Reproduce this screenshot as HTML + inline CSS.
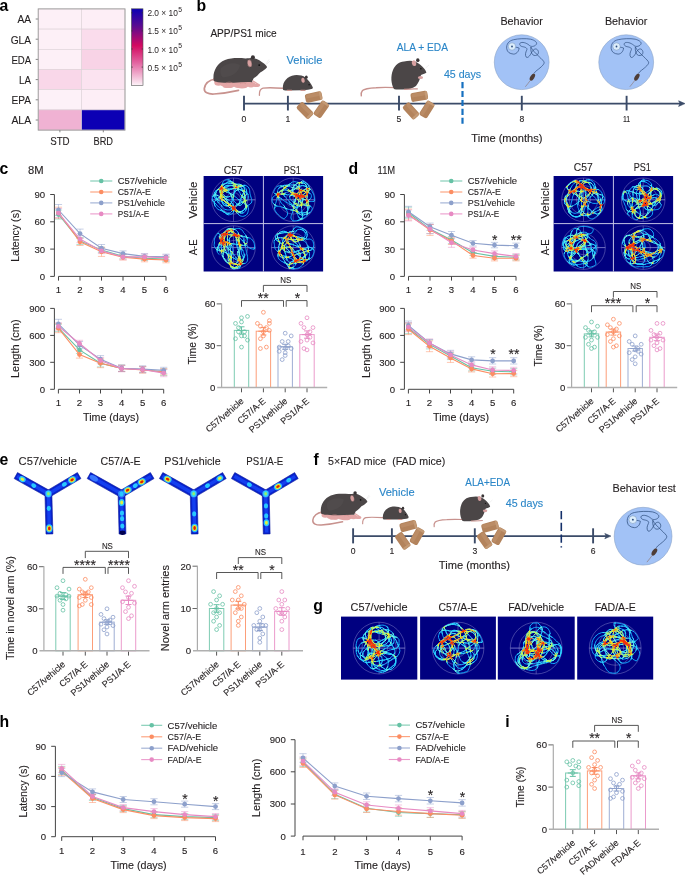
<!DOCTYPE html>
<html><head><meta charset="utf-8"><style>
html,body{margin:0;padding:0;background:#fff;overflow:hidden;}
svg{display:block;will-change:transform;}
text{font-family:"Liberation Sans", sans-serif;}
</style></head><body>
<svg width="685" height="877" viewBox="0 0 685 877">
<rect width="685" height="877" fill="#fff"/>
<text x="-0.4" y="10.8" font-size="15.8" font-weight="bold" fill="#000">a</text>
<rect x="38.2" y="8.9" width="43.4" height="20.2" fill="#fdf0f7" stroke="#ddd2d8" stroke-width="0.6"/>
<rect x="81.6" y="8.9" width="43.4" height="20.2" fill="#fdeef6" stroke="#ddd2d8" stroke-width="0.6"/>
<line x1="35.7" y1="19.0" x2="38.2" y2="19.0" stroke="#777" stroke-width="0.9"/>
<text x="31.1" y="23.3" font-size="11" text-anchor="end" textLength="13.6" lengthAdjust="spacingAndGlyphs" fill="#231f20" stroke="#231f20" stroke-width="0.12">AA</text>
<rect x="38.2" y="29.1" width="43.4" height="20.2" fill="#fdf0f7" stroke="#ddd2d8" stroke-width="0.6"/>
<rect x="81.6" y="29.1" width="43.4" height="20.2" fill="#fadcec" stroke="#ddd2d8" stroke-width="0.6"/>
<line x1="35.7" y1="39.2" x2="38.2" y2="39.2" stroke="#777" stroke-width="0.9"/>
<text x="31.1" y="43.5" font-size="11" text-anchor="end" textLength="20.4" lengthAdjust="spacingAndGlyphs" fill="#231f20" stroke="#231f20" stroke-width="0.12">GLA</text>
<rect x="38.2" y="49.3" width="43.4" height="20.2" fill="#fdf0f7" stroke="#ddd2d8" stroke-width="0.6"/>
<rect x="81.6" y="49.3" width="43.4" height="20.2" fill="#f8d3e6" stroke="#ddd2d8" stroke-width="0.6"/>
<line x1="35.7" y1="59.4" x2="38.2" y2="59.4" stroke="#777" stroke-width="0.9"/>
<text x="31.1" y="63.7" font-size="11" text-anchor="end" textLength="19.7" lengthAdjust="spacingAndGlyphs" fill="#231f20" stroke="#231f20" stroke-width="0.12">EDA</text>
<rect x="38.2" y="69.5" width="43.4" height="20.2" fill="#f9d7e9" stroke="#ddd2d8" stroke-width="0.6"/>
<rect x="81.6" y="69.5" width="43.4" height="20.2" fill="#fbe3f0" stroke="#ddd2d8" stroke-width="0.6"/>
<line x1="35.7" y1="79.6" x2="38.2" y2="79.6" stroke="#777" stroke-width="0.9"/>
<text x="31.1" y="83.9" font-size="11" text-anchor="end" textLength="12.0" lengthAdjust="spacingAndGlyphs" fill="#231f20" stroke="#231f20" stroke-width="0.12">LA</text>
<rect x="38.2" y="89.7" width="43.4" height="20.2" fill="#fdf1f8" stroke="#ddd2d8" stroke-width="0.6"/>
<rect x="81.6" y="89.7" width="43.4" height="20.2" fill="#fdeef6" stroke="#ddd2d8" stroke-width="0.6"/>
<line x1="35.7" y1="99.8" x2="38.2" y2="99.8" stroke="#777" stroke-width="0.9"/>
<text x="31.1" y="104.1" font-size="11" text-anchor="end" textLength="19.5" lengthAdjust="spacingAndGlyphs" fill="#231f20" stroke="#231f20" stroke-width="0.12">EPA</text>
<rect x="38.2" y="109.9" width="43.4" height="20.2" fill="#f0b2d3" stroke="#ddd2d8" stroke-width="0.6"/>
<rect x="81.6" y="109.9" width="43.4" height="20.2" fill="#0c00b4" stroke="#ddd2d8" stroke-width="0.6"/>
<line x1="35.7" y1="120.0" x2="38.2" y2="120.0" stroke="#777" stroke-width="0.9"/>
<text x="31.1" y="124.3" font-size="11" text-anchor="end" textLength="19.7" lengthAdjust="spacingAndGlyphs" fill="#231f20" stroke="#231f20" stroke-width="0.12">ALA</text>
<rect x="38.2" y="8.9" width="86.8" height="121.2" fill="none" stroke="#9a9a9a" stroke-width="0.9"/>
<line x1="59.9" y1="130.1" x2="59.9" y2="132.3" stroke="#777" stroke-width="0.9"/>
<text x="59.9" y="145.2" font-size="11" text-anchor="middle" textLength="19.5" lengthAdjust="spacingAndGlyphs" fill="#231f20" stroke="#231f20" stroke-width="0.12">STD</text>
<line x1="103.3" y1="130.1" x2="103.3" y2="132.3" stroke="#777" stroke-width="0.9"/>
<text x="103.3" y="145.2" font-size="11" text-anchor="middle" textLength="19.5" lengthAdjust="spacingAndGlyphs" fill="#231f20" stroke="#231f20" stroke-width="0.12">BRD</text>
<defs><linearGradient id="cb" x1="0" y1="0" x2="0" y2="1"><stop offset="0" stop-color="#0c00b4"/><stop offset="0.22" stop-color="#580a92"/><stop offset="0.48" stop-color="#d20a60"/><stop offset="0.7" stop-color="#e2629f"/><stop offset="1" stop-color="#fdf2f8"/></linearGradient></defs>
<rect x="131.4" y="8.8" width="11.6" height="76.5" fill="url(#cb)" stroke="#555" stroke-width="0.6"/>
<line x1="131.4" y1="12.8" x2="132.8" y2="12.8" stroke="#333" stroke-width="0.7"/>
<line x1="141.6" y1="12.8" x2="143.0" y2="12.8" stroke="#333" stroke-width="0.7"/>
<text x="147.4" y="16.3" font-size="9.6" fill="#231f20" textLength="30.5" lengthAdjust="spacingAndGlyphs">2.0 × 10</text>
<text x="178.3" y="12.2" font-size="6.8" fill="#231f20">5</text>
<line x1="131.4" y1="30.9" x2="132.8" y2="30.9" stroke="#333" stroke-width="0.7"/>
<line x1="141.6" y1="30.9" x2="143.0" y2="30.9" stroke="#333" stroke-width="0.7"/>
<text x="147.4" y="34.4" font-size="9.6" fill="#231f20" textLength="30.5" lengthAdjust="spacingAndGlyphs">1.5 × 10</text>
<text x="178.3" y="30.3" font-size="6.8" fill="#231f20">5</text>
<line x1="131.4" y1="49.0" x2="132.8" y2="49.0" stroke="#333" stroke-width="0.7"/>
<line x1="141.6" y1="49.0" x2="143.0" y2="49.0" stroke="#333" stroke-width="0.7"/>
<text x="147.4" y="52.5" font-size="9.6" fill="#231f20" textLength="30.5" lengthAdjust="spacingAndGlyphs">1.0 × 10</text>
<text x="178.3" y="48.4" font-size="6.8" fill="#231f20">5</text>
<line x1="131.4" y1="67.1" x2="132.8" y2="67.1" stroke="#333" stroke-width="0.7"/>
<line x1="141.6" y1="67.1" x2="143.0" y2="67.1" stroke="#333" stroke-width="0.7"/>
<text x="147.4" y="70.6" font-size="9.6" fill="#231f20" textLength="30.5" lengthAdjust="spacingAndGlyphs">0.5 × 10</text>
<text x="178.3" y="66.5" font-size="6.8" fill="#231f20">5</text>
<text x="196.5" y="11.1" font-size="15.8" font-weight="bold" fill="#000">b</text>
<text x="210.4" y="37.3" font-size="10.2" textLength="66.2" lengthAdjust="spacingAndGlyphs" fill="#231f20" stroke="#231f20" stroke-width="0.12">APP/PS1 mice</text>
<line x1="244.0" y1="103.6" x2="681.0" y2="103.6" stroke="#3b4b68" stroke-width="1.75"/>
<polygon points="685,103.6 678.6,100.8 680,103.6 678.6,106.39999999999999" fill="#3b4b68" stroke="#3b4b68" stroke-width="0.6" stroke-linejoin="round"/>
<line x1="244.0" y1="95.8" x2="244.0" y2="110.5" stroke="#3b4b68" stroke-width="1.9"/>
<text x="244.0" y="121.6" font-size="8.6" text-anchor="middle" fill="#231f20" stroke="#231f20" stroke-width="0.12">0</text>
<line x1="287.9" y1="95.8" x2="287.9" y2="110.5" stroke="#3b4b68" stroke-width="1.9"/>
<text x="287.9" y="121.6" font-size="8.6" text-anchor="middle" fill="#231f20" stroke="#231f20" stroke-width="0.12">1</text>
<line x1="399.0" y1="95.8" x2="399.0" y2="110.5" stroke="#3b4b68" stroke-width="1.9"/>
<text x="399.0" y="121.6" font-size="8.6" text-anchor="middle" fill="#231f20" stroke="#231f20" stroke-width="0.12">5</text>
<line x1="521.8" y1="95.8" x2="521.8" y2="110.5" stroke="#3b4b68" stroke-width="1.9"/>
<text x="521.8" y="121.6" font-size="8.6" text-anchor="middle" fill="#231f20" stroke="#231f20" stroke-width="0.12">8</text>
<line x1="626.6" y1="95.8" x2="626.6" y2="110.5" stroke="#3b4b68" stroke-width="1.9"/>
<text x="626.6" y="121.6" font-size="8.6" text-anchor="middle" textLength="7.2" lengthAdjust="spacingAndGlyphs" fill="#231f20" stroke="#231f20" stroke-width="0.12">11</text>
<text x="471.3" y="141.5" font-size="10.2" textLength="71.2" lengthAdjust="spacingAndGlyphs" fill="#231f20" stroke="#231f20" stroke-width="0.12">Time (months)</text>
<path d="M215.5,79 C209,80 205,84 204.3,88.5 C204,92.5 208,94.3 214,94 C222,93.5 230,92.2 238.5,90.3" fill="none" stroke="#c8928e" stroke-width="1.7" stroke-linecap="round"/><ellipse cx="218.5" cy="82.5" rx="4.2" ry="3.2" fill="#e3a6a6"/><ellipse cx="224.5" cy="83.3" rx="4.6" ry="3.6" fill="#e3a6a6"/><ellipse cx="231" cy="84" rx="4.8" ry="3.6" fill="#e3a6a6"/><ellipse cx="238" cy="84.6" rx="5" ry="3.4" fill="#e3a6a6"/><ellipse cx="245" cy="84.2" rx="4.8" ry="3.4" fill="#e3a6a6"/><ellipse cx="251" cy="84.6" rx="4.2" ry="2.8" fill="#e3a6a6"/><ellipse cx="256.5" cy="85.3" rx="3.6" ry="1.8" fill="#e3a6a6"/><ellipse cx="216" cy="79.5" rx="3" ry="2" fill="#e3a6a6"/><ellipse cx="228" cy="86.5" rx="5" ry="1.5" fill="#e3a6a6"/><ellipse cx="242" cy="87" rx="5" ry="1.4" fill="#e3a6a6"/><path d="M213.6,80 C212.6,72 216.5,63.5 225,60 C231,57.6 239,57.8 245.5,58.4 C249,58.4 251,57.9 253,58.1 C257,58.6 261,61.1 264,63.6 C265.8,65.1 267.3,66.6 266.9,67.5 C265,69.6 262.6,71.2 260.2,72.4 C258.3,74.8 255.6,77 253.5,78.6 L252,82.2 C246,81.8 240,82.5 234,82.8 C228,83 222,82.5 218,82.2 C215.3,81.8 213.7,81.2 213.6,80 Z" fill="#4b4647"/><path d="M221,68 C226,63 235,62 240,65 C239,72 232,77 223,77.5 C220,75 220,71 221,68 Z" fill="#575152" opacity="0.45"/><ellipse cx="252.9" cy="57.3" rx="2" ry="2" fill="#3a3536"/><ellipse cx="249.6" cy="63.4" rx="2.4" ry="3.8" fill="#d8a0a0" stroke="#3e393a" stroke-width="0.5" transform="rotate(-12 249.6 63.4)"/><circle cx="259.2" cy="65.1" r="0.95" fill="#111"/><path d="M266,64 L269,59.5 M266.5,64.5 L270,61" stroke="#d8d8d8" stroke-width="0.4"/><path d="M226,83 C228,81.8 231,81.8 232.5,83 M240,83.5 C242,82.5 245,82.6 246,84" stroke="#c98686" stroke-width="0.5" fill="none"/><path d="M253,81 L258.5,84.5" stroke="#e3a6a6" stroke-width="1.4" stroke-linecap="round"/>
<path d="M283.5,88.3 C276,87.8 268,87.2 263,88.2 C260,89 259.2,91.5 259.4,95.3" fill="none" stroke="#c8928e" stroke-width="1.3" stroke-linecap="round"/><path d="M283,89.5 C282,84 285,78 292,75.7 C297,74.4 302,75.4 305.5,77.4 C308.2,79.5 311,83.4 312.9,87.4 L312.4,88.8 C310,89.5 306,90 303,90.3 L287,90.5 C284.5,90.5 283,90.2 283,89.5 Z" fill="#4b4647"/><ellipse cx="306.3" cy="77.2" rx="1.4" ry="1.6" fill="#3a3536"/><ellipse cx="303" cy="80.3" rx="1.7" ry="2.5" fill="#d8a0a0" transform="rotate(-12 303 80.3)"/><circle cx="309.1" cy="84.8" r="0.7" fill="#111"/><path d="M287,90.4 h5 M300.5,90.4 h5" stroke="#c8928e" stroke-width="1.1"/>
<path d="M395,87.6 C388,87.3 381,87.3 376,87.7 C370,88 364.5,88.6 362.5,90.5 C361.2,92 361,94 361.3,95.8" fill="none" stroke="#c8928e" stroke-width="1.4" stroke-linecap="round"/><path d="M394,89 C391,84 390.5,76 393,70 C395,65 399,62 404,61.5 C408,60.5 412,60.5 415,61.5 C419,63 422,66 424.5,69 C425.5,70.5 426.5,72 426.3,72.8 C424.5,74 422.5,74.5 421,75 C420,79 418.5,83 416,86 C413,88.5 408,89.5 403,89.5 L396,89.5 C395,89.5 394.3,89.3 394,89 Z" fill="#4b4647"/><ellipse cx="417.8" cy="60.2" rx="1.7" ry="1.9" fill="#3a3536"/><ellipse cx="414" cy="63.2" rx="2.1" ry="2.9" fill="#d8a0a0" transform="rotate(-15 414 63.2)"/><circle cx="420.9" cy="68.8" r="0.75" fill="#111"/><ellipse cx="420.5" cy="77.5" rx="2.6" ry="1.6" fill="#d9a3a3"/><path d="M404,89.3 C408,89.3 413,89 417.8,88.8" stroke="#c8928e" stroke-width="1.2" fill="none"/><path d="M425.5,68 L429,65" stroke="#d8d8d8" stroke-width="0.4"/>
<text x="286.4" y="63.6" font-size="11.2" textLength="36.0" lengthAdjust="spacingAndGlyphs" fill="#2a86c8" stroke="#2a86c8" stroke-width="0.12">Vehicle</text>
<text x="396.8" y="51.2" font-size="11.2" textLength="51.2" lengthAdjust="spacingAndGlyphs" fill="#2a86c8" stroke="#2a86c8" stroke-width="0.12">ALA + EDA</text>
<text x="443.9" y="77.5" font-size="10.8" textLength="37.3" lengthAdjust="spacingAndGlyphs" fill="#2a86c8" stroke="#2a86c8" stroke-width="0.12">45 days</text>
<line x1="462.5" y1="82.1" x2="462.5" y2="123.8" stroke="#1670c0" stroke-width="2.2" stroke-dasharray="6.1,2.8"/>
<circle cx="521.7" cy="62.2" r="27.4" fill="#a2c2f6" stroke="#8aa2c8" stroke-width="0.6"/>
<g transform="translate(521.7,62.2) scale(1.000)">
<path d="M-9.7,-15.7 C-6,-15 -3,-14.5 -2.6,-14.2 C-3,-10 -6,-8 -8.2,-8.1 C-12,-8.5 -14.5,-10 -15,-13.5 C-15.5,-18 -13,-21.5 -8,-22.5 C-4,-23.5 4,-24 9,-23 C13,-22 15.5,-20 14.8,-18.3 C14,-16 10,-15 8,-16.5 C6,-18.5 2,-20.5 -1,-19.5 C-3,-18.5 -2,-16 1,-15.5 C4,-15 6,-14 5,-12 C4,-10 3,-7 4.6,-5 C6,-4 8,-6 9.5,-9 C11,-12 13,-14 15,-13 C17.5,-11.5 17,-8 15.3,-7.2 C13.5,-6.2 11,-6.5 10,-9 C9,-11 9,-14 9.2,-15.2 C10.5,-12 14,-9 17,-6 C20,-3 22.5,-1 22.5,0.6 C22,3 18,6 13.8,9.3 L12.5,11" fill="none" stroke="#2c4c7c" stroke-width="0.7"/>
<circle cx="-9.7" cy="-15.7" r="3.7" fill="#dcedfb" stroke="#7090b8" stroke-width="0.5"/>
<circle cx="-9.7" cy="-15.7" r="0.9" fill="#2c4c7c"/>
<ellipse cx="10.7" cy="14.9" rx="2" ry="3.9" fill="#4e3d37" transform="rotate(32 10.7 14.9)"/>
<path d="M8.6,18.2 C7,20.5 5.2,22.6 3.6,24.6" stroke="#8a6a60" stroke-width="0.55" fill="none"/>
</g>
<text x="521.7" y="25.0" font-size="10.6" text-anchor="middle" textLength="42.5" lengthAdjust="spacingAndGlyphs" fill="#231f20" stroke="#231f20" stroke-width="0.12">Behavior</text>
<circle cx="626.2" cy="62.2" r="27.4" fill="#a2c2f6" stroke="#8aa2c8" stroke-width="0.6"/>
<g transform="translate(626.2,62.2) scale(1.000)">
<path d="M-9.7,-15.7 C-6,-15 -3,-14.5 -2.6,-14.2 C-3,-10 -6,-8 -8.2,-8.1 C-12,-8.5 -14.5,-10 -15,-13.5 C-15.5,-18 -13,-21.5 -8,-22.5 C-4,-23.5 4,-24 9,-23 C13,-22 15.5,-20 14.8,-18.3 C14,-16 10,-15 8,-16.5 C6,-18.5 2,-20.5 -1,-19.5 C-3,-18.5 -2,-16 1,-15.5 C4,-15 6,-14 5,-12 C4,-10 3,-7 4.6,-5 C6,-4 8,-6 9.5,-9 C11,-12 13,-14 15,-13 C17.5,-11.5 17,-8 15.3,-7.2 C13.5,-6.2 11,-6.5 10,-9 C9,-11 9,-14 9.2,-15.2 C10.5,-12 14,-9 17,-6 C20,-3 22.5,-1 22.5,0.6 C22,3 18,6 13.8,9.3 L12.5,11" fill="none" stroke="#2c4c7c" stroke-width="0.7"/>
<circle cx="-9.7" cy="-15.7" r="3.7" fill="#dcedfb" stroke="#7090b8" stroke-width="0.5"/>
<circle cx="-9.7" cy="-15.7" r="0.9" fill="#2c4c7c"/>
<ellipse cx="10.7" cy="14.9" rx="2" ry="3.9" fill="#4e3d37" transform="rotate(32 10.7 14.9)"/>
<path d="M8.6,18.2 C7,20.5 5.2,22.6 3.6,24.6" stroke="#8a6a60" stroke-width="0.55" fill="none"/>
</g>
<text x="626.2" y="25.0" font-size="10.6" text-anchor="middle" textLength="42.5" lengthAdjust="spacingAndGlyphs" fill="#231f20" stroke="#231f20" stroke-width="0.12">Behavior</text>
<g transform="translate(313.7,97.0) rotate(-12)"><rect x="-8.5" y="-4.5" width="17.0" height="9.0" rx="2.2" fill="#b3835c"/><rect x="-7.5" y="-3.7" width="14.0" height="3.7" rx="1.5" fill="#c0926c" opacity="0.6"/><rect x="5.9" y="-4.2" width="2.2" height="8.4" rx="1.1" fill="#c8a07c" opacity="0.8"/></g>
<g transform="translate(305.0,110.5) rotate(45)"><rect x="-8.5" y="-4.5" width="17.0" height="9.0" rx="2.2" fill="#b3835c"/><rect x="-7.5" y="-3.7" width="14.0" height="3.7" rx="1.5" fill="#c0926c" opacity="0.6"/><rect x="5.9" y="-4.2" width="2.2" height="8.4" rx="1.1" fill="#c8a07c" opacity="0.8"/></g>
<g transform="translate(321.4,109.3) rotate(-55)"><rect x="-8.5" y="-4.5" width="17.0" height="9.0" rx="2.2" fill="#b3835c"/><rect x="-7.5" y="-3.7" width="14.0" height="3.7" rx="1.5" fill="#c0926c" opacity="0.6"/><rect x="5.9" y="-4.2" width="2.2" height="8.4" rx="1.1" fill="#c8a07c" opacity="0.8"/></g>
<g transform="translate(419.3,96.3) rotate(-10)"><rect x="-8.5" y="-4.5" width="17.0" height="9.0" rx="2.2" fill="#b3835c"/><rect x="-7.5" y="-3.7" width="14.0" height="3.7" rx="1.5" fill="#c0926c" opacity="0.6"/><rect x="5.9" y="-4.2" width="2.2" height="8.4" rx="1.1" fill="#c8a07c" opacity="0.8"/></g>
<g transform="translate(411.0,110.9) rotate(48)"><rect x="-8.5" y="-4.5" width="17.0" height="9.0" rx="2.2" fill="#b3835c"/><rect x="-7.5" y="-3.7" width="14.0" height="3.7" rx="1.5" fill="#c0926c" opacity="0.6"/><rect x="5.9" y="-4.2" width="2.2" height="8.4" rx="1.1" fill="#c8a07c" opacity="0.8"/></g>
<g transform="translate(427.0,109.4) rotate(-58)"><rect x="-8.5" y="-4.5" width="17.0" height="9.0" rx="2.2" fill="#b3835c"/><rect x="-7.5" y="-3.7" width="14.0" height="3.7" rx="1.5" fill="#c0926c" opacity="0.6"/><rect x="5.9" y="-4.2" width="2.2" height="8.4" rx="1.1" fill="#c8a07c" opacity="0.8"/></g>
<text x="-0.6" y="174.3" font-size="15.8" font-weight="bold" fill="#000">c</text>
<text x="28.0" y="174.1" font-size="11" textLength="15.6" lengthAdjust="spacingAndGlyphs" fill="#231f20" stroke="#231f20" stroke-width="0.12">8M</text>
<line x1="54.4" y1="194.5" x2="54.4" y2="276.4" stroke="#444444" stroke-width="1"/>
<line x1="50.2" y1="276.4" x2="54.4" y2="276.4" stroke="#444444" stroke-width="1"/>
<text x="45.2" y="279.8" font-size="9.6" text-anchor="end" fill="#231f20" stroke="#231f20" stroke-width="0.12">0</text>
<line x1="50.2" y1="249.1" x2="54.4" y2="249.1" stroke="#444444" stroke-width="1"/>
<text x="45.2" y="252.5" font-size="9.6" text-anchor="end" fill="#231f20" stroke="#231f20" stroke-width="0.12">30</text>
<line x1="50.2" y1="221.8" x2="54.4" y2="221.8" stroke="#444444" stroke-width="1"/>
<text x="45.2" y="225.2" font-size="9.6" text-anchor="end" fill="#231f20" stroke="#231f20" stroke-width="0.12">60</text>
<line x1="50.2" y1="194.5" x2="54.4" y2="194.5" stroke="#444444" stroke-width="1"/>
<text x="45.2" y="197.9" font-size="9.6" text-anchor="end" fill="#231f20" stroke="#231f20" stroke-width="0.12">90</text>
<line x1="58.5" y1="276.4" x2="166.0" y2="276.4" stroke="#444444" stroke-width="1"/>
<line x1="58.5" y1="276.4" x2="58.5" y2="280.6" stroke="#444444" stroke-width="1"/>
<text x="58.5" y="293.0" font-size="9.6" text-anchor="middle" fill="#231f20" stroke="#231f20" stroke-width="0.12">1</text>
<line x1="80.0" y1="276.4" x2="80.0" y2="280.6" stroke="#444444" stroke-width="1"/>
<text x="80.0" y="293.0" font-size="9.6" text-anchor="middle" fill="#231f20" stroke="#231f20" stroke-width="0.12">2</text>
<line x1="101.5" y1="276.4" x2="101.5" y2="280.6" stroke="#444444" stroke-width="1"/>
<text x="101.5" y="293.0" font-size="9.6" text-anchor="middle" fill="#231f20" stroke="#231f20" stroke-width="0.12">3</text>
<line x1="123.0" y1="276.4" x2="123.0" y2="280.6" stroke="#444444" stroke-width="1"/>
<text x="123.0" y="293.0" font-size="9.6" text-anchor="middle" fill="#231f20" stroke="#231f20" stroke-width="0.12">4</text>
<line x1="144.5" y1="276.4" x2="144.5" y2="280.6" stroke="#444444" stroke-width="1"/>
<text x="144.5" y="293.0" font-size="9.6" text-anchor="middle" fill="#231f20" stroke="#231f20" stroke-width="0.12">5</text>
<line x1="166.0" y1="276.4" x2="166.0" y2="280.6" stroke="#444444" stroke-width="1"/>
<text x="166.0" y="293.0" font-size="9.6" text-anchor="middle" fill="#231f20" stroke="#231f20" stroke-width="0.12">6</text>
<text x="19.4" y="235.7" font-size="11.2" text-anchor="middle" textLength="52.3" lengthAdjust="spacingAndGlyphs" transform="rotate(-90 19.4 235.7)" fill="#231f20" stroke="#231f20" stroke-width="0.12">Latency (s)</text>
<path d="M58.5,219.1V210.0M54.9,219.1h7.2M54.9,210.0h7.2M80.0,244.5V237.3M76.4,244.5h7.2M76.4,237.3h7.2M101.5,252.7V247.3M97.9,252.7h7.2M97.9,247.3h7.2M123.0,258.7V254.1M119.4,258.7h7.2M119.4,254.1h7.2M144.5,260.5V255.9M140.9,260.5h7.2M140.9,255.9h7.2M166.0,261.4V256.8M162.4,261.4h7.2M162.4,256.8h7.2" fill="none" stroke="#66c2a5" stroke-width="0.9" stroke-opacity="0.55"/>
<path d="M58.5,218.2V207.2M54.9,218.2h7.2M54.9,207.2h7.2M80.0,245.5V238.2M76.4,245.5h7.2M76.4,238.2h7.2M101.5,256.4V247.3M97.9,256.4h7.2M97.9,247.3h7.2M123.0,260.0V254.6M119.4,260.0h7.2M119.4,254.6h7.2M144.5,261.8V256.4M140.9,261.8h7.2M140.9,256.4h7.2M166.0,262.8V257.3M162.4,262.8h7.2M162.4,257.3h7.2" fill="none" stroke="#fc8d62" stroke-width="0.9" stroke-opacity="0.55"/>
<path d="M58.5,215.4V204.5M54.9,215.4h7.2M54.9,204.5h7.2M80.0,238.2V229.1M76.4,238.2h7.2M76.4,229.1h7.2M101.5,251.8V244.5M97.9,251.8h7.2M97.9,244.5h7.2M123.0,256.4V250.9M119.4,256.4h7.2M119.4,250.9h7.2M144.5,259.1V253.6M140.9,259.1h7.2M140.9,253.6h7.2M166.0,259.7V254.2M162.4,259.7h7.2M162.4,254.2h7.2" fill="none" stroke="#8da0cb" stroke-width="0.9" stroke-opacity="0.55"/>
<path d="M58.5,217.6V208.5M54.9,217.6h7.2M54.9,208.5h7.2M80.0,242.7V235.4M76.4,242.7h7.2M76.4,235.4h7.2M101.5,253.6V248.2M97.9,253.6h7.2M97.9,248.2h7.2M123.0,259.7V254.2M119.4,259.7h7.2M119.4,254.2h7.2M144.5,259.7V254.2M140.9,259.7h7.2M140.9,254.2h7.2M166.0,260.6V255.1M162.4,260.6h7.2M162.4,255.1h7.2" fill="none" stroke="#e78ac3" stroke-width="0.9" stroke-opacity="0.55"/>
<polyline points="58.5,214.5 80.0,240.9 101.5,250.0 123.0,256.4 144.5,258.2 166.0,259.1" fill="none" stroke="#66c2a5" stroke-width="1.1"/>
<circle cx="58.5" cy="214.5" r="2.4" fill="#66c2a5"/>
<circle cx="80.0" cy="240.9" r="2.4" fill="#66c2a5"/>
<circle cx="101.5" cy="250.0" r="2.4" fill="#66c2a5"/>
<circle cx="123.0" cy="256.4" r="2.4" fill="#66c2a5"/>
<circle cx="144.5" cy="258.2" r="2.4" fill="#66c2a5"/>
<circle cx="166.0" cy="259.1" r="2.4" fill="#66c2a5"/>
<polyline points="58.5,212.7 80.0,241.8 101.5,251.8 123.0,257.3 144.5,259.1 166.0,260.0" fill="none" stroke="#fc8d62" stroke-width="1.1"/>
<circle cx="58.5" cy="212.7" r="2.4" fill="#fc8d62"/>
<circle cx="80.0" cy="241.8" r="2.4" fill="#fc8d62"/>
<circle cx="101.5" cy="251.8" r="2.4" fill="#fc8d62"/>
<circle cx="123.0" cy="257.3" r="2.4" fill="#fc8d62"/>
<circle cx="144.5" cy="259.1" r="2.4" fill="#fc8d62"/>
<circle cx="166.0" cy="260.0" r="2.4" fill="#fc8d62"/>
<polyline points="58.5,210.0 80.0,233.6 101.5,248.2 123.0,253.6 144.5,256.4 166.0,256.9" fill="none" stroke="#8da0cb" stroke-width="1.1"/>
<circle cx="58.5" cy="210.0" r="2.4" fill="#8da0cb"/>
<circle cx="80.0" cy="233.6" r="2.4" fill="#8da0cb"/>
<circle cx="101.5" cy="248.2" r="2.4" fill="#8da0cb"/>
<circle cx="123.0" cy="253.6" r="2.4" fill="#8da0cb"/>
<circle cx="144.5" cy="256.4" r="2.4" fill="#8da0cb"/>
<circle cx="166.0" cy="256.9" r="2.4" fill="#8da0cb"/>
<polyline points="58.5,213.1 80.0,239.1 101.5,250.9 123.0,256.9 144.5,256.9 166.0,257.8" fill="none" stroke="#e78ac3" stroke-width="1.1"/>
<circle cx="58.5" cy="213.1" r="2.4" fill="#e78ac3"/>
<circle cx="80.0" cy="239.1" r="2.4" fill="#e78ac3"/>
<circle cx="101.5" cy="250.9" r="2.4" fill="#e78ac3"/>
<circle cx="123.0" cy="256.9" r="2.4" fill="#e78ac3"/>
<circle cx="144.5" cy="256.9" r="2.4" fill="#e78ac3"/>
<circle cx="166.0" cy="257.8" r="2.4" fill="#e78ac3"/>
<line x1="90.2" y1="181.0" x2="112.3" y2="181.0" stroke="#66c2a5" stroke-width="1.1" stroke-opacity="0.85"/>
<circle cx="101.2" cy="181.0" r="2.3" fill="#66c2a5"/>
<text x="117.7" y="184.2" font-size="9.3" textLength="49.3" lengthAdjust="spacingAndGlyphs" fill="#231f20" stroke="#231f20" stroke-width="0.12">C57/vehicle</text>
<line x1="90.2" y1="192.0" x2="112.3" y2="192.0" stroke="#fc8d62" stroke-width="1.1" stroke-opacity="0.85"/>
<circle cx="101.2" cy="192.0" r="2.3" fill="#fc8d62"/>
<text x="117.7" y="195.2" font-size="9.3" textLength="33.2" lengthAdjust="spacingAndGlyphs" fill="#231f20" stroke="#231f20" stroke-width="0.12">C57/A-E</text>
<line x1="90.2" y1="202.9" x2="112.3" y2="202.9" stroke="#8da0cb" stroke-width="1.1" stroke-opacity="0.85"/>
<circle cx="101.2" cy="202.9" r="2.3" fill="#8da0cb"/>
<text x="117.7" y="206.1" font-size="9.3" textLength="47.3" lengthAdjust="spacingAndGlyphs" fill="#231f20" stroke="#231f20" stroke-width="0.12">PS1/vehicle</text>
<line x1="90.2" y1="213.9" x2="112.3" y2="213.9" stroke="#e78ac3" stroke-width="1.1" stroke-opacity="0.85"/>
<circle cx="101.2" cy="213.9" r="2.3" fill="#e78ac3"/>
<text x="117.7" y="217.1" font-size="9.3" textLength="31.4" lengthAdjust="spacingAndGlyphs" fill="#231f20" stroke="#231f20" stroke-width="0.12">PS1/A-E</text>
<line x1="54.4" y1="308.4" x2="54.4" y2="389.3" stroke="#444444" stroke-width="1"/>
<line x1="50.2" y1="389.3" x2="54.4" y2="389.3" stroke="#444444" stroke-width="1"/>
<text x="45.2" y="392.7" font-size="9.6" text-anchor="end" fill="#231f20" stroke="#231f20" stroke-width="0.12">0</text>
<line x1="50.2" y1="362.3" x2="54.4" y2="362.3" stroke="#444444" stroke-width="1"/>
<text x="45.2" y="365.7" font-size="9.6" text-anchor="end" fill="#231f20" stroke="#231f20" stroke-width="0.12">300</text>
<line x1="50.2" y1="335.4" x2="54.4" y2="335.4" stroke="#444444" stroke-width="1"/>
<text x="45.2" y="338.8" font-size="9.6" text-anchor="end" fill="#231f20" stroke="#231f20" stroke-width="0.12">600</text>
<line x1="50.2" y1="308.4" x2="54.4" y2="308.4" stroke="#444444" stroke-width="1"/>
<text x="45.2" y="311.8" font-size="9.6" text-anchor="end" fill="#231f20" stroke="#231f20" stroke-width="0.12">900</text>
<line x1="58.4" y1="389.3" x2="163.7" y2="389.3" stroke="#444444" stroke-width="1"/>
<line x1="58.4" y1="389.3" x2="58.4" y2="393.5" stroke="#444444" stroke-width="1"/>
<text x="58.4" y="406.3" font-size="9.6" text-anchor="middle" fill="#231f20" stroke="#231f20" stroke-width="0.12">1</text>
<line x1="79.5" y1="389.3" x2="79.5" y2="393.5" stroke="#444444" stroke-width="1"/>
<text x="79.5" y="406.3" font-size="9.6" text-anchor="middle" fill="#231f20" stroke="#231f20" stroke-width="0.12">2</text>
<line x1="100.5" y1="389.3" x2="100.5" y2="393.5" stroke="#444444" stroke-width="1"/>
<text x="100.5" y="406.3" font-size="9.6" text-anchor="middle" fill="#231f20" stroke="#231f20" stroke-width="0.12">3</text>
<line x1="121.6" y1="389.3" x2="121.6" y2="393.5" stroke="#444444" stroke-width="1"/>
<text x="121.6" y="406.3" font-size="9.6" text-anchor="middle" fill="#231f20" stroke="#231f20" stroke-width="0.12">4</text>
<line x1="142.6" y1="389.3" x2="142.6" y2="393.5" stroke="#444444" stroke-width="1"/>
<text x="142.6" y="406.3" font-size="9.6" text-anchor="middle" fill="#231f20" stroke="#231f20" stroke-width="0.12">5</text>
<line x1="163.7" y1="389.3" x2="163.7" y2="393.5" stroke="#444444" stroke-width="1"/>
<text x="163.7" y="406.3" font-size="9.6" text-anchor="middle" fill="#231f20" stroke="#231f20" stroke-width="0.12">6</text>
<text x="111.0" y="421.2" font-size="10.6" text-anchor="middle" textLength="56.0" lengthAdjust="spacingAndGlyphs" fill="#231f20" stroke="#231f20" stroke-width="0.12">Time (days)</text>
<text x="19.4" y="348.7" font-size="11.2" text-anchor="middle" textLength="58.6" lengthAdjust="spacingAndGlyphs" transform="rotate(-90 19.4 348.7)" fill="#231f20" stroke="#231f20" stroke-width="0.12">Length (cm)</text>
<path d="M58.4,331.4V324.2M54.8,331.4h7.2M54.8,324.2h7.2M79.5,353.5V346.3M75.9,353.5h7.2M75.9,346.3h7.2M100.5,366.9V359.7M96.9,366.9h7.2M96.9,359.7h7.2M121.6,371.5V365.2M118.0,371.5h7.2M118.0,365.2h7.2M142.6,372.7V366.4M139.0,372.7h7.2M139.0,366.4h7.2M163.7,375.4V369.1M160.1,375.4h7.2M160.1,369.1h7.2" fill="none" stroke="#66c2a5" stroke-width="0.9" stroke-opacity="0.55"/>
<path d="M58.4,332.7V323.7M54.8,332.7h7.2M54.8,323.7h7.2M79.5,358.1V350.9M75.9,358.1h7.2M75.9,350.9h7.2M100.5,367.7V358.7M96.9,367.7h7.2M96.9,358.7h7.2M121.6,371.5V365.2M118.0,371.5h7.2M118.0,365.2h7.2M142.6,373.1V366.8M139.0,373.1h7.2M139.0,366.8h7.2M163.7,374.9V368.6M160.1,374.9h7.2M160.1,368.6h7.2" fill="none" stroke="#fc8d62" stroke-width="0.9" stroke-opacity="0.55"/>
<path d="M58.4,328.3V319.3M54.8,328.3h7.2M54.8,319.3h7.2M79.5,348.7V341.5M75.9,348.7h7.2M75.9,341.5h7.2M100.5,362.8V355.6M96.9,362.8h7.2M96.9,355.6h7.2M121.6,371.3V365.0M118.0,371.3h7.2M118.0,365.0h7.2M142.6,372.2V365.9M139.0,372.2h7.2M139.0,365.9h7.2M163.7,373.6V367.3M160.1,373.6h7.2M160.1,367.3h7.2" fill="none" stroke="#8da0cb" stroke-width="0.9" stroke-opacity="0.55"/>
<path d="M58.4,330.0V322.8M54.8,330.0h7.2M54.8,322.8h7.2M79.5,346.6V340.3M75.9,346.6h7.2M75.9,340.3h7.2M100.5,363.7V357.4M96.9,363.7h7.2M96.9,357.4h7.2M121.6,371.8V365.5M118.0,371.8h7.2M118.0,365.5h7.2M142.6,372.7V366.4M139.0,372.7h7.2M139.0,366.4h7.2M163.7,376.7V369.5M160.1,376.7h7.2M160.1,369.5h7.2" fill="none" stroke="#e78ac3" stroke-width="0.9" stroke-opacity="0.55"/>
<polyline points="58.4,327.8 79.5,349.9 100.5,363.3 121.6,368.4 142.6,369.5 163.7,372.2" fill="none" stroke="#66c2a5" stroke-width="1.1"/>
<circle cx="58.4" cy="327.8" r="2.4" fill="#66c2a5"/>
<circle cx="79.5" cy="349.9" r="2.4" fill="#66c2a5"/>
<circle cx="100.5" cy="363.3" r="2.4" fill="#66c2a5"/>
<circle cx="121.6" cy="368.4" r="2.4" fill="#66c2a5"/>
<circle cx="142.6" cy="369.5" r="2.4" fill="#66c2a5"/>
<circle cx="163.7" cy="372.2" r="2.4" fill="#66c2a5"/>
<polyline points="58.4,328.2 79.5,354.5 100.5,363.2 121.6,368.4 142.6,370.0 163.7,371.8" fill="none" stroke="#fc8d62" stroke-width="1.1"/>
<circle cx="58.4" cy="328.2" r="2.4" fill="#fc8d62"/>
<circle cx="79.5" cy="354.5" r="2.4" fill="#fc8d62"/>
<circle cx="100.5" cy="363.2" r="2.4" fill="#fc8d62"/>
<circle cx="121.6" cy="368.4" r="2.4" fill="#fc8d62"/>
<circle cx="142.6" cy="370.0" r="2.4" fill="#fc8d62"/>
<circle cx="163.7" cy="371.8" r="2.4" fill="#fc8d62"/>
<polyline points="58.4,323.8 79.5,345.1 100.5,359.2 121.6,368.2 142.6,369.1 163.7,370.4" fill="none" stroke="#8da0cb" stroke-width="1.1"/>
<circle cx="58.4" cy="323.8" r="2.4" fill="#8da0cb"/>
<circle cx="79.5" cy="345.1" r="2.4" fill="#8da0cb"/>
<circle cx="100.5" cy="359.2" r="2.4" fill="#8da0cb"/>
<circle cx="121.6" cy="368.2" r="2.4" fill="#8da0cb"/>
<circle cx="142.6" cy="369.1" r="2.4" fill="#8da0cb"/>
<circle cx="163.7" cy="370.4" r="2.4" fill="#8da0cb"/>
<polyline points="58.4,326.4 79.5,343.5 100.5,360.5 121.6,368.6 142.6,369.5 163.7,373.1" fill="none" stroke="#e78ac3" stroke-width="1.1"/>
<circle cx="58.4" cy="326.4" r="2.4" fill="#e78ac3"/>
<circle cx="79.5" cy="343.5" r="2.4" fill="#e78ac3"/>
<circle cx="100.5" cy="360.5" r="2.4" fill="#e78ac3"/>
<circle cx="121.6" cy="368.6" r="2.4" fill="#e78ac3"/>
<circle cx="142.6" cy="369.5" r="2.4" fill="#e78ac3"/>
<circle cx="163.7" cy="373.1" r="2.4" fill="#e78ac3"/>
<rect x="203.6" y="176.0" width="59.8" height="47.6" fill="#000080"/>
<circle cx="233.5" cy="199.8" r="21.8" fill="none" stroke="#8080c8" stroke-width="0.5"/>
<circle cx="233.5" cy="199.8" r="14.4" fill="none" stroke="#8080c8" stroke-width="0.5"/>
<circle cx="233.5" cy="199.8" r="7.2" fill="none" stroke="#8080c8" stroke-width="0.5"/>
<line x1="211.7" y1="199.8" x2="255.3" y2="199.8" stroke="#b8b8f0" stroke-width="0.6"/>
<line x1="233.5" y1="178.0" x2="233.5" y2="221.6" stroke="#8888d0" stroke-width="0.5"/>
<path d="M234.8,209l-1.3,.1 -1.2-.5 -1.2-.5 -1.3-.4 -1-.9 -1.1-.7 -.9-.9 -1-.9 -1.2-.6 -1.1-.6 -.9-1 -1-.7 -1.3-.4 -1.2-.4 -1.2-.7 -.9-.9 -.7-1.1 -.4-1.2 -.4-1.3 0-1.3 .4-1.2 .5-1.2 .6-1.2 .8-1.1 .9-.9 .9-.9 1.1-.8 1.3,.1 1.1,.7 1.1,.8 1,.8 1.2,.6 1,.8 .9,.9 .9,1 1,.9 1.2,.5 .9,.9 1.3,.4 .9,1 1,.8 1.1,.7 1,.9 .8,1 1.2,.4 1.1,.7 1.1,.8 1,.8 1.2,.5 1,.9 .4,1.2 .3,1.3 -.1,1.3 -.5,1.2 -.8,1.1 -1,.8 -1.1,.6 -1.3,.4 -1.3,.3 -1.3,0 -1.2-.3 -1.1-.8 -.9-.9 -.9-.9 -1-.9 -1-.9 -1-.8 -1-.8 -.9-1 -1.1-.7 -1.1-.6 -.9-1 -1-.9 -1-.8 -1-.8 -1.3-.4 -.8-1 -.8-1 -1-.9 -1.1-.7 -1.2-.6 -1.3-.3 -1.3,.1 -1.2,.5 -.6,.8 -.1,1.2 -.1,1.3 .1,1.3 .6,1.2 .9,1 .9,.9 1.1,.8 .8,1 .8,1 .9,.9 1.1,.7 1,.9 .8,1 1,.9 1.1,.6 .9,1 1,.8 1.3,.5 1.3,0 1.3-.1 1.1-.6 1-.9 .9-1 .6-1.2 .2-1.2 0-1.4 0-1.3 -.2-1.3 -.6-1.1 -1-.9 -.8-1 -1.1-.8 -1.1-.6 -1.2-.5 -1.1-.8 -1.1-.6 -1.2-.5 -1.3-.4 -1-.8 -.6-1.2 -.3-1.3 -.1-1.3 -.1-1.3 .3-1.3 .5-1.1 1.1-.8 1.2-.5 1.1-.7 .9-.9 1.3-.5 1.3-.1 1.3,.1 1.3,0 1.3,.2 1.2,.3 1.2,.6 1.2,.6 1.1,.6 .8,1.1 .4,1.2 .8,1 .9,1 .6,1.2 .5,1.2 .8,1 .8,1 .8,1.1 .8,1 .7,1.1 .4,1.2 .5,1.2 .3,1.3 .6,1.2 .8,1 .8,1.1 .4,1.2 .2,1.3 -.1,1.3 -.3,1.3 -.4,1.2 -.6,1.2 -.9,1 -1.1,.6 -1.2,.5 -1.3,.2 -1.3-.2 -1.3-.4 -1-.8 -.9-1 -.9-.9 -.9-.9 -.7-1.2 -.5-1.1 -.9-1 -1-.9 -.7-1 -1-1 -.9-.9 -.9-.9 -1-.8 -.8-1.1 -.5-1.2 -1-.9 -1-.9 -.7-1.1 -.8-.9 -.8-1.1 -1.1-.7 -.9-1 -.7-1.1 -.3-1.3 -.2-1.2 .2-1.3 .5-1.3 .9-.9 .8-1 .8-1 .9-1 1.2-.6 1.1-.6 1-.9 1.2-.5 1.3,0 1.3,0 1.3,.3 1.2,.6 1,.8 .8,1.1 .3,1.2 -.3,1.3 -.2,1.3 -.1,1.3 -.3,1.3 -.3,1.3 -.7,1.1 -1,.8 -1,.9 -1,.8 -1.2,.6 -1.2,.4 -1.3,.1 -1.3-.3 -1.1-.6 -1-.9 -.9-1 -.7-1.1 -.2-1.3 -.2-1.3 -.4-1.2 .1-1.3 -.1-1.3 .6-1.2 1-.9 1.1-.6 1.2-.5 1.3-.4 1.3-.1 1.2,.4 1.3,0 1.3-.1 1.4,0 1.2,.2 1.3,.4 1.2,.6 1.2,.5 1.1,.6 1.1,.7 .9,1 .7,1.1 .5,1.2 .8,1 1.2,.6 1.1,.6 1.2,.6 .8,1.1 .7,1.1 .3,1.2 .1,1.3 -.1,1.4 -.6,1.1 -.9,1 -1.2,.4 -1.2,.5 -1.2,.5 -1.3,.4 -1.2,.6 -1.1,.6 -1.2,.5 -1.2,.4 -1.2,.7 -.9,.8 -1.1,.8 -1,.9 -.8,1 -1.1,.8 -1.2,.4 -1.3,0 -1.3,0 -1.3-.3 -1.3-.3 -1-.8 -.8-1.1 -.9-.9 -.5-1.2 -1.1-.8 -1.1-.7 -.9-1 -.6-1.1 -.6-1.2 -1-.8 -.8-1.1 -.8-1 -.6-1.2 0-1.3 .3-1.3 .2-1.3 .7-1.1 1-.8 1.1-.7 1.3-.4 1.2-.4 1.1-.6 1.3-.3 1.3-.2 1.2-.5 1.3-.4 1.3-.2 1.1-.7 1.1-.6 1.3-.2 1.4,0 1.2-.3 1.3-.3 1.3-.4 1.3-.1 1.3-.1 1.3,.2 1.2,.4 1.1,.7 1,.9 .8,1.1 .4,1.2 0,1.3 -.3,1.3 -.3,1.2 -.7,1.1 -.4,1.3 -.6,1.1 -.5,1.3 -.5,1.1 -.3,1.3 -.7,1.1 -.5,1.2 -.4,1.3 -1,.9 -.8,1 -1,.8 -.9,.9 -.7,1.2 -.4,1.2 -.5,1.2 -.3,1.3 -.6,1.1 -1,.9 -1.2,.6 -1.3,.3 -1.3,0 -1.2-.3 -1-.9 -.9-.9 -1.3-.5 -1.1-.7 -1.1-.7 -1.2-.5 -1.3-.3 -1.1-.6 -1-.9 -.9-.9 -.8-1.1 -.6-1.2 -.3-1.2 -.1-1.3 .4-1.3 .9-.9 .7-1.1 1-.9 1.2-.6 1.3,0 1.2,.5 1.2,.5 1,.8 1.1,.7 .9,1 1.2,.6 1,.8 1,.8 1,.8 1.1,.8 1.2,.5 1,.9 .8,1 1,.8 1.1,.7 1,1 1,.7 1.2,.7 1.3,.1 1.3-.1 1.2-.5 .9-.9 1.1-.8 .5-1.1 .8-1.1 1-.8 1-.9 1.2-.5 .9-1 1.1-.7 .6-1.2 .2-1.2 -.3-1.3 -.3-1.3 -.4-1.2 -.3-1.3 -.3-1.2 -.4-1.3 -.1-1.3 -.1-1.3 -.3-1.3 -.5-1.2 -.7-1.1 -1.1-.7 -1.1-.8 -1.2-.2 -1.3,.1 -1.1,.8 -1.3,.1 -1.2,.4 -1.2,.4 -1.3,.2 -1.1,.7 -1.3,.2 -1.3,.1 -1.3,.2 -1.3,.3 -1.3,.2 -1.3,.1 -1.3,.1 -1.3,0 -1.2,.5 -1.1,.8 -1,.8 -.7,1.1 -.8,1.1 -.5,1.2 -.2,1.3 .1,1.3 .7,1.1 .7,1.1 0,1.3 .3,1.3 .4,1.3 .6,1.1 1.1,.8 1.2,.4 1.3,.1 1.3-.1 1.2-.5 1-.9 .7-1.1 .7-1.1 .4-1.2 .1-1.3 -.1-1.3 -.3-1.3 -.5-1.2 -.5-1.2 -1-.9 -1-.8 -1.1-.6 -1.3-.3 -1.1-.7 -1-.9 -1.1-.6 -.9-1 -.7-1.1 -.2-1.3 .4-1.3 .6-1.2 .3-1.2 .7-1.1 1-.9 1.1-.5 1.3-.4 1.3,.1 1.3,.2 1.2,.6 .9,.9 .9,1 .8,1 .8,1 1,.8 1.1,.8 1,.9 .7,1.1 1.1,.6 .9,1 1.2,.4 1.2,.5 .9,1 .8,1.1 .5,1.2 .4,1.2 .3,1.3 -.1,1.3 -.3,1.3 -.4,1.2 -.5,1.2 -.5,1.2 -.9,1 -.9,.9 -1.1,.7 -1.3-.1 -1.2-.7 -1.1-.7 -.9-.9 -.9-.9 -1-.8 -.7-1.2 -.3-1.3 .1-1.3 .2-1.3 .3-1.2 .4-1.3 .6-1.1 .8-1.1 .9-.9 1.1-.8 1.2-.3 1.3,0 1.3,.3 1.1,.7 .7,1.1 .7,1.1 .6,1.2 .3,1.2 0,1.3 .3,1.3 -.1,1.3 .3,1.3 .1,1.3 .1,1.3 .3,1.3 .6,1.1 .4,1.3 0,1.3 -.4,1.2 -.4,1.3 -.7,1.1 -.8,1 -1.2,.5 -1.3,.2 -1.3-.2 -1.2-.5 -1.2-.6 -1.1-.8 -.8-1 -1.1-.7 -1.1-.7 -.9-.9 -1-.9 -1-.8 -1.2-.6 -.8-1 -1-.9 -1.2-.5 -1.2-.5 -.8-1.1 -1-.7 -1.2-.6 -.9-.9 -.4-1.3 -.2-1.3 .1-1.3 .5-1.2 .7-1.1 1-.9 1-.7 1.2-.7 1.2-.2 1.3-.2 1.3-.3 1.2-.6 1.3-.2 1.2-.5 1.1-.7 1.2-.5 1.3-.2 1.2-.5 1.3-.4 1.1-.6 1.3-.1 1.3,.5 1.1,.6 1.1,.7 .8,1.1 .3,1.2 .3,1.3 .1,1.3 -.1,1.3 -.5,1.2 -.9,1 -1.1,.7 -1.1,.7 -1.2,.4" fill="none" stroke="#12a8ff" stroke-width="1.0" stroke-linejoin="round" stroke-linecap="round"/>
<path d="M226.8,205.2l-1-.9 -1.2-.6 -1.1-.6 -.9-1 -1-.7M219.1,200.6l-1.2-.7M217,199l-.7-1.1 -.4-1.2 -.4-1.3 0-1.3M215.9,192.9l.5-1.2 .6-1.2 .8-1.1M227.4,190.6l.9,.9 .9,1 1,.9M231.4,193.9l.9,.9M233.6,195.2l.9,1M238.4,199.6l1.2,.4 1.1,.7 1.1,.8 1,.8M244,202.8l1,.9M245.4,204.9l.3,1.3M245.6,207.5l-.5,1.2 -.8,1.1 -1,.8 -1.1,.6 -1.3,.4M239.6,211.9l-1.3,0M225.2,201.4l-1-.8M217,195.2l-1.3-.3M214.4,195l-1.2,.5 -.6,.8M212.5,200.1l.6,1.2 .9,1 .9,.9M221.4,209.5l1,.9 1.1,.6 .9,1 1,.8 1.3,.5M228,213.3l1.3-.1M231.4,211.7l.9-1M233.1,205.6l-.2-1.3M232.3,203.2l-1-.9M228.3,199.9l-1.2-.5M224.5,186.8l.9-.9 1.3-.5 1.3-.1 1.3,.1 1.3,0 1.3,.2 1.2,.3M236.6,187.7l.8,1.1M237.8,190l.8,1M240.6,194.4l.8,1M242.2,196.4l.8,1.1M244.9,200.8l.5,1.2M247.1,205.5l.8,1.1M238.1,214l-.9-.9 -.9-.9M227.4,201.1l-1-.9M225.4,199.3l-.7-1.1M225.2,183.8l1.1-.6M227.3,182.3l1.2-.5 1.3,0M231.1,181.8l1.3,.3M235.2,188.4l-.1,1.3 -.3,1.3 -.3,1.3 -.7,1.1 -1,.8M229.6,196.5l-1.2,.4 -1.3,.1M225.8,196.7l-1.1-.6M221.9,185.5l1-.9M225.2,183.5l1.3-.4M227.8,183l1.2,.4 1.3,0 1.3-.1M236.7,184.5l1.2,.5M240.1,186.3l.9,1M241.7,188.4l.5,1.2 .8,1M244.2,191.2l1.1,.6 1.2,.6 .8,1.1 .7,1.1M244.4,201.5l-1.2,.5 -1.3,.4 -1.2,.6 -1.1,.6M238.4,204.1l-1.2,.4 -1.2,.7M232.2,208.7l-1.1,.8M222,206.5l-.5-1.2M218.4,202.8l-.6-1.1 -.6-1.2 -1-.8 -.8-1.1 -.8-1 -.6-1.2M214,195.1l.3-1.3 .2-1.3M215.2,191.4l1-.8 1.1-.7M224.7,187.5l1.3-.4 1.3-.2 1.1-.7 1.1-.6 1.3-.2 1.4,0M236,184.4l1.3-.1 1.3-.1 1.3,.2M242.2,185.5l1,.9 .8,1.1 .4,1.2M243.8,192.5l-.7,1.1 -.4,1.3M242.1,196l-.5,1.3 -.5,1.1M240.8,199.7l-.7,1.1 -.5,1.2 -.4,1.3M237.4,205.2l-1,.8 -.9,.9M233.9,210.5l-.3,1.3M228.2,214.7l-1.2-.3M226,213.5l-.9-.9 -1.3-.5 -1.1-.7 -1.1-.7 -1.2-.5M215.3,206.4l-.6-1.2 -.3-1.2 -.1-1.3M214.7,201.4l.9-.9 .7-1.1 1-.9 1.2-.6M223.2,199.7l1.1,.7M237.6,210.8l1.2,.7M240.1,211.6l1.3-.1 1.2-.5 .9-.9 1.1-.8 .5-1.1M246.9,206.3l1-.9M244.8,185.3l-1.3,.1 -1.1,.8M239.9,186.7l-1.2,.4M235,188.2l-1.3,.1 -1.3,.2M231.1,188.8l-1.3,.2 -1.3,.1M221.9,200.8l.3,1.3 .4,1.3M223.2,204.5l1.1,.8M225.5,205.7l1.3,.1M231,203.2l.7-1.1 .4-1.2M232.2,199.6l-.1-1.3 -.3-1.3M230.8,194.6l-1-.9 -1-.8 -1.1-.6 -1.3-.3M221.8,185.1l.6-1.2M228.1,179.9l1.3,.2M230.6,180.7l.9,.9 .9,1M238.9,188.8l.9,1 1.2,.4 1.2,.5M245,197.8l-.3,1.3M243.8,201.5l-.5,1.2 -.9,1M241.5,204.6l-1.1,.7 -1.3-.1M237.9,204.5l-1.1-.7M233.3,200l-.3-1.3 .1-1.3M233.6,194.9l.4-1.3 .6-1.1 .8-1.1M238.6,189.4l1.3,0 1.3,.3 1.1,.7M244.6,195l0,1.3M244.9,197.6l-.1,1.3M245.3,202.8l.3,1.3M246.6,207.8l-.4,1.2 -.4,1.3M243.1,212.9l-1.3,.2 -1.3-.2M224.9,201.4l-1-.7M230.7,189.4l1.3-.2M236.8,187.3l1.2-.5M243,186.2l1.1,.6M246.3,189.8l.3,1.3 .1,1.3 -.1,1.3 -.5,1.2M243,197.3l-1.2,.4" fill="none" stroke="#30d8ff" stroke-width="1.0" stroke-linejoin="round" stroke-linecap="round"/>
<path d="M232.3,208.6l-1.2-.5M229.8,207.7l-1-.9M227.7,206.1l-.9-.9M217.9,199.9l-.9-.9M215.5,194.1l.4-1.2M217.8,189.4l.9-.9 .9-.9 1.1-.8M225.2,189.2l1.2,.6M230.2,193.4l1.2,.5M232.3,194.8l1.3,.4M245,203.7l.4,1.2M245.7,206.2l-.1,1.3M240.9,211.6l-1.3,.3M227.1,203.3l-.9-1M223.2,199.8l-1.3-.4M220.3,197.4l-1-.9M218.2,195.8l-1.2-.6M215.7,194.9l-1.3,.1M233.1,206.9l0-1.3M227.1,199.4l-1.1-.8 -1.1-.6 -1.2-.5M223.4,187.5l1.1-.7M237.4,188.8l.4,1.2M243.8,198.5l.7,1.1M245.4,202l.3,1.3 .6,1.2 .8,1M228.7,203.4l-.8-1.1 -.5-1.2M226.4,200.2l-1-.9M224.7,198.2l-.8-.9M220.1,192.1l-.2-1.2M222.3,186.4l.8-1 .9-1M229.8,181.8l1.3,0M232.4,182.1l1.2,.6 1,.8M235.4,184.6l.3,1.2M235.4,187.1l-.2,1.3M232.8,194.2l-1,.9 -1,.8M227.1,197l-1.3-.3M224.7,196.1l-1-.9 -.9-1M222.9,184.6l1.1-.6M231.6,183.3l1.4,0 1.2,.2 1.3,.4 1.2,.6M239,185.6l1.1,.7M239.6,203.6l-1.2,.5M214,196.4l0-1.3M217.3,189.9l1.3-.4M223.5,188l1.2-.5M232.2,185.4l1.2-.3M239.9,184.4l1.2,.4 1.1,.7M244.1,191.3l-.3,1.2M242.7,194.9l-.6,1.1M239.2,203.3l-1,.9 -.8,1M218.5,197.9l1.3,0M221,198.4l1.2,.5M235.6,209.1l1,1M238.8,211.5l1.3,.1M245.1,208.2l.8-1.1M242.4,186.2l-1.3,.1 -1.2,.4M228.5,189.1l-1.3,.1 -1.3,0M224.7,189.7l-1.1,.8M220.4,196l.1,1.3M226.8,205.8l1.3-.1M229.3,205.2l1-.9 .7-1.1M231.8,197l-.5-1.2 -.5-1.2M225.3,191.3l-1-.9M221.6,187.7l-.2-1.3M235,185.4l1.1,.8M237.8,188.2l1.1,.6M242.2,190.7l.9,1 .8,1.1 .5,1.2 .4,1.2 .3,1.3 -.1,1.3M244.7,199.1l-.4,1.2M239.1,205.2l-1.2-.7M233.3,196.1l.3-1.2M236.3,190.5l1.1-.8 1.2-.3M242.3,190.4l.7,1.1 .7,1.1 .6,1.2M244.6,196.3l.3,1.3M245.1,200.2l.1,1.3M246.2,205.2l.4,1.3M240.5,212.9l-1.2-.5 -1.2-.6M226.9,203l-1.2-.5M222.7,200.1l-.9-.9M223.5,192.1l1-.7M226.9,190.5l1.3-.2 1.3-.3M239.3,186.4l1.1-.6M241.7,185.7l1.3,.5M246.1,194.9l-.9,1 -1.1,.7 -1.1,.7" fill="none" stroke="#70f4e0" stroke-width="1.0" stroke-linejoin="round" stroke-linecap="round"/>
<path d="M223.1,187.6l1.1,.8M226.4,189.8l1,.8M242.8,202.3l1.2,.5M238.3,211.9l-1.2-.3 -1.1-.8M232.2,207.2l-1-.8 -1-.8M229.3,204.6l-1.1-.7 -1.1-.6M226.2,202.3l-1-.9M224.2,200.6l-1-.8M221.1,198.4l-.8-1M223.7,197.5l-1.3-.4M221.4,196.3l-.6-1.2 -.3-1.3 -.1-1.3 -.1-1.3 .3-1.3M233.1,185.9l1.2,.6 1.2,.6M241.4,195.4l.8,1M243,197.5l.8,1M244.5,199.6l.4,1.2M236.3,212.2l-.7-1.2M232.5,207l-1-1 -.9-.9 -.9-.9 -1-.8M223.9,197.3l-.8-1.1M220.4,193.4l-.3-1.3M219.9,190.9l.2-1.3M234.6,183.5l.8,1.1M235.7,185.8l-.3,1.3M222.1,193.1l-.2-1.3M221.4,188l-.1-1.3M237.9,185l1.1,.6M243,190.6l1.2,.6M246.8,200.6l-1.2,.4 -1.2,.5M218.6,189.5l1.2-.4M222.2,188.2l1.3-.2M233.4,185.1l1.3-.3 1.3-.4M244.4,190l-.3,1.3M234.4,209.3l-.5,1.2M222.2,198.9l1,.8M224.3,200.4l.9,1 1.2,.6 1,.8 1,.8M229.4,204.4l1.1,.8 1.2,.5M236.6,210.1l1,.7M245.9,207.1l1-.8M237.4,187.3l-1.1,.7 -1.3,.2M223.6,190.5l-1,.8M221.1,193.5l-.5,1.2 -.2,1.3M221.2,198.4l.7,1.1M226.4,192l-1.1-.7M221.4,186.4l.4-1.3M232.4,182.6l.8,1 .8,1 1,.8M237.1,187.1l.7,1.1M244.3,200.3l-.5,1.2M233.1,197.4l.2-1.3M244.3,193.8l.3,1.2M244.8,198.9l.3,1.3M245.2,201.5l.1,1.3M245.6,204.1l.6,1.1M246.6,206.5l0,1.3M238.1,211.8l-1.1-.8 -.8-1M232.1,206.8l-1-.8M229.1,204.4l-1-.9 -1.2-.5M225.7,202.5l-.8-1.1M221.4,197.9l-.2-1.3M221.8,194.1l.7-1.1 1-.9M224.5,191.4l1.2-.7M233.2,188.7l1.1-.7 1.2-.5M238,186.8l1.3-.4M240.4,185.8l1.3-.1" fill="none" stroke="#c8f850" stroke-width="1.0" stroke-linejoin="round" stroke-linecap="round"/>
<path d="M222,186.9l1.1,.7M224.2,188.4l1,.8M230.2,205.6l-.9-1M221.9,199.4l-.8-1M222.4,197.1l-1-.8M222.2,188l1.2-.5M235.5,187.1l1.1,.6M223.1,196.2l-1.1-.7 -.9-1 -.7-1.1M221.7,190.5l-.4-1.2M221.3,186.7l.6-1.2M219.8,197.9l1.2,.5M228.4,203.6l1,.8M234.5,208.4l1.1,.7M238.7,187.1l-1.3,.2M225.9,189.2l-1.2,.5M222.6,191.3l-.7,1.1M220.5,197.3l.7,1.1M221.9,199.5l0,1.3M228.1,205.7l1.2-.5M224.3,190.4l-1.1-.6M231.1,206l-1.2-.6 -.8-1M223.9,200.7l-1.2-.6M221.2,196.6l.1-1.3 .5-1.2M225.7,190.7l1.2-.2" fill="none" stroke="#f8e820" stroke-width="1.0" stroke-linejoin="round" stroke-linecap="round"/>
<path d="M220.7,186.8l1.3,.1M236,210.8l-.9-.9M232.3,210.7l.6-1.2M220.6,189.9l.5-1.1M235.6,211l-.5-1.1M221.5,187.4l.8-1M222.8,194.2l-.7-1.1M221.9,191.8l-.2-1.3M233,207.7l-.8,1M231.7,205.7l1,.9M221.9,192.4l-.8,1.1M223.2,189.8l-.9-1M236.1,186.2l1,.9M236.2,210l-1.1-.7M221.8,199.2l-.4-1.3" fill="none" stroke="#ff8c10" stroke-width="1.0" stroke-linejoin="round" stroke-linecap="round"/>
<path d="M234.8,209l-1.3,.1 -1.2-.5M235.1,209.9l-.9-.9 -1-.9 -1-.9M232.9,209.5l.2-1.2 0-1.4M221.1,188.8l1.1-.8M235.1,209.9l-.9-1 -1-.9 -.7-1M220.1,189.6l.5-1.3 .9-.9M221.3,189.3l.1-1.3M235.1,206l-1.1,.8 -1,.9M219.8,189.1l1.1-.6 1.3-.3M235.5,206.9l-.7,1.2 -.4,1.2M232.7,206.6l.8,1 1,.8M222.3,188.8l-.7-1.1M235.1,209.3l-1.1-.7 -.9-.9 -1-.9M235.5,187.5l1.3-.2" fill="none" stroke="#ff2a00" stroke-width="1.0" stroke-linejoin="round" stroke-linecap="round"/>
<rect x="263.4" y="176.0" width="59.7" height="47.6" fill="#000080"/>
<circle cx="293.2" cy="199.8" r="21.8" fill="none" stroke="#8080c8" stroke-width="0.5"/>
<circle cx="293.2" cy="199.8" r="14.4" fill="none" stroke="#8080c8" stroke-width="0.5"/>
<circle cx="293.2" cy="199.8" r="7.2" fill="none" stroke="#8080c8" stroke-width="0.5"/>
<line x1="271.4" y1="199.8" x2="315.1" y2="199.8" stroke="#b8b8f0" stroke-width="0.6"/>
<line x1="293.2" y1="178.0" x2="293.2" y2="221.6" stroke="#8888d0" stroke-width="0.5"/>
<path d="M296.7,203.4l-1.3,0 -1.2-.6 -1-.8 -1-.8 -1-.9 -.9-1 -.5-1.2 -.1-1.3 .5-1.2 .9-1 1.2-.3 1.4,0 1.2,.5 1.1,.6 1.2,.4 1.2,.7 1.2,.5 1.2,.5 1,.8 1.1,.7 1.2,.4 1.3,.4 1,.8 1.2,.6 1.3,.2 1.3,.1 1.3,0 1.3,0 1.3-.2 .3-.5 0-.7 0-1 -.1-1.2 -.1-1.2 -.3-1.3 -.4-1.2 -.5-1.2 -.7-1.1 -.5-1.3 -.8-1 -1.1-.7 -1.3-.3 -1.3,.1 -1.2,.2 -1.3,.5 -1,.7 -1.2,.7 -.8,1 -.4,1.2 -.5,1.2 -.5,1.2 -.4,1.3 -.4,1.2 -.5,1.2 -.4,1.3 -.2,1.3 -.1,1.3 -.5,1.2 -.4,1.2 -.2,1.3 -.2,1.3 -.4,1.3 .4,1.3 -.1,1.3 .1,1.3 .4,1.2 .5,1.2 .5,1.2 .8,1.1 1,.9 1.1,.5 .7-.3 .9-.4 .9-.6 1-.6 1-.7 .9-.9 .4-1.3 .2-1.3 0-1.3 .1-1.3 0-1.3 .1-1.3 -.4-1.3 -.2-1.3 -.1-1.3 -.2-1.3 0-1.3 0-1.3 -.1-1.3 .5-1.2 0-1.3 .1-1.3 -.1-1.3 -.7-1.2 -.9-.9 -1.1-.7 -1.2-.4 -1.3,0 -1.3,.2 -1.2,.5 -.9,.9 -.9,1 -.8,1 -.6,1.2 -.4,1.3 .2,1.3 -.4,1.2 -.1,1.3 -.3,1.3 -.8,1.1 -.3,1.2 -.3,1.3 -.2,1.3 -.1,1.3 -.1,1.3 -.5,1.2 -.2,1.3 -.4,1.3 -.6,1.1 -.4,1.2 -.3,1.3 -.1,1.3 .6,1.2 .7,1.1 .9,.6 1.1,0 1.3-.1 1.2-.1 1.3-.3 1.2-.5 1.2-.4 1.1-.8 .7-1.1 .4-1.2 .1-1.3 -.5-1.2 -.2-1.3 -.2-1.3 0-1.3 -.3-1.3 0-1.3 -.2-1.3 -.2-1.3 0-1.3 -.1-1.3 -.2-1.3 -.4-1.3 -.4-1.2 -.4-1.2 -.2-1.3 0-1.3 -.2-1.3 0-1.3 .1-1.3 .2-1.3 -.2-1.3 .1-1.3 -.3-1.3 .1-1.3 .5-1.2 1.1-.8 1-.8 1.1-.4 1,.5 1,.7 1,.7 .9,.7 1,.8 .8,1.1 .4,1.2 .4,1.3 0,1.3 -.4,1.2 -.7,1.1 -.6,1.2 -.6,1.1 -.7,1.1 -.8,1.1 -1.1,.6 -1.3,.5 -1.3,0 -1.3-.1 -1.3-.2 -1.2-.3 -1.3-.3 -1.3,0 -1.3-.1 -1.2-.5 -1.3-.3 -1.3,0 -1.2-.6 -1.3-.1 -1.3,0 -1.3-.4 -1.3,.2 -1.3-.1 -1.3-.2 -1.3,.1 -1.3,.1 -1.3,0 -1.3-.3 -1.2-.4 -1.1-.8 -.4-.6 .3-.7 .4-.9 .4-1 .6-1 .7-1.1 1-.9 1.1-.7 1.3-.1 1.3,0 1.3,.1 1.3-.4 1.2-.3 1.3,.1 1.3-.2 1.3,0 1.3,.1 1.3-.5 1.3,0 1.3,.2 1.3,0 1.2,.5 1.1,.7 1.1,.8 .8,1 .4,1.2 .7,1.1 .2,1.3 .6,1.2 .7,1.1 .7,1.1 .4,1.3 .2,1.3 0,1.3 -.1,1.3 -.3,1.3 -.4,1.2 -.6,1.2 -.6,1.1 -.9,.9 -1.2,.7 -1.1,.6 -1.3,.1 -1.3-.1 -1.2-.5 -1.2-.5 -1-1 -1.1-.6 -1.2-.6 -1-.8 -1.2-.5 -1.2-.5 -1.1-.8 -1.1-.7 -1-.8 -1-.8 -1.1-.8 -1.1-.7 -.9-.9 -.9-1 -.3-1.3 -.1-1.3 .2-1.2 .1-1.4 .4-1.2 .7-1.1 1.1-.7 1.1-.6 1.3-.3 1.3,.3 1.2,.5 1.1,.7 1.2,.6 1.1,.7 1,.8 1.1,.8 .8,1 1.2,.6 1.1,.6 1.3,.1 1.3,.3 1.1,.7 1,.8 1.3,.5 1.2,.2 1.3-.2 1.1-.8 1-.8 1-.8 .8-1.1 .6-1.2 .6-1.1 .1-1.3 -.2-1.3 -.5-1.3 -.5-1.1 -.9-1 -1.1-.8 -1.3,0 -1.3-.1 -1.3-.3 -1.3-.1 -1.3-.2 -1.2-.3 -1.3-.3 -1.3,0 -1.3,.4 -1,.7 -1,.9 -1.1,.7 -1.1,.7 -1.1,.8 -.8,1 -1,.8 -1.1,.8 -1.1,.7 -1,.8 -1.1,.7 -.9,1 -1.1,.8 -.8,1 -.4,1.2 .2,1.3 .4,1.3 .5,1.2 .6,1.2 .6,1.1 .6,1.2 .6,1.1 1.1,.8 .9,.9 .8,1 .8,1.1 .5,1.1 .6,1.2 .7,1.1 .6,1.2 .4,1.2 -.1,1.3 -.3,1.3 -.7,1.1 -.8,1 -1,.9 -1,.3 -.8-.4 -.7-.4 -.9-.5 -1-.8 -.9-.8 -1-.8 -.9-1 -.8-.9 -.8-1.1 -.7-1.1 -.5-1.2 -.1-1.3 .4-1.3 .1-1.3 0-1.3 .6-1.1 .4-1.3 .3-1.2 .5-1.3 .2-1.3 .3-1.2 .5-1.2 .4-1.3 .4-1.2 .7-1.1 1-.9 1.2-.5 1.2-.5 1.2-.3 1.3-.1 1.3,.3 1.3,.4 1.2,.5 1,.8 1,.9 1.3,.3 1.2,.3 1.3,.4 1.2,.6 1,.7 1.2,.5 1.3,.1 1.3,.4 1.3,.3 1.3,0 1.2-.3 1.2-.6 1-.9 .6-1.1 .4-1.3 0-1.3 -.2-1.3 -.3-1.3 -.6-1.1 -1.1-.7 -1.2-.5 -1.3-.4 -1.3,0 -1.2,.4 -1.3,.4 -1.2,.4 -1.1,.7 -1.1,.7 -1,.9 -1.1,.6 -1.3,.2 -1.3,.3 -1.1,.6 -1.1,.7 -1.3,.5 -1.2,.4 -1.2,.6 -1.2,.5 -1.3,.3 -1.3,.2 -1.3,.1 -1.3,.1 -1.2,.4 -1.3,.4 -1.2,.3 -1.1,.7 -1,.9 -.8,1 -.3,1.3 0,1.3 .2,1.3 .6,1.1 .8,1.1 1,.8 1,.8 1.2,.5 1.3,.1 1.3,.4 1.3,.1 1.2,.3 1.2,.6 1.3,.3 1.2,.4 1.2,.5 1.2,.4 1.3,.3 1.3,.4 1.3,.1 1.2,.3 1.3,.3 1.2,.5 1.3,.1 1.3,.3 1.1,.8 1.2,.4 1.3,.1 1.3,.2 1.3-.3 1.3-.2 1.1-.6 .8-1.1 .6-1.1 .5-1.3 .2-1.3 -.1-1.3 -.3-1.2 -.3-1.3 -.4-1.3 -.7-1.1 -.2-1.2 -.5-1.3 -.8-1 -1-.8 -1-.9 -1.3-.4 -1.3,0 -1.2,.3 -1.2,.5 -1.1,.8 -1.1,.8 -.9,.9 -.9,.9 -.5,1.2 .1,1.3 .3,1.3 .9,1 1,.8 1.3,.4 1.2-.4 1.3,.1 1.3-.1 1.3,0 1.3,.1 1.4,0 1.2,.2 1.3,.3 1.3,.2 1.3,.3 .9,1 .7,1 0,.8 -.4,.7 -.4,.9 -.7,1 -.8,1 -1.2,.5 -1.2,.6 -1.3,.4 -1.2,.4 -1.2,.4 -1.3,.2 -1.3-.1 -1.1-.7 -1.2-.6 -1-.9 -.8-1 -.7-1.1 -.7-1.1 -.9-.9 -.9-1 -1-.8 -.6-1.2 -.4-1.2 -1-.9 -.9-1 -.8-1 -.7-1.1 -1-.8 -.9-1 -.8-1.1 -.9-.9 -.8-1 -.8-1 -.7-1.1 -.6-1.2 .1-1.3 .4-1.3 .7-1.1 1-.8 1-.8 1.2-.5 1.3-.2 1.3,.1 1.3,.4 1.2,.4 1.3,.4 1.2,.3 1.3,.3 1.2,.5 1.3,.1 1.2,.4 1.2,.5 1.3,.3 1.2,.5 1.3,.4 1.2,.4 1.1,.7 1.2,.4 1.3,.3 1.2,.6 .9,1 .4,1.2 -.1,1.3 -.4,1.3 -.9,.9 -1,.8 -.8,1 -.7,1.2 -1,.8 -.9,.9 -1.3,.4 -1.3,0 -1.1-.6 -1-.9 -1-.9 -.8-1 -1.1-.8 -.8-1 -.9-.9 -.7-1.1 -1-.9 -.7-1.1 -.5-1.2 -.4-1.3 -.3-1.2 -.1-1.3 .1-1.3 .5-1.3 .7-1.1 .7-1.1 1-.8 1.1-.7 1.1-.6 1.3-.5 1.3-.1 1.2,.3 1.3,.4" fill="none" stroke="#12a8ff" stroke-width="1.0" stroke-linejoin="round" stroke-linecap="round"/>
<path d="M301.8,198.3l1.1,.7M314.1,201.3l.3-.5M309.9,188.9l-1.3-.3M298.7,200.4l-.2,1.3M297.5,205.4l-.2,1.3 -.2,1.3 -.4,1.3M297,211.9l.1,1.3M298.5,216.8l.8,1.1 1,.9M302.1,219l.9-.4M307.4,211.9l.1-1.3 0-1.3 .1-1.3 -.4-1.3M299.4,191.3l-.9,.9M296,198l-.4,1.2M294.4,202.9l-.3,1.2M293.5,208l-.1,1.3 -.5,1.2M298,220.4l1.2-.5 1.2-.4M301.5,218.7l.7-1.1 .4-1.2M302.2,213.9l-.2-1.3 -.2-1.3M300.8,200.9l-.4-1.3M299.3,188.1l.1-1.3M299.1,185.5l.1-1.3M299.7,183l1.1-.8M302.9,181l1,.5M304.9,182.2l1,.7M306.8,183.6l1,.8M308.6,185.5l.4,1.2M309.4,189.3l-.4,1.2M295.5,196.3l-1.3-.1M286.6,194.7l-1.3-.4 -1.3,.2M282.7,194.4l-1.3-.2M276.2,194.1l-1.2-.4M283.2,185.6l1.2-.3 1.3,.1M296,185.5l1.1,.7M302.8,200.2l-.3,1.3M297.7,207.2l-1.3,.1 -1.3-.1M292.7,206.2l-1-1M290.6,204.6l-1.2-.6M281.8,199.1l-1.1-.8M278.8,188.2l1.1-.7M289.2,190.2l1.1,.8M303,194.8l1-.8M306.4,190.9l.6-1.1M307.1,188.5l-.2-1.3M306.4,185.9l-.5-1.1M305,183.8l-1.1-.8 -1.3,0M298.7,182.5l-1.3-.2M291.3,182.8l-1,.9 -1.1,.7M280.9,190.7l-.9,1M285.3,208l.6,1.2M274.6,208.3l.4-1.3M278.7,193.3l.7-1.1 1-.9M285.3,189.9l1.3,.3 1.3,.4M289.1,191.1l1,.8M307.4,188.3l-.6-1.1M305.7,186.5l-1.2-.5 -1.3-.4M301.9,185.6l-1.2,.4 -1.3,.4M298.2,186.8l-1.1,.7M296,188.2l-1,.9M293.9,189.7l-1.3,.2M291.3,190.2l-1.1,.6M275.7,205.6l1.2,.5M283.2,207.6l1.3,.3M292,210l1.2,.3M294.5,210.6l1.2,.5M297,211.2l1.3,.3 1.1,.8 1.2,.4 1.3,.1M303.2,213l1.3-.3M306.9,211.9l.8-1.1 .6-1.1M309,207.1l-.1-1.3M308.6,204.6l-.3-1.3M296.5,197.7l-.9,.9 -.9,.9M297.8,205.5l1.2-.4M305.6,205.2l1.2,.2M309.4,205.9l1.3,.3M310,212.6l-1.2,.5 -1.2,.6M305.1,214.5l-1.2,.4M302.6,215.1l-1.3-.1M294,207.7l-1-.8M292.4,205.7l-.4-1.2 -1-.9M290.1,202.6l-.8-1M285,196.7l-.8-1 -.8-1M295.4,188.3l1.2,.5M307.6,192.5l1.3,.3 1.2,.6M310,199.1l-1,.8M300.9,202.7l-1-.9M299.1,200.8l-1.1-.8M292.7,191.3l-.1-1.3M293.2,187.4l.7-1.1M296.7,183.7l1.1-.6M301.6,182.8l1.3,.4" fill="none" stroke="#30d8ff" stroke-width="1.0" stroke-linejoin="round" stroke-linecap="round"/>
<path d="M295.4,203.4l-1.2-.6 -1-.8M289.7,196.8l.5-1.2 .9-1M302.9,199l1.2,.4 1.3,.4M306.4,200.6l1.2,.6 1.3,.2M311,189.6l-1.1-.7M306.1,188.9l-1.3,.5 -1,.7M299.6,197.9l-.5,1.2M298.5,201.7l-.1,1.3 -.5,1.2M300.3,218.8l1.1,.5 .7-.3M307.2,214.5l.2-1.3 0-1.3M307.2,206.7l-.2-1.3 -.1-1.3M306.7,200.2l-.1-1.3 .5-1.2 0-1.3M295.6,199.2l-.1,1.3 -.3,1.3 -.8,1.1M294.1,204.1l-.3,1.3 -.2,1.3M300.4,219.5l1.1-.8M302.7,215.1l-.5-1.2M301.5,207.4l-.2-1.3M301,202.2l-.2-1.3M299.3,190.7l.2-1.3M299.4,186.8l-.3-1.3M300.8,182.2l1-.8M294.2,196.2l-1.2-.5M291.7,195.4l-1.3,0M284,194.5l-1.3-.1M281.4,194.2l-1.3,.1M280.6,185.9l1.3,.1M285.7,185.4l1.3-.2 1.3,0 1.3,.1M293.5,185l1.3,0M297.1,186.2l1.1,.8M299,188l.4,1.2M302.9,197.6l0,1.3 -.1,1.3M302.5,201.5l-.4,1.2M300.9,205l-.9,.9 -1.2,.7M295.1,207.2l-1.2-.5 -1.2-.5M279.6,197.6l-.9-.9M277.4,193.1l.2-1.2M281,186.9l1.3-.3 1.3,.3M291.1,192l1.2,.6M293.4,193.2l1.3,.1M305,193.2l.8-1.1M306.9,187.2l-.5-1.3M305.9,184.8l-.9-1M302.6,183l-1.3-.1M300,182.6l-1.3-.1M289.2,184.4l-1.1,.7 -1.1,.8M284.1,188.5l-1.1,.7 -1,.8 -1.1,.7M280,191.7l-1.1,.8M278.3,197.3l.5,1.2M284,205.8l.8,1.1M275.1,205.7l0-1.3M277.1,198.2l.3-1.2M281.6,190.8l1.2-.5 1.2-.3M290.1,191.9l1,.9M306.8,187.2l-1.1-.7M299.4,186.4l-1.2,.4M297.1,187.5l-1.1,.7M295,189.1l-1.1,.6M292.6,189.9l-1.3,.3M285.4,193l-1.2,.5M281.6,194l-1.3,.1M273.7,204l1,.8M285.7,208.3l1.2,.5M290.7,209.9l1.3,.1M305.8,212.5l1.1-.6M308.8,208.4l.2-1.3M307.9,202l-.7-1.1M307,199.7l-.5-1.3M305.7,197.4l-1-.8M294.2,200.7l.1,1.3 .3,1.3M295.5,204.3l1,.8M304.2,205.2l1.4,0M307.6,213.7l-1.3,.4M300.2,214.3l-1.2-.6 -1-.9M297.2,211.8l-.7-1.1 -.7-1.1 -.9-.9M293,206.9l-.6-1.2M282.2,191.1l.4-1.3M286.5,186.6l1.3-.2M291.6,187.3l1.3,.4 1.2,.3 1.3,.3M297.9,188.9l1.2,.4M309,199.9l-.8,1M307.5,202.1l-1,.8 -.9,.9M301.9,203.6l-1-.9M295.6,197l-1-.9M293,192.5l-.3-1.2M292.6,190l.1-1.3 .5-1.3M293.9,186.3l.7-1.1M295.6,184.4l1.1-.7M299.1,182.6l1.3-.1 1.2,.3" fill="none" stroke="#70f4e0" stroke-width="1.0" stroke-linejoin="round" stroke-linecap="round"/>
<path d="M296.7,203.4l-1.3,0M292.3,194.3l1.4,0M307.3,188.7l-1.2,.2M301.8,191.8l-.4,1.2M299.1,199.1l-.4,1.3M297.9,204.2l-.4,1.2M296.7,209.3l.4,1.3 -.1,1.3M306.7,202.8l0-1.3M307.1,196.4l.1-1.3M306.4,192.6l-.9-.9M298.5,192.2l-.9,1M293.6,206.7l-.1,1.3M301.3,206.1l-.2-1.3 0-1.3 -.1-1.3M299.4,194.6l-.2-1.3 0-1.3M309.4,188l0,1.3M309,190.5l-.7,1.1 -.6,1.2M305.6,196.1l-1.1,.6M277.5,194.4l-1.3-.3M300.1,190.3l.2,1.3M300.9,192.8l.7,1.1M302.1,202.7l-.6,1.2M283.6,186.9l1.2,.5 1.1,.7M288.2,189.4l1,.8M296,193.6l1.1,.7M304,194l1-.8M305.8,192.1l.6-1.2M301.3,182.9l-1.3-.3M287,185.9l-.8,1 -1,.8M277.9,196l.4,1.3M280.4,191.3l1.2-.5M293.6,193.4l1.3,.4M303.5,196.4l1.2-.3M305.9,195.5l1-.9M307.5,193.5l.4-1.3M307.9,190.9l-.2-1.3M290.2,190.8l-1.1,.7M284.2,193.5l-1.3,.3 -1.3,.2M293.2,210.3l1.3,.3M308.9,205.8l-.3-1.2M294.6,203.3l.9,1M296.5,205.1l1.3,.4M299,205.1l1.3,.1 1.3-.1M306.8,205.4l1.3,.3M298,212.8l-.8-1M294.9,208.7l-.9-1M283.4,194.7l-.7-1.1M282.1,192.4l.1-1.3M282.6,189.8l.7-1.1 1-.8M285.3,187.1l1.2-.5M300.3,189.8l1.3,.3M302.8,190.6l1.3,.4 1.2,.4M304.3,204.2l-1.3,0 -1.1-.6M299.9,201.8l-.8-1M298,200l-.8-1M297.8,183.1l1.3-.5" fill="none" stroke="#c8f850" stroke-width="1.0" stroke-linejoin="round" stroke-linecap="round"/>
<path d="M291.1,194.6l1.2-.3M300.8,197.5l1,.8M305.4,199.8l1,.8M308.6,188.6l-1.3,.1M303.8,190.1l-1.2,.7 -.8,1M306.9,204.1l-.2-1.3M305.5,191.7l-1.1-.7 -1.2-.4 -1.3,0M300.6,190.8l-1.2,.5M297.6,193.2l-.8,1M295.8,196.7l.2,1.3M299.4,195.9l0-1.3M299.5,189.4l-.2-1.3M299.2,184.2l.5-1.2M307.1,193.9l-.7,1.1M296.8,196.3l-1.3,0M298.2,187l.8,1M300.3,191.6l.6,1.2M301.5,203.9l-.6,1.1M278.7,196.7l-.9-1M290.3,191l.8,1M292.3,192.6l1.1,.6M307,189.8l.1-1.3M285.2,187.7l-1.1,.8M278.9,192.5l-.8,1M277.7,194.7l.2,1.3M277.4,197l.5-1.2M287.9,190.6l1.2,.5M291.1,192.8l1.3,.3 1.2,.3M307.9,192.2l0-1.3M277.8,194.6l-1.3,.4M295.7,211.1l1.3,.1M308.3,203.3l-.4-1.3M297.6,196.9l-1.1,.8M301.6,205.1l1.3,0M284.3,187.9l1-.8M296.6,188.8l1.3,.1M301.6,190.1l1.2,.5M308.2,200.9l-.7,1.2M297.2,199l-.9-.9M294.6,196.1l-.7-1.1 -.5-1.2 -.4-1.3" fill="none" stroke="#f8e820" stroke-width="1.0" stroke-linejoin="round" stroke-linecap="round"/>
<path d="M299.6,197l1.2,.5M307.2,195.1l-.1-1.3 -.7-1.2M300.4,199.6l-.4-1.2M307.7,192.8l-.6,1.1M306.4,195l-.8,1.1M301.6,193.9l.7,1.1 .4,1.3 .2,1.3M277.5,194.4l-.1-1.3M294.7,193.3l1.3,.3M301.9,195.6l1.1-.8M277.9,195.8l.4-1.3 .4-1.2M294.9,193.8l1.2,.6M300.9,196.1l1.3,.3M304.7,196.1l1.2-.6M306.5,198.4l-.8-1M299.1,189.3l1.2,.5M305.3,191.4l1.1,.7 1.2,.4" fill="none" stroke="#ff8c10" stroke-width="1.0" stroke-linejoin="round" stroke-linecap="round"/>
<path d="M293.7,194.3l1.2,.5 1.1,.6 1.2,.4 1.2,.7 1.2,.5M301.4,193l-.5,1.2 -.5,1.2 -.4,1.3 -.4,1.2M306.7,201.5l0-1.3M301.9,190.6l-1.3,.2M296.8,194.2l-.6,1.2 -.4,1.3M300,198.4l-.4-1.2 -.2-1.3M299.2,192l.1-1.3M304.5,196.7l-1.3,.5 -1.3,0 -1.3-.1 -1.3-.2 -1.2-.3 -1.3-.3M280.1,194.3l-1.3,.1 -1.3,0M299.4,189.2l.7,1.1M277.8,195.7l-.3-1.3M297.1,194.3l1,.8 1.3,.5 1.2,.2 1.3-.2M278.1,193.5l-.4,1.2M296.1,194.4l1,.7 1.2,.5 1.3,.1 1.3,.4M302.2,196.4l1.3,0M306.9,194.6l.6-1.1M307.7,189.6l-.3-1.3M280.3,194.1l-1.3,.1 -1.2,.4M307.2,200.9l-.2-1.2M304.7,196.6l-1-.9 -1.3-.4 -1.3,0 -1.2,.3 -1.2,.5 -1.1,.8M296.3,198.1l-.7-1.1" fill="none" stroke="#ff2a00" stroke-width="1.0" stroke-linejoin="round" stroke-linecap="round"/>
<rect x="203.6" y="223.6" width="59.8" height="47.9" fill="#000080"/>
<circle cx="233.5" cy="247.6" r="21.8" fill="none" stroke="#8080c8" stroke-width="0.5"/>
<circle cx="233.5" cy="247.6" r="14.4" fill="none" stroke="#8080c8" stroke-width="0.5"/>
<circle cx="233.5" cy="247.6" r="7.2" fill="none" stroke="#8080c8" stroke-width="0.5"/>
<line x1="211.7" y1="247.6" x2="255.3" y2="247.6" stroke="#b8b8f0" stroke-width="0.6"/>
<line x1="233.5" y1="225.8" x2="233.5" y2="269.4" stroke="#8888d0" stroke-width="0.5"/>
<path d="M237.5,251.6l.2,1.3 .1,1.3 .3,1.2 .3,1.3 .4,1.3 -.1,1.3 -.3,1.2 -.6,1.2 -.9,1 -1,.8 -1.3,.2 -1.3,.2 -1.3-.2 -1.3-.1 -1.2-.4 -1.3-.3 -1.2-.6 -1.1-.7 -.8-1 -.8-1.1 -.4-1.2 -.5-1.2 -.3-1.3 .1-1.3 0-1.3 .3-1.3 .4-1.3 .3-1.2 .3-1.3 -.4-1.2 -.2-1.3 -.1-1.3 .2-1.3 .1-1.3 .1-1.3 .1-1.3 .3-1.3 .4-1.3 .1-1.3 .2-1.3 0-1.3 .4-1.2 .6-1.2 1-.8 1.2-.6 1.3-.2 1.2,.4 1.1,.7 .8,1.1 .5,1.1 .6,1.2 .9,1 .5,1.2 .4,1.2 .4,1.3 .7,1.1 .6,1.1 .6,1.2 .7,1.1 .3,1.3 .2,1.3 .6,1.1 .4,1.3 .1,1.3 .6,1.1 .2,1.3 .2,1.3 .1,1.3 .6,1.2 .8,1 .5,1.2 0,1.4 -.2,1.2 -.4,1.3 -.6,1.1 -1,1 -1.1,.7 -1.1,.5 -1.3,.3 -1.3-.1 -1.3-.3 -1.3-.3 -1.2-.6 -1-.8 -1-.8 -.6-1.2 -.6-1.2 -.5-1.2 -.4-1.2 -.6-1.2 -.6-1.2 -.4-1.2 -.6-1.2 -.5-1.1 -.7-1.1 -.5-1.3 -.5-1.2 -.6-1.2 -.6-1.1 -.3-1.3 -.4-1.2 -.6-1.2 -.5-1.2 -.4-1.2 0-1.3 .4-1.3 .7-1.1 1-.8 1.3-.4 1.3-.1 1.2,.4 1.3,.3 1.3,.1 1.3,.1 1.3,.1 1.3,0 1.3-.1 1.3,.2 1.3,0 1.3,.3 1.3,.1 1.3,.3 1.1,.7 .8,1 .7,1.1 .4,1.3 .1,1.3 .2,1.3 .6,1.1 .2,1.3 .2,1.3 .3,1.3 .3,1.2 .3,1.3 .2,1.3 .4,1.3 .1,1.3 .4,1.2 .2,1.3 .2,1.3 .1,1.3 -.2,1.3 -.3,1.2 -.8,1.1 -1,.8 -1.3,.2 -1.3,.2 -1.3,.3 -1.2,.4 -1.3,.2 -1.3,.1 -1.3-.3 -1.3-.3 -1.2-.4 -1.1-.7 -1-.8 -.7-1.2 -.2-1.3 0-1.3 -.3-1.2 -.2-1.3 .3-1.3 .1-1.3 -.1-1.3 -.1-1.3 -.1-1.3 -.2-1.3 -.2-1.3 -.2-1.3 -.5-1.2 .2-1.3 -.1-1.3 -.4-1.3 .1-1.3 .6-1.2 .8-1 .9-.9 1.3-.3 1.3-.1 1.3,.3 1.1,.6 1,.9 .9,.9 .4,1.3 .4,1.2 .1,1.3 .3,1.3 .6,1.1 .2,1.3 .5,1.2 .6,1.2 .5,1.2 .8,1 .5,1.2 .5,1.2 .4,1.3 .2,1.3 -.1,1.3 -.4,1.2 -.6,1.2 -1,.8 -1.2,.5 -1.3,.4 -1.2-.3 -1.3-.3 -1.2-.6 -1-.7 -1.2-.6 -1.1-.7 -1.3-.4 -1.2-.4 -1.1-.7 -.8-1 -1-.9 -1-.8 -1-.9 -1.1-.6 -1.2-.7 -1.3-.1 -1.2-.5 -1.1-.7 -.7-1.1 -.3-1.3 0-1.3 .3-1.2 .4-1.3 .7-1.1 .7-1.1 .7-1.1 .5-1.2 .9-.9 .6-1.2 .9-.9 1-.9 .9-1 1-.8 1-.8 1.3-.4 1-.8 1.1-.6 1-.9 1.2-.5 1.3-.3 1.2-.5 1.3-.2 1.3-.1 1.3,.4 1.1,.7 1,.7 .8,1.1 .5,1.2 .9,.9 .9,1 .6,1.1 .6,1.2 .5,1.2 .2,1.3 .2,1.3 -.1,1.3 -.4,1.2 -.8,1.1 -1,.9 -1.2,.5 -1.3-.2 -1.2-.2 -1.3-.3 -1.3-.2 -1.3-.2 -1.3,0 -1.3-.3 -1.3-.2 -1.3-.1 -1.3-.2 -1.3-.1 -1.3-.1 -1.2-.4 -1.2-.6 -1.2-.5 -1-.9 -.9-.9 -.4-1.3 -.1-1.3 .1-1.3 .3-1.3 .3-1.2 .8-1.1 .9-.9 1.2-.5 1.2-.5 1.3-.3 1.3,.1 1.3,.4 1.2,.5 1,.8 1,.9 .7,1.1 .3,1.2 .6,1.2 .4,1.2 -.1,1.3 .2,1.3 .2,1.3 .1,1.3 .2,1.3 .1,1.3 .2,1.3 .5,1.2 .4,1.3 .4,1.2 .4,1.3 .4,1.2 .2,1.3 -.1,1.3 .3,1.3 .3,1.3 .4,1.2 .3,1.3 .4,1.2 -.2,1.3 -.4,1.3 -.7,1.1 -.9,.9 -1.2,.6 -1.2,.3 -1.3,.3 -1.3-.3 -1.2-.5 -1.1-.7 -1-.9 -.9-.8 -1-.9 -1.1-.8 -.7-1.1 -.9-.9 -.7-1.1 -.9-1 -.9-1 -.7-1 -.4-1.3 -.4-1.2 -.3-1.3 -.2-1.3 -.2-1.3 .2-1.3 0-1.3 -.3-1.3 0-1.3 -.3-1.3 -.2-1.2 0-1.3 .3-1.3 .1-1.3 .1-1.3 -.2-1.3 -.5-1.2 -1-1 -1-.7 -.7,.1 -.4,.5 -.7,.8 -.6,.9 -.7,1.1 -.5,1.2 -.5,1.2 -.1,1.3 .1,1.3 0,1.3 -.2,1.3 0,1.3 .4,1.2 .6,1.2 .9,.9 1,.8 1.2,.6 1.2,.4 1.3,.2 1.2-.5 1.2-.7 .8-1 .5-1.2 .6-1.2 .4-1.2 0-1.3 -.3-1.3 -.5-1.2 -.7-1.2 -.6-1.1 -.4-1.2 -.1-1.3 .5-1.3 .2-1.2 .6-1.2 1-.9 1.2-.5 1.3-.1 1.3,.1 1.3,.2 1.2,.5 1.2,.6 1.2,.4 1.2,.6 1.1,.7 1,.8 .9,.9 1,1 .8,.9 .9,1 .9,.9 1,1 .8,.9 .9,1 .9,1 .6,1.1 .9,1 .9,.9 1.1,.7 1.1,.7 1.2,.5 1.3,.3 1.3,0 .9-.2 0-.4 0-.5 0-.9 0-1.1 -.2-1.2 -.2-1.3 -.5-1.2 -.6-1.1 -.7-1.1 -1-1 -1-.8 -1.3-.3 -1.2-.3 -1.3-.4 -1.3-.3 -1.2-.2 -1.3-.5 -1.3-.2 -1.3-.1 -1.3-.1 -1.3,0 -1.3-.2 -1.2-.4 -1.3,.1 -1.3,0 -1.3-.3 -1.3-.2 -1.3-.3 -1.3,0 -1.3-.2 -1.2-.4 -1.3-.2 -1.3,.2 -1.2,.5 -1,.9 -.6,1.1 .1,1.3 .5,1.2 .5,1.2 1,.9 .6,1.2 .8,1 1.1,.7 .8,1 1,.8 .8,1.1 .9,.9 1,1 .8,.9 1.1,.8 .9,.9 .9,1 .6,1.1 .9,1 .8,1 .8,1 .7,1.1 1,1 .8,.9 1.1,.8 .4,1.3 0,1.3 -.4,1.2 -.7,1.1 -1,.9 -1.1,.8 -1.1,.7 -1.3,0 -1.3-.3 -1.1-.7 -.9-.9 -.9-1 -.3-1.3 -.1-1.3 -.4-1.2 -.5-1.2 0-1.4 .3-1.2 .3-1.3 .1-1.3 -.1-1.3 -.1-1.3 -.4-1.3 -.3-1.2 -.2-1.3 .1-1.3 -.2-1.3 -.1-1.3 0-1.3 0-1.4 -.1-1.3 -.1-1.3 .1-1.3 .1-1.3 -.4-1.2 0-1.3 .3-1.3 .5-1.2 .6-1.2 1.1-.7 1.2-.3 1.4-.1 1.2,.2 1.3,.4 1.1,.7 1.1,.7 .8,1 .6,1.2 .3,1.2 0,1.3 .2,1.3 0,1.3 -.1,1.4 .1,1.3 0,1.3 .2,1.3 .3,1.2 0,1.4 -.1,1.3 -.1,1.3 -.1,1.3 -.1,1.3 .2,1.3 .3,1.2 .1,1.3 .3,1.3 -.1,1.3 .1,1.3 0,1.3 .3,1.3 .4,1.3 .2,1.3 -.2,1.2 -.4,1.3 -.5,1.1 -.9,.2 -1.1,.3 -1.1,.2 -1.3,.1 -1.3,.1 -1.3-.2 -1.2-.5 -.7-1.1 -.3-1.3 -.1-1.3 .3-1.3 .1-1.3 .2-1.3 .2-1.3 .3-1.2 .1-1.3 0-1.3 .3-1.3 .3-1.3 .5-1.2 .3-1.3 -.1-1.3 -.5-1.2 -.4-1.2 -.5-1.2 -.8-1.1 -1-.8 -1.1-.7 -1.2-.5 -1.3-.1 -1.3,0 -1.3,.2 -1.3,.4 -1.1,.7 -1,.8 -1,.9 -.9,.9 -.6,1.2 -.2,1.3 -.2,1.3 0,1.3 .2,1.3 .7,1.1 1,.8" fill="none" stroke="#12a8ff" stroke-width="1.0" stroke-linejoin="round" stroke-linecap="round"/>
<path d="M238.4,260.5l-.6,1.2M236.9,262.7l-1,.8M234.6,263.7l-1.3,.2M229.5,263.2l-1.3-.3M223.2,253.2l.3-1.3M225.3,232.6l.4-1.2M226.3,230.2l1-.8M228.5,228.8l1.3-.2M242.9,255.8l.5,1.2 0,1.4 -.2,1.2 -.4,1.3M235.1,264.1l-1.3-.3M229.4,259.2l-.5-1.2M226.9,253.2l-.6-1.2M229.2,234.7l1.3,.1M243.9,239.8l.1,1.3 .2,1.3M244.8,243.5l.2,1.3M244.1,263.5l-1.3,.2M235.1,264.1l-1.2-.4M231.1,261l-.2-1.3M230.7,254.6l.1-1.3M230.5,249.4l-.2-1.3M230.1,246.8l-.2-1.3M229.1,240.4l.1-1.3 .6-1.2 .8-1M240.9,247l.6,1.2 .5,1.2 .8,1M244.2,254.1l.2,1.3 -.1,1.3 -.4,1.2 -.6,1.2M236.1,259.6l-1-.7M233.9,258.3l-1.1-.7 -1.3-.4M227.4,254.2l-1-.8 -1-.9M219.5,249.9l-.7-1.1 -.3-1.3 0-1.3 .3-1.2M228.1,232.7l1.3-.4M232.5,230l1.2-.5M246.5,236.7l.5,1.2 .2,1.3M245.1,245l-1.2,.5M237.5,244.4l-1.3,0M234.9,244.1l-1.3-.2 -1.3-.1M236.6,241.7l.1,1.3M236.9,244.3l.1,1.3M237.2,246.9l.5,1.2M239.8,265.7l-.9,.9M228.7,263.7l-1.1-.8M221.2,246.5l0-1.3M220.5,235l-1-1M218.5,233.3l-.7,.1M217.1,249.7l1.2,.6 1.2,.4M241.7,239.9l1,1M243.5,241.8l.9,1M253.7,249l.9-.2 0-.4 0-.5M246.6,237.2l-1.3-.3 -1.2-.2M241.5,236l-1.3-.1M231.2,235l-1.3-.2M219.4,236.4l.1,1.3M224.8,244.9l1,.8M226.6,246.8l.9,.9M228.5,248.7l.8,.9M230.4,250.4l.9,.9M232.2,252.3l.6,1.1 .9,1M237.2,266l-1.1,.8M228.5,257l.3-1.3M228.9,254.4l-.1-1.3M227.8,248l.1-1.3 -.2-1.3M227.6,241.4l-.1-1.3M227.4,238.8l.1-1.3M232.3,228.9l1.2,.2M239,251.3l.2,1.3M240.6,265.4l-.4,1.3M239.7,267.8l-.9,.2M234,268.7l-1.3-.2M231,260.4l.2-1.3M231.5,257.9l.1-1.3M231.6,255.3l.3-1.3M232.2,252.7l.5-1.2M232,246.5l-.5-1.2M220.1,244.2l-1,.9 -.9,.9M217.2,249.8l0,1.3" fill="none" stroke="#30d8ff" stroke-width="1.0" stroke-linejoin="round" stroke-linecap="round"/>
<path d="M237.5,251.6l.2,1.3M237.8,254.2l.3,1.2 .3,1.3M237.8,261.7l-.9,1M228.2,262.9l-1.2-.6M225.9,261.6l-.8-1M224.3,259.5l-.4-1.2M223.4,257.1l-.3-1.3M223.2,254.5l0-1.3M223.9,250.6l.3-1.2 .3-1.3 -.4-1.2M224.6,237.8l.4-1.3M225.7,231.4l.6-1.2M227.3,229.4l1.2-.6M229.8,228.6l1.2,.4M232.9,230.8l.5,1.1M236.2,237.8l.7,1.1M238.1,241.2l.7,1.1M239.9,246l.4,1.3M240.4,248.6l.6,1.1M240.1,263.7l-1.1,.5M237.7,264.5l-1.3-.1M232.6,263.2l-1-.8M228.5,256.8l-.6-1.2 -.6-1.2 -.4-1.2M225.8,250.9l-.7-1.1M224.6,248.5l-.5-1.2 -.6-1.2 -.6-1.1M220.7,237.6l.4-1.3M221.8,235.2l1-.8M240.9,235.7l1.1,.7M244.2,242.4l.6,1.1M245,244.8l.2,1.3M237.7,264.7l-1.3-.3M232.8,263l-1-.8M230.9,259.7l0-1.3M230.7,252l-.1-1.3M229.9,245.5l-.5-1.2M229.6,243l-.1-1.3 -.4-1.3M231.5,236l1.3-.3M239.2,240.8l.1,1.3M240.4,245.8l.5,1.2M243.3,259.1l-1,.8M230.3,256.8l-1.1-.7 -.8-1 -1-.9M225.4,252.5l-1.1-.6 -1.2-.7M221.8,251.1l-1.2-.5 -1.1-.7M218.8,245l.4-1.3M233.7,229.5l1.3-.3M245.9,235.5l.6,1.2M246.1,244.1l-1,.9M242.6,245.3l-1.2-.2M238.8,244.6l-1.3-.2M232.3,243.8l-1.3-.2M222.5,236.2l.3-1.3M223.1,233.7l.8-1.1M224.8,231.7l1.2-.5M227.2,230.7l1.3-.3M232.3,231.4l1,.8M236.2,239.1l.2,1.3M238.1,249.4l.4,1.2 .4,1.3 .4,1.2 .2,1.3 -.1,1.3 .3,1.3 .3,1.3M238.9,266.6l-1.2,.6M236.5,267.5l-1.3,.3M232.7,267l-1.1-.7M227.6,262.9l-.7-1.1M226,260.9l-.7-1.1M224.4,258.8l-.9-1M222.8,256.8l-.4-1.3M221.3,250.4l.2-1.3M221.2,245.2l-.3-1.3M221.2,237.5l-.2-1.3 -.5-1.2M216.1,248.9l1,.8M219.5,250.7l1.3,.2M225.1,246.3l.4-1.2M225.2,231.9l1.2-.5M231.5,232.1l1.2,.6M239.1,237.1l.8,.9M245.3,243.8l.6,1.1M247.9,237.6l-1.3-.4M242.8,236.2l-1.3-.2M233.8,235.3l-1.3,0M223.5,233.7l-1.3,.2M221,234.4l-1,.9 -.6,1.1M225.8,245.7l.8,1.1M227.5,247.7l1,1M229.3,249.6l1.1,.8M236,257.5l1,1 .8,.9M239.3,262.8l-.4,1.2M236.1,266.8l-1.1,.7 -1.3,0M232.4,267.2l-1.1-.7M228.7,260.8l-.5-1.2M228.3,250.5l-.3-1.2M227.5,240.1l-.1-1.3M228.6,230l1.1-.7M230.9,229l1.4-.1M233.5,229.1l1.3,.4M238.4,233.1l.3,1.2M238.9,238.2l-.1,1.4M238.9,240.9l0,1.3M239.4,246.1l-.1,1.3 -.1,1.3 -.1,1.3 -.1,1.3M239.2,252.6l.3,1.2 .1,1.3 .3,1.3M240.8,264.2l-.2,1.2M237.7,268.3l-1.1,.2 -1.3,.1 -1.3,.1M232.7,268.5l-1.2-.5 -.7-1.1M231.6,256.6l0-1.3M231.5,245.3l-.8-1.1M221.1,243.4l-1,.8M217.6,247.2l-.2,1.3 -.2,1.3" fill="none" stroke="#70f4e0" stroke-width="1.0" stroke-linejoin="round" stroke-linecap="round"/>
<path d="M238.4,256.7l.4,1.3M223.5,251.9l.4-1.3M224.2,240.4l.1-1.3 .3-1.3M233.4,231.9l.6,1.2M235.8,236.5l.4,1.3M240.3,247.3l.1,1.3M242.8,260.9l-.6,1.1 -1,1M233.8,263.8l-1.2-.6M231.6,262.4l-1-.8 -.6-1.2M228.9,258l-.4-1.2M225.1,249.8l-.5-1.3M221.1,240.1l-.4-1.2M226.6,234.3l1.3,.3 1.3,.1M230.5,234.8l1.3,.1 1.3,0M237,235l1.3,.3M242.8,263.7l-1.3,.3M240.3,264.4l-1.3,.2M233.9,263.7l-1.1-.7M230.9,258.4l-.3-1.2M238.4,238.3l.4,1.3 .4,1.2M239.6,243.4l.6,1.1M242.3,259.9l-1.2,.5M238.6,260.5l-1.3-.3M219.2,243.7l.7-1.1M227.1,233.5l1-.8M229.4,232.3l1-.8 1.1-.6M246.9,243l-.8,1.1M241.4,245.1l-1.3-.3M231,243.6l-1.3-.1M228.4,243.4l-1.2-.4M223.9,232.6l.9-.9M229.8,230.5l1.3,.4M233.3,232.2l1,.9M235.9,236.6l.4,1.2M240,258.3l.4,1.2 .3,1.3 .4,1.2 -.2,1.3M237.7,267.2l-1.2,.3M235.2,267.8l-1.3-.3 -1.2-.5M230.6,265.4l-.9-.8 -1-.9M221.7,253l-.2-1.3 -.2-1.3M220.7,242.7l0-1.3M221,240.1l.1-1.3M222,250.4l1.2-.7 .8-1 .5-1.2 .6-1.2M223.6,234l.6-1.2 1-.9M227.7,231.3l1.3,.1 1.3,.2 1.2,.5M244.4,242.8l.9,1M232.5,235.3l-1.3-.3M228.6,234.5l-1.3,0M219.5,237.7l.5,1.2M224,243.9l.8,1M231.3,251.3l.9,1M238.2,265.1l-1,.9M233.7,267.5l-1.3-.3M231.3,266.5l-.9-.9 -.9-1M228.2,258.2l.3-1.2M227.6,244.1l0-1.3M227.5,237.5l.1-1.3 -.4-1.2M228,231.2l.6-1.2M229.7,229.3l1.2-.3M238.9,236.9l0,1.3M238.8,239.6l.1,1.3M239.9,256.4l-.1,1.3 .1,1.3M230.8,266.9l-.3-1.3 -.1-1.3M230.7,263l.1-1.3 .2-1.3M231.2,259.1l.3-1.2M231.9,254l.3-1.3M228.6,242.7l-1.2-.5" fill="none" stroke="#c8f850" stroke-width="1.0" stroke-linejoin="round" stroke-linecap="round"/>
<path d="M238.8,258l-.1,1.3 -.3,1.2M235.9,263.5l-1.3,.2M230.7,263.6l-1.2-.4M224.1,246.9l-.2-1.3M224,243l.1-1.3 .1-1.3M231,229l1.1,.7M236.9,238.9l.6,1.1 .6,1.2M239.1,243.6l.2,1.3 .6,1.1M239,264.2l-1.3,.3M236.4,264.4l-1.3-.3M230,260.4l-.6-1.2M220.7,238.9l0-1.3M238.3,235.3l1.3,.1M239,264.6l-1.3,.1M236.4,264.4l-1.3-.3M231.8,262.2l-.7-1.2M230.6,257.2l-.2-1.3M229.4,244.3l.2-1.3M230.6,236.9l.9-.9M237.5,237.4l.9,.9M239.3,242.1l.3,1.3M240.2,244.5l.2,1.3M239.8,260.8l-1.2-.3M231.5,257.2l-1.2-.4M223.1,251.2l-1.3-.1M219.9,242.6l.7-1.1M222.7,238.3l.6-1.2 .9-.9M231.5,230.9l1-.9M227.2,243l-1.2-.6M224.8,241.9l-1-.9 -.9-.9M231.1,230.9l1.2,.5M240.5,264.6l-.7,1.1M231.6,266.3l-1-.9M220.8,250.9l1.2-.5M224.7,241.3l-.7-1.2M223.4,239l-.4-1.2M232.7,232.7l1.2,.4 1.2,.6 1.1,.7M237.2,235.2l.9,.9M238.9,260.2l.4,1.3M229.5,264.6l-.3-1.3 -.1-1.3M228.8,255.7l.1-1.3M227.7,245.4l-.1-1.3M227.2,233.7l.3-1.3M238.7,234.3l0,1.3M239.1,243.5l.3,1.2 0,1.4M239.9,259l0,1.3 .3,1.3 .4,1.3M230.7,244.2l-1-.8M227.4,242.2l-1.3-.1M222.2,242.7l-1.1,.7" fill="none" stroke="#f8e820" stroke-width="1.0" stroke-linejoin="round" stroke-linecap="round"/>
<path d="M233.3,263.9l-1.3-.2 -1.3-.1M223.9,245.6l-.1-1.3M225,236.5l.1-1.3M235.4,235.3l.4,1.2M238.8,242.3l.3,1.3M222.2,242.5l-.6-1.2M224.1,234l1.3-.1M236.5,236.5l1,.9M241.1,260.4l-1.3,.4M224.2,236.2l1-.9M240.1,244.8l-1.3-.2M229.7,243.5l-1.3-.1M226,242.4l-1.2-.5M222.5,238.8l-.1-1.3M234.3,233.1l.7,1.1M235.3,235.4l.6,1.2M225.5,245.1l0-1.3 -.3-1.3 -.5-1.2M238.1,236.1l1,1M240.2,235.9l-1.3-.1M229.9,234.8l-1.3-.3M222.9,243.2l1.1,.7M237.8,259.4l1.1,.8M238.9,264l-.7,1.1M227.6,242.8l0-1.4M238.7,235.6l.2,1.3M238.9,242.2l.2,1.3M240.6,262.9l.2,1.3M230.4,264.3l.3-1.3M229.7,243.4l-1.1-.7M226.1,242.1l-1.3,0M223.5,242.3l-1.3,.4" fill="none" stroke="#ff8c10" stroke-width="1.0" stroke-linejoin="round" stroke-linecap="round"/>
<path d="M223.8,244.3l.2-1.3M225.1,235.2l.2-1.3 0-1.3M232.1,229.7l.8,1.1M234,233.1l.9,1 .5,1.2M241.2,263l-1.1,.7M222.9,245l-.3-1.3 -.4-1.2M221.6,241.3l-.5-1.2M221.1,236.3l.7-1.1M222.8,234.4l1.3-.4M225.4,233.9l1.2,.4M233.1,234.9l1.3-.1 1.3,.2 1.3,0M241.5,264l-1.2,.4M232.8,235.7l1.3-.1 1.3,.3 1.1,.6M220.6,241.5l.7-1.1 .5-1.2 .9-.9M225.2,235.3l.9-1 1-.8M222.9,240.1l-.4-1.3M222.4,237.5l.1-1.3M222.8,234.9l.3-1.2M226,231.2l1.2-.5M228.5,230.4l1.3,.1M235,234.2l.3,1.2M240.9,263.3l-.4,1.3M220.9,243.9l-.2-1.2M220.7,241.4l.3-1.3M221.1,238.8l.1-1.3M224,240.1l-.6-1.1M223,237.8l-.1-1.3 .5-1.3 .2-1.2M226.4,231.4l1.3-.1M236.2,234.4l1,.8M238.9,235.8l-1.3,0 -1.3-.2 -1.2-.4 -1.3,.1M227.3,234.5l-1.3-.2 -1.2-.4 -1.3-.2M222.2,233.9l-1.2,.5M220,238.9l.5,1.2 1,.9 .6,1.2 .8,1M239.3,261.5l0,1.3M227.2,235l0-1.3M227.5,232.4l.5-1.2M224.8,242.1l-1.3,.2" fill="none" stroke="#ff2a00" stroke-width="1.0" stroke-linejoin="round" stroke-linecap="round"/>
<rect x="263.4" y="223.6" width="59.7" height="47.9" fill="#000080"/>
<circle cx="293.2" cy="247.6" r="21.8" fill="none" stroke="#8080c8" stroke-width="0.5"/>
<circle cx="293.2" cy="247.6" r="14.4" fill="none" stroke="#8080c8" stroke-width="0.5"/>
<circle cx="293.2" cy="247.6" r="7.2" fill="none" stroke="#8080c8" stroke-width="0.5"/>
<line x1="271.4" y1="247.6" x2="315.1" y2="247.6" stroke="#b8b8f0" stroke-width="0.6"/>
<line x1="293.2" y1="225.8" x2="293.2" y2="269.4" stroke="#8888d0" stroke-width="0.5"/>
<path d="M297.7,250.9l.8,1 .8,1 .7,1.1 .1,1.3 .2,1.3 -.4,1.3 -.7,1.1 -1,.8 -1.2,.5 -1.2,.5 -1.3,.3 -1.3,0 -1.3,.4 -1.1,.7 -.9,1 -.5,1.1 -.3,1.3 -.1,1.3 .1,1.3 .1,.1 .8,.1 .7,.1 1.1,.1 1.1,.1 1.1,0 1.3-.1 1.2-.2 1.3-.2 1.3-.4 1-.8 1.1-.7 1-.9 .7-1 .6-1.2 .2-1.3 -.1-1.3 -.5-1.2 -.8-1.1 -1.1-.7 -.9-1 -1-.8 -.9-.9 -1-.9 -.9-.9 -.9-1 -.9-.9 -1-.9 -.8-1 -.6-1.1 -1.1-.8 -.8-1 -.9-1 -.9-1 -1-.8 -.8-1 -.5-1.2 -.4-1.3 -.2-1.3 .1-1.3 .5-1.2 .9-.9 1.1-.7 1.2-.3 1.4,.1 1.2,.2 1,.8 1.2,.6 1.1,.7 1.2,.6 1.2,.6 1.1,.5 1.2,.7 1.1,.6 1.3,.4 1.2,.5 1.1,.8 1,.8 .6,1.1 .7,1.1 .7,1.1 .4,1.3 .3,1.3 0,1.3 -.2,1.3 -.1,1.3 -.7,1.1 -.6,1.1 -.9,1 -.9,.9 -1.2,.4 -1.1,.7 -1.1,.7 -1.2,.5 -1.1,.8 -1.1,.7 -1.2,.5 -1.2,.6 -1.1,.6 -1.1,.7 -1.1,.8 -1.1,.6 -1.3,.5 -1.2,.2 -1.3-.3 -1.3-.4 -1.1-.6 -1.2-.6 -1.1-.7 -1.2-.5 -1.1-.7 -1-.8 -.9-1 -.5-1.2 -.3-1.3 0-1.3 .2-1.3 .4-1.2 .7-1.1 .6-1.2 .9-.9 1.1-.7 1.2-.5 1.3-.4 1.2-.5 1.3-.2 1.3-.1 1.2,.4 1.2,.6 .8,1 .6,1.2 .2,1.3 .7,1.1 .2,1.3 .2,1.3 .4,1.2 .3,1.3 .6,1.2 .2,1.2 .2,1.3 .4,1.3 .4,1.2 -.5,1.3 -.7,1.1 -1,.7 -1.3,.5 -1.3,.2 -1.3-.2 -1.2-.5 -.7-1.1 -.8-1.1 -.4-1.2 -.9-1 -.8-1 -.6-1.2 -.9-.9 -.4-1.3 -.5-1.2 -.7-1.1 -.5-1.2 -.8-1 -.8-1 -1.1-.7 -1.1-.7 -1-.9 -.9-.9 -.6-1.2 -.3-1.3 -.2-1.3 -.1-1.3 -.3-1.3 -.1-1.3 .3-1.2 .8-1 1.1-.8 1.2-.6 1.2-.4 1.3-.1 1.3,.1 1.3,.1 1.3,.3 1.3,.1 1.2,.5 1.3,.2 1.3,.2 1.3,.2 1.3-.1 1.3,.3 1.3,.2 1.3-.1 1.3-.2 1.3,.2 1.3-.1 1.3,.2 1.2,.2 1.3-.3 1.3-.3 1-.8 1-.9 .5-1.2 .3-1.2 -.1-1.3 -.3-1.3 -.4-1.3 -.8-1 -1.1-.7 -1.1-.7 -1.1-.6 -1.2-.5 -1.2-.4 -1.2-.4 -1.3-.2 -1.3,0 -1.2,.7 -.9,.8 -.6,1.2 -.9,1 -.6,1.1 -1.1,.8 -.6,1.1 -.1,1.3 .2,1.3 .3,1.3 .8,1 .9,1 1,.9 .8,1 .8,1 1.1,.8 1,.8 .7,1.1 .8,1.1 .9,.9 .8,1 1,.9 .9,.9 1,.9 .7,1 .6,1.2 .6,1.2 0,1.3 -.4,1.2 -.9,1 -.8,1 -1.2,.7 -1.2,.4 -1.3,.2 -1.3-.3 -1.3-.2 -1.2-.5 -.9-.9 -.6-1.2 -.2-1.3 -.5-1.2 -.7-1.1 -.5-1.2 -.5-1.2 -.2-1.3 -.7-1.2 -.4-1.2 -.5-1.2 -.4-1.2 -.5-1.2 -.6-1.2 -.3-1.3 -.2-1.3 .2-1.3 .6-1.2 1-.9 1.2-.5 1.2-.2 1.3,.1 1.3,.3 1.2,.6 .9,1 .3,1.2 .7,1.2 .6,1.1 .6,1.2 .6,1.1 .5,1.2 .4,1.3 .6,1.2 .5,1.1 .5,1.2 .9,1 .7,1.2 .1,1.3 .7,1.1 .7,1.1 .4,1.3 0,1.3 -.1,1.3 -.6,1.1 -.8,1.1 -1.1,.8 -1.2,.5 -1.3,.1 -1.3-.2 -1.2-.3 -1.3-.4 -1.2-.5 -1.1-.7 -1.1-.6 -1-.9 -1.2-.7 -1.2-.5 -1.2-.3 -1.3-.3 -1.2-.5 -1.2-.5 -1.3-.4 -1.2-.4 -1-.9 -.9-.9 -.6-1.2 .1-1.3 .4-1.2 .7-1.1 .5-1.2 .3-1.3 .5-1.2 .2-1.3 -.1-1.3 .2-1.3 .4-1.3 .5-1.2 .8-1 1.1-.7 1-.9 1.2-.6 1.2-.3 1.3,0 1.3,.2 1.3,.3 1.2,.4 1.3,.2 1.3,.2 1.3,.3 1.3,.2 1.2,.5 1.3,.2 1.3,.2 1.3,.2 1.2,.4 1.3,.5 1.3,.1 1.3-.2 1.2,.3 1.2,.5 .9,1 .6,1.1 .2,1.3 .2,1.3 0,1.3 -.2,1.3 -.4,1.3 -.9,.9 -1,.8 -1.3,.3 -1.2,.5 -1.2,.5 -1.3,.2 -1.3,.2 -1.2,.5 -1.3,.4 -1.2,.5 -1.3,.3 -1.2,.3 -1.3,.3 -1.2,.5 -1.2,.6 -1.3,.3 -1.3,0 -1.1,.7 -1.2,.4 -1.3,.3 -1.3,.2 -1.3,.2 -1.2,.6 -1.3,0 -1.3-.2 -1.2-.6 -1-.7 -.6-1.2 -.2-1.3 -.1-1.3 -.3-1.3 -.2-1.3 0-1.3 -.3-1.3 .4-1.2 .4-1.3 .3-1.2 0-1.3 -.6-1.2 -.3-1.3 -.6-1.1 -.4-1.3 -.1-1.3 .2-1.3 .6-1.1 .9-1 1.1-.7 1.2-.5 1.3-.3 1.3,0 1.3,.2 1.2,.5 1,.7 1.2,.7 .9,1 .8,1 .6,1.1 0,1.4 .1,1.3 .8,1 .9,.9 1.2,.5 1.3,.2 1.3-.2 1.2-.6 1.2-.6 1.2-.5 1.1-.7 .9-.9 1.1-.7 1.1-.8 .7-1.1 0-1.3 .3-1.3 -.7-1.1 -.8-1 -1.1-.8 -1.2-.5 -1.3-.3 -1.3-.1 -1.3,.2 -.9,.9 -1,.9 -.7,1 -.9,1 -1.1,.8 -1.1,.7 -1,.8 -1.1,.7 -1.1,.7 -.8,1 -.9,1 -1.1,.8 -.8,1 -1.1,.7 -.7,1.1 -.6,1.2 -.4,1.2 -.3,1.3 .1,1.3 .4,1.2 .7,1.1 .9,1 1.1,.7 1.3,.2 1.3,.3 1.3,.2 1.3,.1 1.3-.2 1.3,0 1.3-.2 1.2-.3 1.2-.6 1.3-.4 1.2-.3 1.2-.6 1.3-.3 1.3-.3 1.2-.4 1.2-.4 1.2-.7 1.2-.5 1.3,0 1.2,.3 1.2,.7 1,.8 1,.9 .5,.8 -.2,.8 -.2,1.1 -.3,1.1 -.4,1.2 -.5,1.2 -.7,1 -.9,1 -1.1,.7 -1.2,.5 -1.3,.2 -1.3,.3 -1.2,.4 -1.2,.5 -1.2,.6 -1.3,.4 -1.3,.1 -1.2,.4 -1.3,.4 -1.1,.6 -1.3,.3 -1.3,.2 -1.3-.2 -1.3-.2 -1.2-.4 -1-.8 -1-.9 -.8-1 -.3-1.3 -.4-1.2 0-1.3 -.6-1.2 -.2-1.3 -.6-1.2 0-1.3 -.5-1.2 -.2-1.3 0-1.3 .1-1.3 .5-1.2 .7-1.1 1-.8 1.3-.2 1.3,.4 1.2,.6 1.3,.2 1.2,.3 1.2,.6 1.2,.4 1.2,.6 1.2,.5 1.2,.6 1.1,.6 1.3,.5 1.2,.3 1.2,.5 1.3,.4 1.2,.5 1.1,.6 1,.9 .8,1 .4,1.3 .1,1.3 -.2,1.3 -.3,1.2 -.5,1.2 -.8,1.1 -1,.8 -1.2,.4 -1.2,.6 -1.3,.2 -1.3-.1 -1.3-.2 -1.3-.4 -1-.8 -1-.8 -.8-1 -.9-.9 -1-.9 -.9-1 -.8-1 -1-.8 -1-.9 -.8-1 -.9-.9 -.8-1.1 -.9-1 -1-.8 -1.1-.7 -.8-1 -1-.8 -1-1 -1-.8 -.9-.9 -.9-.9 -1.2-.6 -1.1-.6 -.9-1 -.7-1.1 -.2-1.3 .1-1.3 .5-1.2 .8-1.1 1.3-.4 1.3,0 1.2-.4 1.3-.2 1.3-.2 1.3-.2 1.3,0 1.3-.1 1.3,0 1.2-.5 1.3-.1 1.3-.3 1.3-.2 1.2-.6" fill="none" stroke="#12a8ff" stroke-width="1.0" stroke-linejoin="round" stroke-linecap="round"/>
<path d="M298.5,251.9l.8,1M300,254l.1,1.3 .2,1.3M293.2,261.1l-1.3,.4M289.1,265.6l-.1,1.3M290,268.4l.7,.1 1.1,.1M292.9,268.7l1.1,0M301.2,257.6l-.9-1 -1-.8 -.9-.9M297.4,254l-.9-.9 -.9-1 -.9-.9 -1-.9 -.8-1M301.2,239.8l1.3,.4 1.2,.5M307.8,245.6l.4,1.3M306.9,254.3l-.9,1M291.5,263.8l-1.3,.5M289,264.5l-1.3-.3M285.3,263.2l-1.2-.6M278,256.4l0-1.3M279.9,250.3l.9-.9M286.9,247.1l1.3-.1M291.4,249l.6,1.2M292.2,251.5l.7,1.1M293.7,256.4l.3,1.3M295.4,262.7l.4,1.2M292.3,267.5l-1.3,.2M289.7,267.5l-1.2-.5M284.3,260.4l-.9-.9M282.5,257l-.7-1.1M274.3,240.6l.8-1 1.1-.8M277.4,238.2l1.2-.4 1.3-.1M294.1,239.8l1.3-.1M304.4,239.4l1-.8M306.4,237.7l.5-1.2M307.2,235.3l-.1-1.3M306.8,232.7l-.4-1.3M305.6,230.4l-1.1-.7M303.4,229l-1.1-.6M294,228.4l-.6,1.2M292.5,230.6l-.6,1.1 -1.1,.8M294.9,242.4l1.1,.8M297.7,245.1l.8,1.1M304.6,256.7l-.9,1M302.9,258.7l-1.2,.7M292,252.1l-.5-1.2M289.7,257.9l-1.2-.3M286,256.8l-1.2-.5 -1.3-.4M282.4,242.6l.2-1.3 .4-1.3 .5-1.2M296.5,236.6l1.3,.3 1.3,.2 1.2,.5M301.6,237.8l1.3,.2M304.2,238.2l1.2,.4 1.3,.5M313,248.4l-.9,.9M311.1,250.1l-1.3,.3M303.6,252.3l-1.3,.4M299.8,253.5l-1.2,.3M291.2,256.2l-1.2,.4 -1.3,.3M281.1,257.1l-1-.7M278.7,250l0-1.3M278.4,247.4l.4-1.2M279.5,243.7l0-1.3M278.9,241.2l-.3-1.3M278,238.8l-.4-1.3M279.2,232.8l1.1-.7M281.5,231.6l1.3-.3M284.1,231.3l1.3,.2 1.2,.5 1,.7M295.4,241.8l1.3-.2M305.5,233.1l-.7-1.1M304,231l-1.1-.8 -1.2-.5 -1.3-.3M296.9,230.4l-1,.9M294.3,233.3l-1.1,.8M284.3,250.9l1.1,.7 1.3,.2 1.3,.3M294.5,252l1.2-.3 1.2-.6M298.2,250.7l1.2-.3 1.2-.6M305.6,248.4l1.2-.7 1.2-.5 1.3,0M310.5,247.5l1.2,.7M312.7,249l1,.9M298.7,262.2l-1.3,.4M295,263.5l-1.3,.2M287.1,260.2l-.3-1.3M286.4,256.4l-.6-1.2M285.6,253.9l-.6-1.2 0-1.3M284.9,245.1l.7-1.1M290.4,244l1.3,.2M292.9,244.5l1.2,.6M295.3,245.5l1.2,.6 1.2,.5 1.2,.6M303.7,249.1l1.3,.4M307.8,259.9l-1,.8 -1.2,.4M297.2,259.6l-.8-1M291.8,254l-1-.9M289.1,251.2l-.8-1.1M280.6,243.1l-.9-.9M278.5,241.6l-1.1-.6 -.9-1M275.8,238.9l-.2-1.3M275.7,236.3l.5-1.2M280.8,233.2l1.3-.2 1.3-.2 1.3-.2 1.3,0 1.3-.1 1.3,0 1.2-.5M291.1,231.9l1.3-.3" fill="none" stroke="#30d8ff" stroke-width="1.0" stroke-linejoin="round" stroke-linecap="round"/>
<path d="M297.7,250.9l.8,1M300.3,256.6l-.4,1.3M294.5,261.1l-1.3,0M290.8,262.2l-.9,1 -.5,1.1M289,266.9l.1,1.3M289.2,268.3l.8,.1M302.9,264.4l.6-1.2M303.1,259.4l-.8-1.1M298.4,254.9l-1-.9M292.3,248.2l-1.1-.8M290.4,246.4l-.9-1M288.6,244.4l-1-.8M285.8,237.5l.5-1.2 .9-.9M294.3,236.1l1.1,.7M296.6,237.4l1.2,.6M300.1,239.2l1.1,.6M308.5,248.2l0,1.3 -.2,1.3M306,255.3l-.9,.9 -1.2,.4 -1.1,.7 -1.1,.7M287.7,264.2l-1.3-.4M278,255.1l.2-1.3M284.4,247.8l1.2-.5 1.3-.2M289.4,247.4l1.2,.6M293.1,253.9l.2,1.3M293.6,267l-1.3,.5M288.5,267l-.7-1.1M287,264.8l-.4-1.2M285.7,262.6l-.8-1M281.3,254.7l-.8-1M278.6,252l-1.1-.7M276.2,238.8l1.2-.6M281.2,237.8l1.3,.1 1.3,.3M287.6,239l1.3,.2M295.4,239.7l1.3-.2M298,239.7l1.3-.1M300.6,239.8l1.2,.2M293.3,240.4l.8,1 .8,1M298.5,246.2l.9,.9M303.1,250.8l.7,1 .6,1.2 .6,1.2M305,255.5l-.4,1.2M303.7,257.7l-.8,1M301.7,259.4l-1.2,.4 -1.3,.2M295.4,259l-.9-.9M291.3,249.6l-.7-1.2M290.2,247.2l-.5-1.2M288.2,242.4l-.3-1.3M294.5,236.1l1.2,.6M296.6,237.7l.3,1.2M297.6,240.1l.6,1.1M299.9,244.7l.4,1.3 .6,1.2M302.8,250.5l.7,1.2 .1,1.3 .7,1.1M305,255.2l.4,1.3 0,1.3M301.6,262.6l-1.3,.1 -1.3-.2M294.2,260.6l-1.1-.6M287.2,257.3l-1.2-.5M281.3,254.6l-.9-.9M280.3,250l.7-1.1M285.4,237.1l1-.9M293.9,236.2l1.3,.2M300.3,237.6l1.3,.2M302.9,238l1.3,.2M309.8,250.4l-1.2,.5M306.1,251.6l-1.3,.2M301.1,253.2l-1.3,.3M298.6,253.8l-1.3,.3M286.1,257.3l-1.2,.6M283.6,257.9l-1.3-.2M278.9,251.3l-.2-1.3M279.2,244.9l.3-1.2M277.6,237.5l-.1-1.3M277.7,234.9l.6-1.1M291.1,236.5l0,1.4M291.2,239.2l.8,1M292.9,241.1l1.2,.5M297.9,241l1.2-.6M286.1,239.8l-.8,1 -1.1,.7 -.7,1.1M282.7,248.8l.7,1.1 .9,1M288,252.1l1.3,.2 1.3,.1M291.9,252.2l1.3,0 1.3-.2M303.2,249.2l1.2-.4M309.9,258.8l-1.2,.5M301.2,261.7l-1.3,.1M297.4,262.6l-1.1,.6 -1.3,.3M291.1,263.3l-1.2-.4M286.8,258.9l-.4-1.2 0-1.3M284.4,246.3l.5-1.2M289.2,243.4l1.2,.6M298.9,247.2l1.1,.6M301.3,248.3l1.2,.3M305,249.5l1.2,.5 1.1,.6M308.3,251.5l.8,1M309.1,257.6l-.5,1.2M301.8,261.8l-1.3-.2M296.4,258.6l-.9-.9M290.8,253.1l-.8-1 -.9-.9M287.4,249.1l-1-.8M282.5,244.8l-1-.8 -.9-.9M277,234l1.3-.4M279.6,233.6l1.2-.4M289.8,232l1.3-.1M292.4,231.6l1.3-.2" fill="none" stroke="#70f4e0" stroke-width="1.0" stroke-linejoin="round" stroke-linecap="round"/>
<path d="M292.9,249.3l-.6-1.1M291.2,247.4l-.8-1M286.8,242.6l-.5-1.2M285.9,240.1l-.2-1.3 .1-1.3M287.2,235.4l1.1-.7M280.8,249.4l1.1-.7 1.2-.5M290.2,239.4l1.3-.1 1.3,.3 1.3,.2M291.4,238.5l.9,1M289.7,246l-.4-1.2 -.5-1.2M281.5,247.7l.3-1.3M282.3,245.2l.2-1.3 -.1-1.3M283.5,238.8l.8-1M286.4,236.2l1.2-.6M279.5,242.4l-.6-1.2M278.6,239.9l-.6-1.1M287.6,232.7l1.2,.7M294.1,241.6l1.3,.2M283.5,242.6l-.6,1.2M282.5,245l-.3,1.3 .1,1.3M285,251.4l-.5-1.2 -.2-1.3M284.3,247.6l.1-1.3M287.9,243l1.3,.4M286.4,248.3l-1.1-.7 -.8-1 -1-.8M279.7,242.2l-1.2-.6" fill="none" stroke="#c8f850" stroke-width="1.0" stroke-linejoin="round" stroke-linecap="round"/>
<path d="M299.3,252.9l.7,1.1M299.9,257.9l-.7,1.1M289.4,264.3l-.3,1.3M289.1,268.2l.1,.1M303.5,263.2l.2-1.3 -.1-1.3 -.5-1.2M302.3,258.3l-1.1-.7M292.1,234.7l1,.8 1.2,.6M295.4,236.8l1.2,.6M297.8,238l1.1,.5M308.3,250.8l-.1,1.3M300.5,258.5l-1.1,.8M292.6,263.2l-1.1,.6M290.2,264.3l-1.2,.2M278.2,253.8l.4-1.2 .7-1.1 .6-1.2M283.1,248.2l1.3-.4M288.2,247l1.2,.4M294,257.7l.6,1.2 .2,1.2M295,261.4l.4,1.3M291,267.7l-1.3-.2M283,258.2l-.5-1.2M281.8,255.9l-.5-1.2M283.8,238.2l1.3,.1M288.9,239.2l1.3,.2M296.7,239.5l1.3,.2M299.3,239.6l1.3,.2M301.8,240l1.3-.3M290.3,236.2l.3,1.3 .8,1M292.3,239.5l1,.9M299.4,247.1l.8,1M302.1,249.9l1,.9M305,254.2l0,1.3M293.9,256.9l-.2-1.3M293.2,254.4l-.7-1.1M291.5,250.9l-.2-1.3M290.6,248.4l-.4-1.2M288.8,243.6l-.6-1.2M287.7,239.8l.2-1.3 .6-1.2M291.9,235.7l1.3,.1 1.3,.3M296.9,238.9l.7,1.2M301.9,249.5l.9,1M304.3,254.1l.7,1.1M305.3,259.1l-.6,1.1M299,262.5l-1.2-.3M295.3,261.3l-1.1-.7M288.5,257.6l-1.3-.3M282.3,255.5l-1-.9M279.8,252.5l.1-1.3 .4-1.2M281,248.9l.5-1.2M281.8,246.4l.5-1.2M284.3,237.8l1.1-.7M292.7,235.8l1.2,.4M295.2,236.4l1.3,.2M308.6,250.9l-1.2,.5M304.8,251.8l-1.2,.5M296.1,254.6l-1.2,.6 -1.3,.3 -1.3,0M288.7,256.9l-1.3,.2 -1.3,.2M280.1,256.4l-.6-1.2 -.2-1.3M279.2,252.6l-.3-1.3M291.1,237.9l.1,1.3M292,240.2l.9,.9M296.7,241.6l1.2-.6M299.1,240.4l1.2-.5M301.4,239.2l.9-.9M290,236.3l-1.1,.7 -.8,1M282.9,243.8l-.4,1.2M282.3,247.6l.4,1.2M301.9,249.5l1.3-.3M307.4,259.5l-1.3,.3 -1.2,.4M303.7,260.7l-1.2,.6 -1.3,.4M299.9,261.8l-1.2,.4M292.4,263.5l-1.3-.2M284.3,248.9l0-1.3M285.6,244l1-.8 1.3-.2M302.5,248.6l1.2,.5M307.3,250.6l1,.9M303.1,261.9l-1.3-.1M295.5,257.7l-1-.9M293.6,255.8l-.8-1 -1-.8M283.5,245.8l-1-1" fill="none" stroke="#f8e820" stroke-width="1.0" stroke-linejoin="round" stroke-linecap="round"/>
<path d="M299.2,259l-1,.8M295.8,260.8l-1.3,.3M287.6,243.6l-.8-1M286.3,241.4l-.4-1.3M289.5,234.4l1.4,.1M298.9,238.5l1.2,.7M299.4,259.3l-1.1,.7 -1.2,.5M290.6,248l.8,1M292,250.2l.2,1.3M279.7,252.7l-1.1-.7M285.1,238.3l1.2,.5 1.3,.2M300.2,248.1l1,.9 .9,.9M297.9,259.7l-1.3-.2 -1.2-.5M294.5,258.1l-.6-1.2M293.7,255.6l-.5-1.2M287.9,241.1l-.2-1.3M295.7,236.7l.9,1M301.4,248.3l.5,1.2M303.9,261.3l-1.1,.8 -1.2,.5M297.8,262.2l-1.3-.4M280.4,253.7l-.6-1.2M291.4,235.5l1.3,.3M300.3,239.9l1.1-.7M288.1,238l-.9,1 -1.1,.8M290.6,252.4l1.3-.2M300.6,249.8l1.3-.3M304.9,260.2l-1.2,.5M300,247.8l1.3,.5M304.4,261.7l-1.3,.2M300.5,261.6l-1.3-.4 -1-.8 -1-.8M294.5,256.8l-.9-1" fill="none" stroke="#ff8c10" stroke-width="1.0" stroke-linejoin="round" stroke-linecap="round"/>
<path d="M298.2,259.8l-1.2,.5 -1.2,.5M289.5,245.4l-.9-1M288.3,234.7l1.2-.3M290.9,234.5l1.2,.2M301.7,258l-1.2,.5M297.1,260.5l-1.2,.6 -1.1,.6 -1.1,.7M292.9,252.6l.2,1.3M293.3,255.2l.4,1.2M294.8,260.1l.2,1.3M280.5,253.7l-.8-1M290.8,232.5l-.6,1.1 -.1,1.3 .2,1.3M299.2,260l-1.3-.3M292.5,253.3l-.5-1.2M288.5,237.3l1-.9 1.2-.5 1.2-.2M300.9,247.2l.5,1.1M304.7,260.2l-.8,1.1M296.5,261.8l-1.2-.5M287.6,235.6l1.2-.3 1.3,0 1.3,.2M279.3,253.9l-.1-1.3M288.8,233.4l.9,1 .8,1 .6,1.1M293.2,234.1l-1.1,.7 -1,.8 -1.1,.7M305.6,261.1l-1.2,.6" fill="none" stroke="#ff2a00" stroke-width="1.0" stroke-linejoin="round" stroke-linecap="round"/>
<line x1="263.4" y1="176.0" x2="263.4" y2="271.5" stroke="#c8c8e8" stroke-width="0.9"/>
<line x1="203.6" y1="223.6" x2="323.1" y2="223.6" stroke="#c8c8e8" stroke-width="0.9"/>
<text x="233.2" y="174.0" font-size="11.5" text-anchor="middle" textLength="18.9" lengthAdjust="spacingAndGlyphs" fill="#231f20" stroke="#231f20" stroke-width="0.12">C57</text>
<text x="292.3" y="174.0" font-size="11.5" text-anchor="middle" textLength="17.2" lengthAdjust="spacingAndGlyphs" fill="#231f20" stroke="#231f20" stroke-width="0.12">PS1</text>
<text x="197.0" y="200.2" font-size="11.5" text-anchor="middle" textLength="37.2" lengthAdjust="spacingAndGlyphs" transform="rotate(-90 197.0 200.2)" fill="#231f20" stroke="#231f20" stroke-width="0.12">Vehicle</text>
<text x="197.0" y="247.3" font-size="11.5" text-anchor="middle" textLength="16.0" lengthAdjust="spacingAndGlyphs" transform="rotate(-90 197.0 247.3)" fill="#231f20" stroke="#231f20" stroke-width="0.12">A-E</text>
<text x="215.3" y="390.9" font-size="9.6" text-anchor="end" fill="#231f20" stroke="#231f20" stroke-width="0.12">0</text>
<line x1="216.7" y1="345.7" x2="221.6" y2="345.7" stroke="#666" stroke-width="1"/>
<text x="215.3" y="349.1" font-size="9.6" text-anchor="end" fill="#231f20" stroke="#231f20" stroke-width="0.12">30</text>
<line x1="216.7" y1="303.9" x2="221.6" y2="303.9" stroke="#666" stroke-width="1"/>
<text x="215.3" y="307.3" font-size="9.6" text-anchor="end" fill="#231f20" stroke="#231f20" stroke-width="0.12">60</text>
<text x="195.9" y="343.9" font-size="10.6" text-anchor="middle" textLength="41.4" lengthAdjust="spacingAndGlyphs" transform="rotate(-90 195.9 343.9)" fill="#231f20" stroke="#231f20" stroke-width="0.12">Time (%)</text>
<rect x="234.3" y="330.4" width="14.4" height="57.1" fill="none" stroke="#66c2a5" stroke-width="1" stroke-opacity="0.85"/>
<line x1="241.5" y1="388.2" x2="241.5" y2="392.3" stroke="#555" stroke-width="1"/>
<path d="M233.6,323.4a1.9,1.9 0 1,0 3.8,0a1.9,1.9 0 1,0 -3.8,0M239.6,317.8a1.9,1.9 0 1,0 3.8,0a1.9,1.9 0 1,0 -3.8,0M245.6,316.4a1.9,1.9 0 1,0 3.8,0a1.9,1.9 0 1,0 -3.8,0M236.6,327.6a1.9,1.9 0 1,0 3.8,0a1.9,1.9 0 1,0 -3.8,0M239.6,322.0a1.9,1.9 0 1,0 3.8,0a1.9,1.9 0 1,0 -3.8,0M242.6,331.8a1.9,1.9 0 1,0 3.8,0a1.9,1.9 0 1,0 -3.8,0M233.6,338.7a1.9,1.9 0 1,0 3.8,0a1.9,1.9 0 1,0 -3.8,0M245.6,340.1a1.9,1.9 0 1,0 3.8,0a1.9,1.9 0 1,0 -3.8,0M239.6,335.9a1.9,1.9 0 1,0 3.8,0a1.9,1.9 0 1,0 -3.8,0M236.6,331.8a1.9,1.9 0 1,0 3.8,0a1.9,1.9 0 1,0 -3.8,0M239.6,347.1a1.9,1.9 0 1,0 3.8,0a1.9,1.9 0 1,0 -3.8,0M242.6,335.9a1.9,1.9 0 1,0 3.8,0a1.9,1.9 0 1,0 -3.8,0" fill="none" stroke="#66c2a5" stroke-width="0.8"/>
<path d="M241.5,334.0V326.8M238.5,326.8h6M238.5,334.0h6M236.5,330.4h10" stroke="#66c2a5" stroke-width="1" fill="none"/>
<text x="244.4" y="402.0" font-size="9.0" text-anchor="end" transform="rotate(-41 244.4 402.0)" fill="#231f20" stroke="#231f20" stroke-width="0.12">C57/vehicle</text>
<rect x="256.2" y="331.2" width="14.4" height="56.3" fill="none" stroke="#fc8d62" stroke-width="1" stroke-opacity="0.85"/>
<line x1="263.4" y1="388.2" x2="263.4" y2="392.3" stroke="#555" stroke-width="1"/>
<path d="M255.5,323.4a1.9,1.9 0 1,0 3.8,0a1.9,1.9 0 1,0 -3.8,0M261.5,312.3a1.9,1.9 0 1,0 3.8,0a1.9,1.9 0 1,0 -3.8,0M267.5,320.6a1.9,1.9 0 1,0 3.8,0a1.9,1.9 0 1,0 -3.8,0M258.5,326.2a1.9,1.9 0 1,0 3.8,0a1.9,1.9 0 1,0 -3.8,0M264.5,327.6a1.9,1.9 0 1,0 3.8,0a1.9,1.9 0 1,0 -3.8,0M267.5,323.4a1.9,1.9 0 1,0 3.8,0a1.9,1.9 0 1,0 -3.8,0M261.5,335.9a1.9,1.9 0 1,0 3.8,0a1.9,1.9 0 1,0 -3.8,0M258.5,338.7a1.9,1.9 0 1,0 3.8,0a1.9,1.9 0 1,0 -3.8,0M258.5,348.5a1.9,1.9 0 1,0 3.8,0a1.9,1.9 0 1,0 -3.8,0M264.5,347.1a1.9,1.9 0 1,0 3.8,0a1.9,1.9 0 1,0 -3.8,0M261.5,331.8a1.9,1.9 0 1,0 3.8,0a1.9,1.9 0 1,0 -3.8,0M267.5,330.4a1.9,1.9 0 1,0 3.8,0a1.9,1.9 0 1,0 -3.8,0" fill="none" stroke="#fc8d62" stroke-width="0.8"/>
<path d="M263.4,335.0V327.4M260.4,327.4h6M260.4,335.0h6M258.4,331.2h10" stroke="#fc8d62" stroke-width="1" fill="none"/>
<text x="266.3" y="402.0" font-size="9.0" text-anchor="end" transform="rotate(-41 266.3 402.0)" fill="#231f20" stroke="#231f20" stroke-width="0.12">C57/A-E</text>
<rect x="278.0" y="346.8" width="14.4" height="40.7" fill="none" stroke="#8da0cb" stroke-width="1" stroke-opacity="0.85"/>
<line x1="285.2" y1="388.2" x2="285.2" y2="392.3" stroke="#555" stroke-width="1"/>
<path d="M277.3,347.1a1.9,1.9 0 1,0 3.8,0a1.9,1.9 0 1,0 -3.8,0M283.3,333.2a1.9,1.9 0 1,0 3.8,0a1.9,1.9 0 1,0 -3.8,0M289.3,335.9a1.9,1.9 0 1,0 3.8,0a1.9,1.9 0 1,0 -3.8,0M280.3,341.5a1.9,1.9 0 1,0 3.8,0a1.9,1.9 0 1,0 -3.8,0M286.3,341.5a1.9,1.9 0 1,0 3.8,0a1.9,1.9 0 1,0 -3.8,0M283.3,348.5a1.9,1.9 0 1,0 3.8,0a1.9,1.9 0 1,0 -3.8,0M277.3,351.3a1.9,1.9 0 1,0 3.8,0a1.9,1.9 0 1,0 -3.8,0M289.3,348.5a1.9,1.9 0 1,0 3.8,0a1.9,1.9 0 1,0 -3.8,0M283.3,355.5a1.9,1.9 0 1,0 3.8,0a1.9,1.9 0 1,0 -3.8,0M280.3,359.6a1.9,1.9 0 1,0 3.8,0a1.9,1.9 0 1,0 -3.8,0M283.3,352.7a1.9,1.9 0 1,0 3.8,0a1.9,1.9 0 1,0 -3.8,0M286.3,345.7a1.9,1.9 0 1,0 3.8,0a1.9,1.9 0 1,0 -3.8,0" fill="none" stroke="#8da0cb" stroke-width="0.8"/>
<path d="M285.2,349.3V344.3M282.2,344.3h6M282.2,349.3h6M280.2,346.8h10" stroke="#8da0cb" stroke-width="1" fill="none"/>
<text x="288.1" y="402.0" font-size="9.0" text-anchor="end" transform="rotate(-41 288.1 402.0)" fill="#231f20" stroke="#231f20" stroke-width="0.12">PS1/vehicle</text>
<rect x="299.8" y="334.6" width="14.4" height="52.9" fill="none" stroke="#e78ac3" stroke-width="1" stroke-opacity="0.85"/>
<line x1="307.0" y1="388.2" x2="307.0" y2="392.3" stroke="#555" stroke-width="1"/>
<path d="M299.1,323.4a1.9,1.9 0 1,0 3.8,0a1.9,1.9 0 1,0 -3.8,0M305.1,317.8a1.9,1.9 0 1,0 3.8,0a1.9,1.9 0 1,0 -3.8,0M311.1,327.6a1.9,1.9 0 1,0 3.8,0a1.9,1.9 0 1,0 -3.8,0M302.1,327.6a1.9,1.9 0 1,0 3.8,0a1.9,1.9 0 1,0 -3.8,0M308.1,331.8a1.9,1.9 0 1,0 3.8,0a1.9,1.9 0 1,0 -3.8,0M305.1,334.6a1.9,1.9 0 1,0 3.8,0a1.9,1.9 0 1,0 -3.8,0M299.1,341.5a1.9,1.9 0 1,0 3.8,0a1.9,1.9 0 1,0 -3.8,0M311.1,342.9a1.9,1.9 0 1,0 3.8,0a1.9,1.9 0 1,0 -3.8,0M305.1,340.1a1.9,1.9 0 1,0 3.8,0a1.9,1.9 0 1,0 -3.8,0M302.1,348.5a1.9,1.9 0 1,0 3.8,0a1.9,1.9 0 1,0 -3.8,0M308.1,337.3a1.9,1.9 0 1,0 3.8,0a1.9,1.9 0 1,0 -3.8,0M305.1,349.9a1.9,1.9 0 1,0 3.8,0a1.9,1.9 0 1,0 -3.8,0" fill="none" stroke="#e78ac3" stroke-width="0.8"/>
<path d="M307.0,338.2V330.9M304.0,330.9h6M304.0,338.2h6M302.0,334.6h10" stroke="#e78ac3" stroke-width="1" fill="none"/>
<text x="309.9" y="402.0" font-size="9.0" text-anchor="end" transform="rotate(-41 309.9 402.0)" fill="#231f20" stroke="#231f20" stroke-width="0.12">PS1/A-E</text>
<line x1="221.6" y1="303.4" x2="221.6" y2="387.5" stroke="#ababab" stroke-width="1.2"/>
<line x1="217.2" y1="387.5" x2="327.2" y2="387.5" stroke="#b0b0b0" stroke-width="1.4"/>
<polyline points="241.5,306.8 241.5,300.6 283.5,300.6 283.5,306.8" fill="none" stroke="#444444" stroke-width="0.9"/>
<text x="263.3" y="302.8" font-size="14" text-anchor="middle" fill="#231f20" stroke="#231f20" stroke-width="0.12">**</text>
<polyline points="286.2,306.8 286.2,300.6 307.0,300.6 307.0,306.8" fill="none" stroke="#444444" stroke-width="0.9"/>
<text x="297.4" y="302.8" font-size="14" text-anchor="middle" fill="#231f20" stroke="#231f20" stroke-width="0.12">*</text>
<polyline points="263.4,292.0 263.4,285.4 307.0,285.4 307.0,292.0" fill="none" stroke="#444444" stroke-width="0.9"/>
<text x="285.7" y="282.7" font-size="9.2" text-anchor="middle" textLength="11.0" lengthAdjust="spacingAndGlyphs" fill="#231f20" stroke="#231f20" stroke-width="0.12">NS</text>
<text x="348.4" y="174.3" font-size="15.8" font-weight="bold" fill="#000">d</text>
<text x="377.6" y="174.1" font-size="11" textLength="17.6" lengthAdjust="spacingAndGlyphs" fill="#231f20" stroke="#231f20" stroke-width="0.12">11M</text>
<line x1="404.4" y1="194.5" x2="404.4" y2="276.4" stroke="#444444" stroke-width="1"/>
<line x1="400.2" y1="276.4" x2="404.4" y2="276.4" stroke="#444444" stroke-width="1"/>
<text x="395.2" y="279.8" font-size="9.6" text-anchor="end" fill="#231f20" stroke="#231f20" stroke-width="0.12">0</text>
<line x1="400.2" y1="249.1" x2="404.4" y2="249.1" stroke="#444444" stroke-width="1"/>
<text x="395.2" y="252.5" font-size="9.6" text-anchor="end" fill="#231f20" stroke="#231f20" stroke-width="0.12">30</text>
<line x1="400.2" y1="221.8" x2="404.4" y2="221.8" stroke="#444444" stroke-width="1"/>
<text x="395.2" y="225.2" font-size="9.6" text-anchor="end" fill="#231f20" stroke="#231f20" stroke-width="0.12">60</text>
<line x1="400.2" y1="194.5" x2="404.4" y2="194.5" stroke="#444444" stroke-width="1"/>
<text x="395.2" y="197.9" font-size="9.6" text-anchor="end" fill="#231f20" stroke="#231f20" stroke-width="0.12">90</text>
<line x1="408.5" y1="276.4" x2="516.0" y2="276.4" stroke="#444444" stroke-width="1"/>
<line x1="408.5" y1="276.4" x2="408.5" y2="280.6" stroke="#444444" stroke-width="1"/>
<text x="408.5" y="293.0" font-size="9.6" text-anchor="middle" fill="#231f20" stroke="#231f20" stroke-width="0.12">1</text>
<line x1="430.0" y1="276.4" x2="430.0" y2="280.6" stroke="#444444" stroke-width="1"/>
<text x="430.0" y="293.0" font-size="9.6" text-anchor="middle" fill="#231f20" stroke="#231f20" stroke-width="0.12">2</text>
<line x1="451.5" y1="276.4" x2="451.5" y2="280.6" stroke="#444444" stroke-width="1"/>
<text x="451.5" y="293.0" font-size="9.6" text-anchor="middle" fill="#231f20" stroke="#231f20" stroke-width="0.12">3</text>
<line x1="473.0" y1="276.4" x2="473.0" y2="280.6" stroke="#444444" stroke-width="1"/>
<text x="473.0" y="293.0" font-size="9.6" text-anchor="middle" fill="#231f20" stroke="#231f20" stroke-width="0.12">4</text>
<line x1="494.5" y1="276.4" x2="494.5" y2="280.6" stroke="#444444" stroke-width="1"/>
<text x="494.5" y="293.0" font-size="9.6" text-anchor="middle" fill="#231f20" stroke="#231f20" stroke-width="0.12">5</text>
<line x1="516.0" y1="276.4" x2="516.0" y2="280.6" stroke="#444444" stroke-width="1"/>
<text x="516.0" y="293.0" font-size="9.6" text-anchor="middle" fill="#231f20" stroke="#231f20" stroke-width="0.12">6</text>
<text x="369.8" y="235.7" font-size="11.2" text-anchor="middle" textLength="52.3" lengthAdjust="spacingAndGlyphs" transform="rotate(-90 369.8 235.7)" fill="#231f20" stroke="#231f20" stroke-width="0.12">Latency (s)</text>
<path d="M408.5,218.2V207.2M404.9,218.2h7.2M404.9,207.2h7.2M430.0,233.6V224.5M426.4,233.6h7.2M426.4,224.5h7.2M451.5,243.6V236.4M447.9,243.6h7.2M447.9,236.4h7.2M473.0,255.5V250.0M469.4,255.5h7.2M469.4,250.0h7.2M494.5,259.1V253.6M490.9,259.1h7.2M490.9,253.6h7.2M516.0,260.0V254.6M512.4,260.0h7.2M512.4,254.6h7.2" fill="none" stroke="#66c2a5" stroke-width="0.9" stroke-opacity="0.55"/>
<path d="M408.5,220.0V209.1M404.9,220.0h7.2M404.9,209.1h7.2M430.0,235.4V224.5M426.4,235.4h7.2M426.4,224.5h7.2M451.5,244.5V237.3M447.9,244.5h7.2M447.9,237.3h7.2M473.0,258.2V252.7M469.4,258.2h7.2M469.4,252.7h7.2M494.5,260.9V255.5M490.9,260.9h7.2M490.9,255.5h7.2M516.0,260.9V255.5M512.4,260.9h7.2M512.4,255.5h7.2" fill="none" stroke="#fc8d62" stroke-width="0.9" stroke-opacity="0.55"/>
<path d="M408.5,217.2V206.3M404.9,217.2h7.2M404.9,206.3h7.2M430.0,230.4V223.1M426.4,230.4h7.2M426.4,223.1h7.2M451.5,238.8V231.5M447.9,238.8h7.2M447.9,231.5h7.2M473.0,246.0V240.5M469.4,246.0h7.2M469.4,240.5h7.2M494.5,247.8V242.4M490.9,247.8h7.2M490.9,242.4h7.2M516.0,248.6V243.1M512.4,248.6h7.2M512.4,243.1h7.2" fill="none" stroke="#8da0cb" stroke-width="0.9" stroke-opacity="0.55"/>
<path d="M408.5,220.9V210.0M404.9,220.9h7.2M404.9,210.0h7.2M430.0,233.6V224.5M426.4,233.6h7.2M426.4,224.5h7.2M451.5,247.3V238.2M447.9,247.3h7.2M447.9,238.2h7.2M473.0,252.7V247.3M469.4,252.7h7.2M469.4,247.3h7.2M494.5,256.4V250.9M490.9,256.4h7.2M490.9,250.9h7.2M516.0,259.1V253.6M512.4,259.1h7.2M512.4,253.6h7.2" fill="none" stroke="#e78ac3" stroke-width="0.9" stroke-opacity="0.55"/>
<polyline points="408.5,212.7 430.0,229.1 451.5,240.0 473.0,252.7 494.5,256.4 516.0,257.3" fill="none" stroke="#66c2a5" stroke-width="1.1"/>
<circle cx="408.5" cy="212.7" r="2.4" fill="#66c2a5"/>
<circle cx="430.0" cy="229.1" r="2.4" fill="#66c2a5"/>
<circle cx="451.5" cy="240.0" r="2.4" fill="#66c2a5"/>
<circle cx="473.0" cy="252.7" r="2.4" fill="#66c2a5"/>
<circle cx="494.5" cy="256.4" r="2.4" fill="#66c2a5"/>
<circle cx="516.0" cy="257.3" r="2.4" fill="#66c2a5"/>
<polyline points="408.5,214.5 430.0,230.0 451.5,240.9 473.0,255.5 494.5,258.2 516.0,258.2" fill="none" stroke="#fc8d62" stroke-width="1.1"/>
<circle cx="408.5" cy="214.5" r="2.4" fill="#fc8d62"/>
<circle cx="430.0" cy="230.0" r="2.4" fill="#fc8d62"/>
<circle cx="451.5" cy="240.9" r="2.4" fill="#fc8d62"/>
<circle cx="473.0" cy="255.5" r="2.4" fill="#fc8d62"/>
<circle cx="494.5" cy="258.2" r="2.4" fill="#fc8d62"/>
<circle cx="516.0" cy="258.2" r="2.4" fill="#fc8d62"/>
<polyline points="408.5,211.8 430.0,226.7 451.5,235.2 473.0,243.3 494.5,245.1 516.0,245.8" fill="none" stroke="#8da0cb" stroke-width="1.1"/>
<circle cx="408.5" cy="211.8" r="2.4" fill="#8da0cb"/>
<circle cx="430.0" cy="226.7" r="2.4" fill="#8da0cb"/>
<circle cx="451.5" cy="235.2" r="2.4" fill="#8da0cb"/>
<circle cx="473.0" cy="243.3" r="2.4" fill="#8da0cb"/>
<circle cx="494.5" cy="245.1" r="2.4" fill="#8da0cb"/>
<circle cx="516.0" cy="245.8" r="2.4" fill="#8da0cb"/>
<polyline points="408.5,215.4 430.0,229.1 451.5,242.7 473.0,250.0 494.5,253.6 516.0,256.4" fill="none" stroke="#e78ac3" stroke-width="1.1"/>
<circle cx="408.5" cy="215.4" r="2.4" fill="#e78ac3"/>
<circle cx="430.0" cy="229.1" r="2.4" fill="#e78ac3"/>
<circle cx="451.5" cy="242.7" r="2.4" fill="#e78ac3"/>
<circle cx="473.0" cy="250.0" r="2.4" fill="#e78ac3"/>
<circle cx="494.5" cy="253.6" r="2.4" fill="#e78ac3"/>
<circle cx="516.0" cy="256.4" r="2.4" fill="#e78ac3"/>
<text x="494.8" y="245.0" font-size="14" text-anchor="middle" fill="#231f20" stroke="#231f20" stroke-width="0.12">*</text>
<text x="516.3" y="245.0" font-size="14" text-anchor="middle" fill="#231f20" stroke="#231f20" stroke-width="0.12">**</text>
<line x1="440.2" y1="181.0" x2="462.3" y2="181.0" stroke="#66c2a5" stroke-width="1.1" stroke-opacity="0.85"/>
<circle cx="451.2" cy="181.0" r="2.3" fill="#66c2a5"/>
<text x="467.7" y="184.2" font-size="9.3" textLength="49.3" lengthAdjust="spacingAndGlyphs" fill="#231f20" stroke="#231f20" stroke-width="0.12">C57/vehicle</text>
<line x1="440.2" y1="192.0" x2="462.3" y2="192.0" stroke="#fc8d62" stroke-width="1.1" stroke-opacity="0.85"/>
<circle cx="451.2" cy="192.0" r="2.3" fill="#fc8d62"/>
<text x="467.7" y="195.2" font-size="9.3" textLength="33.2" lengthAdjust="spacingAndGlyphs" fill="#231f20" stroke="#231f20" stroke-width="0.12">C57/A-E</text>
<line x1="440.2" y1="202.9" x2="462.3" y2="202.9" stroke="#8da0cb" stroke-width="1.1" stroke-opacity="0.85"/>
<circle cx="451.2" cy="202.9" r="2.3" fill="#8da0cb"/>
<text x="467.7" y="206.1" font-size="9.3" textLength="47.3" lengthAdjust="spacingAndGlyphs" fill="#231f20" stroke="#231f20" stroke-width="0.12">PS1/vehicle</text>
<line x1="440.2" y1="213.9" x2="462.3" y2="213.9" stroke="#e78ac3" stroke-width="1.1" stroke-opacity="0.85"/>
<circle cx="451.2" cy="213.9" r="2.3" fill="#e78ac3"/>
<text x="467.7" y="217.1" font-size="9.3" textLength="31.4" lengthAdjust="spacingAndGlyphs" fill="#231f20" stroke="#231f20" stroke-width="0.12">PS1/A-E</text>
<line x1="404.4" y1="308.4" x2="404.4" y2="389.3" stroke="#444444" stroke-width="1"/>
<line x1="400.2" y1="389.3" x2="404.4" y2="389.3" stroke="#444444" stroke-width="1"/>
<text x="395.2" y="392.7" font-size="9.6" text-anchor="end" fill="#231f20" stroke="#231f20" stroke-width="0.12">0</text>
<line x1="400.2" y1="362.3" x2="404.4" y2="362.3" stroke="#444444" stroke-width="1"/>
<text x="395.2" y="365.7" font-size="9.6" text-anchor="end" fill="#231f20" stroke="#231f20" stroke-width="0.12">300</text>
<line x1="400.2" y1="335.4" x2="404.4" y2="335.4" stroke="#444444" stroke-width="1"/>
<text x="395.2" y="338.8" font-size="9.6" text-anchor="end" fill="#231f20" stroke="#231f20" stroke-width="0.12">600</text>
<line x1="400.2" y1="308.4" x2="404.4" y2="308.4" stroke="#444444" stroke-width="1"/>
<text x="395.2" y="311.8" font-size="9.6" text-anchor="end" fill="#231f20" stroke="#231f20" stroke-width="0.12">900</text>
<line x1="408.4" y1="389.3" x2="513.7" y2="389.3" stroke="#444444" stroke-width="1"/>
<line x1="408.4" y1="389.3" x2="408.4" y2="393.5" stroke="#444444" stroke-width="1"/>
<text x="408.4" y="406.3" font-size="9.6" text-anchor="middle" fill="#231f20" stroke="#231f20" stroke-width="0.12">1</text>
<line x1="429.5" y1="389.3" x2="429.5" y2="393.5" stroke="#444444" stroke-width="1"/>
<text x="429.5" y="406.3" font-size="9.6" text-anchor="middle" fill="#231f20" stroke="#231f20" stroke-width="0.12">2</text>
<line x1="450.5" y1="389.3" x2="450.5" y2="393.5" stroke="#444444" stroke-width="1"/>
<text x="450.5" y="406.3" font-size="9.6" text-anchor="middle" fill="#231f20" stroke="#231f20" stroke-width="0.12">3</text>
<line x1="471.6" y1="389.3" x2="471.6" y2="393.5" stroke="#444444" stroke-width="1"/>
<text x="471.6" y="406.3" font-size="9.6" text-anchor="middle" fill="#231f20" stroke="#231f20" stroke-width="0.12">4</text>
<line x1="492.6" y1="389.3" x2="492.6" y2="393.5" stroke="#444444" stroke-width="1"/>
<text x="492.6" y="406.3" font-size="9.6" text-anchor="middle" fill="#231f20" stroke="#231f20" stroke-width="0.12">5</text>
<line x1="513.7" y1="389.3" x2="513.7" y2="393.5" stroke="#444444" stroke-width="1"/>
<text x="513.7" y="406.3" font-size="9.6" text-anchor="middle" fill="#231f20" stroke="#231f20" stroke-width="0.12">6</text>
<text x="461.0" y="421.2" font-size="10.6" text-anchor="middle" textLength="56.0" lengthAdjust="spacingAndGlyphs" fill="#231f20" stroke="#231f20" stroke-width="0.12">Time (days)</text>
<text x="369.8" y="348.7" font-size="11.2" text-anchor="middle" textLength="58.6" lengthAdjust="spacingAndGlyphs" transform="rotate(-90 369.8 348.7)" fill="#231f20" stroke="#231f20" stroke-width="0.12">Length (cm)</text>
<path d="M408.4,333.6V322.8M404.8,333.6h7.2M404.8,322.8h7.2M429.5,348.9V339.9M425.9,348.9h7.2M425.9,339.9h7.2M450.5,359.6V352.4M446.9,359.6h7.2M446.9,352.4h7.2M471.6,370.9V364.6M468.0,370.9h7.2M468.0,364.6h7.2M492.6,374.5V368.2M489.0,374.5h7.2M489.0,368.2h7.2M513.7,374.9V368.6M510.1,374.9h7.2M510.1,368.6h7.2" fill="none" stroke="#66c2a5" stroke-width="0.9" stroke-opacity="0.55"/>
<path d="M408.4,334.6V323.9M404.8,334.6h7.2M404.8,323.9h7.2M429.5,351.7V340.9M425.9,351.7h7.2M425.9,340.9h7.2M450.5,362.4V353.4M446.9,362.4h7.2M446.9,353.4h7.2M471.6,372.0V365.7M468.0,372.0h7.2M468.0,365.7h7.2M492.6,377.0V370.7M489.0,377.0h7.2M489.0,370.7h7.2M513.7,376.7V370.4M510.1,376.7h7.2M510.1,370.4h7.2" fill="none" stroke="#fc8d62" stroke-width="0.9" stroke-opacity="0.55"/>
<path d="M408.4,330.0V321.0M404.8,330.0h7.2M404.8,321.0h7.2M429.5,346.6V339.4M425.9,346.6h7.2M425.9,339.4h7.2M450.5,357.5V350.3M446.9,357.5h7.2M446.9,350.3h7.2M471.6,363.1V356.8M468.0,363.1h7.2M468.0,356.8h7.2M492.6,364.0V357.7M489.0,364.0h7.2M489.0,357.7h7.2M513.7,364.0V357.7M510.1,364.0h7.2M510.1,357.7h7.2" fill="none" stroke="#8da0cb" stroke-width="0.9" stroke-opacity="0.55"/>
<path d="M408.4,331.6V322.6M404.8,331.6h7.2M404.8,322.6h7.2M429.5,347.1V339.0M425.9,347.1h7.2M425.9,339.0h7.2M450.5,358.5V351.3M446.9,358.5h7.2M446.9,351.3h7.2M471.6,368.1V361.8M468.0,368.1h7.2M468.0,361.8h7.2M492.6,373.1V366.8M489.0,373.1h7.2M489.0,366.8h7.2M513.7,373.6V367.3M510.1,373.6h7.2M510.1,367.3h7.2" fill="none" stroke="#e78ac3" stroke-width="0.9" stroke-opacity="0.55"/>
<polyline points="408.4,328.2 429.5,344.4 450.5,356.0 471.6,367.7 492.6,371.3 513.7,371.8" fill="none" stroke="#66c2a5" stroke-width="1.1"/>
<circle cx="408.4" cy="328.2" r="2.4" fill="#66c2a5"/>
<circle cx="429.5" cy="344.4" r="2.4" fill="#66c2a5"/>
<circle cx="450.5" cy="356.0" r="2.4" fill="#66c2a5"/>
<circle cx="471.6" cy="367.7" r="2.4" fill="#66c2a5"/>
<circle cx="492.6" cy="371.3" r="2.4" fill="#66c2a5"/>
<circle cx="513.7" cy="371.8" r="2.4" fill="#66c2a5"/>
<polyline points="408.4,329.3 429.5,346.3 450.5,357.9 471.6,368.9 492.6,373.8 513.7,373.6" fill="none" stroke="#fc8d62" stroke-width="1.1"/>
<circle cx="408.4" cy="329.3" r="2.4" fill="#fc8d62"/>
<circle cx="429.5" cy="346.3" r="2.4" fill="#fc8d62"/>
<circle cx="450.5" cy="357.9" r="2.4" fill="#fc8d62"/>
<circle cx="471.6" cy="368.9" r="2.4" fill="#fc8d62"/>
<circle cx="492.6" cy="373.8" r="2.4" fill="#fc8d62"/>
<circle cx="513.7" cy="373.6" r="2.4" fill="#fc8d62"/>
<polyline points="408.4,325.5 429.5,343.0 450.5,353.9 471.6,359.9 492.6,360.9 513.7,360.9" fill="none" stroke="#8da0cb" stroke-width="1.1"/>
<circle cx="408.4" cy="325.5" r="2.4" fill="#8da0cb"/>
<circle cx="429.5" cy="343.0" r="2.4" fill="#8da0cb"/>
<circle cx="450.5" cy="353.9" r="2.4" fill="#8da0cb"/>
<circle cx="471.6" cy="359.9" r="2.4" fill="#8da0cb"/>
<circle cx="492.6" cy="360.9" r="2.4" fill="#8da0cb"/>
<circle cx="513.7" cy="360.9" r="2.4" fill="#8da0cb"/>
<polyline points="408.4,327.1 429.5,343.0 450.5,354.9 471.6,364.9 492.6,370.0 513.7,370.4" fill="none" stroke="#e78ac3" stroke-width="1.1"/>
<circle cx="408.4" cy="327.1" r="2.4" fill="#e78ac3"/>
<circle cx="429.5" cy="343.0" r="2.4" fill="#e78ac3"/>
<circle cx="450.5" cy="354.9" r="2.4" fill="#e78ac3"/>
<circle cx="471.6" cy="364.9" r="2.4" fill="#e78ac3"/>
<circle cx="492.6" cy="370.0" r="2.4" fill="#e78ac3"/>
<circle cx="513.7" cy="370.4" r="2.4" fill="#e78ac3"/>
<text x="492.9" y="358.8" font-size="14" text-anchor="middle" fill="#231f20" stroke="#231f20" stroke-width="0.12">*</text>
<text x="514.0" y="358.8" font-size="14" text-anchor="middle" fill="#231f20" stroke="#231f20" stroke-width="0.12">**</text>
<rect x="553.6" y="176.0" width="59.8" height="47.6" fill="#000080"/>
<circle cx="583.5" cy="199.8" r="21.8" fill="none" stroke="#8080c8" stroke-width="0.5"/>
<circle cx="583.5" cy="199.8" r="14.4" fill="none" stroke="#8080c8" stroke-width="0.5"/>
<circle cx="583.5" cy="199.8" r="7.2" fill="none" stroke="#8080c8" stroke-width="0.5"/>
<line x1="561.7" y1="199.8" x2="605.3" y2="199.8" stroke="#b8b8f0" stroke-width="0.6"/>
<line x1="583.5" y1="178.0" x2="583.5" y2="221.6" stroke="#8888d0" stroke-width="0.5"/>
<path d="M587.6,202.7l.4,1.3 .2,1.3 .1,1.3 -.1,1.3 -.2,1.3 -.1,1.3 0,1.3 -.1,1.3 -.1,1.3 .1,1.3 .3,1.3 1,.9 1.1,.7 1.2,.3 1.3-.1 1.1-.5 .9-.6 .9-.6 1-.7 1-.8 .9-.9 .8-1.1 .7-1.1 .3-1.3 0-1.3 0-1.3 0-1.3 .2-1.3 .4-1.2 .3-1.3 .1-1.3 .4-1.3 .2-1.2 .4-1.3 .4-1.2 -.1-1.3 -.2-1.3 -.4-1.3 -.5-1.2 -.9-.9 -.9-1 -1.2-.6 -1.3-.2 -1.3,0 -1.2,.2 -1.4,0 -1.3-.1 -1.3,.1 -1.3,0 -1.3,0 -1.3,.2 -1.1,.6 -1.2,.6 -1.3,.2 -1.3,.3 -1.3,.1 -1.3-.1 -1.3-.4 -1.3,.2 -1.3,.1 -1.3-.2 -1.3-.1 -1.3,.2 -1.2-.5 -1.1-.7 -1-.8 -.9-.9 -.9-1 .5-.6 .5-.7 .3-.4 .7-.7 .9-.9 1-.8 1.1-.7 1.2-.6 1.2-.4 1.3,0 1.3,.3 1.2,.6 .9,.9 1,.8 1.2,.7 1.2,.5 1.1,.7 1.1,.6 1.2,.7 1,.8 1.2,.5 1.1,.7 1,.8 1.1,.7 1.2,.6 1.1,.7 1,.9 1.1,.6 1.1,.7 1.2,.6 1,.8 .9,.9 .8,1.1 .3,1.3 .1,1.3 -.6,1.2 -.9,.8 -1.2,.7 -1.2,.3 -1.4,0 -1.3,0 -1.3-.1 -1.1-.6 -1.3-.4 -1.2-.6 -1-.7 -1-.9 -1.1-.6 -1.2-.6 -1.2-.6 -1.1-.6 -1.2-.6 -1.2-.5 -1.2-.5 -1.1-.8 -1.3-.3 -1.1-.7 -1.1-.7 -1.2-.4 -1.1-.7 -1.2-.5 -1.2-.6 -.9-1 -.8-1 -.5-1.2 -.4-1.3 .5-.8 .7-.8 .9-.8 .9-.9 1-.8 1-.7 1.1-.7 1.2-.6 1.3-.1 1.3,.2 1.3,.4 .9,.9 1,.9 .7,1 1.2,.6 1.1,.8 .7,1 .8,1.1 1.1,.7 .9,.9 .8,1.1 .9,.9 .9,.9 1,.9 1,.9 .9,.9 .7,1.1 1.1,.6 1.1,.8 .8,1.1 .7,1 .8,1 .8,1.1 .8,1 .8,1.1 .8,1 .6,1.2 .5,1.2 .3,1.3 .2,1.3 -.4,1.1 -.7,1 -.8,1.1 -1,.7 -1.2,.5 -1.3,0 -1.3-.5 -1.2-.4 -1.2-.6 -.9-.9 -1-.9 -.7-1.1 -1.1-.7 -1.1-.7 -.8-1.1 -.7-1.1 -1-.8 -.8-1 -.6-1.2 -1-.8 -1-.9 -.9-.9 -.9-1 -1-.8 -.9-1 -.9-1 -.6-1.1 -.3-1.3 -.7-1.1 -.3-1.3 .2-1.3 .5-1.2 .6-1.1 1-.9 1.2-.4 1.3-.1 1.3,.4 1.2,.6 1.1,.7 1.2,.3 1.3,.4 1.2,.4 1.1,.7 1.3,.4 1.2,.5 1.2,.5 1.3,.3 1.3,.2 1.2,.4 1,.9 1.2,.5 1.2,.5 1.3,.3 1.2,.6 1,.7 .8,1.1 .3,1.3 .1,1.3 0,1.3 -.3,1.2 -.6,1.2 -.9,.9 -.9,1 -1.1,.7 -1.1,.8 -1.2,.5 -1.2,.4 -1.1,.7 -1.1,.7 -.9,1 -1,.8 -.8,1 -1,.9 -.8,1 -1.2,.7 -1.3,.1 -1.2-.3 -1.3-.3 -1.1-.7 -.9-.9 -.8-1 -.5-1.3 -.1-1.3 .4-1.2 .9-.9 .5-1.3 .8-1 .7-1.1 .8-1 .8-1.1 1-.8 .6-1.2 .8-1 .7-1.1 1.1-.8 .9-.9 .6-1.2 .6-1.1 .6-1.2 .3-1.3 0-1.3 0-1.3 -.3-1.3 -.6-1.1 -.7-1.1 -.8-1 -1.1-.8 -1.3-.4 -1.3-.1 -1.3,.1 -1.3,.2 -1.2,.4 -1.1,.8 -.6,1.1 -.5,1.2 -.2,1.3 -.2,1.3 .1,1.3 .2,1.3 -.2,1.3 0,1.3 .2,1.3 -.3,1.3 -.2,1.3 0,1.3 0,1.3 .1,1.3 -.2,1.3 .1,1.3 .1,1.3 .1,1.3 .2,1.3 -.3,1.3 -.3,1.2 -.1,1.3 -.1,1.3 -.6,1.2 -.7,1.1 -1.2,.6 -1.2,.4 -1.3,.1 -1.3-.1 -1.3-.3 -1.1-.7 -1.1-.7 -1-.8 -.9-1 -.7-1.1 -.2-1.3 -.4-1.2 -.3-1.3 -.4-1.3 -.2-1.3 -.3-1.2 -.4-1.3 -.6-1.1 -.3-1.3 -.4-1.2 -.2-1.3 .2-1.3 .7-1.1 .9-1 1.1-.7 1.1-.7 1.1-.8 1-.7 1.3-.4 1.2-.4 .9-1 1.1-.7 1-.8 1.1-.7 1.2-.7 1.3-.2 1.3,0 1.2,.3 1.2,.6 .8,1 .7,1.1 .3,1.3 0,1.3 .1,1.3 -.2,1.3 .1,1.3 -.1,1.3 .4,1.2 .2,1.3 -.1,1.3 -.5,1.2 -.3,1.3 0,1.3 -.1,1.3 -.4,1.3 -.3,1.3 -.3,1.2 -.5,1.2 -.3,1.3 -.8,1 -.9,1 -1.1,.8 -1.1,.6 -1.3,.3 -1.3,.2 -1.3,.1 -1.2-.4 -1.2-.4 -1.2-.7 -.9-.9 -.6-1.1 -.7-1.2 -.3-1.2 -.1-1.3 .5-1.3 0-1.3 .5-1.2 .4-1.2 .3-1.3 .3-1.3 .4-1.2 .3-1.3 .3-1.3 .2-1.3 .4-1.2 .5-1.2 .1-1.3 .4-1.3 .5-1.2 .6-1.1 .3-1.3 .6-1.2 .2-1.3 .5-1.2 .3-1.2 .7-1.2 1.1-.8 1-.7 1.3-.2 1.3,.2 1.3,.3 1.3,.4 1.2,.3 1.2,.5 1.2,.6 .8,1 .7,1.1 .6,1.2 .5,1.2 -.1,1.3 -.2,1.3 -.4,1.3 -.5,1.2 -.7,1.1 -1,.9 -1,.8 -1,.9 -.9,.9 -1.1,.7 -1.2,.5 -1,.9 -1,.8 -1,.8 -1.1,.8 -1.1,.7 -.9,.9 -1.1,.8 -1.1,.6 -1.1,.7 -1.2,.6 -1.2,.4 -1.3,0 -1.3-.2 -1.2-.5 -1.3-.5 -.9-.9 -.7-1.1 -.1-1.3 0-1.3 .3-1.3 .7-1.1 1-.9 1-.8 1-.8 .7-1.1 .8-1 .8-1.1 .9-.9 1.1-.7 1-.9 .8-1 1.2-.6 .9-.9 1.1-.7 1.1-.7 1-.9 1-.8 .7-1.1 .9-1 1-.9 1.2-.5 1.1-.6 1.3-.4 1.3-.1 1.3,0 1.2,.5 1.1,.7 1.1,.7 .8,1 .6,1.2 .4,1.2 .3,1.3 .5,1.2 0,1.3 .3,1.3 .4,1.2 .4,1.3 .2,1.3 .5,1.2 .4,1.2 .3,1.3 .2,1.3 .2,1.3 .5,1.2 .4,1.3 .5,1.2 .5,1.2 .1,1.3 0,1.3 -.5,1.2 -.9,1 -1.2,.4 -1.1,.7 -1.2,.6 -1.2,.5 -1.1,.7 -1.2,.5 -1,.8 -1.2,.7 -1.3,.2 -1.2,.3 -1.3,.2 -1.3,0 -1.4-.2 -1.2-.2 -1.1-.8 -.8-1 -.6-1.2 -.5-1.2 -.5-1.2 -.4-1.3 -.5-1.1 -.2-1.3 .1-1.4 .4-1.2 .2-1.3 -.1-1.3 .5-1.2 .3-1.3 .4-1.2 .2-1.3 .1-1.3 .2-1.3 .6-1.2 0-1.3 .1-1.3 .3-1.2 -.1-1.4 .5-1.2 -.1-1.3 -.8-1 -1-.9 -1.2-.5 -1.3,0 -1.3,.3 -1.1,.7 -1,.8 -.9,.9 -.7,1.1 -.6,1.2 -.7,1.1 -.6,1.1 -.6,1.2 -.4,1.3 -.5,1.2 -.5,1.2 -.4,1.2 -.6,1.2 -.4,1.2 -.1,1.3 -.1,1.3 .2,1.3 .4,1.3 .7,1.1 .2,1.3 .3,1.3 .3,1.3 .3,1.2 .8,1.1 .8,1 1,.8 1.1,.7 1.2,.5 1.3,.1 1.3-.2 1.3-.5 1-.7 .9-1 .7-1.1 .6-1.1 .9-1 .7-1.1 .7-1.2 .7-1 .2-1.3 .4-1.3 .7-1.1 .4-1.2 .7-1.1 .9-1 .8-1 .8-1 .6-1.2 .5-1.2 .4-1.3 .8-1 1-.9 1.2-.4" fill="none" stroke="#12a8ff" stroke-width="1.0" stroke-linejoin="round" stroke-linecap="round"/>
<path d="M588.2,207.9l-.2,1.3M587.8,215.7l.3,1.3M597.6,215.6l.9-.9M600.3,209.9l0-1.3M601.2,203.5l.1-1.3M601.7,200.9l.2-1.2M602.6,195.9l-.2-1.3M598.5,189.6l-1.3-.2M569.2,190.1l-1-.8M567.3,188.4l-.9-1M590.2,202.3l-1.2-.6M587,200.1l-1.1-.6M582.4,197.7l-1.2-.6M577.7,195.3l-1.3-.3M575.3,194.3l-1.1-.7M567.3,188.2l-.4-1.3M567.4,186.1l.7-.8M569,184.5l.9-.9M571.9,182.1l1.1-.7M592,194.8l.7,1.1M602,209.6l-.4,1.1M596.6,214l-1.3-.5M592.9,212.5l-.9-.9 -1-.9M590.3,209.6l-1.1-.7M588.1,208.2l-.8-1.1 -.7-1.1M584.2,203l-1-.8M582.2,201.3l-.9-.9M580.4,199.4l-1-.8M577,195.5l-.3-1.3M596.4,192.6l1,.9M602.3,195.4l1,.7M593.1,211l-.8,1M584.4,213.4l-.9-.9M587,201.3l1-.8M590.1,197.2l1.1-.8M592.1,195.5l.6-1.2M594.2,188.1l-.3-1.3M593.3,185.7l-.7-1.1M590.7,182.8l-1.3-.4M588.1,182.3l-1.3,.1M581.8,192.6l0,1.3M581.7,196.5l-.2,1.3M581.5,199.1l0,1.3M581.6,209.5l-.3,1.2M579.8,215.6l-1.2,.6 -1.2,.4 -1.3,.1 -1.3-.1 -1.3-.3 -1.1-.7 -1.1-.7 -1-.8 -.9-1 -.7-1.1M568.5,210.7l-.4-1.2M567.8,208.2l-.4-1.3M566.5,203.1l-.6-1.1M565.6,200.7l-.4-1.2M565,198.2l.2-1.3M585.4,190l.3,1.3 0,1.3M585.6,197.8l.4,1.2M585.3,205.4l-.1,1.3M583.7,211.7l-.3,1.3M581.7,215l-1.1,.8 -1.1,.6 -1.3,.3 -1.3,.2 -1.3,.1 -1.2-.4 -1.2-.4 -1.2-.7 -.9-.9 -.6-1.1M569.4,209.8l.5-1.3 0-1.3 .5-1.2M573.5,194.7l.1-1.3M579.8,180.9l1.3-.2 1.3,.2M586.2,181.9l1.2,.5M588.6,183l.8,1 .7,1.1M590.7,186.3l.5,1.2M588.3,194.6l-1,.8M586.3,196.3l-.9,.9M584.3,197.9l-1.2,.5M582.1,199.3l-1,.8M579,201.7l-1.1,.7 -.9,.9 -1.1,.8M565.3,204.3l-.7-1.1M564.5,200.6l.3-1.3M584.7,180.9l1.1-.6 1.3-.4M588.4,179.8l1.3,0M594.5,183.9l.4,1.2M595.7,187.6l0,1.3M597.5,195.2l.4,1.2 .3,1.3M598.6,200.3l.5,1.2M595.7,211.7l-1.2,.5M591.2,214.2l-1.2,.7 -1.3,.2M587.5,215.4l-1.3,.2 -1.3,0M581.2,214.4l-.8-1 -.6-1.2 -.5-1.2M577.8,204.7l.4-1.2 .2-1.3 -.1-1.3M578.8,199.7l.3-1.3M579.7,195.9l.1-1.3M580.6,190.8l.1-1.3M575.7,182.3l-1.1,.7M570.7,188.1l-.6,1.1M567.1,202.9l.7,1.1M568.6,207.9l.3,1.2M570.5,211.2l1,.8M577.7,212.6l1-.7M580.3,209.8l.6-1.1M585.2,200.7l.4-1.2M586.3,198.4l.9-1 .8-1" fill="none" stroke="#30d8ff" stroke-width="1.0" stroke-linejoin="round" stroke-linecap="round"/>
<path d="M588.2,205.3l.1,1.3M587.7,214.4l.1,1.3M599.3,213.6l.7-1.1M600.9,204.8l.3-1.3M602.3,198.4l.4-1.2M594.7,189.6l-1.4,0M585.7,190.4l-1.2,.6 -1.3,.2M580.6,191.6l-1.3-.1M578,191.1l-1.3,.2M568.2,189.3l-.9-.9M566.4,187.4l.5-.6M567.4,186.1l.3-.4 .7-.7 .9-.9M570.3,183.3l1.1-.7M591.9,191.5l1.1,.7M594,193.1l1.1,.6 1.1,.7 1.2,.6 1,.8M600.4,199.1l.1,1.3 -.6,1.2M589,201.7l-1-.7M583.5,198.3l-1.1-.6M576.4,195l-1.1-.7M574.2,193.6l-1.2-.4 -1.1-.7M570.7,192l-1.2-.6M567.8,189.4l-.5-1.2M568.1,185.3l.9-.8M569.9,183.6l1-.8M574.2,180.8l1.3-.1M601,205.8l.5,1.2 .3,1.3M600.9,211.7l-.8,1.1M599.1,213.5l-1.2,.5M594.1,213.1l-1.2-.6M579.4,198.6l-.9-1M577.6,196.6l-.6-1.1M576,193.1l-.3-1.3M577,188.2l1-.9M593.9,192l1.3,.2M597.4,193.5l1.2,.5M599.8,194.5l1.3,.3M594.1,210.2l-1,.8M592.3,212l-1,.9M589.3,214.6l-1.3,.1M585.5,214.1l-1.1-.7M583.5,212.5l-.8-1M582.1,208.9l.4-1.2 .9-.9M586.2,202.4l.8-1.1M592.7,194.3l.6-1.1M594.2,189.4l0-1.3M591.8,183.6l-1.1-.8M589.4,182.4l-1.3-.1M585.5,182.6l-1.2,.4M582,195.2l-.3,1.3M581.7,206.9l.2,1.3 -.3,1.3M581.3,210.7l-.1,1.3 -.1,1.3 -.6,1.2 -.7,1.1M568.7,212l-.2-1.3M568.1,209.5l-.3-1.3M567.2,205.6l-.3-1.2M565.2,196.9l.7-1.1 .9-1 1.1-.7 1.1-.7M585.8,193.9l-.2,1.3 .1,1.3M585.6,202.8l-.3,1.3M570.5,213.5l-.7-1.2 -.3-1.2 -.1-1.3M576,187.3l.2-1.3M578.8,181.6l1-.7M591.2,187.5l-.1,1.3M589.3,193.7l-1,.9M585.4,197.2l-1.1,.7M572.5,206l-1.2,.4 -1.3,0M567.5,205.7l-1.3-.5M564.5,201.9l0-1.3M565.5,198.2l1-.9 1-.8 1-.8 .7-1.1M583.5,181.4l1.2-.5M595.2,186.4l.5,1.2M595.7,188.9l.3,1.3M596.8,192.7l.2,1.3 .5,1.2M598.4,199l.2,1.3M599.5,202.8l.5,1.2M600.1,209l-.9,1M594.5,212.2l-1.1,.7M588.7,215.1l-1.2,.3M583.5,215.4l-1.2-.2M579.1,198.4l.4-1.2M580,193.3l.6-1.2M569.5,190.4l-.4,1.3M568.6,192.9l-.5,1.2 -.4,1.2M567.1,196.5l-.4,1.2 -.1,1.3 -.1,1.3M566.7,201.6l.4,1.3M568.9,209.1l.8,1.1 .8,1M578.7,211.9l.9-1 .7-1.1M580.9,208.7l.9-1M582.5,206.6l.7-1.2M584.1,203.1l.4-1.3M588,196.4l.8-1M592.1,189.8l1.2-.4" fill="none" stroke="#70f4e0" stroke-width="1.0" stroke-linejoin="round" stroke-linecap="round"/>
<path d="M581.9,191.5l-1.3,.1M587.5,188.7l1.1,.7M581.2,197.1l-1.2-.5 -1.2-.5 -1.1-.8M587.3,190.3l.9,.9M589.1,192.1l1,.9M575.9,190.5l.5-1.2M586.8,182.4l-1.3,.2M584.3,183l-1.1,.8M581.7,188.7l.1,1.3M582,191.3l-.2,1.3M576.6,188.6l1.1-.7M575.4,188.5l.6-1.2M576.7,184.8l.3-1.2M582.4,180.9l1.3,.3 1.3,.4 1.2,.3M587.4,182.4l1.2,.6M590,192.6l-.7,1.1M587.3,195.4l-1,.9M576.7,187.5l1.1-.7M580.9,184.4l.7-1.1 .9-1 1-.9M579.5,197.2l.2-1.3M579.8,194.6l.2-1.3M580.6,192.1l0-1.3M588.8,195.4l.6-1.2 .5-1.2" fill="none" stroke="#c8f850" stroke-width="1.0" stroke-linejoin="round" stroke-linecap="round"/>
<path d="M587.8,213.1l-.1,1.3M600.3,211.2l0-1.3M600.3,207.3l.2-1.3M589.4,189.6l-1.3,0M583.2,191.2l-1.3,.3M576.7,191.3l-1.3,.1M572.8,191.1l-1.3,.2M566.9,186.8l.5-.7M572.6,182l1.2-.4 1.3,0 1.3,.3M577.6,182.5l.9,.9 1,.8M586.3,188.2l1.2,.5M589.6,190.2l1.1,.7M593,192.2l1,.9M599.9,201.6l-.9,.8M566.9,186.9l.5-.8M575.5,180.7l1.3,.2M578.1,181.3l.9,.9M590.1,193l1,.9M597.2,200.4l.8,1.1 .8,1 .8,1.1M600.4,204.6l.6,1.2M585.6,205.2l-.8-1M583.2,202.2l-1-.9M581.3,200.4l-.9-1M576.7,194.2l-.7-1.1M575.7,191.8l.2-1.3M586.6,189.2l1.2,.4M588.9,190.3l1.3,.4M591.4,191.2l1.2,.5 1.3,.3M595.2,192.2l1.2,.4M601.8,205.4l-1.1,.7M590.5,213.9l-1.2,.7M588,214.7l-1.2-.3M582.2,210.2l-.1-1.3M583.4,206.8l.5-1.3 .8-1M593.3,193.2l.6-1.2M581.8,190l.2,1.3M581.5,197.8l0,1.3M581.5,200.4l.1,1.3M581.6,205.6l.1,1.3M567.4,206.9l-.2-1.3M566.9,204.4l-.4-1.3M565.2,199.5l-.2-1.3M574.5,190.1l1.1-.7M577.7,187.9l1.2-.7M586.2,200.3l-.1,1.3 -.5,1.2M583.4,213l-.8,1 -.9,1M575.1,189.8l.3-1.3M581.1,200.1l-1,.8M570,206.4l-1.3-.2 -1.2-.5M564.8,199.3l.7-1.1M572.8,190.9l1-.9 .8-1 1.2-.6M596.4,191.4l.4,1.3M600.5,205.2l.1,1.3M582.3,215.2l-1.1-.8M578.3,182l-1.3,0 -1.3,.3M570.1,189.2l-.6,1.2M569.1,191.7l-.5,1.2M567.7,195.3l-.6,1.2M567.8,204l.2,1.3 .3,1.3 .3,1.3M581.8,207.7l.7-1.1M583.2,205.4l.7-1M585.6,199.5l.7-1.1" fill="none" stroke="#f8e820" stroke-width="1.0" stroke-linejoin="round" stroke-linecap="round"/>
<path d="M595.9,189.4l-1.2,.2M593.3,189.6l-1.3-.1 -1.3,.1M586.8,189.8l-1.1,.6M571.5,191.3l-1.2-.5 -1.1-.7M576.4,181.9l1.2,.6M583,186.1l1.1,.6 1.2,.7 1,.8M590.7,190.9l1.2,.6M585.9,199.5l-1.2-.6M569.5,191.4l-.9-1M583,185.5l.7,1M584.5,187.6l1.1,.7M588.2,191.2l.9,.9M599.6,203.6l.8,1M584.8,204.2l-.6-1.2M579.2,186.9l1.3-.1M581.8,187.2l1.2,.6M600.7,206.1l-1.1,.8M584.7,204.5l.7-1.1 .8-1M593.9,192l.3-1.3 0-1.3M583.2,183.8l-.6,1.1M565.9,202l-.3-1.3M570.1,192.6l1-.7 1.3-.4 1.2-.4 .9-1M578.9,187.2l1.3-.2M584.7,188.9l.7,1.1M585.7,196.5l-.1,1.3M586,199l.2,1.3M585.3,204.1l0,1.3M573.6,193.4l.4-1.3M574.5,190.9l.6-1.1M577,183.6l.7-1.2 1.1-.8M591.1,188.8l-.2,1.3M590.5,191.4l-.5,1.2M583.1,198.4l-1,.9M570.8,192.5l.9-.9 1.1-.7M575.8,188.4l.9-.9M599.1,201.5l.4,1.3M600,204l.5,1.2M600.6,206.5l0,1.3M593.4,212.9l-1.2,.5M583.9,204.4l.2-1.3M584.5,201.8l.7-1.1M589.9,193l.4-1.3M591.1,190.7l1-.9" fill="none" stroke="#ff8c10" stroke-width="1.0" stroke-linejoin="round" stroke-linecap="round"/>
<path d="M600.3,208.6l0-1.3M600.5,206l.4-1.2M590.7,189.6l-1.3,0M588.1,189.6l-1.3,.2M575.4,191.4l-1.3-.2 -1.3-.1M579.5,184.2l1.2,.7 1.2,.5 1.1,.7M588.6,189.4l1,.8M588,201l-1-.9M571.9,192.5l-1.2-.5M576.8,180.9l1.3,.4M579,182.2l1,.9 .7,1 1.2,.6 1.1,.8M583.7,186.5l.8,1.1M585.6,188.3l.9,.9 .8,1.1M586.6,206l-1-.8M576.4,189.3l.6-1.1M578,187.3l1.2-.4M580.5,186.8l1.3,.4M583,187.8l1.1,.7 1.2,.3 1.3,.4M587.8,189.6l1.1,.7M590.2,190.7l1.2,.5M602.7,204.4l-.9,1M582.6,184.9l-.5,1.2 -.2,1.3 -.2,1.3M569,193.4l1.1-.8M575.6,189.4l1-.8M580.2,187l1.3,0 1.2,.3 1.2,.6 .8,1M574,192.1l.5-1.2M590.9,190.1l-.4,1.3M570,193.6l.8-1.1M577.8,186.8l1.1-.7 1-.9 1-.8M580.7,189.5l.3-1.2 -.1-1.4 .5-1.2 -.1-1.3 -.8-1 -1-.9 -1.2-.5M590.3,191.7l.8-1" fill="none" stroke="#ff2a00" stroke-width="1.0" stroke-linejoin="round" stroke-linecap="round"/>
<rect x="613.4" y="176.0" width="59.7" height="47.6" fill="#000080"/>
<circle cx="643.2" cy="199.8" r="21.8" fill="none" stroke="#8080c8" stroke-width="0.5"/>
<circle cx="643.2" cy="199.8" r="14.4" fill="none" stroke="#8080c8" stroke-width="0.5"/>
<circle cx="643.2" cy="199.8" r="7.2" fill="none" stroke="#8080c8" stroke-width="0.5"/>
<line x1="621.5" y1="199.8" x2="665.0" y2="199.8" stroke="#b8b8f0" stroke-width="0.6"/>
<line x1="643.2" y1="178.0" x2="643.2" y2="221.6" stroke="#8888d0" stroke-width="0.5"/>
<path d="M635.4,189.4l1.3-.1 1.3,0 1.3,.3 1.1,.6 1,.9 .7,1.1 .8,1.1 .7,1.1 .7,1.1 .7,1.1 .5,1.2 .3,1.3 .1,1.3 .4,1.2 .4,1.3 .1,1.3 .2,1.3 .5,1.2 -.1,1.3 .4,1.2 .2,1.3 0,1.3 -.4,1.3 -.6,1.1 -1,.9 -.8,1 -1,.9 -1.1,.7 -1.3,.3 -1.2,.3 -1.4-.1 -1.2-.4 -1.2-.6 -1-.8 -.6-1.1 -.6-1.2 -.6-1.2 -.5-1.2 -.6-1.1 -.7-1.1 -.6-1.2 -.2-1.3 -.5-1.2 -.5-1.2 -.6-1.2 -.5-1.2 -.5-1.2 -.2-1.3 -.5-1.2 -.3-1.3 -.1-1.3 -.4-1.2 -.5-1.3 -.7-1 -1-.8 -1.1-.6 0,.1 -.2,.4 -.3,.7 -.3,.9 -.4,1.1 -.2,1.2 -.3,1.2 -.1,1.3 .3,1.3 .5,1.2 .5,1.2 .6,1.2 .4,1.2 .5,1.2 .7,1.1 .2,1.3 .2,1.3 .6,1.2 1,.8 1.2,.6 1.3,.2 1.3-.1 1.2-.4 1.1-.8 1-.9 1-.8 1.2-.4 1.3-.4 1.1-.6 1.2-.6 1.3-.3 1.3-.2 1.1-.6 1.3-.5 1.3,0 1.3-.2 1.2-.5 1.2-.5 1.2-.5 1.2-.4 1.2-.5 1.2-.7 1.1-.5 1.2-.5 1.2-.7 .9-.9 .8-1.1 .4-1.2 -.1-1.3 -.1-1.3 -.3-1.3 -.5-1.2 -.9-.9 -1.1-.8 -1.1-.6 -1.2-.4 -1.2-.6 -1.1-.7 -1.1-.7 -1-.9 -1-.8 -1.1-.8 -1-.8 -.9-.9 -1.2-.6 -1.2-.5 -1.3-.3 -1.3-.1 -1.3,.2 -1.2,.6 -.8,1 -.2,1.3 .1,1.3 .4,1.2 .8,1.1 .7,1.1 .8,1 .4,1.3 .6,1.1 .7,1.1 .9,1 .5,1.2 .5,1.2 .5,1.2 .1,1.3 0,1.3 -.4,1.3 -.8,1 -1.1,.8 -1.2,.2 -1.3,.2 -1.3-.1 -1.2-.6 -1.3-.4 -1.1-.7 -.7-1.1 -.8-1 -1.1-.7 -1.1-.8 -.7-1.1 -.9-.9 -.6-1.2 -.8-1 -.6-1.2 -.1-1.3 .3-1.3 .7-1.1 .8-1 .8-1 1-.9 1.3-.3 1.3,.2 1.2,.2 1.3,.3 1.2,.5 1.1,.8 .9,.9 .9,1 1.2,.5 1,.8 .8,1 1,.9 1.1,.7 1,.9 1,.8 .4,1.2 .1,1.3 0,1.4 -.2,1.2 -.6,1.2 -.8,1 -1.1,.8 -1.2,.3 -1.3,.2 -1.3-.3 -1.2-.6 -.9-.9 -.6-1.2 -.3-1.3 0-1.3 -.1-1.3 .1-1.3 -.2-1.3 .4-1.3 0-1.3 .2-1.2 .4-1.3 -.2-1.3 0-1.3 .1-1.3 .2-1.3 -.1-1.3 0-1.3 .4-1.2 1.1-.8 1.3-.3 1.3,0 1.3,.2 1.3,.1 1.2,.5 1.1,.7 1,.9 .8,1 .4,1.2 -.1,1.3 .1,1.3 .1,1.3 -.2,1.3 -.4,1.3 -.2,1.3 -.2,1.3 .2,1.3 0,1.3 -.2,1.2 -.3,1.3 -.6,1.2 -.9,1 -1,.8 -1.2,.4 -1.3,.2 -1.3,0 -1.3-.4 -1.1-.5 -1.3-.5 -1.1-.6 -.9-1 -.7-1.1 -.6-1.2 -.5-1.1 -.1-1.3 -.1-1.3 .1-1.3 .3-1.3 .9-1 1.1-.7 1.1-.7 1-.8 1.2-.5 1.1-.7 1.3-.4 1.3-.2 1.3,.1 1.2,.5 1.1,.7 .8,1 .5,1.2 0,1.3 -.5,1.2 -1,.9 -1,.8 -.9,1 -1.1,.6 -1,.9 -.6,1.2 -.5,1.2 -.3,1.2 0,1.4 .3,1.2 .4,1.2 .8,1.1 .9,.9 1.1,.8 1.3,.3 1.1,.7 .9,.9 1,.9 .7,1.1 .3,1.3 0,1.3 -.2,1.3 -.6,1.2 -.9,1 -1.1,.7 -1.1,.6 -1.3,.2 -1.3-.1 -1.3-.2 -1.1-.6 -1.1-.8 -1.1-.6 -1-.9 -1.2-.6 -.9-.9 -1-.8 -1.1-.7 -1.1-.8 -.8-1 -1.2-.7 -1.2-.4 -1.1-.6 -1.1-.8 -.9-1 -.8-1 -.5-1.2 -.1-1.3 .4-1.2 .7-1.1 .9-1 1-.9 1.2-.4 1.3,0 1.3,.1 1.3,.3 1,.9 .5,1.2 .4,1.2 .5,1.2 .1,1.3 .4,1.2 .4,1.3 .4,1.3 .4,1.2 .5,1.2 .1,1.3 .1,1.3 -.1,1.3 -.2,1.3 -.6,1.2 -.7,1.1 -1,.9 -1.1,.6 -1.2-.1 -1.2-.6 -1-.8 -.9-1 -.2-1.3 .1-1.3 0-1.3 .3-1.3 -.2-1.3 -.3-1.2 -.1-1.4 0-1.3 .1-1.3 .1-1.3 .2-1.3 .3-1.2 -.2-1.3 .2-1.3 .1-1.3 .2-1.3 .1-1.3 -.2-1.3 .2-1.3 .1-1.3 .3-1.3 .3-1.3 .7-1.1 .8-1 1.2-.7 1.2-.3 1.3,.1 1.3,.3 1,.9 .8,1 .5,1.2 .8,1.1 .6,1.1 .8,1.1 .5,1.2 .6,1.1 .8,1.1 .7,1.1 .7,1.1 .7,1.1 .3,1.3 .5,1.2 .7,1 .7,1.1 .9,1 1.1,.7 1.3,.1 1.3-.3 1.1-.7 1-.9 .9-.9 .9-.9 .6-1.2 .1-1.3 -.2-1.3 -.5-1.2 -.6-1.1 -1-.8 -1.3-.4 -1.3-.1 -1.2,.5 -1.2,.6 -1.2,.6 -1.1,.6 -1.3,.3 -1.2,.4 -1,.8 -1,.9 -.9,1 -.7,1.1 -.4,1.2 0,1.3 -.1,1.3 0,1.3 .3,1.3 .8,1.1 1.1,.7 1.2,.5 1.3,.1 1.3-.1 1.3,.1 1.3,0 1.3,0 1.3-.1 1.3-.2 1.3-.2 1.2-.5 .9-1 .7-1.1 .6-1.2 -.1-1.3 -.9-.9 -.6-1.1 -.5-1.3 -.6-1.1 -.8-1 -1.1-.7 -1.3-.4 -1.3-.2 -1.2,.3 -1.3,.1 -1.3-.1 -1.3,.3 -1.2,.4 -1.3,.3 -1.2,.6 -1.2,.5 -1.2,.4 -1.3,.3 -1.3,.2 -1.3-.1 -1.3,.1 -1.3,.2 -1.3-.2 -1.3,.2 -1.2-.3 -1.3,.2 -1.3,.2 -1.3,.1 -1.3-.1 -1.3-.2 -1.2-.6 -.9-1 -.7-1 -.3-1.3 .1-1.3 .3-1.3 .4-1.2 .8-1.1 1-.8 1.2-.5 1.3-.2 1.3,.3 1.2,.4 1.3,.3 1.2,.5 1.2,.4 1.2,.6 1.3,.2 1.3,.1 1.3,.2 1.3,.2 1.3-.1 1.3,0 1.2-.5 1.3-.3 .9-.9 1.2-.7 1-.7 1-.8 1.2-.6 1.3-.4 1.3,0 1.3,.1 1.2,.4 1.2,.5 1.1,.7 .9,.9 .5,1.3 .4,1.2 -.1,1.3 -.2,1.3 -.7,1.1 -.7,1.1 -.9,.9 -.6,1.2 -.6,1.1 -1,.9 -.6,1.2 -.9,1 -.9,.9 -.5,1.3 -.7,1.1 -.7,1.1 -.8,1 -.5,1.2 -.9,1 -.8,1 -.7,1.1 -.9,.9 -1,.9 -1.1,.7 -1.1,.6 -1.3,.4 -1.3,.2 -1.3-.2 -1.2-.4 -1.2-.6 -.7-1.1 -.9-.9 -.4-1.3 -.1-1.3 .1-1.3 .1-1.3 .5-1.2 .8-1 .9-1 1.2-.5 1.3,.1 1.2-.4 1.3-.4 1.3-.3 1.2-.2 1.2-.5 1.3-.4 1.2-.5 1.3-.2 1.3-.1 1.2-.5 1.1-.7 1.2-.5 .9-1 .9-.9 1-.9 .9-1 1.1-.6 1-.8 .8-1.1 .5-1.2 .1-1.3 -.1-1.3 -.7-1.1 -.9-1 -1.2-.6 -1.1-.6 -1.3-.2 -1.3,.3 -1.2,.5 -.9,1 -1.1,.7 -.9,.9 -.9,1 -1,.8 -.8,1.1 -1,.8 -1.1,.7 -1.1,.8 -.7,1 -1.1,.7 -1.1,.8 -1,.8 -1,.9 -.8,1 -.9,.9 -1.1,.8 -1.2,.6 -.9,.9 -1.1,.7 -.8,1.1 -1,.7 -.9,1 -1,.8 -1,.9 -.9,1 -.6,1.1 -.5,1.2 .3,.7 .7,.6 .7,.7" fill="none" stroke="#12a8ff" stroke-width="1.0" stroke-linejoin="round" stroke-linecap="round"/>
<path d="M635.4,189.4l1.3-.1 1.3,0M647.4,208l.4,1.2 .2,1.3M644.2,217l-1.1,.7M641.8,218l-1.2,.3M631.4,207l-.5-1.2M629.8,203.4l-.5-1.2M628.6,199.7l-.5-1.2M626.8,193.4l-.7-1M625.1,191.6l-1.1-.6 0,.1M623.2,193.1l-.4,1.1 -.2,1.2 -.3,1.2M622.2,197.9l.3,1.3M627.7,210.9l1.2,.6 1.3,.2 1.3-.1M637,208.3l1.3-.4M640.6,206.7l1.3-.3M651.8,203.4l1.2-.4M654.2,202.5l1.2-.7M660.5,193l-.5-1.2M659.1,190.9l-1.1-.8M656.9,189.5l-1.2-.4M653.4,187.8l-1.1-.7 -1-.9 -1-.8M644.9,181.8l-1.3-.3 -1.3-.1 -1.3,.2 -1.2,.6 -.8,1 -.2,1.3M641,204.4l-1.3-.1M636.1,202.6l-.7-1.1M632.4,199l-.7-1.1 -.9-.9M628.8,193.6l-.1-1.3M629,191l.7-1.1M632.3,187l1.3-.3 1.3,.2M636.1,187.1l1.3,.3M639.6,199.2l-.1-1.3M639.6,196.6l-.2-1.3M639.8,194l0-1.3M640.5,185l-.1-1.3 0-1.3 .4-1.2 1.1-.8M643.2,180.1l1.3,0M651.6,184.7l-.1,1.3 .1,1.3M651.1,191.2l-.2,1.3M650.7,193.8l.2,1.3M638.4,199.5l-.7-1.1M636.5,194.8l-.1-1.3M640.9,187.7l1.2-.5M650.2,188.2l.5,1.2M647.4,217.8l-1.3-.1M641.5,215.5l-1-.9M637.4,212.3l-1.1-.7M630.9,208.1l-1.1-.8M629.5,199.5l1-.9 1.2-.4M633,198.2l1.3,.1M635.6,198.6l1,.9M640.3,211.9l.1,1.3 -.1,1.3M638.8,218.1l-1,.9M632.3,214.5l0-1.3M632,206.7l.1-1.3 .1-1.3M633.1,195.1l-.2-1.3 .2-1.3M633.5,189.9l.3-1.3M634.5,187.5l.8-1 1.2-.7M640.3,185.9l1,.9 .8,1M653,205.3l1.3,.1 1.3-.3M656.7,204.4l1-.9M659.5,196.7l-.6-1.1M654.1,194.8l-1.2,.6 -1.2,.6M644,206.2l.3,1.3 .8,1.1 1.1,.7 1.2,.5 1.3,.1M661.1,204.3l-.9-.9 -.6-1.1M656.6,198.2l-1.3-.4M654,197.6l-1.2,.3 -1.3,.1M626,201l-1.2-.6M623.9,199.4l-.7-1 -.3-1.3 .1-1.3 .3-1.3M626.7,190.9l1.3-.2M629.3,191l1.2,.4M631.8,191.7l1.2,.5M635.4,193.2l1.3,.2 1.3,.1M639.3,193.7l1.3,.2M649.8,189.9l1.2-.6M657.3,189.9l1.1,.7M659.3,191.5l.5,1.3M655.4,202.9l-.6,1.2 -.9,1 -.9,.9 -.5,1.3 -.7,1.1M650.3,210.5l-.5,1.2M644.4,217.3l-1.1,.6M642,218.3l-1.3,.2M635.1,210.1l.5-1.2M636.4,207.9l.9-1M638.5,206.4l1.3,.1 1.2-.4M653.4,202.3l1.2-.5M661.2,195.5l.5-1.2 .1-1.3M661.7,191.7l-.7-1.1M658.9,189l-1.1-.6M654,189l-.9,1M650.2,192.6l-1,.8M629.6,210.4l-.9,1 -.6,1.1M627.6,213.7l.3,.7" fill="none" stroke="#30d8ff" stroke-width="1.0" stroke-linejoin="round" stroke-linecap="round"/>
<path d="M647,205.5l.5,1.2 -.1,1.3M648,211.8l-.4,1.3M647,214.2l-1,.9 -.8,1M643.1,217.7l-1.3,.3M639.2,218.2l-1.2-.4 -1.2-.6M635.8,216.4l-.6-1.1M628.8,201l-.2-1.3M624,191.1l-.2,.4 -.3,.7 -.3,.9M626.7,210.1l1,.8M635.8,208.7l1.2-.4M638.3,207.9l1.1-.6 1.2-.6M648.2,204.9l1.2-.5M653,203l1.2-.5M660.6,198.1l.4-1.2M660.9,195.6l-.1-1.3M660,191.8l-.9-.9M654.5,188.5l-1.1-.7M638.8,184.5l.1,1.3M642.3,204.2l-1.3,.2M639.7,204.3l-1.2-.6 -1.3-.4M635.4,201.5l-.8-1 -1.1-.7M634.9,186.9l1.2,.2M644.5,192.9l1,.9M648.9,201.3l-.6,1.2M642.6,204.5l-1.2-.6M639.6,200.5l0-1.3M639.8,192.7l.2-1.2M640.2,187.6l.1-1.3M650.9,192.5l-.2,1.3M650.4,198.9l-.6,1.2M648.9,201.1l-1,.8M639.3,200.5l-.9-1M649.4,187.2l.8,1M650.2,191.9l-1,.9 -1,.8M646.2,205.5l1.1,.8M649.7,207.3l.9,.9 1,.9M643.7,216.9l-1.1-.8M627.6,204.1l-.1-1.3 .4-1.2M638,203.1l.1,1.3M640.3,214.5l-.2,1.3M632.7,201.6l-.2-1.3M632.7,199l.1-1.3M633.1,192.5l.1-1.3M636.5,185.8l1.2-.3 1.3,.1 1.3,.3M642.1,187.8l.5,1.2 .8,1.1M648.8,199l.3,1.3M649.6,201.5l.7,1M651.9,204.6l1.1,.7M658.6,202.6l.9-.9 .6-1.2M648.7,209.9l1.3-.1 1.3,.1M657.7,198.9l-1.1-.7M637.6,200.9l-1.3,.2 -1.3-.2 -1.3,.2 -1.2-.3M631.2,201l-1.3,.2 -1.3,.1 -1.3-.1M623.3,194.5l.4-1.2M634.2,192.6l1.2,.6M640.6,193.9l1.3-.1M644.4,193.3l1.3-.3M648.8,190.7l1-.8M652.3,188.9l1.3,0M654.9,189l1.2,.4M658.4,190.6l.9,.9M659.8,192.8l.4,1.2M657,200.9l-.6,1.1 -1,.9M651.8,208.4l-.7,1.1 -.8,1M648.9,212.7l-.8,1M647.4,214.8l-.9,.9 -1,.9M643.3,217.9l-1.3,.4M639.4,218.3l-1.2-.4M636.3,216.2l-.9-.9M634.9,212.7l.1-1.3M635.6,208.9l.8-1M637.3,206.9l1.2-.5M651.1,203.5l1.2-.5 1.1-.7M654.6,201.8l.9-1 .9-.9M660.1,189.6l-1.2-.6M657.8,188.4l-1.3-.2M652,190.7l-.9,.9 -.9,1M649.2,193.4l-.8,1.1M642.3,199.3l-1,.8M640.3,201l-.8,1M638.6,202.9l-1.1,.8 -1.2,.6M631.6,208.7l-1,.8" fill="none" stroke="#70f4e0" stroke-width="1.0" stroke-linejoin="round" stroke-linecap="round"/>
<path d="M640.4,190.2l1,.9M645.9,200.4l.4,1.2M645.2,216.1l-1,.9M634.6,214.1l-.6-1.2M631.6,208.3l-.2-1.3M629.3,202.2l-.5-1.2M626.1,192.4l-1-.8M631.5,211.6l1.2-.4M649.4,204.4l1.2-.5M655.4,201.8l1.1-.5 1.2-.5 1.2-.7M659.8,199.2l.8-1.1M661,196.9l-.1-1.3M660.8,194.3l-.3-1.3M655.7,189.1l-1.2-.6M641.6,190.2l.4,1.3 .6,1.1M644.7,195.9l.5,1.2M643.5,204l-1.2,.2M637.2,203.3l-1.1-.7M633.5,199.8l-1.1-.8M641.5,190.6l1.2,.5M646.6,194.5l1,.9M649.1,198.7l0,1.4M641.4,203.9l-.9-.9 -.6-1.2M640.4,190.2l-.2-1.3M640.3,186.3l.2-1.3M651.7,188.6l-.2,1.3M650.9,195.1l0,1.3M644.1,202.5l-1.3-.4 -1.1-.5M650.7,190.7l-.5,1.2M648.2,193.6l-.9,1M644.1,198.5l-.3,1.2M647.3,206.3l1.3,.3M644.8,217.5l-1.1-.6M636.3,211.6l-1.1-.8M632,208.7l-1.1-.6M627.9,201.6l.7-1.1M631.7,198.2l1.3,0M636.6,199.5l.5,1.2 .4,1.2 .5,1.2M638.1,204.4l.4,1.2 .4,1.3 .4,1.3M640.1,215.8l-.6,1.2 -.7,1.1M632.3,213.2l.3-1.3M632,208l0-1.3M632.4,202.8l.3-1.2M645.9,194.6l.8,1.1M651,203.6l.9,1M660.1,200.5l.1-1.3M651.3,209.9l1.3,0M659.6,202.3l-.5-1.3M642.8,200.4l-1.3,.3M638.9,200.8l-1.3,.1M623.7,193.3l.8-1.1 1-.8M641.9,193.8l1.3,0M653.6,188.9l1.3,.1M656.1,189.4l1.2,.5M659.9,196.6l-.7,1.1M638.2,217.9l-1.2-.6M635,214l-.1-1.3M635,211.4l.1-1.3M648.5,203.8l1.3-.2M660.4,196.6l.8-1.1M656.5,188.2l-1.3,.3 -1.2,.5M653.1,190l-1.1,.7M648.4,194.5l-1,.8M644.5,197.8l-1.1,.7 -1.1,.8" fill="none" stroke="#c8f850" stroke-width="1.0" stroke-linejoin="round" stroke-linecap="round"/>
<path d="M641.4,191.1l.7,1.1 .8,1.1 .7,1.1 .7,1.1M640.6,218.3l-1.4-.1M634,212.9l-.5-1.2 -.6-1.1M632.2,209.5l-.6-1.2M633.8,210.4l1-.9M650.6,203.9l1.2-.5M658.9,200.1l.9-.9M658,190.1l-1.1-.6M638.9,185.8l.4,1.2M640.8,189.2l.8,1M642.6,192.6l.7,1.1 .9,1 .5,1.2M637.4,187.4l1.2,.5M642.7,191.1l1,.8M648.6,196.2l.4,1.2M651.5,189.9l-.4,1.3M650.9,196.4l-.2,1.2M649.8,200.1l-.9,1M645.4,202.5l-1.3,0M641.7,201.6l-1.3-.5 -1.1-.6M637.7,189.9l1.1-.7 1.1-.7M646.2,195.2l-1,.9M643.8,201.1l.3,1.2M651.6,209.1l.7,1.1M646.1,217.7l-1.3-.2M635.2,210.8l-.8-1 -1.2-.7M632.6,211.9l-.2-1.3 -.3-1.2M632.5,200.3l.2-1.3M644,191.2l.8,1.1 .5,1.2M650.3,202.5l.7,1.1M660.2,199.2l-.2-1.3M650.6,196.6l-1.3,.3 -1.2,.4M644.5,201.1l-.4,1.2M659.1,201l-.6-1.1M651.5,198l-1.3-.1M645.2,199.5l-1.2,.5 -1.2,.4M643.2,193.8l1.2-.5M660.2,194l-.1,1.3 -.2,1.3M659.2,197.7l-.7,1.1 -.9,.9 -.6,1.2M645.5,216.6l-1.1,.7M640.7,218.5l-1.3-.2M641,206.1l1.3-.4M646,204.7l1.3-.4 1.2-.5M649.8,203.6l1.3-.1M656.4,199.9l1-.9M659.4,197.4l1-.8M632.5,207.7l-.9,1" fill="none" stroke="#f8e820" stroke-width="1.0" stroke-linejoin="round" stroke-linecap="round"/>
<path d="M638,189.3l1.3,.3 1.1,.6M644.3,195.5l.7,1.1M645.5,197.8l.3,1.3 .1,1.3M646.7,202.9l.1,1.3M632.9,210.6l-.7-1.1M632.7,211.2l1.1-.8M641.9,206.4l1.3-.2M646.9,205.1l1.3-.2M639.3,187l.8,1.1 .7,1.1M645.7,198.3l.1,1.3 0,1.3 -.4,1.3M638.6,187.9l1.1,.8 .9,.9 .9,1M643.7,191.9l.8,1M647.6,195.4l1,.8M649.1,200.1l-.2,1.2M648.3,202.5l-.8,1M643.9,204.8l-1.3-.3M640,191.5l.4-1.3M640.2,188.9l0-1.3M651.6,187.3l.1,1.3M650.7,197.6l-.3,1.3M647.9,201.9l-1.2,.4 -1.3,.2M650.7,189.4l0,1.3M645.2,196.1l-.6,1.2M643.8,199.7l0,1.4M633.2,209.1l-1.2-.4M632.1,209.4l-.1-1.4M647.4,196.8l.7,1.1M649.1,200.3l.5,1.2M660,197.9l-.5-1.2M651.7,196l-1.1,.6M648.1,197.3l-1,.8 -1,.9M658.5,199.9l-.8-1M647.7,198.6l-1.3,.3M640.2,200.9l-1.3-.1M651,189.3l1.3-.4M644.8,205.2l1.2-.5M657.4,199l.9-1 1.1-.6M639.5,202l-.9,.9M633.5,207l-1,.7" fill="none" stroke="#ff8c10" stroke-width="1.0" stroke-linejoin="round" stroke-linecap="round"/>
<path d="M645,196.6l.5,1.2M646.3,201.6l.4,1.3M646.8,204.2l.2,1.3M643.2,206.2l1.1-.6 1.3-.5 1.3,0M645.2,197.1l.5,1.2M645.4,202.2l-.8,1 -1.1,.8M645.5,193.8l1.1,.7M649,197.4l.1,1.3M647.5,203.5l-1.1,.8 -1.2,.3 -1.3,.2M639.9,201.8l-.3-1.3M639.9,188.5l1-.8M647.3,194.6l-1.1,.6M644.6,197.3l-.5,1.2M644.1,202.3l.4,1.2 .8,1.1 .9,.9M645.3,193.5l.6,1.1M646.7,195.7l.7,1.1M648.1,197.9l.7,1.1M646.1,199l-.9,1 -.7,1.1M644.1,202.3l0,1.3 -.1,1.3 0,1.3M650.2,197.9l-1.3,.3 -1.2,.4M646.4,198.9l-1.2,.6M641.5,200.7l-1.3,.2M642.3,205.7l1.3-.3 1.2-.2M647.4,195.3l-1.1,.7 -1.1,.8 -.7,1M641.3,200.1l-1,.9" fill="none" stroke="#ff2a00" stroke-width="1.0" stroke-linejoin="round" stroke-linecap="round"/>
<rect x="553.6" y="223.6" width="59.8" height="47.9" fill="#000080"/>
<circle cx="583.5" cy="247.6" r="21.8" fill="none" stroke="#8080c8" stroke-width="0.5"/>
<circle cx="583.5" cy="247.6" r="14.4" fill="none" stroke="#8080c8" stroke-width="0.5"/>
<circle cx="583.5" cy="247.6" r="7.2" fill="none" stroke="#8080c8" stroke-width="0.5"/>
<line x1="561.7" y1="247.6" x2="605.3" y2="247.6" stroke="#b8b8f0" stroke-width="0.6"/>
<line x1="583.5" y1="225.8" x2="583.5" y2="269.4" stroke="#8888d0" stroke-width="0.5"/>
<path d="M593.3,256.1l.9-.9 .7-1.1 .5-1.2 .5-1.2 .1-1.3 .1-1.3 -.1-1.3 -.4-1.3 -.7-1.1 -1-.8 -1.3-.3 -1.2-.5 -1.2-.5 -1.2-.6 -1.1-.6 -1.3-.4 -1.2-.4 -1.2-.4 -1.1-.8 -1.2-.5 -1.2-.6 -1.2-.5 -1.2-.3 -1.2-.6 -1.2-.7 -1-.7 -1.2-.5 -1.3-.4 -1.3,0 -1.3,.1 -1.2,.5 -1.2,.5 -1.1,.8 -.8,1 -.5,1.2 -.2,1.3 .1,1.3 .1,1.3 .5,1.2 .8,1.1 .8,1 .9,.9 1.1,.7 1.3,.1 1.3,.4 1.2,.2 1.2,.5 1.3,.3 1.3,0 1.3-.3 1.3,.1 1.3-.1 1.3-.4 1.2-.2 1.4-.1 1.2,.4 1.1,.7 .8,1.1 .4,1.2 -.3,1.3 -.6,1.1 -.9,1 -1.1,.7 -1.2,.5 -1.1,.6 -1.2,.6 -1.2,.6 -1,.9 -.9,.9 -1.1,.6 -1.1,.8 -1.1,.6 -1.3,.4 -1.2,.4 -1.3,.1 -1.3,.3 -1-.4 -.7-.7 -.8-.9 -.8-.9 -.7-1.1 -.8-1.1 -.6-1.1 -.5-1.2 -.2-1.3 .3-1.3 .4-1.2 .9-1 .7-1.1 .6-1.1 .8-1.1 .7-1.1 .5-1.2 .7-1.1 .7-1.1 .9-.9 .5-1.2 .8-1.1 .7-1.1 .7-1.1 .5-1.2 1-.9 .9-1 1-.8 1.1-.6 1.2-.6 1.3-.3 1.3-.3 1.3-.2 1.3,0 1.3,.2 1,.7 .6,1.2 .1,1.3 -.3,1.3 -.4,1.2 -.7,1.1 -.7,1.1 -.9,1 -.8,1 -.9,.9 -1.1,.8 -.8,1 -1.2,.6 -1,.8 -1,.8 -.7,1.2 -1,.8 -.7,1.1 -1,.9 -.9,.9 -1.2,.5 -1.3,.2 -1.3,0 -1.2-.4 -1.1-.7 -.7-1.1 -.3-1.3 -.4-1.3 0-1.3 .4-1.2 .8-1 1.1-.8 1.3,0 1.3-.3 1.1-.6 1.2-.5 1.2-.6 1.1-.6 1.3-.5 1.2-.5 1.1-.6 1.3-.4 1.3,0 1.2,.5 1.1,.6 .8,1.1 .2,1.3 -.2,1.2 -.5,1.3 -.9,.9 -1,.8 -1.1,.8 -1.1,.6 -.8,1.1 -1,.9 -.8,1 -.8,1 -1.1,.7 -.9,1 -.9,.9 -1,.9 -1.1,.7 -1.1,.8 -.8,1 -.7,1 -.2,1.3 .2,1.3 .6,1.2 .7,1 1.1,.7 1.3,.2 1.3,.1 1.3-.3 1.3,.2 1.3-.4 1.3-.1 1.3-.2 1.2-.5 1.3,.1 1.3-.2 1.2-.5 1-.9 .7-1.1 .4-1.2 .2-1.3 -.1-1.3 -.2-1.3 -.2-1.3 -.6-1.2 -.4-1.2 -.3-1.3 -.5-1.2 0-1.3 -.5-1.2 -.3-1.3 -.2-1.3 -.6-1.2 -.1-1.3 -.4-1.2 -.5-1.2 -.5-1.3 -.6-1.1 -.6-1.2 0-1.3 -.3-1.3 -.3-1.2 -.5-1.2 -.8-1.1 -.9-.9 -1.3-.3 -1.3-.4 -1.3,0 -1.2,.5 -1,.9 -.7,1.1 -.5,1.1 -.5,1.3 -.5,1.2 -.2,1.3 .2,1.3 .1,1.3 0,1.3 0,1.3 .2,1.3 0,1.3 .2,1.3 .1,1.3 .3,1.3 .2,1.3 .1,1.3 .1,1.3 -.2,1.3 -.2,1.3 -.2,1.3 .2,1.3 .1,1.3 .3,1.2 .9,1 .9,.9 .7,1.1 .6,1.2 .7,1.1 1,.8 1,.8 1.1,.7 1.2,.6 1.3,.2 1.3,.1 1.2-.4 1.2-.5 1.1-.8 .7-1.1 .4-1.3 -.3-1.2 -.9-1 -1-.8 -1.2-.6 -.8-1 -.7-1.1 -1-.9 -1-.9 -.9-.9 -1-.9 -.9-.9 -.9-.9 -.3-1.3 -.1-1.3 .2-1.3 .3-1.3 .3-1.3 .4-1.2 .6-1.1 .8-1.1 1.1-.8 1.1-.7 1.1-.6 1.2-.4 1.4-.1 1.3,.2 1.2,.5 1.1,.7 1,.8 .6,1.2 .6,1.1 .6,1.2 .3,1.3 .1,1.3 .3,1.2 .5,1.2 .2,1.3 .2,1.3 .2,1.3 .5,1.2 .7,1.2 .3,1.2 .4,1.3 .6,1.1 .3,1.3 .3,1.3 .1,1.3 -.8,.7 -1,.6 -1.1,.6 -1.2,.4 -1.3,.4 -1.3-.2 -1.2-.5 -1-.8 -.9-1 -1.1-.7 -.9-.9 -.7-1.1 -.8-1.1 -.7-1.1 -.5-1.2 -.6-1.1 -.9-1 -.6-1.2 -.5-1.2 -.8-1.1 -.6-1.1 -1.1-.7 -1.1-.8 -.9-1 -.9-.9 -.5-1.2 -.5-1.2 -.8-1 -.8-1.1 -.7-1.1 -.6-1.2 -.4-1.2 -.7-1.1 -1-.9 -1-.7 -1.3-.3 -.5,.3 -.3,.6 -.4,.9 -.4,1.1 -.4,1.2 -.3,1.3 0,1.3 .1,1.3 .6,1.2 0,1.3 .3,1.2 .6,1.2 1,.8 1.3,.2 1.3-.4 1.2-.4 1.1-.8 .9-.9 .7-1.1 .6-1.2 .8-1 .2-1.3 .4-1.2 .5-1.2 .6-1.2 .4-1.2 .5-1.2 .5-1.3 .9-.9 1.1-.7 1.2-.5 1.3-.3 1.3,.2 1.1,.6 1,.9 .8,1 .4,1.3 0,1.3 0,1.3 -.3,1.2 -.6,1.2 -.9,1 -1,.7 -1,.9 -1.3,.4 -.9,1 -1,.8 -.9,.9 -1,.9 -.7,1.1 -.8,1 -.9,1 -1.2,.5 -1.2,.6 -1,.8 -.7,1.1 -.3,1.3 .1,1.3 .5,1.2 1,.9 1.1,.6 1.3,.4 1.3,0 1.2-.3 1.2-.5 1.1-.7 1-.9 1.1-.8 1-.7 1.1-.7 1.1-.7 1.1-.8 .9-.9 1.2-.6 1.1-.8 .9-.9 1.1-.7 1-.8 .8-1.1 1-.8 .8-1 1.2-.7 .8-1 .2-1.3 -.1-1.3 -.3-1.3 -.8-1 -.8-1 -1.2-.5 -1.2-.6 -1.1-.7 -.9-1 -1-.8 -1-.8 -1.2-.5 -1.1-.8 -1.2-.4 -1.3-.1 -1.3,.1 -1.3,.2 -1.2,.7 -1.2,.5 -1.2,.4 -.9,.9 -.6,1.2 -.7,1.1 -.5,1.2 -.6,1.2 -.6,1.1 -.7,1.1 -.7,1.1 -.6,1.2 -.6,1.2 -.3,1.2 -.7,1.1 -.8,1.1 -.5,1.2 -.2,1.3 .2,1.3 .5,1.2 .6,1.1 .9,1 1,.9 1.1,.7 1.2,.4 1.3,0 1.3,.2 1.3,.1 1.3,.2 1.3,0 1.3,.4 1.2,.4 1.3,.1 1.3,.2 1.3,.1 1.3-.3 1.3-.2 1.2-.5 1.1-.7 1-.8 .8-1.1 .6-1.1 .4-1.3 .4-1.2 .3-1.3 -.2-1.3 -.5-1.2 -1-.9 -1.1-.6 -1.3-.3 -1.3-.2 -1.3,.1 -1.3,0 -1.3,.3 -1.3,0 -1.3,0 -1.3,0 -1.3,.1 -1.3-.1 -1.3,.1 -1.3,0 -1.3,0 -1.2,.4 -1.3,.4 -1.3,.2 -1.3-.2 -1.3,0 -1.3-.1 -1-.8 -1-.9 -.8-1 -.5-1.2 -.4-1.2 -.1-1.3 .6-1.2 1-.8 1.3-.4 1.2-.6 1.2-.2 1.2-.6 1.1-.7 1.2-.4 1.3-.3 1.2-.5 1.3-.4 1.2-.5 1.3-.3 1.3-.1 1.3-.3 1.2-.3 1.3-.3 1.2-.5 1.3-.3 1.3-.3 1-.8 1.3-.2 1.3-.3 1.1-.6 .7-1.2 .4-1.2 .2-1.3 -.6-.6 -.6-.3 -.9-.3 -1-.4 -1.1-.3 -1.2-.3 -1.1-.2 -1.3-.2 -1.3-.1 -1.2,0 -1.3,.1 -1.3,.2 -1.2,.5 -1,.9 -.8,1 -.7,1.1 -.1,1.3 -.1,1.3 -.4,1.2 -1,.9 -1.1,.8 -.8,1 -.9,.9 -1.1,.7 -1.2,.5 -1.2,.7 -.8,.9 -.9,1 -.8,1 -.3,1.3 .1,1.3 .5,1.2 .8,1.1 1,.9 1.2,.4 1.3,.1 1.3,0 1.2-.4 1.3-.3 1.3-.2 1.3,0 1.3-.2 1.3-.3 1.2-.5 1.3-.3 1.3-.1 1.3-.2 1.3-.2 1.2-.4 1.3-.2 1.2-.5 1.2-.4" fill="none" stroke="#12a8ff" stroke-width="1.0" stroke-linejoin="round" stroke-linecap="round"/>
<path d="M594.9,254.1l.5-1.2M596.1,249.1l-.1-1.3M595.6,246.5l-.7-1.1M593.9,244.6l-1.3-.3 -1.2-.5 -1.2-.5 -1.2-.6 -1.1-.6M580.7,239l-1.2-.5M573.7,235.7l-1.3-.4M571.1,235.3l-1.3,.1 -1.2,.5M567.4,236.4l-1.1,.8 -.8,1 -.5,1.2 -.2,1.3M564.9,242l.1,1.3 .5,1.2M579.3,249.5l1.3-.1 1.3-.4 1.2-.2 1.4-.1 1.2,.4M588,252.1l-.3,1.3M587.1,254.5l-.9,1 -1.1,.7M582.8,257.3l-1.2,.6M580.4,258.5l-1,.9M578.5,260.3l-1.1,.6M576.3,261.7l-1.1,.6M573.9,262.7l-1.2,.4 -1.3,.1 -1.3,.3 -1-.4M568.4,262.4l-.8-.9M564.3,253.5l.4-1.2M568.4,246.9l.5-1.2M571.7,241.4l.8-1.1M578.4,233.6l1.2-.6M580.9,232.7l1.3-.3M587.1,233.1l.6,1.2 .1,1.3 -.3,1.3 -.4,1.2M581.2,245l-1.2,.6M574.6,251.2l-.9,.9 -1.2,.5 -1.3,.2M569.9,252.8l-1.2-.4 -1.1-.7M566.9,250.6l-.3-1.3M566.2,248l0-1.3M566.6,245.5l.8-1 1.1-.8M575.7,241.1l1.3-.5 1.2-.5 1.1-.6M583.6,246l-1,.8M577.8,251.2l-.8,1M575.9,252.9l-.9,1 -.9,.9M573.1,255.7l-1.1,.7M570.1,258.2l-.7,1 -.2,1.3 .2,1.3 .6,1.2M570.7,264l1.1,.7M573.1,264.9l1.3,.1 1.3-.3 1.3,.2M583.4,263.8l1.3-.2M586.9,262.2l.7-1.1 .4-1.2M587.7,254.7l-.6-1.2 -.4-1.2M585.9,249.8l0-1.3M585.4,247.3l-.3-1.3M572,231l-.5,1.1M571,233.4l-.5,1.2 -.2,1.3M570.5,237.2l.1,1.3M571.7,250.2l.1,1.3M571.2,255.4l.2,1.3M571.5,258l.3,1.2 .9,1 .9,.9M574.3,262.2l.6,1.2 .7,1.1 1,.8 1,.8M586,266l.7-1.1 .4-1.3M586.8,262.4l-.9-1 -1-.8 -1.2-.6M582.9,259l-.7-1.1M580.2,256.1l-.9-.9M577.4,253.4l-.9-.9M576.6,247.3l.3-1.3M577.3,244.8l.6-1.1M578.7,242.6l1.1-.8 1.1-.7M587.1,240.7l1.1,.7 1,.8 .6,1.2M590.4,244.5l.6,1.2M591.4,248.3l.3,1.2 .5,1.2 .2,1.3M592.6,253.3l.2,1.3 .5,1.2M588.1,266.5l-1-.8 -.9-1 -1.1-.7 -.9-.9 -.7-1.1 -.8-1.1M582,259.8l-.5-1.2M580,256.5l-.6-1.2M578.1,253l-.6-1.1M569.2,240.5l-.7-1.1 -1-.9 -1-.7 -1.3-.3 -.5,.3 -.3,.6 -.4,.9 -.4,1.1 -.4,1.2 -.3,1.3 0,1.3 .1,1.3 .6,1.2 0,1.3M563.9,249.2l.6,1.2 1,.8M573.4,245.6l.2-1.3M583.4,235.4l1,.9 .8,1M575.2,252.3l-.9,1M571.9,254.4l-1,.8M570,258.9l.5,1.2 1,.9 1.1,.6M576.4,261.7l1.2-.5M578.7,260.5l1-.9M580.8,258.8l1-.7M584,256.7l1.1-.8 .9-.9M587.2,254.4l1.1-.8 .9-.9M590.3,252l1-.8 .8-1.1M593.9,248.3l1.2-.7M595.9,246.6l.2-1.3M589.7,237.9l-1-.8 -1-.8 -1.2-.5M568.4,251.1l-.5,1.2 -.2,1.3M568.4,256.1l.6,1.1M572,259.8l1.2,.4 1.3,0 1.3,.2 1.3,.1M578.4,260.7l1.3,0M581,261.1l1.2,.4 1.3,.1M584.8,261.8l1.3,.1 1.3-.3M593.4,257.2l.4-1.3M594.2,254.7l.3-1.3 -.2-1.3 -.5-1.2 -1-.9 -1.1-.6 -1.3-.3M589.1,248.9l-1.3,.1 -1.3,0 -1.3,.3 -1.3,0 -1.3,0 -1.3,0M567.1,250.1l-1-.8M565.1,248.4l-.8-1 -.5-1.2 -.4-1.2 -.1-1.3 .6-1.2M564.9,241.7l1.3-.4M584.7,235.3l1.3-.3M587.3,234.7l1-.8M577.4,229.1l-.7,1.1 -.1,1.3 -.1,1.3M572.3,237.6l-1.1,.7M570,238.8l-1.2,.7M568,240.4l-.9,1 -.8,1 -.3,1.3M583.7,246.4l1.3-.2M590,244.9l1.2-.4" fill="none" stroke="#30d8ff" stroke-width="1.0" stroke-linejoin="round" stroke-linecap="round"/>
<path d="M593.3,256.1l.9-.9M581.9,239.6l-1.2-.6M572.4,235.3l-1.3,0M564.8,240.7l.1,1.3M565.5,244.5l.8,1.1 .8,1M585.7,249.1l1.1,.7M587.6,250.9l.4,1.2M579.4,259.4l-.9,.9M577.4,260.9l-1.1,.8M567.7,248l.7-1.1M568.9,245.7l.7-1.1M571.2,242.6l.5-1.2M572.5,240.3l.7-1.1 .7-1.1M576.3,235l1-.8 1.1-.6M579.6,233l1.3-.3M587.1,238.1l-.7,1.1M584,242.3l-.9,.9M580,245.6l-1,.8 -1,.8M566.2,246.7l.4-1.2M568.5,243.7l1.3,0M573.4,242.3l1.2-.6 1.1-.6M579.3,239.5l1.3-.4 1.3,0M585.2,242.6l-.2,1.2M584.5,245.1l-.9,.9M582.6,246.8l-1.1,.8M579.6,249.3l-1,.9M577,252.2l-1.1,.7M585.9,263.1l1-.9M586.4,251l-.5-1.2M585.9,248.5l-.5-1.2M585.1,246l-.2-1.3 -.6-1.2M583.3,239.8l-.5-1.3 -.6-1.1M581.3,233.6l-.3-1.2M578.8,229.2l-1.3-.3M570.3,235.9l.2,1.3M570.6,239.8l0,1.3M571,245l.1,1.3M571.8,251.5l-.2,1.3 -.2,1.3 -.2,1.3M571.4,256.7l.1,1.3M587.1,263.6l-.3-1.2M578.3,254.3l-.9-.9M576.3,248.6l.3-1.3M585.9,240.2l1.2,.5M589.8,243.4l.6,1.1M593.3,255.8l.7,1.2M578.9,254.1l-.8-1.1M574.4,249.4l-.9-.9M573,247.3l-.5-1.2M570.2,242.9l-.6-1.2M565.5,251.2l1.3,.2 1.3-.4 1.2-.4M573.6,244.3l.4-1.2 .5-1.2 .6-1.2M578.5,235.4l1.2-.5M582.3,234.8l1.1,.6M585.2,237.3l.4,1.3M585.3,242.4l-.6,1.2M583.8,244.6l-1,.7M581.8,246.2l-1.3,.4M574.3,253.3l-1.2,.5 -1.2,.6M570.9,255.2l-.7,1.1M573.9,262l1.3,0 1.2-.3M577.6,261.2l1.1-.7M592.1,250.1l1-.8M586.5,235.8l-1.1-.8M580.3,234.8l-1.2,.7M574.5,239.6l-.5,1.2M573.4,242l-.6,1.1M572.1,244.2l-.7,1.1M569.9,248.9l-.7,1.1 -.8,1.1M570.9,259.1l1.1,.7M577.1,260.5l1.3,.2M583.5,261.6l1.3,.2M592.8,258.3l.6-1.1M593.8,255.9l.4-1.2M573.6,249.8l-1.3,.4M569.7,250.2l-1.3,0M566.1,249.3l-1-.9M563.9,242.5l1-.8M566.2,241.3l1.2-.6M572.1,238.8l1.3-.3M579.7,236.7l1.3-.3M586,235l1.3-.3M578.2,228.1l-.8,1M576.5,232.8l-.4,1.2 -1,.9M568.8,239.5l-.8,.9M566,243.7l.1,1.3M567.4,247.3l1,.9M573.4,248.3l1.3-.3 1.3-.2M579.9,247.3l1.2-.5 1.3-.3 1.3-.1M588.8,245.4l1.2-.5" fill="none" stroke="#70f4e0" stroke-width="1.0" stroke-linejoin="round" stroke-linecap="round"/>
<path d="M587.9,242.1l-1.3-.4M583.1,240.1l-1.2-.5M579.5,238.5l-1.2-.3M574.9,236.2l-1.2-.5M567.1,246.6l.9,.9M569.1,248.2l1.3,.1M571.7,248.7l1.2,.2M578,249.4l1.3,.1M587.7,253.4l-.6,1.1M583.9,256.7l-1.1,.6M581.6,257.9l-1.2,.6M575.2,262.3l-1.3,.4M566.3,250.2l.6-1.1 .8-1.1M569.6,244.6l.7-1.1M574.4,236.9l1-.9M584.8,241.3l-.8,1M582,244l-.8,1M575.6,250.3l-1,.9M566.6,249.3l-.4-1.3M572.2,242.8l1.2-.5M585,243.8l-.5,1.3M578.6,250.2l-.8,1M572,256.4l-1.1,.8M584.7,263.6l1.2-.5M587.9,256l-.2-1.3M582.2,237.4l-.6-1.2M581.6,234.9l-.3-1.3M573.6,261.1l.7,1.1M583.7,260l-.8-1M582.2,257.9l-1-.9M580.9,241.1l1.1-.6M582.7,260.9l-.7-1.1M581.5,258.6l-.6-1.1M573.5,248.5l-.5-1.2M572.5,246.1l-.8-1M569.6,241.7l-.4-1.2M569.3,250.6l1.1-.8M572,247.8l.6-1.2M575.1,240.7l.4-1.2 .5-1.2M577.4,236.1l1.1-.7M585.6,238.6l0,1.3M582.8,245.3l-1,.9M580.5,246.6l-.9,1M576,251.3l-.8,1M570.2,256.3l-.3,1.3M579.7,259.6l1.1-.8M581.8,258.1l1.1-.7M586,255l1.2-.6M585.4,235l-1.2-.4 -1.3-.1M575.8,237.3l-.6,1.2 -.7,1.1M571.4,245.3l-.6,1.2M569,257.2l.9,1 1,.9M581.3,249.3l-1.3,.1 -1.3-.1M572.3,250.2l-1.3,.2 -1.3-.2M567.4,240.7l1.2-.2M569.8,239.9l1.1-.7M577.1,237.1l1.3-.3 1.3-.1M581,236.4l1.2-.3 1.3-.3 1.2-.5M575.1,234.9l-1.1,.8 -.8,1 -.9,.9M571.2,238.3l-1.2,.5M566.1,245l.5,1.2 .8,1.1M572.2,248.7l1.2-.4M577.3,247.8l1.3-.2" fill="none" stroke="#c8f850" stroke-width="1.0" stroke-linejoin="round" stroke-linecap="round"/>
<path d="M575.9,236.9l-1-.7M568,247.5l1.1,.7M565.6,251.3l.7-1.1M575.4,236l.9-1M586.4,239.2l-.7,1.1M576.3,249.2l-.7,1.1M571.1,243.4l1.1-.6M585,241.3l.2,1.3M581.5,247.6l-1.1,.6 -.8,1.1M570.9,257.2l-.8,1M584.3,243.5l-.1-1.3 -.4-1.2M581.6,236.2l0-1.3M570.6,238.5l0,1.3M570.8,242.4l0,1.3 .2,1.3M571.1,246.3l.3,1.3M571.6,248.9l.1,1.3M576.2,251.2l-.1-1.3M584.6,240l1.3,.2M571.7,245.1l-.8-1.1 -.7-1.1M576.5,237l.9-.9M579.7,234.9l1.3-.3 1.3,.2M585.6,241.2l-.3,1.2M584.7,243.6l-.9,1M579.6,247.6l-1,.8M569.9,257.6l.1,1.3M572.6,261.6l1.3,.4M582.9,234.5l-1.3,.1M579.1,235.5l-1.2,.5M574,240.8l-.6,1.2M574.8,249.4l-1.2,.4M570.9,239.2l1.2-.4M575.9,237.6l1.2-.5M569.6,248.6l1.3,.1M576,247.8l1.3,0M578.6,247.6l1.3-.3" fill="none" stroke="#f8e820" stroke-width="1.0" stroke-linejoin="round" stroke-linecap="round"/>
<path d="M584.2,240.9l-1.1-.8M578.3,238.2l-1.2-.6M572.9,248.9l1.2,.5 1.3,.3M576.7,249.7l1.3-.3M573.9,238.1l.5-1.2M567.6,251.7l-.7-1.1M581.9,239.1l1.2,.5 1.1,.6M583.8,241l-.5-1.2M570.6,241.1l.2,1.3M576.1,249.9l.2-1.3M582,240.5l1.2-.4M570.4,249.8l.9-.9M585.6,239.9l0,1.3M581.6,234.6l-1.3,.2M577.9,236l-1.2,.4 -.9,.9M570.8,246.5l-.6,1.2M578.7,249.3l-1.3,.1 -1.3,0M568.4,250.2l-1.3-.1M568.6,240.5l1.2-.6M573.4,238.5l1.2-.5 1.3-.4M568.4,248.2l1.2,.4M570.9,248.7l1.3,0" fill="none" stroke="#ff8c10" stroke-width="1.0" stroke-linejoin="round" stroke-linecap="round"/>
<path d="M586.6,241.7l-1.2-.4 -1.2-.4M577.1,237.6l-1.2-.7M570.4,248.3l1.3,.4M575.4,249.7l1.3,0M570.3,243.5l.9-.9M585.7,240.3l-.9,1M578,247.2l-.7,1.2 -1,.8M569.8,243.7l1.3-.3M584.2,240.2l.8,1.1M571.4,247.6l.2,1.3M576.5,252.5l-.3-1.3M583.2,240.1l1.4-.1M577.5,251.9l-1.1-.7 -1.1-.8 -.9-1M571.3,248.9l.7-1.1M576,238.3l.5-1.3M578.6,248.4l-.9,.9 -1,.9 -.7,1.1M572.8,243.1l-.7,1.1M570.2,247.7l-.3,1.2M576.1,249.4l-1.3,0" fill="none" stroke="#ff2a00" stroke-width="1.0" stroke-linejoin="round" stroke-linecap="round"/>
<rect x="613.4" y="223.6" width="59.7" height="47.9" fill="#000080"/>
<circle cx="643.2" cy="247.6" r="21.8" fill="none" stroke="#8080c8" stroke-width="0.5"/>
<circle cx="643.2" cy="247.6" r="14.4" fill="none" stroke="#8080c8" stroke-width="0.5"/>
<circle cx="643.2" cy="247.6" r="7.2" fill="none" stroke="#8080c8" stroke-width="0.5"/>
<line x1="621.5" y1="247.6" x2="665.0" y2="247.6" stroke="#b8b8f0" stroke-width="0.6"/>
<line x1="643.2" y1="225.8" x2="643.2" y2="269.4" stroke="#8888d0" stroke-width="0.5"/>
<path d="M650.7,240.6l-.4-1.2 -.4-1.3 -.6-1.1 -.6-1.2 -.9-1 -1.2-.4 -1.3,.1 -1.3,.3 -1.2,.5 -1.1,.7 -.5,1.2 -.1,1.3 .1,1.3 .6,1.2 .5,1.2 0,1.3 0,1.3 .1,1.3 .4,1.3 .5,1.1 .6,1.2 .3,1.3 .6,1.2 .5,1.2 .2,1.3 .6,1.1 .6,1.1 .1,1.4 .3,1.2 .6,1.2 .7,1.1 1.1,.7 1.2,.4 1.3,.4 1.3,.3 1.3-.2 1.2-.5 1-.7 1-.9 .9-.9 .5-1.3 -.1-1.3 .3-1.2 .6-1.2 .6-1.1 .4-1.3 .2-1.3 .3-1.3 .2-1.2 -.1-1.3 -.4-1.3 -.7-1 -1.2-.6 -1.2-.6 -1.2-.4 -1.2-.6 -1.3-.3 -1.2-.4 -1.2-.6 -1.2-.4 -1.3-.5 -1.2-.5 -1.2-.3 -1.2-.6 -1.3-.2 -1.2-.6 -.9-.9 -1-.9 -1.2-.5 -1.3,0 -1.3-.1 -1.2-.3 -1.4,0 -1.2,.1 -1.2,.7 -1.2,.5 -1,.8 -.7,1.1 -.6,1.2 -.2,1.3 .2,1.3 .4,1.2 .4,1.3 .2,1.3 .1,1.3 .3,1.2 .5,1.2 0,1.3 .4,1.3 .4,1.2 .4,1.3 .5,1.2 .7,1.1 1,.8 1.2,.6 1.3,.3 1.3,0 1.2-.4 1.3-.3 1.2-.4 1.3-.2 1.3-.4 1-.9 1-.7 1.3-.3 1.3-.4 1.1-.7 1.1-.7 1.1-.7 1.2-.6 1-.7 1.1-.7 1.2-.7 1.2-.5 1.2-.5 1.3-.2 1.2-.4 1.3,.3 1,.6 -.1,.5 -.1,.7 -.2,.9 -.3,1 -.3,1.2 -.5,1.2 -.7,1.1 -.9,.9 -1.1,.8 -1.1,.6 -1.2,.6 -1.2,.5 -1.3,.2 -1.1,.7 -1.1,.8 -1.2,.5 -1.3,.2 -1.2,.3 -1.3,.4 -1.3,.2 -1.2,.5 -1.2,.3 -1.3,.1 -1.3-.3 -1.3-.2 -1.3-.3 -1.3,.2 -1.3-.2 -1.3-.4 -1.1-.6 -.9-1 -.6-1.1 .1-1.3 -.2-1.3 -.2-1.3 .2-1.3 .4-1.2 -.3-1.3 -.1-1.3 0-1.3 .3-1.3 .4-1.3 -.3-1.3 -.1-1.3 .1-1.3 .4-1.2 .3-1.3 .4-1.2 .1-1.3 0-1.4 .3-1.2 .2-1.3 .3-1.3 .5-1.2 .9-.9 1.2-.5 1.2-.5 1.3-.3 1.3,.1 1.3,.3 1.2,.3 1.2,.6 1,.9 .9,.9 1,.9 1,.8 1.2,.6 1.2,.5 1.1,.6 1,.8 1,.9 1.3,.4 1,.8 1,.9 .9,.9 1,.9 .6,1.1 .1,1.3 -.2,1.3 .2,1.3 -.2,1.3 0,1.3 -.4,1.3 -.5,1.2 -.7,1.1 -.7,1.1 -.8,1 -1.1,.8 -1.2,.5 -1.3,.1 -1.3-.3 -1.1-.6 -1.2-.5 -1.3-.3 -1.2-.6 -1.1-.7 -1.2-.5 -1.2-.5 -1.1-.6 -1.3-.5 -1.3-.2 -1.2-.5 -1-.7 -1.3-.2 -1.3-.4 -1.1-.7 -1.2-.5 -1.3-.4 -1.2-.3 -1.3-.4 -1.2-.5 -1.2-.4 -1.2-.5 -1.2-.7 -1-.8 -.9-.9 .1-1 .3-1.2 .4-1.1 .4-1.2 .6-1.1 .6-1.2 .8-1 1.1-.7 1.3,0 1.3-.2 1.3-.1 1.2-.7 1-.8 1.2-.5 1.2-.6 1.2-.4 1.3-.1 1.2-.6 1.2-.4 1.2-.5 1.1-.8 1.2-.5 1.3-.3 1.3-.1 1.3-.2 1.3,.2 1.2,.5 1.1,.7 .9,1 .8,1 .5,1.2 .2,1.3 -.2,1.3 -.7,1.1 -1.1,.7 -1.2,.5 -1,.8 -1.3,.4 -1.2,.4 -1.3,.1 -1.3,.3 -1.3,.1 -1.3,.4 -1.2,.5 -1.1,.7 -1.1,.6 -1.2,.6 -1.3,.3 -1.2,.5 -1.3,.1 -1.2,.5 -1,.9 -1.2,.5 -.9,.9 -.6,1.2 -.3,1.3 0,1.3 .2,1.3 .3,1.3 .2,1.2 .6,1.2 .5,1.2 .8,1.1 .9,.9 .8,1 .8,1.1 1.1,.7 .7,1.1 1.1,.6 1.1,.8 1.3,.2 1.3,.1 1.3-.3 1.2-.3 1.1-.8 .8-1 .5-1.2 .1-1.3 0-1.3 -.3-1.3 -.8-1.1 -1-.8 -1-.9 -.9-.9 -.7-1.1 -.6-1.2 -.9-.9 -1.1-.7 -1.1-.7 -.7-1.1 -.9-1 -1.1-.6 -1.3-.2 -1.3,0 -1.3,.4 -1.3,.2 -1,.8 -.6,1.2 -.6,1.1 -.4,1.3 -.4,1.2 -.3,1.3 0,1.3 .2,1.3 .2,1.3 .2,1.3 .5,1.2 .4,1.2 .8,1 .9,.9 1.2,.6 1.2,.4 1.3,.1 1.3-.1 1.1-.8 .7-1.1 .4-1.2 0-1.3 -.1-1.3 -.6-1.2 -.3-1.3 -.2-1.3 -.2-1.2 .1-1.3 -.2-1.3 -.2-1.3 -.1-1.3 -.3-1.3 -.2-1.3 .1-1.3 .2-1.3 -.2-1.3 -.2-1.3 -.3-1.2 .4-1.3 0-1.3 .3-1.3 .8-1 1-.8 1-.8 1.3-.5 1.3,0 1.3,0 1.2,.5 1,.8 .8,1.1 .3,1.2 .2,1.3 -.1,1.3 -.6,1.2 -.2,1.3 -.6,1.2 -.6,1.1 -.3,1.3 -.8,1.1 -.5,1.1 -.4,1.3 -.8,1 -1,.9 -.9,1 -.8,1 -.8,1 -.6,1.2 -1.1,.7 -1,.8 -1.2,.6 -1.3,.2 -1.3-.1 -1.2-.5 -.8-1 -.9-1 -.7-1.1 -.5-1.2 0-1.3 .4-1.2 .9-1 1-.8 1.1-.7 .9-1 1.2-.5 1.3-.2 1.2-.6 .9-1 1.1-.7 1.2-.4 1.2-.5 1.1-.7 1.3-.3 1.3-.1 1.2,.5 1.1,.8 .9,.9 .6,1.2 .2,1.3 .1,1.3 .1,1.3 -.5,1.2 -.6,1.2 -.9,.9 -1.1,.7 -1,.9 -1,.8 -1,.8 -1,.9 -1.2,.6 -1.1,.6 -1,.9 -.9,.9 -.9,1 -1.1,.7 -.8,1.1 -.5,1.2 -.2,1.3 -.2,1.1 .8,.6 1,.7 1.1,.6 1.1,.6 1.3,.4 1.3-.2 1.3,0 1.3-.2 1.3,.1 1.3-.1 1.3,.3 1.3,0 1.3-.2 1.3,0 1.3-.1 1.2-.4 1.1-.8 1-.9 .8-1 .5-1.2 .2-1.3 0-1.3 -.4-1.2 -.5-1.2 -.5-1.2 -1-.9 -1-.8 -1.1-.7 -1.2-.6 -1.3-.2 -1.3-.2 -1.2-.4 -1.3-.5 -1.2-.3 -1.2-.5 -1.3-.4 -1.3-.3 -1.2-.3 -1.3,.1 -1.3-.1 -1.3-.3 -1.3-.2 -1.3-.2 -1.3-.2 -1.1-.7 -.9-.9 -.6-1.2 -.5-1.2 -.5-1.2 -.4-1.2 -.2-1.3 -.1-1.3 .3-1.3 .6-1.1 .9-1 1.1-.7 1.3-.4 1.3-.2 1.2,.5 1.3,.3 1.2,.4 1.3,.2 1.3,.1 1.3,.3 1.3,.2 1.1,.6 1.3,.2 1.3,0 1.3,.3 1.2,.4 1.2,.5 1.3,.2 1.3,.3 1.3,.4 1.2,.4 1.2,.4 1.3,0 1.3,.5 .8,.9 .8,1.1 1,.9 .7,1 .3,1.3 -.1,1.3 -.5,1.2 -.6,1.2 -.9,.9 -1.1,.7 -1.2,.6 -1.2,.5 -1.3-.1 -1.2-.5 -1.3-.3 -1.2-.4 -1.3-.4 -1.3-.3 -1-.8 -1.3-.4 -1.2-.4 -1.2-.5 -1.1-.7 -1.3-.1 -1.1-.7 -1.1-.6 -1.3-.4 -1.3-.3 -1.3,.1 -1.3,.2 -1.2,.5 -1.2,.5 -.9,.9 -1,.9 -.9,.9 -.9,1 -.4,1.2 0,1.3 .2,1.3 .5,1.2 1,.9 .9,.9 1.2,.7 1.3,.2 1.2-.3 1.3-.4 1.2-.3 1.3-.2 1.3-.2 1.3-.1 1.3-.1 1.2-.6 1.3,0 1.2-.6 1.3-.3 1.3-.3 1.2-.4 1.3,0 1.2-.5 1.3-.3 1.2-.3 1.4-.1 1.2-.2 1.3-.1 1.3,0 1.3-.4 1.2-.4 1.3-.5 1-.7 .9-1 .4-1.2 .3-1.3 .3-1.3" fill="none" stroke="#12a8ff" stroke-width="1.0" stroke-linejoin="round" stroke-linecap="round"/>
<path d="M650.3,239.4l-.4-1.3M649.3,237l-.6-1.2 -.9-1M646.6,234.4l-1.3,.1M644,234.8l-1.2,.5M642.3,242.2l0,1.3M642.4,246.1l.4,1.3M646.1,255.8l.6,1.1M647.7,260.7l.7,1.1 1.1,.7M656.8,262.2l1-.9M655.7,243.4l-1.3-.3M652,242.1l-1.2-.4M649.5,241.2l-1.2-.5M632.7,237.1l-1.2,.5 -1,.8M629.8,239.5l-.6,1.2M631.1,250.8l0,1.3M642,258.8l1.3-.2M652.5,253.8l1.2-.6M654.7,252.5l1.1-.7 1.2-.7 1.2-.5M664.2,250.4l-.1,.5M657.7,259.9l-1.2,.5M655.2,260.6l-1.1,.7M651.8,262.6l-1.3,.2 -1.2,.3M645.5,264.2l-1.2,.3 -1.3,.1 -1.3-.3 -1.3-.2 -1.3-.3 -1.3,.2 -1.3-.2 -1.3-.4M634.1,262.8l-.9-1M632.6,253l-.1-1.3M641.3,230.4l1.3,.3M646,232.5l.9,.9 1,.9 1,.8M650.1,235.7l1.2,.5 1.1,.6M660.2,243.5l.1,1.3 -.2,1.3M660.3,247.4l-.2,1.3M658.5,253.6l-.7,1.1M653.4,257.1l-1.3-.3M622.6,242.9l.3-1.2M623.3,240.6l.4-1.2M641.4,230.5l1.1-.8 1.2-.5M653.4,235.8l-.7,1.1 -1.1,.7 -1.2,.5 -1,.8M640.5,241.1l-1.1,.7 -1.1,.6 -1.2,.6M628.1,250.5l.2,1.3M628.8,254.3l.6,1.2 .5,1.2M636.1,263.2l1.1,.8 1.3,.2 1.3,.1 1.3-.3 1.2-.3M644.7,260.7l.1-1.3M643.7,255.7l-1-.8 -1-.9M625.2,253.1l0,1.3M625.6,257l.2,1.3M627.5,261.7l.9,.9M642.5,233l.8,1.1M643.8,236.6l-.1,1.3M640.6,245.1l-.5,1.1 -.4,1.3M631.5,255.7l-1.3,.2 -1.3-.1 -1.2-.5 -.8-1 -.9-1M634.8,242l1.2-.4M637.2,241.1l1.1-.7M645.1,247.3l-.5,1.2M639,253.8l-1,.9M631.8,259.4l-.8,1.1 -.5,1.2 -.2,1.3 -.2,1.1 .8,.6 1,.7M650.7,265.4l1-.9 .8-1M652.8,258.5l-.5-1.2 -.5-1.2M625.3,245.1l-.5-1.2 -.4-1.2M629.6,235.4l1.2,.5M634.6,236.8l1.3,.1M649.8,240.3l1.2,.4M653.5,241.1l1.3,.5M657.4,244.5l.7,1M658.4,246.8l-.1,1.3M655.2,252.1l-1.2,.6M652.8,253.2l-1.3-.1M649,252.3l-1.2-.4M645.2,251.2l-1-.8M624.6,251.3l-.4,1.2M628,258.8l1.3,.2 1.2-.3M635.6,257.6l1.3-.1M640.7,256.8l1.2-.6M652.1,254l1.2-.2M655.9,253.7l1.3-.4" fill="none" stroke="#30d8ff" stroke-width="1.0" stroke-linejoin="round" stroke-linecap="round"/>
<path d="M649.9,238.1l-.6-1.1M641.7,236l-.5,1.2 -.1,1.3M642.3,243.5l0,1.3M642.8,247.4l.5,1.1M644.8,252.2l.5,1.2M645.5,254.7l.6,1.1M649.5,262.5l1.2,.4 1.3,.4 1.3,.3M658.7,260.4l.5-1.3M661.7,249.2l-.1-1.3 -.4-1.3M660.5,245.6l-1.2-.6M658.1,244.4l-1.2-.4M653.2,242.7l-1.2-.6M647.1,240.4l-1.2-.6M642.5,238.1l-1-.9 -1.2-.5M639,236.7l-1.3-.1M629,242l.2,1.3M631.1,252.1l.4,1.3 .4,1.2M634.5,259l1.2,.6M647.9,256.3l1.3-.4M661.9,249.5l1.3,.3M660,258.7l-1.1,.6M654.1,261.3l-1.1,.8 -1.2,.5M635.2,263.4l-1.1-.6M633.6,241.4l.4-1.2 .1-1.3M634.4,236.3l.2-1.3 .3-1.3 .5-1.2M636.3,231.6l1.2-.5M638.7,230.6l1.3-.3 1.3,.1M652.4,236.8l1,.8M660.1,246.1l.2,1.3M654.7,257l-1.3,.1M646.2,254.1l-1.2-.5M626.8,246.8l-1.2-.5 -1.2-.7M624.3,238.3l.6-1.2M625.7,236.1l1.1-.7M628.1,235.4l1.3-.2M630.7,235.1l1.2-.7M634.1,233.1l1.2-.6M636.5,232.1l1.3-.1M639,231.4l1.2-.4 1.2-.5M649.4,238.9l-1.3,.4M646.9,239.7l-1.3,.1M637.1,243l-1.3,.3M628.6,253.1l.2,1.2M629.9,256.7l.8,1.1M632.4,259.7l.8,1.1 1.1,.7M635,262.6l1.1,.6M625.5,251.8l-.3,1.3M625.2,254.4l.2,1.3M629.6,263.2l1.2,.4M632.1,263.7l1.3-.1M635.2,261.7l.4-1.2M635.6,259.2l-.1-1.3M634.9,256.7l-.3-1.3M634.4,254.1l-.2-1.2M633.4,241.2l-.2-1.3M634.4,233.8l1-.8M636.4,232.2l1.3-.5M639,231.7l1.3,0 1.2,.5M643.6,235.3l.2,1.3M642.3,241.6l-.6,1.1 -.3,1.3M636.2,251.4l-.8,1 -.6,1.2M625.3,252.2l-.5-1.2 0-1.3 .4-1.2M636,241.6l1.2-.5M638.3,240.4l1.3-.3M646.2,252.9l-1.3-.2M624.2,241.4l-.1-1.3M624.4,238.8l.6-1.1M625.9,236.7l1.1-.7M628.3,235.6l1.3-.2M635.9,236.9l1.3,.3M638.5,237.4l1.1,.6 1.3,.2M642.2,238.2l1.3,.3M644.7,238.9l1.2,.5M647.2,239.6l1.3,.3M655.6,242.5l.8,1.1M657.8,249.3l-.6,1.2M651.5,253.1l-1.2-.5M646.5,251.5l-1.3-.3M642.9,250l-1.2-.4 -1.2-.5M638.1,248.3l-1.1-.7M625.5,250.3l-.9,1M624.2,252.5l0,1.3M624.4,255.1l.5,1.2M625.9,257.2l.9,.9M634.3,257.8l1.3-.2M643.2,255.9l1.3-.3M653.3,253.8l1.3-.1M662,249.5l.3-1.3" fill="none" stroke="#70f4e0" stroke-width="1.0" stroke-linejoin="round" stroke-linecap="round"/>
<path d="M629.2,243.3l.4,1.2M630.3,248.4l.3,1.2 .5,1.2M632.5,255.5l.4-1.2M633.3,242.7l.3-1.3M643.8,253.1l-1.1-.6M641.4,252l-1.3-.2M641.7,240.6l-1.2,.5M640.8,253.1l-.7-1.1M637.5,249.2l-1.1-.7M626.3,249.3l-.4,1.3M635.5,257.9l-.6-1.2M634.6,255.4l-.2-1.3M633.6,242.5l-.2-1.3M633.2,239.9l-.3-1.2M639.7,247.5l-.8,1M633.7,254.3l-1,.8M628.2,246l.9-1M636.2,250l-1.3,.1M631,249.5l-1.3-.2M626.4,247.5l-.6-1.2 -.5-1.2M640.5,249.1l-1.1-.7M633.3,246.3l-1.3,.1" fill="none" stroke="#c8f850" stroke-width="1.0" stroke-linejoin="round" stroke-linecap="round"/>
<path d="M650.7,240.6l-.4-1.2M643.3,248.5l.6,1.2 .3,1.3M645.3,253.4l.2,1.3M661,253l.2-1.3M650.8,241.7l-1.3-.5M648.3,240.7l-1.2-.3M644.6,239.6l-1.2-.6M636.5,236.3l-1.4,0 -1.2,.1 -1.2,.7M631.9,254.6l.4,1.3 .5,1.2M644.6,258.2l1-.9 1-.7M650.3,255.2l1.1-.7M658.2,250.6l1.2-.5M660.7,249.9l1.2-.4M633.2,261.8l-.6-1.1 .1-1.3M632.5,258.1l-.2-1.3 .2-1.3M632.9,254.3l-.3-1.3M632.9,243.9l.4-1.2M635.4,232.5l.9-.9M637.5,231.1l1.2-.5M660.1,248.7l0,1.3 -.4,1.3 -.5,1.2M652.1,256.8l-1.1-.6 -1.2-.5 -1.3-.3M645,253.6l-1.2-.5M638.9,251.3l-1-.7M631.7,248.4l-1.2-.3M632.9,233.6l1.2-.5M635.3,232.5l1.2-.4M637.8,232l1.2-.6M648.1,239.3l-1.2,.4M643,240.2l-1.3,.4M635.8,243.3l-1.2,.5M633.3,243.9l-1.2,.5M631.6,258.7l.8,1M634.3,261.5l.7,1.1M644.8,258.1l-.3-1.3M641.7,254l-.9-.9M640.1,252l-.6-1.2M635.7,247.4l-.9-1M626.9,248.2l-.6,1.1M625.9,250.6l-.4,1.2M633.4,263.6l1.1-.8M635.6,260.5l0-1.3M633.4,243.8l.2-1.3M633.3,237.4l0-1.3M633.6,234.8l.8-1M635.4,233l1-.8M637.7,231.7l1.3,0M643.7,237.9l-.6,1.2M637,250.4l-.8,1M632.7,255.1l-1.2,.6M626,253.3l-.7-1.1M630.3,244.5l1.3-.2M632.8,243.7l.9-1 1.1-.7M639.6,240.1l1.3-.1 1.2,.5 1.1,.8M644.6,248.5l-.6,1.2 -.9,.9M641,252.2l-1,.8M636.8,255.3l-1.1,.6 -1,.9M652.5,263.5l.5-1.2M649.8,254.4l-1.1-.7 -1.2-.6 -1.3-.2M643.7,252.3l-1.3-.5M641.2,251.5l-1.2-.5M638.7,250.6l-1.3-.3M632.3,249.7l-1.3-.2M629.7,249.3l-1.3-.2M632.1,236.2l1.2,.4M645.9,239.4l1.3,.2M651,240.7l1.2,.4M656.3,251.4l-1.1,.7M654,252.7l-1.2,.5M637,247.6l-1.1-.6 -1.3-.4M627.4,248.5l-1,.9 -.9,.9M645.7,255.2l1.3,0M649.5,254.4l1.2-.3 1.4-.1M658.4,252.9l1.3-.5 1-.7 .9-1 .4-1.2" fill="none" stroke="#f8e820" stroke-width="1.0" stroke-linejoin="round" stroke-linecap="round"/>
<path d="M641.1,238.5l.1,1.3 .6,1.2 .5,1.2M644.2,251l.6,1.2M661.2,251.7l.3-1.3 .2-1.2M643.4,239l-.9-.9M646.6,256.6l1.3-.3M649.2,255.9l1.1-.7M651.4,254.5l1.1-.7M653.7,253.2l1-.7M659.4,250.1l1.3-.2M632.5,251.7l0-1.3 .3-1.3M634.1,238.9l0-1.4 .3-1.2M648.5,255.4l-1.2-.6M642.7,252.5l-1.3-.5M636.6,250.4l-1.3-.4M634.2,249.3l-1.2-.5 -1.3-.4M636.4,248.5l-.7-1.1M634.5,262.8l.7-1.1M632.9,238.7l.4-1.3M633.3,236.1l.3-1.3M643.1,239.1l-.2,1.3 -.6,1.2M634.8,253.6l-1.1,.7M643.1,250.6l-1.1,.7 -1,.9M633.8,257.7l-.9,1 -1.1,.7M651.8,256.1l-1-.9 -1-.8M642.4,251.8l-1.2-.3M633.6,250l-1.3-.3M630.8,235.9l1.3,.3M633.3,236.6l1.3,.2M640.9,238.2l1.3,0M643.5,238.5l1.2,.4M648.5,239.9l1.3,.4M644.2,250.4l-1.3-.4M644.5,255.6l1.2-.4M647,255.2l1.2-.5 1.3-.3" fill="none" stroke="#ff8c10" stroke-width="1.0" stroke-linejoin="round" stroke-linecap="round"/>
<path d="M645.9,239.8l-1.3-.2M629.6,244.5l.4,1.3 .2,1.3 .1,1.3M632.8,257.1l.7,1.1 1,.8M632.7,259.4l-.2-1.3M632.8,249.1l.4-1.3 -.3-1.3 -.1-1.3 .1-1.3M647.3,254.8l-1.1-.7M640.1,251.8l-1.2-.5M637.9,250.6l-1.3-.2M635.3,250l-1.1-.7M630.5,248.1l-1.3-.4 -1.2-.5 -1.2-.4M645.6,239.8l-1.3,.3 -1.3,.1M634.6,243.8l-1.3,.1M632.1,244.4l-1,.9 -1.2,.5 -.9,.9 -.6,1.2 -.3,1.3M630.7,257.8l.9,.9M639.5,250.8l-.9-.9 -1.1-.7M634.8,246.4l-1.1-.6 -1.3-.2 -1.3,0 -1.3,.4 -1.3,.2 -1,.8 -.6,1.2M634.2,252.9l.1-1.3 -.2-1.3 -.2-1.3 -.1-1.3 -.3-1.3 -.2-1.3 .1-1.3M638.9,248.5l-1,.9 -.9,1M625.2,248.5l.9-1 1-.8 1.1-.7M629.1,245l1.2-.5M631.6,244.3l1.2-.6M634.7,256.8l-.9,.9M644.9,252.7l-1.2-.4M640,251l-1.3-.4M637.4,250.3l-1.2-.3M634.9,250.1l-1.3-.1M628.4,249.1l-1.1-.7 -.9-.9M639.4,248.4l-1.3-.1M634.6,246.6l-1.3-.3M632,246.4l-1.3,.2 -1.2,.5 -1.2,.5 -.9,.9M630.5,258.7l1.3-.4 1.2-.3 1.3-.2" fill="none" stroke="#ff2a00" stroke-width="1.0" stroke-linejoin="round" stroke-linecap="round"/>
<line x1="613.4" y1="176.0" x2="613.4" y2="271.5" stroke="#c8c8e8" stroke-width="0.9"/>
<line x1="553.6" y1="223.6" x2="673.1" y2="223.6" stroke="#c8c8e8" stroke-width="0.9"/>
<text x="583.2" y="171.4" font-size="11.5" text-anchor="middle" textLength="18.9" lengthAdjust="spacingAndGlyphs" fill="#231f20" stroke="#231f20" stroke-width="0.12">C57</text>
<text x="642.3" y="171.4" font-size="11.5" text-anchor="middle" textLength="17.2" lengthAdjust="spacingAndGlyphs" fill="#231f20" stroke="#231f20" stroke-width="0.12">PS1</text>
<text x="549.3" y="200.2" font-size="11.5" text-anchor="middle" textLength="37.2" lengthAdjust="spacingAndGlyphs" transform="rotate(-90 549.3 200.2)" fill="#231f20" stroke="#231f20" stroke-width="0.12">Vehicle</text>
<text x="549.3" y="247.3" font-size="11.5" text-anchor="middle" textLength="16.0" lengthAdjust="spacingAndGlyphs" transform="rotate(-90 549.3 247.3)" fill="#231f20" stroke="#231f20" stroke-width="0.12">A-E</text>
<text x="565.3" y="390.9" font-size="9.6" text-anchor="end" fill="#231f20" stroke="#231f20" stroke-width="0.12">0</text>
<line x1="566.7" y1="345.7" x2="571.6" y2="345.7" stroke="#666" stroke-width="1"/>
<text x="565.3" y="349.1" font-size="9.6" text-anchor="end" fill="#231f20" stroke="#231f20" stroke-width="0.12">30</text>
<line x1="566.7" y1="303.9" x2="571.6" y2="303.9" stroke="#666" stroke-width="1"/>
<text x="565.3" y="307.3" font-size="9.6" text-anchor="end" fill="#231f20" stroke="#231f20" stroke-width="0.12">60</text>
<text x="542.0" y="345.8" font-size="10.6" text-anchor="middle" textLength="41.4" lengthAdjust="spacingAndGlyphs" transform="rotate(-90 542.0 345.8)" fill="#231f20" stroke="#231f20" stroke-width="0.12">Time (%)</text>
<rect x="584.3" y="333.9" width="14.4" height="53.6" fill="none" stroke="#66c2a5" stroke-width="1" stroke-opacity="0.85"/>
<line x1="591.5" y1="388.2" x2="591.5" y2="392.3" stroke="#555" stroke-width="1"/>
<path d="M583.6,327.6a1.9,1.9 0 1,0 3.8,0a1.9,1.9 0 1,0 -3.8,0M589.6,322.0a1.9,1.9 0 1,0 3.8,0a1.9,1.9 0 1,0 -3.8,0M595.6,326.2a1.9,1.9 0 1,0 3.8,0a1.9,1.9 0 1,0 -3.8,0M586.6,330.4a1.9,1.9 0 1,0 3.8,0a1.9,1.9 0 1,0 -3.8,0M592.6,331.8a1.9,1.9 0 1,0 3.8,0a1.9,1.9 0 1,0 -3.8,0M589.6,334.6a1.9,1.9 0 1,0 3.8,0a1.9,1.9 0 1,0 -3.8,0M583.6,337.3a1.9,1.9 0 1,0 3.8,0a1.9,1.9 0 1,0 -3.8,0M595.6,337.3a1.9,1.9 0 1,0 3.8,0a1.9,1.9 0 1,0 -3.8,0M589.6,340.1a1.9,1.9 0 1,0 3.8,0a1.9,1.9 0 1,0 -3.8,0M586.6,344.3a1.9,1.9 0 1,0 3.8,0a1.9,1.9 0 1,0 -3.8,0M592.6,347.1a1.9,1.9 0 1,0 3.8,0a1.9,1.9 0 1,0 -3.8,0M589.6,348.5a1.9,1.9 0 1,0 3.8,0a1.9,1.9 0 1,0 -3.8,0" fill="none" stroke="#66c2a5" stroke-width="0.8"/>
<path d="M591.5,336.9V330.8M588.5,330.8h6M588.5,336.9h6M586.5,333.9h10" stroke="#66c2a5" stroke-width="1" fill="none"/>
<text x="594.4" y="402.0" font-size="9.0" text-anchor="end" transform="rotate(-41 594.4 402.0)" fill="#231f20" stroke="#231f20" stroke-width="0.12">C57/vehicle</text>
<rect x="606.2" y="332.0" width="14.4" height="55.5" fill="none" stroke="#fc8d62" stroke-width="1" stroke-opacity="0.85"/>
<line x1="613.4" y1="388.2" x2="613.4" y2="392.3" stroke="#555" stroke-width="1"/>
<path d="M605.5,324.8a1.9,1.9 0 1,0 3.8,0a1.9,1.9 0 1,0 -3.8,0M611.5,319.2a1.9,1.9 0 1,0 3.8,0a1.9,1.9 0 1,0 -3.8,0M617.5,323.4a1.9,1.9 0 1,0 3.8,0a1.9,1.9 0 1,0 -3.8,0M608.5,327.6a1.9,1.9 0 1,0 3.8,0a1.9,1.9 0 1,0 -3.8,0M614.5,329.0a1.9,1.9 0 1,0 3.8,0a1.9,1.9 0 1,0 -3.8,0M611.5,331.8a1.9,1.9 0 1,0 3.8,0a1.9,1.9 0 1,0 -3.8,0M605.5,334.6a1.9,1.9 0 1,0 3.8,0a1.9,1.9 0 1,0 -3.8,0M617.5,335.9a1.9,1.9 0 1,0 3.8,0a1.9,1.9 0 1,0 -3.8,0M611.5,338.7a1.9,1.9 0 1,0 3.8,0a1.9,1.9 0 1,0 -3.8,0M608.5,341.5a1.9,1.9 0 1,0 3.8,0a1.9,1.9 0 1,0 -3.8,0M614.5,345.7a1.9,1.9 0 1,0 3.8,0a1.9,1.9 0 1,0 -3.8,0M611.5,347.1a1.9,1.9 0 1,0 3.8,0a1.9,1.9 0 1,0 -3.8,0" fill="none" stroke="#fc8d62" stroke-width="0.8"/>
<path d="M613.4,335.1V329.0M610.4,329.0h6M610.4,335.1h6M608.4,332.0h10" stroke="#fc8d62" stroke-width="1" fill="none"/>
<text x="616.3" y="402.0" font-size="9.0" text-anchor="end" transform="rotate(-41 616.3 402.0)" fill="#231f20" stroke="#231f20" stroke-width="0.12">C57/A-E</text>
<rect x="628.0" y="348.5" width="14.4" height="39.0" fill="none" stroke="#8da0cb" stroke-width="1" stroke-opacity="0.85"/>
<line x1="635.2" y1="388.2" x2="635.2" y2="392.3" stroke="#555" stroke-width="1"/>
<path d="M627.3,341.5a1.9,1.9 0 1,0 3.8,0a1.9,1.9 0 1,0 -3.8,0M633.3,335.9a1.9,1.9 0 1,0 3.8,0a1.9,1.9 0 1,0 -3.8,0M639.3,344.3a1.9,1.9 0 1,0 3.8,0a1.9,1.9 0 1,0 -3.8,0M630.3,344.3a1.9,1.9 0 1,0 3.8,0a1.9,1.9 0 1,0 -3.8,0M636.3,348.5a1.9,1.9 0 1,0 3.8,0a1.9,1.9 0 1,0 -3.8,0M633.3,349.9a1.9,1.9 0 1,0 3.8,0a1.9,1.9 0 1,0 -3.8,0M627.3,352.7a1.9,1.9 0 1,0 3.8,0a1.9,1.9 0 1,0 -3.8,0M639.3,354.1a1.9,1.9 0 1,0 3.8,0a1.9,1.9 0 1,0 -3.8,0M633.3,356.8a1.9,1.9 0 1,0 3.8,0a1.9,1.9 0 1,0 -3.8,0M630.3,359.6a1.9,1.9 0 1,0 3.8,0a1.9,1.9 0 1,0 -3.8,0M633.3,363.8a1.9,1.9 0 1,0 3.8,0a1.9,1.9 0 1,0 -3.8,0M636.3,351.3a1.9,1.9 0 1,0 3.8,0a1.9,1.9 0 1,0 -3.8,0" fill="none" stroke="#8da0cb" stroke-width="0.8"/>
<path d="M635.2,351.0V346.0M632.2,346.0h6M632.2,351.0h6M630.2,348.5h10" stroke="#8da0cb" stroke-width="1" fill="none"/>
<text x="638.1" y="402.0" font-size="9.0" text-anchor="end" transform="rotate(-41 638.1 402.0)" fill="#231f20" stroke="#231f20" stroke-width="0.12">PS1/vehicle</text>
<rect x="649.8" y="337.3" width="14.4" height="50.2" fill="none" stroke="#e78ac3" stroke-width="1" stroke-opacity="0.85"/>
<line x1="657.0" y1="388.2" x2="657.0" y2="392.3" stroke="#555" stroke-width="1"/>
<path d="M649.1,330.4a1.9,1.9 0 1,0 3.8,0a1.9,1.9 0 1,0 -3.8,0M655.1,323.4a1.9,1.9 0 1,0 3.8,0a1.9,1.9 0 1,0 -3.8,0M661.1,323.4a1.9,1.9 0 1,0 3.8,0a1.9,1.9 0 1,0 -3.8,0M652.1,334.6a1.9,1.9 0 1,0 3.8,0a1.9,1.9 0 1,0 -3.8,0M658.1,333.2a1.9,1.9 0 1,0 3.8,0a1.9,1.9 0 1,0 -3.8,0M655.1,337.3a1.9,1.9 0 1,0 3.8,0a1.9,1.9 0 1,0 -3.8,0M649.1,340.1a1.9,1.9 0 1,0 3.8,0a1.9,1.9 0 1,0 -3.8,0M661.1,340.1a1.9,1.9 0 1,0 3.8,0a1.9,1.9 0 1,0 -3.8,0M655.1,342.9a1.9,1.9 0 1,0 3.8,0a1.9,1.9 0 1,0 -3.8,0M652.1,345.7a1.9,1.9 0 1,0 3.8,0a1.9,1.9 0 1,0 -3.8,0M658.1,348.5a1.9,1.9 0 1,0 3.8,0a1.9,1.9 0 1,0 -3.8,0M655.1,349.9a1.9,1.9 0 1,0 3.8,0a1.9,1.9 0 1,0 -3.8,0" fill="none" stroke="#e78ac3" stroke-width="0.8"/>
<path d="M657.0,340.7V334.0M654.0,334.0h6M654.0,340.7h6M652.0,337.3h10" stroke="#e78ac3" stroke-width="1" fill="none"/>
<text x="659.9" y="402.0" font-size="9.0" text-anchor="end" transform="rotate(-41 659.9 402.0)" fill="#231f20" stroke="#231f20" stroke-width="0.12">PS1/A-E</text>
<line x1="571.6" y1="303.4" x2="571.6" y2="387.5" stroke="#ababab" stroke-width="1.2"/>
<line x1="567.2" y1="387.5" x2="677.2" y2="387.5" stroke="#b0b0b0" stroke-width="1.4"/>
<polyline points="591.5,312.2 591.5,305.7 632.9,305.7 632.9,312.2" fill="none" stroke="#444444" stroke-width="0.9"/>
<text x="613.0" y="307.9" font-size="14" text-anchor="middle" fill="#231f20" stroke="#231f20" stroke-width="0.12">***</text>
<polyline points="636.2,312.2 636.2,305.7 657.0,305.7 657.0,312.2" fill="none" stroke="#444444" stroke-width="0.9"/>
<text x="647.4" y="307.9" font-size="14" text-anchor="middle" fill="#231f20" stroke="#231f20" stroke-width="0.12">*</text>
<polyline points="613.4,297.6 613.4,291.5 657.0,291.5 657.0,297.6" fill="none" stroke="#444444" stroke-width="0.9"/>
<text x="635.7" y="288.8" font-size="9.2" text-anchor="middle" textLength="11.0" lengthAdjust="spacingAndGlyphs" fill="#231f20" stroke="#231f20" stroke-width="0.12">NS</text>
<text x="-0.6" y="464.6" font-size="15.8" font-weight="bold" fill="#000">e</text>
<text x="47.8" y="465.0" font-size="11.4" text-anchor="middle" textLength="58.4" lengthAdjust="spacingAndGlyphs" fill="#231f20" stroke="#231f20" stroke-width="0.12">C57/vehicle</text>
<polygon points="51.9,491.8 17.5,472.6 14.2,478.6 48.6,497.8" fill="#0822cc" stroke="#08189a" stroke-width="0.6" stroke-linejoin="round"/>
<polygon points="48.4,497.8 80.9,478.6 77.4,472.6 44.9,491.9" fill="#0822cc" stroke="#08189a" stroke-width="0.6" stroke-linejoin="round"/>
<polygon points="44.9,491.8 46.0,534.1 52.9,533.9 51.8,491.6" fill="#0822cc" stroke="#08189a" stroke-width="0.6" stroke-linejoin="round"/>
<line x1="46.7" y1="492.8" x2="17.2" y2="476.3" stroke="#1a4cff" stroke-width="3.4" opacity="0.7"/>
<line x1="50.2" y1="492.8" x2="77.9" y2="476.4" stroke="#1a4cff" stroke-width="3.4" opacity="0.7"/>
<line x1="48.5" y1="495.8" x2="49.4" y2="532.5" stroke="#1a4cff" stroke-width="3.4" opacity="0.7"/>
<circle cx="48.4" cy="493.8" r="3.6" fill="#3a90ff" opacity="0.8"/>
<ellipse cx="22.4" cy="479.2" rx="3.5" ry="2.8" fill="#28c8ff" transform="rotate(-151 22.4 479.2)"/>
<ellipse cx="22.4" cy="479.2" rx="2" ry="1.5" fill="#e0f040" transform="rotate(-151 22.4 479.2)"/>
<ellipse cx="64.4" cy="484.3" rx="2.6" ry="2.1" fill="#28c8ff" transform="rotate(-31 64.4 484.3)"/>
<ellipse cx="72.1" cy="479.8" rx="4.2" ry="3.3" fill="#28c0ff" transform="rotate(-31 72.1 479.8)"/>
<ellipse cx="72.1" cy="479.8" rx="3" ry="2.3" fill="#e8f030" transform="rotate(-31 72.1 479.8)"/>
<ellipse cx="72.1" cy="479.8" rx="1.9" ry="1.3" fill="#e02000" transform="rotate(-31 72.1 479.8)"/>
<ellipse cx="48.4" cy="493.8" rx="3.2" ry="2.6" fill="#30d0ff" transform="rotate(90 48.4 493.8)"/>
<ellipse cx="48.4" cy="493.8" rx="1.8" ry="1.4" fill="#90f070" transform="rotate(90 48.4 493.8)"/>
<ellipse cx="48.8" cy="508.3" rx="2.6" ry="2.1" fill="#28c8ff" transform="rotate(89 48.8 508.3)"/>
<ellipse cx="49.3" cy="528.4" rx="4.2" ry="3.3" fill="#28c0ff" transform="rotate(89 49.3 528.4)"/>
<ellipse cx="49.3" cy="528.4" rx="3" ry="2.3" fill="#e8f030" transform="rotate(89 49.3 528.4)"/>
<ellipse cx="49.3" cy="528.4" rx="1.9" ry="1.3" fill="#e02000" transform="rotate(89 49.3 528.4)"/>
<ellipse cx="33.8" cy="485.6" rx="2.6" ry="2.1" fill="#28c8ff" transform="rotate(-151 33.8 485.6)"/>
<text x="120.6" y="465.0" font-size="11.4" text-anchor="middle" textLength="40.2" lengthAdjust="spacingAndGlyphs" fill="#231f20" stroke="#231f20" stroke-width="0.12">C57/A-E</text>
<polygon points="125.0,491.8 90.6,472.6 87.2,478.6 121.6,497.8" fill="#0822cc" stroke="#08189a" stroke-width="0.6" stroke-linejoin="round"/>
<polygon points="121.5,497.8 154.0,478.6 150.4,472.6 118.0,491.9" fill="#0822cc" stroke="#08189a" stroke-width="0.6" stroke-linejoin="round"/>
<polygon points="118.0,491.8 119.1,534.1 125.9,533.9 124.9,491.6" fill="#0822cc" stroke="#08189a" stroke-width="0.6" stroke-linejoin="round"/>
<line x1="119.8" y1="492.8" x2="90.2" y2="476.3" stroke="#1a4cff" stroke-width="3.4" opacity="0.7"/>
<line x1="123.2" y1="492.8" x2="150.9" y2="476.4" stroke="#1a4cff" stroke-width="3.4" opacity="0.7"/>
<line x1="121.5" y1="495.8" x2="122.5" y2="532.5" stroke="#1a4cff" stroke-width="3.4" opacity="0.7"/>
<circle cx="121.5" cy="493.8" r="3.6" fill="#3a90ff" opacity="0.8"/>
<ellipse cx="93.8" cy="478.3" rx="4.5" ry="2.6" fill="#3878ff" transform="rotate(-151 93.8 478.3)"/>
<ellipse cx="127.6" cy="490.2" rx="4.2" ry="3.3" fill="#28c0ff" transform="rotate(-31 127.6 490.2)"/>
<ellipse cx="127.6" cy="490.2" rx="3" ry="2.3" fill="#e8f030" transform="rotate(-31 127.6 490.2)"/>
<ellipse cx="127.6" cy="490.2" rx="1.9" ry="1.3" fill="#e02000" transform="rotate(-31 127.6 490.2)"/>
<ellipse cx="135.3" cy="485.6" rx="2.6" ry="2.1" fill="#28c8ff" transform="rotate(-31 135.3 485.6)"/>
<ellipse cx="141.8" cy="481.8" rx="4.2" ry="3.3" fill="#28c0ff" transform="rotate(-31 141.8 481.8)"/>
<ellipse cx="141.8" cy="481.8" rx="3" ry="2.3" fill="#e8f030" transform="rotate(-31 141.8 481.8)"/>
<ellipse cx="141.8" cy="481.8" rx="1.9" ry="1.3" fill="#e02000" transform="rotate(-31 141.8 481.8)"/>
<ellipse cx="121.5" cy="493.8" rx="2.6" ry="2.1" fill="#28c8ff" transform="rotate(90 121.5 493.8)"/>
<ellipse cx="121.7" cy="502.6" rx="3.5" ry="2.8" fill="#28c8ff" transform="rotate(89 121.7 502.6)"/>
<ellipse cx="121.7" cy="502.6" rx="2" ry="1.5" fill="#e0f040" transform="rotate(89 121.7 502.6)"/>
<ellipse cx="122.0" cy="513.1" rx="2.6" ry="2.1" fill="#28c8ff" transform="rotate(89 122.0 513.1)"/>
<ellipse cx="122.1" cy="518.7" rx="2.6" ry="2.1" fill="#28c8ff" transform="rotate(89 122.1 518.7)"/>
<ellipse cx="122.3" cy="526.0" rx="2.6" ry="2.1" fill="#28c8ff" transform="rotate(89 122.3 526.0)"/>
<ellipse cx="122.5" cy="532.8" rx="2.2" ry="3" fill="#000050" transform="rotate(89 122.5 532.8)"/>
<text x="192.5" y="465.0" font-size="11.4" text-anchor="middle" textLength="56.3" lengthAdjust="spacingAndGlyphs" fill="#231f20" stroke="#231f20" stroke-width="0.12">PS1/vehicle</text>
<polygon points="197.2,491.8 162.8,472.6 159.4,478.6 193.8,497.8" fill="#0822cc" stroke="#08189a" stroke-width="0.6" stroke-linejoin="round"/>
<polygon points="193.7,497.8 226.2,478.6 222.6,472.6 190.2,491.9" fill="#0822cc" stroke="#08189a" stroke-width="0.6" stroke-linejoin="round"/>
<polygon points="190.2,491.8 191.3,534.1 198.1,533.9 197.1,491.6" fill="#0822cc" stroke="#08189a" stroke-width="0.6" stroke-linejoin="round"/>
<line x1="192.0" y1="492.8" x2="162.4" y2="476.3" stroke="#1a4cff" stroke-width="3.4" opacity="0.7"/>
<line x1="195.4" y1="492.8" x2="223.1" y2="476.4" stroke="#1a4cff" stroke-width="3.4" opacity="0.7"/>
<line x1="193.7" y1="495.8" x2="194.7" y2="532.5" stroke="#1a4cff" stroke-width="3.4" opacity="0.7"/>
<circle cx="193.7" cy="493.8" r="3.6" fill="#3a90ff" opacity="0.8"/>
<ellipse cx="167.6" cy="479.2" rx="4.2" ry="3.3" fill="#28c0ff" transform="rotate(-151 167.6 479.2)"/>
<ellipse cx="167.6" cy="479.2" rx="3" ry="2.3" fill="#e8f030" transform="rotate(-151 167.6 479.2)"/>
<ellipse cx="167.6" cy="479.2" rx="1.9" ry="1.3" fill="#e02000" transform="rotate(-151 167.6 479.2)"/>
<ellipse cx="219.8" cy="478.3" rx="3.5" ry="2.8" fill="#28c8ff" transform="rotate(-31 219.8 478.3)"/>
<ellipse cx="219.8" cy="478.3" rx="2" ry="1.5" fill="#e0f040" transform="rotate(-31 219.8 478.3)"/>
<ellipse cx="193.7" cy="493.8" rx="3.2" ry="2.6" fill="#30d0ff" transform="rotate(90 193.7 493.8)"/>
<ellipse cx="193.7" cy="493.8" rx="1.8" ry="1.4" fill="#90f070" transform="rotate(90 193.7 493.8)"/>
<ellipse cx="194.6" cy="528.0" rx="4.2" ry="3.3" fill="#28c0ff" transform="rotate(89 194.6 528.0)"/>
<ellipse cx="194.6" cy="528.0" rx="3" ry="2.3" fill="#e8f030" transform="rotate(89 194.6 528.0)"/>
<ellipse cx="194.6" cy="528.0" rx="1.9" ry="1.3" fill="#e02000" transform="rotate(89 194.6 528.0)"/>
<ellipse cx="194.2" cy="513.9" rx="2.6" ry="2.1" fill="#28c8ff" transform="rotate(89 194.2 513.9)"/>
<ellipse cx="207.5" cy="485.6" rx="2.6" ry="2.1" fill="#28c8ff" transform="rotate(-31 207.5 485.6)"/>
<text x="264.8" y="465.0" font-size="11.4" text-anchor="middle" textLength="37.0" lengthAdjust="spacingAndGlyphs" fill="#231f20" stroke="#231f20" stroke-width="0.12">PS1/A-E</text>
<polygon points="269.2,491.8 234.8,472.6 231.4,478.6 265.8,497.8" fill="#0822cc" stroke="#08189a" stroke-width="0.6" stroke-linejoin="round"/>
<polygon points="265.7,497.8 298.2,478.6 294.6,472.6 262.2,491.9" fill="#0822cc" stroke="#08189a" stroke-width="0.6" stroke-linejoin="round"/>
<polygon points="262.2,491.8 263.3,534.1 270.1,533.9 269.1,491.6" fill="#0822cc" stroke="#08189a" stroke-width="0.6" stroke-linejoin="round"/>
<line x1="264.0" y1="492.8" x2="234.4" y2="476.3" stroke="#1a4cff" stroke-width="3.4" opacity="0.7"/>
<line x1="267.4" y1="492.8" x2="295.1" y2="476.4" stroke="#1a4cff" stroke-width="3.4" opacity="0.7"/>
<line x1="265.7" y1="495.8" x2="266.7" y2="532.5" stroke="#1a4cff" stroke-width="3.4" opacity="0.7"/>
<circle cx="265.7" cy="493.8" r="3.6" fill="#3a90ff" opacity="0.8"/>
<ellipse cx="249.4" cy="484.7" rx="2.6" ry="2.1" fill="#28c8ff" transform="rotate(-151 249.4 484.7)"/>
<ellipse cx="278.0" cy="486.5" rx="4.2" ry="3.3" fill="#28c0ff" transform="rotate(-31 278.0 486.5)"/>
<ellipse cx="278.0" cy="486.5" rx="3" ry="2.3" fill="#e8f030" transform="rotate(-31 278.0 486.5)"/>
<ellipse cx="278.0" cy="486.5" rx="1.9" ry="1.3" fill="#e02000" transform="rotate(-31 278.0 486.5)"/>
<ellipse cx="288.7" cy="480.2" rx="2.6" ry="2.1" fill="#28c8ff" transform="rotate(-31 288.7 480.2)"/>
<ellipse cx="265.7" cy="493.8" rx="3.2" ry="2.6" fill="#30d0ff" transform="rotate(90 265.7 493.8)"/>
<ellipse cx="265.7" cy="493.8" rx="1.8" ry="1.4" fill="#90f070" transform="rotate(90 265.7 493.8)"/>
<ellipse cx="266.0" cy="505.9" rx="2.6" ry="2.1" fill="#28c8ff" transform="rotate(89 266.0 505.9)"/>
<ellipse cx="266.2" cy="515.9" rx="2.6" ry="2.1" fill="#28c8ff" transform="rotate(89 266.2 515.9)"/>
<ellipse cx="266.4" cy="522.7" rx="3.5" ry="2.8" fill="#28c8ff" transform="rotate(89 266.4 522.7)"/>
<ellipse cx="266.4" cy="522.7" rx="2" ry="1.5" fill="#e0f040" transform="rotate(89 266.4 522.7)"/>
<text x="37.6" y="654.2" font-size="9.6" text-anchor="end" fill="#231f20" stroke="#231f20" stroke-width="0.12">0</text>
<line x1="39.0" y1="608.8" x2="43.9" y2="608.8" stroke="#666" stroke-width="1"/>
<text x="37.6" y="612.1" font-size="9.6" text-anchor="end" fill="#231f20" stroke="#231f20" stroke-width="0.12">30</text>
<line x1="39.0" y1="566.7" x2="43.9" y2="566.7" stroke="#666" stroke-width="1"/>
<text x="37.6" y="570.1" font-size="9.6" text-anchor="end" fill="#231f20" stroke="#231f20" stroke-width="0.12">60</text>
<text x="14.4" y="608.1" font-size="10.4" text-anchor="middle" textLength="103.9" lengthAdjust="spacingAndGlyphs" transform="rotate(-90 14.4 608.1)" fill="#231f20" stroke="#231f20" stroke-width="0.12">Time in novel arm (%)</text>
<rect x="55.8" y="596.1" width="14.4" height="54.7" fill="none" stroke="#66c2a5" stroke-width="1" stroke-opacity="0.85"/>
<line x1="63.0" y1="651.5" x2="63.0" y2="655.6" stroke="#555" stroke-width="1"/>
<path d="M55.1,587.7a1.9,1.9 0 1,0 3.8,0a1.9,1.9 0 1,0 -3.8,0M61.1,580.7a1.9,1.9 0 1,0 3.8,0a1.9,1.9 0 1,0 -3.8,0M67.1,589.1a1.9,1.9 0 1,0 3.8,0a1.9,1.9 0 1,0 -3.8,0M58.1,593.3a1.9,1.9 0 1,0 3.8,0a1.9,1.9 0 1,0 -3.8,0M64.1,594.7a1.9,1.9 0 1,0 3.8,0a1.9,1.9 0 1,0 -3.8,0M61.1,597.5a1.9,1.9 0 1,0 3.8,0a1.9,1.9 0 1,0 -3.8,0M55.1,596.1a1.9,1.9 0 1,0 3.8,0a1.9,1.9 0 1,0 -3.8,0M67.1,596.1a1.9,1.9 0 1,0 3.8,0a1.9,1.9 0 1,0 -3.8,0M61.1,604.5a1.9,1.9 0 1,0 3.8,0a1.9,1.9 0 1,0 -3.8,0M58.1,600.3a1.9,1.9 0 1,0 3.8,0a1.9,1.9 0 1,0 -3.8,0M61.1,610.2a1.9,1.9 0 1,0 3.8,0a1.9,1.9 0 1,0 -3.8,0M64.1,598.9a1.9,1.9 0 1,0 3.8,0a1.9,1.9 0 1,0 -3.8,0" fill="none" stroke="#66c2a5" stroke-width="0.8"/>
<path d="M63.0,599.6V592.6M60.0,592.6h6M60.0,599.6h6M58.0,596.1h10" stroke="#66c2a5" stroke-width="1" fill="none"/>
<text x="65.9" y="665.3" font-size="9.0" text-anchor="end" transform="rotate(-41 65.9 665.3)" fill="#231f20" stroke="#231f20" stroke-width="0.12">C57/vehicle</text>
<rect x="78.1" y="594.7" width="14.4" height="56.1" fill="none" stroke="#fc8d62" stroke-width="1" stroke-opacity="0.85"/>
<line x1="85.3" y1="651.5" x2="85.3" y2="655.6" stroke="#555" stroke-width="1"/>
<path d="M77.4,589.1a1.9,1.9 0 1,0 3.8,0a1.9,1.9 0 1,0 -3.8,0M83.4,579.3a1.9,1.9 0 1,0 3.8,0a1.9,1.9 0 1,0 -3.8,0M89.4,587.7a1.9,1.9 0 1,0 3.8,0a1.9,1.9 0 1,0 -3.8,0M80.4,591.9a1.9,1.9 0 1,0 3.8,0a1.9,1.9 0 1,0 -3.8,0M86.4,591.9a1.9,1.9 0 1,0 3.8,0a1.9,1.9 0 1,0 -3.8,0M83.4,594.7a1.9,1.9 0 1,0 3.8,0a1.9,1.9 0 1,0 -3.8,0M77.4,597.5a1.9,1.9 0 1,0 3.8,0a1.9,1.9 0 1,0 -3.8,0M89.4,597.5a1.9,1.9 0 1,0 3.8,0a1.9,1.9 0 1,0 -3.8,0M83.4,600.3a1.9,1.9 0 1,0 3.8,0a1.9,1.9 0 1,0 -3.8,0M80.4,604.5a1.9,1.9 0 1,0 3.8,0a1.9,1.9 0 1,0 -3.8,0M89.4,604.5a1.9,1.9 0 1,0 3.8,0a1.9,1.9 0 1,0 -3.8,0M77.4,605.9a1.9,1.9 0 1,0 3.8,0a1.9,1.9 0 1,0 -3.8,0" fill="none" stroke="#fc8d62" stroke-width="0.8"/>
<path d="M85.3,597.5V591.9M82.3,591.9h6M82.3,597.5h6M80.3,594.7h10" stroke="#fc8d62" stroke-width="1" fill="none"/>
<text x="88.2" y="665.3" font-size="9.0" text-anchor="end" transform="rotate(-41 88.2 665.3)" fill="#231f20" stroke="#231f20" stroke-width="0.12">C57/A-E</text>
<rect x="99.8" y="622.1" width="14.4" height="28.7" fill="none" stroke="#8da0cb" stroke-width="1" stroke-opacity="0.85"/>
<line x1="107.0" y1="651.5" x2="107.0" y2="655.6" stroke="#555" stroke-width="1"/>
<path d="M99.1,614.4a1.9,1.9 0 1,0 3.8,0a1.9,1.9 0 1,0 -3.8,0M105.1,608.8a1.9,1.9 0 1,0 3.8,0a1.9,1.9 0 1,0 -3.8,0M111.1,617.2a1.9,1.9 0 1,0 3.8,0a1.9,1.9 0 1,0 -3.8,0M102.1,618.6a1.9,1.9 0 1,0 3.8,0a1.9,1.9 0 1,0 -3.8,0M108.1,620.0a1.9,1.9 0 1,0 3.8,0a1.9,1.9 0 1,0 -3.8,0M105.1,622.8a1.9,1.9 0 1,0 3.8,0a1.9,1.9 0 1,0 -3.8,0M99.1,624.2a1.9,1.9 0 1,0 3.8,0a1.9,1.9 0 1,0 -3.8,0M111.1,625.6a1.9,1.9 0 1,0 3.8,0a1.9,1.9 0 1,0 -3.8,0M105.1,627.0a1.9,1.9 0 1,0 3.8,0a1.9,1.9 0 1,0 -3.8,0M102.1,629.8a1.9,1.9 0 1,0 3.8,0a1.9,1.9 0 1,0 -3.8,0M105.1,634.0a1.9,1.9 0 1,0 3.8,0a1.9,1.9 0 1,0 -3.8,0M108.1,622.8a1.9,1.9 0 1,0 3.8,0a1.9,1.9 0 1,0 -3.8,0" fill="none" stroke="#8da0cb" stroke-width="0.8"/>
<path d="M107.0,624.3V619.8M104.0,619.8h6M104.0,624.3h6M102.0,622.1h10" stroke="#8da0cb" stroke-width="1" fill="none"/>
<text x="109.9" y="665.3" font-size="9.0" text-anchor="end" transform="rotate(-41 109.9 665.3)" fill="#231f20" stroke="#231f20" stroke-width="0.12">PS1/vehicle</text>
<rect x="121.3" y="600.3" width="14.4" height="50.5" fill="none" stroke="#e78ac3" stroke-width="1" stroke-opacity="0.85"/>
<line x1="128.5" y1="651.5" x2="128.5" y2="655.6" stroke="#555" stroke-width="1"/>
<path d="M120.6,587.7a1.9,1.9 0 1,0 3.8,0a1.9,1.9 0 1,0 -3.8,0M126.6,580.7a1.9,1.9 0 1,0 3.8,0a1.9,1.9 0 1,0 -3.8,0M132.6,586.3a1.9,1.9 0 1,0 3.8,0a1.9,1.9 0 1,0 -3.8,0M123.6,591.9a1.9,1.9 0 1,0 3.8,0a1.9,1.9 0 1,0 -3.8,0M129.6,593.3a1.9,1.9 0 1,0 3.8,0a1.9,1.9 0 1,0 -3.8,0M126.6,597.5a1.9,1.9 0 1,0 3.8,0a1.9,1.9 0 1,0 -3.8,0M120.6,601.7a1.9,1.9 0 1,0 3.8,0a1.9,1.9 0 1,0 -3.8,0M132.6,603.1a1.9,1.9 0 1,0 3.8,0a1.9,1.9 0 1,0 -3.8,0M126.6,607.3a1.9,1.9 0 1,0 3.8,0a1.9,1.9 0 1,0 -3.8,0M123.6,611.6a1.9,1.9 0 1,0 3.8,0a1.9,1.9 0 1,0 -3.8,0M129.6,615.8a1.9,1.9 0 1,0 3.8,0a1.9,1.9 0 1,0 -3.8,0M126.6,618.6a1.9,1.9 0 1,0 3.8,0a1.9,1.9 0 1,0 -3.8,0" fill="none" stroke="#e78ac3" stroke-width="0.8"/>
<path d="M128.5,604.5V596.1M125.5,596.1h6M125.5,604.5h6M123.5,600.3h10" stroke="#e78ac3" stroke-width="1" fill="none"/>
<text x="131.4" y="665.3" font-size="9.0" text-anchor="end" transform="rotate(-41 131.4 665.3)" fill="#231f20" stroke="#231f20" stroke-width="0.12">PS1/A-E</text>
<line x1="43.9" y1="566.2" x2="43.9" y2="650.8" stroke="#ababab" stroke-width="1.2"/>
<line x1="39.5" y1="650.8" x2="149.5" y2="650.8" stroke="#b0b0b0" stroke-width="1.4"/>
<polyline points="63.0,573.9 63.0,567.4 105.3,567.4 105.3,573.9" fill="none" stroke="#444444" stroke-width="0.9"/>
<text x="85.0" y="569.6" font-size="14" text-anchor="middle" fill="#231f20" stroke="#231f20" stroke-width="0.12">****</text>
<polyline points="108.0,573.9 108.0,567.4 128.5,567.4 128.5,573.9" fill="none" stroke="#444444" stroke-width="0.9"/>
<text x="119.0" y="569.6" font-size="14" text-anchor="middle" fill="#231f20" stroke="#231f20" stroke-width="0.12">****</text>
<polyline points="85.3,558.1 85.3,551.3 128.5,551.3 128.5,558.1" fill="none" stroke="#444444" stroke-width="0.9"/>
<text x="107.4" y="548.6" font-size="9.2" text-anchor="middle" textLength="11.0" lengthAdjust="spacingAndGlyphs" fill="#231f20" stroke="#231f20" stroke-width="0.12">NS</text>
<text x="191.1" y="654.2" font-size="9.6" text-anchor="end" fill="#231f20" stroke="#231f20" stroke-width="0.12">0</text>
<line x1="192.5" y1="608.5" x2="197.4" y2="608.5" stroke="#666" stroke-width="1"/>
<text x="191.1" y="611.9" font-size="9.6" text-anchor="end" fill="#231f20" stroke="#231f20" stroke-width="0.12">10</text>
<line x1="192.5" y1="566.2" x2="197.4" y2="566.2" stroke="#666" stroke-width="1"/>
<text x="191.1" y="569.6" font-size="9.6" text-anchor="end" fill="#231f20" stroke="#231f20" stroke-width="0.12">20</text>
<text x="168.7" y="608.1" font-size="10.9" text-anchor="middle" textLength="86.2" lengthAdjust="spacingAndGlyphs" transform="rotate(-90 168.7 608.1)" fill="#231f20" stroke="#231f20" stroke-width="0.12">Novel arm entries</text>
<rect x="209.4" y="608.5" width="14.4" height="42.3" fill="none" stroke="#66c2a5" stroke-width="1" stroke-opacity="0.85"/>
<line x1="216.6" y1="651.5" x2="216.6" y2="655.6" stroke="#555" stroke-width="1"/>
<path d="M211.7,591.6a1.9,1.9 0 1,0 3.8,0a1.9,1.9 0 1,0 -3.8,0M217.7,595.8a1.9,1.9 0 1,0 3.8,0a1.9,1.9 0 1,0 -3.8,0M214.7,600.0a1.9,1.9 0 1,0 3.8,0a1.9,1.9 0 1,0 -3.8,0M208.7,604.3a1.9,1.9 0 1,0 3.8,0a1.9,1.9 0 1,0 -3.8,0M220.7,604.3a1.9,1.9 0 1,0 3.8,0a1.9,1.9 0 1,0 -3.8,0M214.7,608.5a1.9,1.9 0 1,0 3.8,0a1.9,1.9 0 1,0 -3.8,0M211.7,612.7a1.9,1.9 0 1,0 3.8,0a1.9,1.9 0 1,0 -3.8,0M217.7,612.7a1.9,1.9 0 1,0 3.8,0a1.9,1.9 0 1,0 -3.8,0M214.7,617.0a1.9,1.9 0 1,0 3.8,0a1.9,1.9 0 1,0 -3.8,0M211.7,621.2a1.9,1.9 0 1,0 3.8,0a1.9,1.9 0 1,0 -3.8,0M217.7,625.4a1.9,1.9 0 1,0 3.8,0a1.9,1.9 0 1,0 -3.8,0M214.7,629.6a1.9,1.9 0 1,0 3.8,0a1.9,1.9 0 1,0 -3.8,0" fill="none" stroke="#66c2a5" stroke-width="0.8"/>
<path d="M216.6,612.3V604.7M213.6,604.7h6M213.6,612.3h6M211.6,608.5h10" stroke="#66c2a5" stroke-width="1" fill="none"/>
<text x="219.5" y="665.3" font-size="9.0" text-anchor="end" transform="rotate(-41 219.5 665.3)" fill="#231f20" stroke="#231f20" stroke-width="0.12">C57/vehicle</text>
<rect x="231.1" y="605.1" width="14.4" height="45.7" fill="none" stroke="#fc8d62" stroke-width="1" stroke-opacity="0.85"/>
<line x1="238.3" y1="651.5" x2="238.3" y2="655.6" stroke="#555" stroke-width="1"/>
<path d="M236.4,587.4a1.9,1.9 0 1,0 3.8,0a1.9,1.9 0 1,0 -3.8,0M233.4,591.6a1.9,1.9 0 1,0 3.8,0a1.9,1.9 0 1,0 -3.8,0M239.4,595.8a1.9,1.9 0 1,0 3.8,0a1.9,1.9 0 1,0 -3.8,0M236.4,600.0a1.9,1.9 0 1,0 3.8,0a1.9,1.9 0 1,0 -3.8,0M230.4,600.0a1.9,1.9 0 1,0 3.8,0a1.9,1.9 0 1,0 -3.8,0M242.4,604.3a1.9,1.9 0 1,0 3.8,0a1.9,1.9 0 1,0 -3.8,0M236.4,608.5a1.9,1.9 0 1,0 3.8,0a1.9,1.9 0 1,0 -3.8,0M233.4,612.7a1.9,1.9 0 1,0 3.8,0a1.9,1.9 0 1,0 -3.8,0M239.4,617.0a1.9,1.9 0 1,0 3.8,0a1.9,1.9 0 1,0 -3.8,0M236.4,621.2a1.9,1.9 0 1,0 3.8,0a1.9,1.9 0 1,0 -3.8,0M236.4,625.4a1.9,1.9 0 1,0 3.8,0a1.9,1.9 0 1,0 -3.8,0M239.4,608.5a1.9,1.9 0 1,0 3.8,0a1.9,1.9 0 1,0 -3.8,0" fill="none" stroke="#fc8d62" stroke-width="0.8"/>
<path d="M238.3,608.9V601.3M235.3,601.3h6M235.3,608.9h6M233.3,605.1h10" stroke="#fc8d62" stroke-width="1" fill="none"/>
<text x="241.2" y="665.3" font-size="9.0" text-anchor="end" transform="rotate(-41 241.2 665.3)" fill="#231f20" stroke="#231f20" stroke-width="0.12">C57/A-E</text>
<rect x="252.6" y="627.1" width="14.4" height="23.7" fill="none" stroke="#8da0cb" stroke-width="1" stroke-opacity="0.85"/>
<line x1="259.8" y1="651.5" x2="259.8" y2="655.6" stroke="#555" stroke-width="1"/>
<path d="M257.9,608.5a1.9,1.9 0 1,0 3.8,0a1.9,1.9 0 1,0 -3.8,0M254.9,612.7a1.9,1.9 0 1,0 3.8,0a1.9,1.9 0 1,0 -3.8,0M260.9,617.0a1.9,1.9 0 1,0 3.8,0a1.9,1.9 0 1,0 -3.8,0M257.9,621.2a1.9,1.9 0 1,0 3.8,0a1.9,1.9 0 1,0 -3.8,0M251.9,625.4a1.9,1.9 0 1,0 3.8,0a1.9,1.9 0 1,0 -3.8,0M263.9,625.4a1.9,1.9 0 1,0 3.8,0a1.9,1.9 0 1,0 -3.8,0M257.9,629.6a1.9,1.9 0 1,0 3.8,0a1.9,1.9 0 1,0 -3.8,0M254.9,629.6a1.9,1.9 0 1,0 3.8,0a1.9,1.9 0 1,0 -3.8,0M260.9,633.9a1.9,1.9 0 1,0 3.8,0a1.9,1.9 0 1,0 -3.8,0M257.9,638.1a1.9,1.9 0 1,0 3.8,0a1.9,1.9 0 1,0 -3.8,0M257.9,642.3a1.9,1.9 0 1,0 3.8,0a1.9,1.9 0 1,0 -3.8,0M260.9,625.4a1.9,1.9 0 1,0 3.8,0a1.9,1.9 0 1,0 -3.8,0" fill="none" stroke="#8da0cb" stroke-width="0.8"/>
<path d="M259.8,630.5V623.7M256.8,623.7h6M256.8,630.5h6M254.8,627.1h10" stroke="#8da0cb" stroke-width="1" fill="none"/>
<text x="262.7" y="665.3" font-size="9.0" text-anchor="end" transform="rotate(-41 262.7 665.3)" fill="#231f20" stroke="#231f20" stroke-width="0.12">PS1/vehicle</text>
<rect x="274.6" y="611.5" width="14.4" height="39.3" fill="none" stroke="#e78ac3" stroke-width="1" stroke-opacity="0.85"/>
<line x1="281.8" y1="651.5" x2="281.8" y2="655.6" stroke="#555" stroke-width="1"/>
<path d="M279.9,591.6a1.9,1.9 0 1,0 3.8,0a1.9,1.9 0 1,0 -3.8,0M276.9,600.0a1.9,1.9 0 1,0 3.8,0a1.9,1.9 0 1,0 -3.8,0M282.9,600.0a1.9,1.9 0 1,0 3.8,0a1.9,1.9 0 1,0 -3.8,0M279.9,604.3a1.9,1.9 0 1,0 3.8,0a1.9,1.9 0 1,0 -3.8,0M273.9,608.5a1.9,1.9 0 1,0 3.8,0a1.9,1.9 0 1,0 -3.8,0M285.9,608.5a1.9,1.9 0 1,0 3.8,0a1.9,1.9 0 1,0 -3.8,0M279.9,612.7a1.9,1.9 0 1,0 3.8,0a1.9,1.9 0 1,0 -3.8,0M276.9,612.7a1.9,1.9 0 1,0 3.8,0a1.9,1.9 0 1,0 -3.8,0M282.9,617.0a1.9,1.9 0 1,0 3.8,0a1.9,1.9 0 1,0 -3.8,0M279.9,621.2a1.9,1.9 0 1,0 3.8,0a1.9,1.9 0 1,0 -3.8,0M279.9,629.6a1.9,1.9 0 1,0 3.8,0a1.9,1.9 0 1,0 -3.8,0M282.9,612.7a1.9,1.9 0 1,0 3.8,0a1.9,1.9 0 1,0 -3.8,0" fill="none" stroke="#e78ac3" stroke-width="0.8"/>
<path d="M281.8,615.3V607.7M278.8,607.7h6M278.8,615.3h6M276.8,611.5h10" stroke="#e78ac3" stroke-width="1" fill="none"/>
<text x="284.7" y="665.3" font-size="9.0" text-anchor="end" transform="rotate(-41 284.7 665.3)" fill="#231f20" stroke="#231f20" stroke-width="0.12">PS1/A-E</text>
<line x1="197.4" y1="565.7" x2="197.4" y2="650.8" stroke="#ababab" stroke-width="1.2"/>
<line x1="193.0" y1="650.8" x2="303.0" y2="650.8" stroke="#b0b0b0" stroke-width="1.4"/>
<polyline points="216.6,579.0 216.6,572.5 258.1,572.5 258.1,579.0" fill="none" stroke="#444444" stroke-width="0.9"/>
<text x="238.2" y="574.7" font-size="14" text-anchor="middle" fill="#231f20" stroke="#231f20" stroke-width="0.12">**</text>
<polyline points="260.8,579.0 260.8,572.5 281.8,572.5 281.8,579.0" fill="none" stroke="#444444" stroke-width="0.9"/>
<text x="272.1" y="574.7" font-size="14" text-anchor="middle" fill="#231f20" stroke="#231f20" stroke-width="0.12">*</text>
<polyline points="238.3,564.0 238.3,557.6 281.8,557.6 281.8,564.0" fill="none" stroke="#444444" stroke-width="0.9"/>
<text x="260.6" y="554.9" font-size="9.2" text-anchor="middle" textLength="11.0" lengthAdjust="spacingAndGlyphs" fill="#231f20" stroke="#231f20" stroke-width="0.12">NS</text>
<text x="313.5" y="464.6" font-size="15.8" font-weight="bold" fill="#000">f</text>
<text x="328.1" y="464.6" font-size="11" textLength="117.2" lengthAdjust="spacingAndGlyphs" fill="#231f20" stroke="#231f20" stroke-width="0.12">5×FAD mice  (FAD mice)</text>
<line x1="353.1" y1="536.1" x2="607.0" y2="536.1" stroke="#3b4b68" stroke-width="1.75"/>
<polygon points="610.9,536.1 604.8,533.5 606.2,536.1 604.8,538.7" fill="#3b4b68" stroke="#3b4b68" stroke-width="0.6" stroke-linejoin="round"/>
<line x1="353.1" y1="528.3" x2="353.1" y2="543.4" stroke="#3b4b68" stroke-width="1.9"/>
<text x="353.1" y="553.9" font-size="8.6" text-anchor="middle" fill="#231f20" stroke="#231f20" stroke-width="0.12">0</text>
<line x1="391.9" y1="528.3" x2="391.9" y2="543.4" stroke="#3b4b68" stroke-width="1.9"/>
<text x="391.9" y="553.9" font-size="8.6" text-anchor="middle" fill="#231f20" stroke="#231f20" stroke-width="0.12">1</text>
<line x1="474.8" y1="528.3" x2="474.8" y2="543.4" stroke="#3b4b68" stroke-width="1.9"/>
<text x="474.8" y="553.9" font-size="8.6" text-anchor="middle" fill="#231f20" stroke="#231f20" stroke-width="0.12">3</text>
<line x1="593.1" y1="528.3" x2="593.1" y2="543.4" stroke="#3b4b68" stroke-width="1.9"/>
<text x="593.1" y="553.9" font-size="8.6" text-anchor="middle" fill="#231f20" stroke="#231f20" stroke-width="0.12">6</text>
<text x="438.8" y="568.8" font-size="10.2" textLength="71.2" lengthAdjust="spacingAndGlyphs" fill="#231f20" stroke="#231f20" stroke-width="0.12">Time (months)</text>
<g transform="translate(135.08,443.24) scale(0.87)"><path d="M215.5,79 C209,80 205,84 204.3,88.5 C204,92.5 208,94.3 214,94 C222,93.5 230,92.2 238.5,90.3" fill="none" stroke="#c8928e" stroke-width="1.7" stroke-linecap="round"/><ellipse cx="218.5" cy="82.5" rx="4.2" ry="3.2" fill="#e3a6a6"/><ellipse cx="224.5" cy="83.3" rx="4.6" ry="3.6" fill="#e3a6a6"/><ellipse cx="231" cy="84" rx="4.8" ry="3.6" fill="#e3a6a6"/><ellipse cx="238" cy="84.6" rx="5" ry="3.4" fill="#e3a6a6"/><ellipse cx="245" cy="84.2" rx="4.8" ry="3.4" fill="#e3a6a6"/><ellipse cx="251" cy="84.6" rx="4.2" ry="2.8" fill="#e3a6a6"/><ellipse cx="256.5" cy="85.3" rx="3.6" ry="1.8" fill="#e3a6a6"/><ellipse cx="216" cy="79.5" rx="3" ry="2" fill="#e3a6a6"/><ellipse cx="228" cy="86.5" rx="5" ry="1.5" fill="#e3a6a6"/><ellipse cx="242" cy="87" rx="5" ry="1.4" fill="#e3a6a6"/><path d="M213.6,80 C212.6,72 216.5,63.5 225,60 C231,57.6 239,57.8 245.5,58.4 C249,58.4 251,57.9 253,58.1 C257,58.6 261,61.1 264,63.6 C265.8,65.1 267.3,66.6 266.9,67.5 C265,69.6 262.6,71.2 260.2,72.4 C258.3,74.8 255.6,77 253.5,78.6 L252,82.2 C246,81.8 240,82.5 234,82.8 C228,83 222,82.5 218,82.2 C215.3,81.8 213.7,81.2 213.6,80 Z" fill="#4b4647"/><path d="M221,68 C226,63 235,62 240,65 C239,72 232,77 223,77.5 C220,75 220,71 221,68 Z" fill="#575152" opacity="0.45"/><ellipse cx="252.9" cy="57.3" rx="2" ry="2" fill="#3a3536"/><ellipse cx="249.6" cy="63.4" rx="2.4" ry="3.8" fill="#d8a0a0" stroke="#3e393a" stroke-width="0.5" transform="rotate(-12 249.6 63.4)"/><circle cx="259.2" cy="65.1" r="0.95" fill="#111"/><path d="M266,64 L269,59.5 M266.5,64.5 L270,61" stroke="#d8d8d8" stroke-width="0.4"/><path d="M226,83 C228,81.8 231,81.8 232.5,83 M240,83.5 C242,82.5 245,82.6 246,84" stroke="#c98686" stroke-width="0.5" fill="none"/><path d="M253,81 L258.5,84.5" stroke="#e3a6a6" stroke-width="1.4" stroke-linecap="round"/></g>
<g transform="translate(139.58,441.78) scale(0.86)"><path d="M283.5,88.3 C276,87.8 268,87.2 263,88.2 C260,89 259.2,91.5 259.4,95.3" fill="none" stroke="#c8928e" stroke-width="1.3" stroke-linecap="round"/><path d="M283,89.5 C282,84 285,78 292,75.7 C297,74.4 302,75.4 305.5,77.4 C308.2,79.5 311,83.4 312.9,87.4 L312.4,88.8 C310,89.5 306,90 303,90.3 L287,90.5 C284.5,90.5 283,90.2 283,89.5 Z" fill="#4b4647"/><ellipse cx="306.3" cy="77.2" rx="1.4" ry="1.6" fill="#3a3536"/><ellipse cx="303" cy="80.3" rx="1.7" ry="2.5" fill="#d8a0a0" transform="rotate(-12 303 80.3)"/><circle cx="309.1" cy="84.8" r="0.7" fill="#111"/><path d="M287,90.4 h5 M300.5,90.4 h5" stroke="#c8928e" stroke-width="1.1"/></g>
<g transform="translate(123.48,444.16) scale(0.86)"><path d="M395,87.6 C388,87.3 381,87.3 376,87.7 C370,88 364.5,88.6 362.5,90.5 C361.2,92 361,94 361.3,95.8" fill="none" stroke="#c8928e" stroke-width="1.4" stroke-linecap="round"/><path d="M394,89 C391,84 390.5,76 393,70 C395,65 399,62 404,61.5 C408,60.5 412,60.5 415,61.5 C419,63 422,66 424.5,69 C425.5,70.5 426.5,72 426.3,72.8 C424.5,74 422.5,74.5 421,75 C420,79 418.5,83 416,86 C413,88.5 408,89.5 403,89.5 L396,89.5 C395,89.5 394.3,89.3 394,89 Z" fill="#4b4647"/><ellipse cx="417.8" cy="60.2" rx="1.7" ry="1.9" fill="#3a3536"/><ellipse cx="414" cy="63.2" rx="2.1" ry="2.9" fill="#d8a0a0" transform="rotate(-15 414 63.2)"/><circle cx="420.9" cy="68.8" r="0.75" fill="#111"/><ellipse cx="420.5" cy="77.5" rx="2.6" ry="1.6" fill="#d9a3a3"/><path d="M404,89.3 C408,89.3 413,89 417.8,88.8" stroke="#c8928e" stroke-width="1.2" fill="none"/><path d="M425.5,68 L429,65" stroke="#d8d8d8" stroke-width="0.4"/></g>
<text x="378.9" y="496.4" font-size="11.2" textLength="35.8" lengthAdjust="spacingAndGlyphs" fill="#2a86c8" stroke="#2a86c8" stroke-width="0.12">Vehicle</text>
<text x="465.3" y="485.8" font-size="11.2" textLength="44.7" lengthAdjust="spacingAndGlyphs" fill="#2a86c8" stroke="#2a86c8" stroke-width="0.12">ALA+EDA</text>
<text x="505.7" y="507.0" font-size="11.2" textLength="37.5" lengthAdjust="spacingAndGlyphs" fill="#2a86c8" stroke="#2a86c8" stroke-width="0.12">45 days</text>
<line x1="561.3" y1="511.1" x2="561.3" y2="547.5" stroke="#14306a" stroke-width="1.6" stroke-dasharray="8.2,3.5"/>
<text x="612.4" y="491.5" font-size="10.6" textLength="63.5" lengthAdjust="spacingAndGlyphs" fill="#231f20" stroke="#231f20" stroke-width="0.12">Behavior test</text>
<circle cx="643.1" cy="536.2" r="28.9" fill="#a2c2f6" stroke="#8aa2c8" stroke-width="0.6"/>
<g transform="translate(643.1,536.2) scale(1.055)">
<path d="M-9.7,-15.7 C-6,-15 -3,-14.5 -2.6,-14.2 C-3,-10 -6,-8 -8.2,-8.1 C-12,-8.5 -14.5,-10 -15,-13.5 C-15.5,-18 -13,-21.5 -8,-22.5 C-4,-23.5 4,-24 9,-23 C13,-22 15.5,-20 14.8,-18.3 C14,-16 10,-15 8,-16.5 C6,-18.5 2,-20.5 -1,-19.5 C-3,-18.5 -2,-16 1,-15.5 C4,-15 6,-14 5,-12 C4,-10 3,-7 4.6,-5 C6,-4 8,-6 9.5,-9 C11,-12 13,-14 15,-13 C17.5,-11.5 17,-8 15.3,-7.2 C13.5,-6.2 11,-6.5 10,-9 C9,-11 9,-14 9.2,-15.2 C10.5,-12 14,-9 17,-6 C20,-3 22.5,-1 22.5,0.6 C22,3 18,6 13.8,9.3 L12.5,11" fill="none" stroke="#2c4c7c" stroke-width="0.7"/>
<circle cx="-9.7" cy="-15.7" r="3.7" fill="#dcedfb" stroke="#7090b8" stroke-width="0.5"/>
<circle cx="-9.7" cy="-15.7" r="0.9" fill="#2c4c7c"/>
<ellipse cx="10.7" cy="14.9" rx="2" ry="3.9" fill="#4e3d37" transform="rotate(32 10.7 14.9)"/>
<path d="M8.6,18.2 C7,20.5 5.2,22.6 3.6,24.6" stroke="#8a6a60" stroke-width="0.55" fill="none"/>
</g>
<g transform="translate(408.3,526.0) rotate(-15)"><rect x="-8.5" y="-4.5" width="17.0" height="9.0" rx="2.2" fill="#b3835c"/><rect x="-7.5" y="-3.7" width="14.0" height="3.7" rx="1.5" fill="#c0926c" opacity="0.6"/><rect x="5.9" y="-4.2" width="2.2" height="8.4" rx="1.1" fill="#c8a07c" opacity="0.8"/></g>
<g transform="translate(402.8,540.9) rotate(55)"><rect x="-8.5" y="-4.5" width="17.0" height="9.0" rx="2.2" fill="#b3835c"/><rect x="-7.5" y="-3.7" width="14.0" height="3.7" rx="1.5" fill="#c0926c" opacity="0.6"/><rect x="5.9" y="-4.2" width="2.2" height="8.4" rx="1.1" fill="#c8a07c" opacity="0.8"/></g>
<g transform="translate(417.1,536.2) rotate(-60)"><rect x="-8.5" y="-4.5" width="17.0" height="9.0" rx="2.2" fill="#b3835c"/><rect x="-7.5" y="-3.7" width="14.0" height="3.7" rx="1.5" fill="#c0926c" opacity="0.6"/><rect x="5.9" y="-4.2" width="2.2" height="8.4" rx="1.1" fill="#c8a07c" opacity="0.8"/></g>
<g transform="translate(490.1,526.6) rotate(-15)"><rect x="-8.5" y="-4.5" width="17.0" height="9.0" rx="2.2" fill="#b3835c"/><rect x="-7.5" y="-3.7" width="14.0" height="3.7" rx="1.5" fill="#c0926c" opacity="0.6"/><rect x="5.9" y="-4.2" width="2.2" height="8.4" rx="1.1" fill="#c8a07c" opacity="0.8"/></g>
<g transform="translate(484.6,540.3) rotate(55)"><rect x="-8.5" y="-4.5" width="17.0" height="9.0" rx="2.2" fill="#b3835c"/><rect x="-7.5" y="-3.7" width="14.0" height="3.7" rx="1.5" fill="#c0926c" opacity="0.6"/><rect x="5.9" y="-4.2" width="2.2" height="8.4" rx="1.1" fill="#c8a07c" opacity="0.8"/></g>
<g transform="translate(498.9,536.2) rotate(-60)"><rect x="-8.5" y="-4.5" width="17.0" height="9.0" rx="2.2" fill="#b3835c"/><rect x="-7.5" y="-3.7" width="14.0" height="3.7" rx="1.5" fill="#c0926c" opacity="0.6"/><rect x="5.9" y="-4.2" width="2.2" height="8.4" rx="1.1" fill="#c8a07c" opacity="0.8"/></g>
<text x="313.2" y="610.8" font-size="15.8" font-weight="bold" fill="#000">g</text>
<rect x="341.0" y="616.6" width="76.3" height="63.0" fill="#000080"/>
<circle cx="379.1" cy="648.1" r="25.9" fill="none" stroke="#8080c8" stroke-width="0.5"/>
<circle cx="379.1" cy="648.1" r="17.1" fill="none" stroke="#8080c8" stroke-width="0.5"/>
<circle cx="379.1" cy="648.1" r="8.5" fill="none" stroke="#8080c8" stroke-width="0.5"/>
<line x1="353.2" y1="648.1" x2="405.0" y2="648.1" stroke="#b8b8f0" stroke-width="0.6"/>
<line x1="379.1" y1="622.2" x2="379.1" y2="674.0" stroke="#8888d0" stroke-width="0.5"/>
<path d="M369.1,645.3l1.5,.5 1.1,1.1 1.1,1.1 1.1,1.1 1.3,.9 1.3,.8 1.4,.7 1.2,.9 1.5,.4 1.2,1 1.2,1.1 1.1,1 1.1,1.1 1.3,.9 .9,1.2 .7,1.4 .4,1.5 -.3,1.5 -.2,1.6 -.3,1.5 -.7,1.4 -.9,1.3 -1.2,.9 -1.5,.4 -1.6-.1 -1.5-.4 -1.4-.7 -1.4-.7 -1.3-.8 -1.2-1 -.8-1.3 -.9-1.3 -.5-1.4 -.3-1.6 -.6-1.4 -.6-1.5 -.7-1.3 -.4-1.5 -.9-1.3 -.4-1.5 -.4-1.5 -1-1.2 -.2-1.5 .1-1.6 .3-1.5 .3-1.5 .7-1.4 .9-1.3 1.2-.9 1.6-.2 1.5-.1 1.6,0 1.4,.6 1.3,.9 .8,1.4 .6,1.4 .1,1.5 -.1,1.6 -.2,1.5 -.6,1.5 -.2,1.5 -.7,1.4 -.5,1.4 -.6,1.5 -1.1,1.1 -1.1,1.1 -.9,1.3 -1.2,1 -1.3,.9 -1.4,.5 -1.5,.2 -1.6,.1 -1.5-.2 -1.5-.6 -1.2-.9 -1.1-1.1 -.7-1.4 -.3-1.5 -.1-1.6 0-1.5 .7-1.4 .6-1.5 .7-1.4 1-1.2 .9-1.2 .6-1.5 .8-1.3 .7-1.4 .6-1.4 .8-1.4 .7-1.3 .6-1.5 .7-1.4 .5-1.4 .5-1.5 .6-1.4 .8-1.4 .9-1.2 1.1-1.1 1.2-1 1.5-.6 1.5-.4 1.5-.4 1.5-.2 1.5-.1 1.6,.3 1.4,.5 1.4,.8 .8,1.3 .4,1.5 0,1.6 .2,1.5 -.1,1.6 -.1,1.5 -.6,1.4 -1.3,1 -1.4,.6 -1.4,.7 -1.4,.7 -1.4,.7 -1.2,.9 -1.4,.7 -1.3,.9 -1.1,1 -1.3,.8 -1.6,.1 -1.5,.1 -1.6,.1 -1.5-.3 -1.4-.7 -1.1-1.1 -1-1.1 -1.1-1.2 -.5-1.5 -.3-1.5 .2-1.6 .5-1.4 1-1.2 1.2-1 1.3-.9 1.4-.6 1.5-.3 1.6,0 1.4,.6 1.6,.2 1.4,.5 1.5,.5 1.5,.4 1.5,.4 1.5,.5 1.5,.2 1.4,.6 1.5,.6 1,1.1 1,1.3 .2,1.5 .7,1.4 .8,1.3 .7,1.4 .8,1.3 .9,1.3 .9,1.3 .6,1.4 .5,1.5 .2,1.5 -.3,1.5 -.8,1.3 -1.1,1.2 -1,1.2 -1.1,1 -1.4,.8 -1.5,.3 -1.5,.4 -1.5,.5 -1.5,.2 -1.6,.1 -1.5,.2 -1.5,.5 -1.5,.3 -1.5,.3 -1.5-.3 -1.4-.7 -1.2-1.1 -.8-1.3 -1.1-1 -.9-1.3 -.5-1.5 -.1-1.5 .2-1.6 .3-1.5 .1-1.6 .4-1.4 .2-1.6 .3-1.5 .7-1.4 .4-1.5 0-1.6 .3-1.5 0-1.5 .2-1.6 .6-1.4 1-1.2 1.4-.7 1.5-.2 1.6,0 1.5-.2 1.5-.1 1.5-.4 1.5-.5 1.6-.2 1.5,0 1.6,.2 1.5,.4 1.3,.7 1.1,1.1 1.1,1.1 .5,1.5 .7,1.4 .4,1.5 .6,1.4 .9,1.3 .7,1.4 .5,1.5 .5,1.4 .8,1.4 .7,1.4 .3,1.5 .4,1.5 -.2,1.5 -.5,1.5 -.7,1.4 -1.1,1.1 -1.1,1.1 -1.4,.7 -1.2,.9 -1.4,.7 -1.3,.8 -1.4,.7 -1.4,.8 -1.2,.9 -1.3,.9 -1.2,.9 -1.5,.6 -1.5,.5 -1.5,.4 -1.5,0 -1.6-.2 -1.5-.4 -1.2-.9 -1-1.2 -.8-1.3 -.1-1.6 -.1-1.5 .1-1.6 .6-1.4 1.1-1 1.2-1.1 1.2-1 1.4-.5 1.5-.4 1.5-.4 1.6-.2 1.5,.1 1.4,.7 1.4,.7 1.5,.4 1.5,.3 1.5,.5 1.3,.8 1.3,1 .7,1.3 .5,1.5 .6,1.4 .3,1.6 -.1,1.5 -.4,1.5 -.6,1.5 -.9,1.2 -1.1,1.1 -1.3,.9 -1.5,.4 -1.5,.1 -1.6,.2 -1.5-.4 -1.3-.8 -1.2-.9 -1.4-.8 -1.1-1.1 -.6-1.4 -.1-1.6 -.3-1.5 -.6-1.4 -.5-1.5 .1-1.6 -.1-1.5 -.4-1.5 -.7-1.4 -.7-1.4 -.6-1.5 -1-1.1 -.9-1.3 -.6-1.4 -.6-1.5 -.6-1.4 -.8-1.3 -.7-1.4 -.9-1.3 -.4-1.5 -.1-1.5 -.3-1.6 0-1.5 .4-1.5 1-1.2 1-1.2 1.4-.7 1.5-.5 1.5-.5 1.5,0 1.5,.5 1.4,.7 1.2,1 .9,1.3 1,1.1 .9,1.3 .7,1.4 .4,1.5 .2,1.6 .1,1.5 -.5,1.5 -1.1,1.1 -1.2,.9 -1.3,.9 -1.5,.6 -1.5,.1 -1.6,.1 -1.5-.4 -1.4-.7 -1-1.2 -.9-1.2 -1-1.2 -.6-1.4 -.2-1.6 0-1.5 .2-1.6 .3-1.5 .7-1.4 1-1.2 1.3-.9 1.3-.8 1.5-.4 1.6,.1 1.5-.1 1.6,.2 1.4,.5 1.3,.9 1.2,.9 1.3,1 1.1,1.1 .6,1.4 .4,1.5 .2,1.5 .4,1.5 0,1.6 -.4,1.5 -.8,1.3 -1.1,1.1 -1.2,1 -1.4,.6 -1.5,.5 -1.5,.3 -1.6,.2 -1.5,.3 -1.5-.3 -1.4-.7 -1.4-.7 -1.4-.7 -1-1.1 -1.2-1 -1.4-.7 -1.5-.4 -1.1-1.1 -1.2-1 -1.5-.5 -1.5-.3 -1.5,.3 -1.5,.5 -1.3,.8 -.7,1.4 -.5,1.5 -.3,1.5 -.3,1.5 .2,1.6 .4,1.5 -.3,1.5 0,1.6 0,1.5 .5,1.5 .6,1.5 .9,1.2 .8,1.3 1.2,1.1 1.4,.6 1.5,.3 1.6,0 1.4-.6 1.3-.8 1.2-1 1.2-1.1 .9-1.2 .6-1.5 .5-1.4 .2-1.6 .1-1.5 -.5-1.5 -.4-1.5 -.4-1.5 -.4-1.5 -1.3-.9 -.9-1.3 -.5-1.5 -1.1-1.1 -.6-1.4 -.6-1.4 -.2-1.6 .2-1.5 .7-1.4 1.2-1 1.2-1 1.2-.9 1.3-.9 1.5-.4 1.6,0 1.5,.4 1.3,.7 1.1,1.2 1.2,1 1.5,.4 1.4,.6 1.3,1 1.4,.4 1.5,.6 1.2,.9 1.3,.9 1,1.2 .8,1.3 .4,1.5 .4,1.5 -.3,1.5 -.7,1.4 -.9,1.3 -.8,1.3 -1.1,1.1 -1.4,.8 -1.5,.5 -1.3,.8 -1.3,.8 -1.4,.7 -1.4,.7 -1.5,.5 -1.2,.9 -1.3,.8 -1.5,.6 -1.5,.5 -1.2,1 -1.4,.6 -1.5,.5 -1.4,.6 -1.6-.1 -1.3-.7 -1.4-.8 -1.3-.8 -1.2-1 -1-1.2 -.6-1.4 -.4-1.5 .1-1.6 .4-1.5 .6-1.4 .8-1.3 1.1-1.2 1.3-.7 1.5-.5 1.5-.4 1.5-.3 1.6,.3 1.5,.3 1.4,.6 1,1.2 .9,1.3 .6,1.4 .6,1.5 -.1,1.5 -.3,1.6 0,1.5 -.3,1.5 -.3,1.6 -.5,1.4 -.4,1.5 -.1,1.6 -.5,1.5 -.1,1.5 0,1.6 0,1.5 .5,1.5 .9,1.3 1.2,.9 1.3,.8 1.5,.6 1.5,.4 1.5,.3 1.5,.1 1.6-.2 1.4-.5 1.4-.7 1.4-.8 1.1-1 1.3-1 1.4-.6 .9-1.2 1.3-.8 1-1.2 .8-1.4 .2-1.5 .3-1.5 0-1.6 -.5-1.5 -1-1.1 -1.3-.8 -1.5-.5 -1.6,.1 -1.5-.3 -1.5-.3 -1.5-.4 -1.6-.2 -1.5,.2 -1.6,.1 -1.5,.2 -1.5-.3 -1.6,.2 -1.5,0 -1.6-.1 -1.5-.2 -1.6-.1 -1.4,.6 -1,1.2 -.6,1.4 -.5,1.5 -.4,1.5 -.1,1.5 .4,1.5 .6,1.5 .9,1.2 1.1,1.2 1,1.1 1.3,.9 1.5,.5 1.5-.4 1.4-.6 1.3-.8 1.2-1 1.2-1 1.4-.7 .8-1.4 .5-1.4 .3-1.5 -.4-1.6 -.5-1.4 -1.1-1.1 -1-1.2 -.5-1.5 -.5-1.4 -1.1-1.2 -.8-1.3 -.8-1.3 -1.5-.6 -1.2-.9 -1.1-1.2 -.5-1.4 -.8-1.4 -1.2-1 -.7-1.3 -.4-1.5 .1-1.6 .4-1.5 .6-1.4 1.1-1.1 1.3-.9 1.5-.5 1.5-.3 1.6,0 1.5,.3 1.5,.3 1.6,0 1.3,.7 1.5,.5 1.6,.2 1.5-.1 1.5,.6 1.5,.4 1.4,.5 1.3,.9 1,1.2 .4,1.5 .1,1.5 -.2,1.6 -.4,1.5 -.9,1.2 -1.3,.9 -1.5,.5 -1.5,.3 -1.6-.1 -1.5,.2 -1.5,.2 -1.6-.2 -1.5,0 -1.6,.2 -1.5,.3 -1.5,.1 -1.5,.6 -1.5,.2 -1.6-.2 -1.5,.2 -1.5,.4 -1.3,.8 -1.4,.8 -1.1,1.1 -1,1.2 -.7,1.3 -.2,1.6 .4,1.5 .7,1.3 1.1,1.1 1.4,.7 1.6,.1 1.4-.6 1.3-.9 1.5-.3 1.4-.7 1.4-.7 1.5-.4 1.5-.5 1.4-.4 1.6-.4 1.4-.6 1.2-1 1.4-.6 1.5-.6 1.4-.6 1.3-.8 1.5-.3 1.5-.5 1.6-.2 1.4-.5 1.5-.6 1.1-1 .9-1.3 .4-1.5 0-1.6 .1-1.5 -.1-1.6 -.9-1.3 -1.2-1 -1.5-.3 -1.5-.3 -1.5-.2 -1.5-.4 -1.5,.5 -1.2,1 -1.2,1 -1.1,1.1 -.9,1.3 -1.2,.9 -1.3,.9 -.8,1.3 -.9,1.3 -1.1,1.1 -1,1.2 -1,1.2 -1.1,1.1 -.7,1.4" fill="none" stroke="#12a8ff" stroke-width="1.0" stroke-linejoin="round" stroke-linecap="round"/>
<path d="M380.6,652.8l1.2,1 1.2,1.1M386.5,657.9l.9,1.2 .7,1.4 .4,1.5M387,668l-.9,1.3 -1.2,.9M383.4,670.6l-1.6-.1M377.5,668.7l-1.3-.8 -1.2-1 -.8-1.3 -.9-1.3M369.3,654.3l-.4-1.5 -.4-1.5 -1-1.2M367.3,648.6l.1-1.6M372.4,640.2l1.5-.1M375.5,640.1l1.4,.6M378.2,641.6l.8,1.4M379.6,647.5l-.2,1.5M377.4,654.8l-.6,1.5 -1.1,1.1 -1.1,1.1M369.8,662.2l-1.5,.2M366.7,662.5l-1.5-.2M363.7,661.7l-1.2-.9M361.4,659.7l-.7-1.4 -.3-1.5 -.1-1.6M360.3,653.7l.7-1.4M376.8,626.2l1.5-.4 1.5-.4M387.2,626.7l.8,1.3M388.4,629.5l0,1.6M386.5,638.1l-1.4,.6 -1.4,.7 -1.4,.7M380.9,640.8l-1.2,.9 -1.4,.7M364.9,642.2l-1.1-1.2 -.5-1.5M363,638l.2-1.6 .5-1.4 1-1.2M367.2,631.9l1.4-.6M374.7,631.8l1.4,.5M377.6,632.8l1.5,.4 1.5,.4M388.5,637.9l.2,1.5 .7,1.4 .8,1.3M390.9,643.5l.8,1.3 .9,1.3M393.5,647.4l.6,1.4M394.5,653.3l-.8,1.3 -1.1,1.2M390.5,658l-1.4,.8 -1.5,.3 -1.5,.4M384.6,660l-1.5,.2 -1.6,.1 -1.5,.2 -1.5,.5 -1.5,.3M368.1,654.4l-.1-1.5 .2-1.6 .3-1.5M374.1,631.3l1.5-.2M377.2,631.1l1.5-.2M380.2,630.8l1.5-.4M384.8,629.7l1.5,0 1.6,.2 1.5,.4M393.4,634.7l.7,1.4 .4,1.5M395.1,639l.9,1.3M396.7,641.7l.5,1.5M397.7,644.6l.8,1.4M397.4,655.9l-1.1,1.1 -1.4,.7 -1.2,.9M392.3,659.3l-1.3,.8M389.6,660.8l-1.4,.8M383,664.9l-1.5,.5M380,665.8l-1.5,0 -1.6-.2M375.4,665.2l-1.2-.9M383.9,651.2l1.4,.7M386.7,652.6l1.5,.4 1.5,.3 1.5,.5 1.3,.8 1.3,1M394.5,656.9l.5,1.5 .6,1.4 .3,1.6 -.1,1.5 -.4,1.5 -.6,1.5M393.9,667.1l-1.1,1.1M391.5,669.1l-1.5,.4M386.9,669.8l-1.5-.4 -1.3-.8M382.9,667.7l-1.4-.8M379.8,664.4l-.1-1.6 -.3-1.5M378.3,658.4l.1-1.6M370.4,630l1-1.2M380.2,628.3l1.2,1 .9,1.3M385.5,637.5l.1,1.5M385.1,640.5l-1.1,1.1 -1.2,.9 -1.3,.9M376.9,644.2l-1.5-.4M378.2,627.3l1.5-.1 1.6,.2M382.7,627.9l1.3,.9M386.5,630.7l1.1,1.1M389.2,639.3l-.4,1.5 -.8,1.3M386.9,643.2l-1.2,1M384.3,644.8l-1.5,.5M378.2,646.1l-1.5-.3M366.3,639.4l-1.2-1M363.6,637.9l-1.5-.3M356.2,646.7l.4,1.5M356.3,649.7l0,1.6M357.4,655.8l.9,1.2M359.1,658.3l1.2,1.1M361.7,660l1.5,.3 1.6,0M366.2,659.7l1.3-.8M370.8,655.6l.6-1.5 .5-1.4M372.1,651.1l.1-1.5M366.7,638.8l-.6-1.4 -.6-1.4 -.2-1.6M366.2,631.5l1.2-1 1.2-1 1.2-.9 1.3-.9M375.7,627.7l1.3,.7 1.1,1.2 1.2,1M380.8,631l1.4,.6M383.5,632.6l1.4,.4M389.9,636.6l.8,1.3M391.1,639.4l.4,1.5M390.5,643.8l-.9,1.3 -.8,1.3M384.8,648.8l-1.3,.8M366.9,657.8l-1.6-.1 -1.3-.7 -1.4-.8M360.1,654.4l-1-1.2M358.5,651.8l-.4-1.5M361.1,643.3l1.3-.7 1.5-.5M374.5,648l-.1,1.5M371.9,663.2l0,1.6 0,1.5M372.4,667.8l.9,1.3M380.3,672.1l1.5,.1M383.4,672l1.4-.5 1.4-.7M388.7,669l1.3-1M391.4,667.4l.9-1.2 1.3-.8 1-1.2 .8-1.4 .2-1.5 .3-1.5 0-1.6M393.1,654.8l-1.5-.5 -1.6,.1 -1.5-.3M387,653.8l-1.5-.4M373.1,653.5l-1.5-.2M370,653.2l-1.4,.6 -1,1.2 -.6,1.4M366.1,659.4l-.1,1.5M366.4,662.4l.6,1.5M370,667.4l1.3,.9 1.5,.5M374.3,668.4l1.4-.6M377,667l1.2-1M379.4,665l1.4-.7 .8-1.4M382.1,661.5l.3-1.5M381.5,657l-1.1-1.1M374.8,631.4l1.6,0M377.9,631.7l1.5,.3M383.8,633.2l1.6,.2M389.9,634.3l1.4,.5M392.6,635.7l1,1.2M393.5,643l-.9,1.2 -1.3,.9 -1.5,.5 -1.5,.3 -1.6-.1M385.2,646l-1.5,.2 -1.6-.2M368.4,647.8l-1.3,.8 -1.4,.8M364.6,650.5l-1,1.2M362.9,653l-.2,1.6M363.1,656.1l.7,1.3 1.1,1.1M366.3,659.2l1.6,.1M380.9,654.4l1.4-.6M383.5,652.8l1.4-.6M392.1,649.4l1.6-.2 1.4-.5M396.6,648.1l1.1-1 .9-1.3 .4-1.5M395.4,637l-1.5-.3M392.4,636.5l-1.5-.4M387,638.6l-1.1,1.1M383.8,641.9l-1.3,.9" fill="none" stroke="#30d8ff" stroke-width="1.0" stroke-linejoin="round" stroke-linecap="round"/>
<path d="M372.8,648l1.1,1.1M387.7,666.6l-.7,1.4M367.5,650.1l-.2-1.5M379.7,645.9l-.1,1.6M364.8,645.5l.8-1.3M373,628.9l1.1-1.1M375.3,626.8l1.5-.6M388.4,631.1l.2,1.5 -.1,1.6M387.8,637.1l-1.3,1M378.3,642.4l-1.3,.9 -1.1,1M368.4,645.1l-1.4-.7M365.9,643.3l-1-1.1M363.3,639.5l-.3-1.5M364.7,633.8l1.2-1M371.7,631l1.4,.6M376.1,632.3l1.5,.5M383.6,634.3l1.4,.6M390.2,642.1l.7,1.4M368.6,655.9l-.5-1.5M368.6,648.2l.4-1.4M371.7,633.2l1-1.2M375.6,631.1l1.6,0M392.9,633.2l.5,1.5M381.5,665.4l-1.5,.4M374.2,664.3l-1-1.2M382.4,651.1l1.5,.1M385.3,651.9l1.4,.7M393.8,655.6l.7,1.3M388.5,669.6l-1.6,.2M381.5,666.9l-1.1-1.1M372.8,628.1l1.5-.5M375.8,627.1l1.5,0M383.3,631.7l.9,1.3 .7,1.4M385.3,635.9l.2,1.6M385.6,639l-.5,1.5M381.5,643.4l-1.5,.6 -1.5,.1M371.5,630.5l1-1.2 1.3-.9M375.1,627.6l1.5-.4M385.2,629.7l1.3,1M387.6,631.8l.6,1.4M389.2,637.7l0,1.6M365.1,638.4l-1.5-.5M372.2,649.6l-.5-1.5M365.3,634.4l.2-1.5M372.6,627.3l1.6,0M391.2,642.4l-.7,1.4M362.6,656.2l-1.3-.8M374.4,649.5l-.3,1.6M374.1,652.6l-.3,1.5 -.3,1.6M386.2,670.8l1.4-.8M395.9,658.2l-.5-1.5M394.4,655.6l-1.3-.8M385.5,653.4l-1.6-.2 -1.5,.2M371.6,653.3l-1.6-.1M372.8,668.8l1.5-.4M375.7,667.8l1.3-.8M371.8,632.2l1.5-.5M381,632l1.3,.7M391.3,634.8l1.3,.9M393.6,636.9l.4,1.5M379,646.2l-1.5,.3M369.9,647.4l-1.5,.4M384.9,652.2l1.5-.6M396.9,637.3l-1.5-.3M393.9,636.7l-1.5-.2M385.9,639.7l-.9,1.3M382.5,642.8l-.8,1.3M379.7,646.5l-1,1.2" fill="none" stroke="#70f4e0" stroke-width="1.0" stroke-linejoin="round" stroke-linecap="round"/>
<path d="M375.2,650l1.3,.8M379.1,652.4l1.5,.4M373.3,664.3l-.5-1.4 -.3-1.6M371.9,659.9l-.6-1.5M370.6,657.1l-.4-1.5 -.9-1.3M367.4,647l.3-1.5M370.8,640.4l1.6-.2M379.6,644.4l.1,1.5M379.4,649l-.6,1.5M374.6,658.5l-.9,1.3 -1.2,1 -1.3,.9M365.6,644.2l.7-1.4M372.1,630.1l.9-1.2M374.1,627.8l1.2-1M388.4,635.7l-.6,1.4M367,644.4l-1.1-1.1M368.6,631.3l1.5-.3M373.1,631.6l1.6,.2M382.1,634.1l1.5,.2M385,634.9l1.5,.6 1,1.1 1,1.3M375.5,661.6l-1.5-.3 -1.4-.7M371.4,659.5l-.8-1.3M369.5,657.2l-.9-1.3M368.5,649.8l.1-1.6M370.6,639.2l.3-1.5M370.9,636.2l.2-1.6M372.7,632l1.4-.7M378.7,630.9l1.5-.1M381.7,630.4l1.5-.5M373.2,663.1l-.8-1.3 -.1-1.6M372.3,657.1l.6-1.4 1.1-1 1.2-1.1M379.3,651.7l1.5-.4M380.4,665.8l-.6-1.4M377.2,652.4l-.7-1.4M372.8,644.2l-.6-1.4M369.3,635.8l-.3-1.6M369,632.7l.4-1.5 1-1.2M371.4,628.8l1.4-.7M374.3,627.6l1.5-.5M377.3,627.1l1.5,.5M382.3,630.6l1,1.1M378.5,644.1l-1.6,.1M374,643.1l-1-1.2M370.3,635l.2-1.6M373.8,628.4l1.3-.8M376.6,627.2l1.6,.1M388.2,633.2l.4,1.5M388.8,636.2l.4,1.5M382.8,645.3l-1.5,.3 -1.6,.2M364.8,660.3l1.4-.6M369.9,656.8l.9-1.2M371.1,627.7l1.5-.4M374.2,627.3l1.5,.4M379.3,630.6l1.5,.4M382.2,631.6l1.3,1M384.9,633l1.5,.6 1.2,.9M388.9,635.4l1,1.2M382.2,650.4l-1.4,.7M376.7,653.2l-1.3,.8 -1.5,.6M372.4,655.1l-1.2,1M369.8,656.7l-1.5,.5 -1.4,.6M363.9,642.1l1.5-.4M374.1,651.1l0,1.5M373.5,655.7l-.5,1.4M372.6,658.6l-.1,1.6 -.5,1.5 -.1,1.5M395.4,656.7l-1-1.1M382.4,653.4l-1.6,.1M376.2,653.6l-1.5,0 -1.6-.1M367,656.4l-.5,1.5 -.4,1.5M378.2,666l1.2-1M368.4,637.1l.4-1.5 .6-1.4M373.3,631.7l1.5-.3M376.4,631.4l1.5,.3M379.4,632l1.6,0M382.3,632.7l1.5,.5M385.4,633.4l1.5-.1 1.5,.6M382.1,646l-1.5,0 -1.6,.2M373,647.4l-1.6-.2 -1.5,.2M364.9,658.5l1.4,.7M367.9,659.3l1.4-.6M372.1,657.5l1.4-.7 1.4-.7M379.3,654.8l1.6-.4M382.3,653.8l1.2-1M390.9,636.1l-1.5,.5 -1.2,1 -1.2,1M381.7,644.1l-.9,1.3 -1.1,1.1M378.7,647.7l-1,1.2 -1.1,1.1 -.7,1.4" fill="none" stroke="#c8f850" stroke-width="1.0" stroke-linejoin="round" stroke-linecap="round"/>
<path d="M369.1,645.3l1.5,.5M373.9,649.1l1.3,.9M372.5,661.3l-.6-1.4M367.7,645.5l.3-1.5M379,643l.6,1.4M366.3,642.8l.6-1.4M367.7,640l.7-1.3 .6-1.5M369.7,635.8l.5-1.4M388.5,634.2l-.1,1.5M371.5,645.3l-1.6,.1 -1.5-.3M370.6,658.2l-1.1-1M369,646.8l.2-1.6M370.9,637.7l0-1.5M372.2,658.7l.1-1.6M377.8,652.1l1.5-.4M378.3,655.3l-.4-1.5M375.9,649.5l-1-1.1M369.8,638.8l-.4-1.5 -.1-1.5M369,634.2l0-1.5M375.4,643.8l-1.4-.7M373,641.9l-.9-1.2M370.5,638.1l-.2-1.6 0-1.5M370.5,633.4l.3-1.5M388.6,634.7l.2,1.5M379.7,645.8l-1.5,.3M376.7,645.8l-1.4-.7M367.5,658.9l1.2-1 1.2-1.1M367.8,639.9l-1.1-1.1M387.6,634.5l1.3,.9M380.8,651.1l-1.4,.7M373.9,654.6l-1.5,.5M371.2,656.1l-1.4,.6M365.4,641.7l1.5-.3M378.4,651.8l-1.1-1.2 -.8-1.3 -.8-1.3M374.2,647.4l-1.2-.9M368.7,640.2l-.4-1.5 .1-1.6M388.4,633.9l1.5,.4M377.5,646.5l-1.5,.1M376.4,655.7l1.5-.5 1.4-.4" fill="none" stroke="#f8e820" stroke-width="1.0" stroke-linejoin="round" stroke-linecap="round"/>
<path d="M371.7,646.9l1.1,1.1M377.9,651.5l1.2,.9M371.3,658.4l-.7-1.3M377.9,653.4l-.5,1.4M366.9,641.4l.8-1.4M369,637.2l.7-1.4M371.3,631.5l.8-1.4M375.9,644.3l-1.3,.8M370.1,631l1.6,0M372.6,660.6l-1.2-1.1M371.1,634.6l.6-1.4M372.3,660.2l-.1-1.5M378.4,656.8l-.1-1.5M376.5,651l-.6-1.5M373.4,645.7l-.6-1.5M372.1,640.7l-1-1.2 -.6-1.4M373.9,644.4l-1.4-.7M368.9,640.9l-1.5-.4 -1.1-1.1M368.3,641.4l-.5-1.5M377.9,652.3l-1.2,.9M371.4,642.6l1,1.2M373.9,646.5l.6,1.5M380.8,653.5l-1.5,.2M377.8,653.4l-1.6,.2M380.4,655.9l-1-1.2M371.9,645.3l-.5-1.4M369.4,634.2l1.1-1.1 1.3-.9M369.3,658.7l1.3-.9 1.5-.3" fill="none" stroke="#ff8c10" stroke-width="1.0" stroke-linejoin="round" stroke-linecap="round"/>
<path d="M370.6,645.8l1.1,1.1M376.5,650.8l1.4,.7M368,644l.7-1.4 .9-1.3 1.2-.9M378.8,650.5l-.2,1.5 -.7,1.4M370.2,634.4l.5-1.5 .6-1.4M374.6,645.1l-1.6,.1 -1.5,.1M369.2,645.2l.3-1.5 .7-1.4 .4-1.5 0-1.6M375.2,653.6l1.2-1 1.4-.5M377.9,653.8l-.7-1.4M374.9,648.4l-.9-1.3 -.6-1.4M372.2,642.8l-.8-1.3 -.7-1.4 -.9-1.3M370.8,631.9l.7-1.4M375.3,645.1l-1.4-.7M372.5,643.7l-1-1.1 -1.2-1 -1.4-.7M371.7,648.1l-.4-1.5 -.4-1.5 -.4-1.5 -1.3-.9 -.9-1.3M379.4,651.8l-1.5,.5M366.9,641.4l1.6,.3 1.5,.3 1.4,.6M372.4,643.8l.9,1.3 .6,1.4M373,657.1l-.4,1.5M379.3,653.7l-1.5-.3M379.4,654.7l-.5-1.5 -.5-1.4M375.7,648l-1.5-.6M373,646.5l-1.1-1.2M371.4,643.9l-.8-1.4 -1.2-1 -.7-1.3M376,646.6l-1.5,.6 -1.5,.2" fill="none" stroke="#ff2a00" stroke-width="1.0" stroke-linejoin="round" stroke-linecap="round"/>
<text x="379.1" y="611.2" font-size="10.8" text-anchor="middle" textLength="57.0" lengthAdjust="spacingAndGlyphs" fill="#231f20" stroke="#231f20" stroke-width="0.12">C57/vehicle</text>
<rect x="420.1" y="616.6" width="75.8" height="63.0" fill="#000080"/>
<circle cx="458.0" cy="648.1" r="25.9" fill="none" stroke="#8080c8" stroke-width="0.5"/>
<circle cx="458.0" cy="648.1" r="17.1" fill="none" stroke="#8080c8" stroke-width="0.5"/>
<circle cx="458.0" cy="648.1" r="8.5" fill="none" stroke="#8080c8" stroke-width="0.5"/>
<line x1="432.1" y1="648.1" x2="483.9" y2="648.1" stroke="#b8b8f0" stroke-width="0.6"/>
<line x1="458.0" y1="622.2" x2="458.0" y2="674.0" stroke="#8888d0" stroke-width="0.5"/>
<path d="M450.6,643l1,1.2 .6,1.4 .2,1.5 0,1.6 -.7,1.4 -.9,1.3 -1.1,1 -1.3,.8 -1.5,.5 -1.5,.3 -1.5-.5 -1.4-.7 -1.1-1.1 -1.5-.5 -1.3-.9 -.6-1.4 -.3-1.5 .2-1.6 .5-1.4 .9-1.3 1.2-.9 1.5-.6 1.5-.1 1.5,.3 1.4,.8 1.2,1 .8,1.3 .8,1.3 .7,1.4 .6,1.5 .2,1.5 -.2,1.5 0,1.6 -.7,1.4 -1,1.2 -1.2,1 -1.1,1 -1.4,.7 -1.5,.6 -1.5,.3 -1.5-.2 -1.5-.6 -1.3-.8 -1.1-1.1 -1-1.2 -.4-1.5 -.1-1.5 .2-1.6 1.1-1.1 .9-1.3 .6-1.4 .4-1.5 .2-1.6 .6-1.4 1-1.2 1-1.1 1.4-.8 1.2-1 1.1-1.1 1.2-1 1.3-.8 1.3-.9 1.3-.7 1.4-.7 1.5-.3 1.6,.2 1.5,.3 1.2,1 1.2,1 1.5,.5 1.4,.7 1.4,.6 1.4,.6 1.4,.6 1.4,.8 1.4,.6 1.5,.6 1.5,.4 1.5,.4 1.5,.2 1.6,0 1.5,.3 1.5,.2 1.6-.2 1.5,0 .4-.2 -.1-.4 -.3-.9 -.3-1.1 -.5-1.3 -.6-1.3 -.7-1.3 -.7-1.2 -.8-1.2 -1-1.2 -1-1.2 -1.4-.6 -1.5-.5 -1.5-.4 -1.5-.2 -1.6,.2 -1.5,.2 -1.5,.5 -1.3,.8 -1.5,.5 -1.2,1 -1.5,.5 -1.4,.6 -1.5,.6 -1.3,.7 -1.4,.7 -1.4,.7 -1.5,.3 -1.4,.6 -1.3,.8 -1.4,.7 -1.3,.9 -1.2,1 -1.4,.6 -1.5,.4 -1.4,.7 -1.1,1.1 -1.4,.7 -1.2,1 -1.2,.9 -1.1,1.1 -.7,1.4 -.5,1.5 -.1,1.5 .5,1.5 .8,1.4 .8,1.3 1.2,1 1.2,1 1.4,.8 1.4,.5 1.5,.4 1.5,.4 1.6-.2 1.5,0 1.5-.3 1.4-.8 1.3-.9 1.1-1 .8-1.4 .4-1.4 .3-1.6 .2-1.5 -.2-1.6 -.8-1.3 -.7-1.4 -.2-1.5 -.8-1.4 -.1-1.5 -.5-1.5 -.8-1.4 -.5-1.4 -.2-1.5 .5-1.5 .7-1.4 .8-1.3 1-1.2 1.5-.5 1.5,.1 1.5,.3 1.3,.9 1.2,1 1,1.3 .2,1.5 .4,1.5 .8,1.4 .5,1.4 .2,1.6 .8,1.3 .6,1.4 .9,1.3 .7,1.4 .3,1.5 .7,1.4 .2,1.6 .4,1.5 .7,1.3 .7,1.4 .6,1.4 .5,1.5 .6,1.5 0,1.5 .3,1.5 -.1,1.6 -.3,1.5 -.5,1.5 -.6,1.4 -.7,1.4 -.7,1.2 -1.2,.4 -1.3,.4 -1.4,.4 -1.5,.3 -1.4,.2 -1.5,.1 -1.6-.3 -1.3-.8 -1-1.1 -.8-1.3 -.3-1.6 -.3-1.5 -.2-1.6 .4-1.5 .5-1.4 .4-1.5 .7-1.4 .4-1.5 .4-1.5 .4-1.5 .1-1.6 .5-1.5 .5-1.4 .3-1.6 .2-1.5 .2-1.5 .7-1.4 .7-1.4 1-1.2 1.4-.8 1.4-.5 1.4-.7 1.6-.3 1.5,.1 1.6,.1 1.5,.3 1.3,.8 1.1,1.1 .8,1.3 .6,1.5 .2,1.5 -.4,1.5 -.7,1.4 -1.1,1.1 -1.4,.8 -1.4,.6 -1.5,.4 -1.5,.4 -1.4,.6 -1.5,.3 -1.6,.4 -1.5,.2 -1.5,0 -1.6,.3 -1.5,.3 -1.5,.2 -1.5,.5 -1.6,.1 -1.5,0 -1.6,.2 -1.5,0 -1.6-.2 -1.2-1 -1.1-1.1 -.8-1.3 -.9-1.2 -.6-1.5 -.5-1.4 0-1.6 .5-1.4 .8-1.4 1-1.2 1.1-1.1 1.4-.7 1.4-.5 1.4-.7 1.4-.7 1.4-.8 1.4-.7 1.4-.5 1.4-.7 1.4-.8 1.4-.7 1.3-.7 1.4-.8 1.3-.8 1.3-.8 1.4-.8 1.3-.7 1.5-.4 1.6,.1 1.5,.5 1.3,.7 1.3,.9 1.1,1.1 .7,1.4 .2,1.5 .1,1.6 -.5,1.5 -.7,1.3 -.9,1.3 -1.2,1 -1.4,.7 -1.6,.1 -1.5,.4 -1.5-.2 -1.5-.2 -1.5-.4 -1.6,0 -1.5,.3 -1.6,0 -1.5-.1 -1.4-.7 -1.5-.4 -1.5-.5 -1.4-.5 -1.5-.5 -1.5-.3 -1.5-.6 -1.5-.3 -1.3-.9 -.9-1.3 -.6-1.4 -.3-1.5 -.4-1.5 .1-1.6 .4-1.5 .7-1.2 1.3-.9 1.3-.8 1.4-.7 1.5-.5 1.5-.3 1.5-.2 1.6-.1 1.5,.2 1.5,.3 1.5,.4 1.4,.8 1.1,1 1,1.3 1,1.1 1.1,1.2 .8,1.3 1,1.2 .5,1.5 .6,1.4 .3,1.5 .5,1.5 .4,1.5 .7,1.3 .7,1.5 .3,1.5 .6,1.4 .2,1.6 .4,1.5 .1,1.5 .1,1.6 .3,1.5 .2,1.5 -.3,1.6 -.9,1.2 -.9,1.3 -.9,1.2 -1.2,1.1 -1.2,.9 -1.4,.7 -1.3,.8 -1.6,.2 -1.5,.1 -1.5-.3 -1.4-.7 -1.1-1.2 -.7-1.3 -1.1-1.1 -1.3-.9 -1-1.2 -.9-1.3 -1.1-1.1 -1.1-1.1 -.9-1.2 -1.2-1 -.7-1.3 -1.3-1 -1.2-.9 -.8-1.4 -.5-1.4 -.2-1.6 .4-1.5 .6-1.4 .6-1.4 .9-1.3 1.2-1 1.3-.8 1.5-.6 1.5-.1 1.6,0 1.5,.2 1.4,.8 1.2,.9 1.1,1.1 1.3,.9 .8,1.3 1.2,1 1,1.2 1.3,.8 1.3,.9 1.2,1 .9,1.2 1.5,.6 1.4,.6 1.3,.9 1.2,1 1.2,1 1.1,1 .8,1.4 .4,1.5 -.2,1.5 -.6,1.5 -.9,1.2 -1,1.2 -1.4,.7 -1.5,.5 -1.5,.3 -1.5,.3 -1.6-.2 -1.4-.7 -1.3-.8 -1-1.2 -.6-1.4 -.6-1.4 -.6-1.5 -.7-1.4 -.6-1.4 -.5-1.5 -.6-1.4 -1-1.2 -.6-1.5 -.2-1.5 -.8-1.3 -.9-1.3 -.7-1.4 -.9-1.3 -.8-1.3 -1-1.2 -1-1.2 -.5-1.5 -.9-1.2 -.7-1.4 -.6-1.5 -.6-1.4 -.7-1.4 -.5-1.2 .4-.3 .6-.4 .8-.5 1-.5 1.1-.5 1.1-.4 1.3-.5 1.5-.4 1.4-.4 1.5-.2 1.6,.1 1.4,.6 1.2,.9 .9,1.3 1.1,1.1 1,1.2 1.1,1.1 1.1,1.1 1.3,.8 1.1,1.1 1.1,1.1 .9,1.3 1.2,1 .9,1.2 1.1,1.2 1.1,1.1 1.3,.8 1.2,1 .9,1.3 1.4,.7 .9,1.3 .5,1.4 .4,1.5 -.2,1.6 -.7,1.4 -.9,1.3 -.9,1.2 -.8,1.4 -.9,1.2 -1.1,1.2 -.9,1.2 -1,1.2 -1.2,1 -1.1,1.1 -1.3,.8 -.9,1.3 -.8,1.3 -.9,1.3 -.9,1.3 -1.1,1.1 -1.2,.9 -1.4,.6 -1.4,.7 -1.5,.5 -1.5,0 -1.5-.6 -1.3-.8 -1.2-1 -1.2-1 -1.3-.9 -1.2-1 -1-1.1 -.8-1.4 -.5-1.4 -.1-1.6 0-1.5 .4-1.6 .8-1.3 .3-1.5 .7-1.4 .4-1.5 .7-1.4 .7-1.4 .9-1.3 .8-1.3 .2-1.5 .9-1.3 1.1-1.1 1.3-.8 1.1-1.2 1.2-.9 1.4-.8 1.2-.9 1.4-.6 1.4-.8 1.1-1.1 1.3-.9 1.2-.9 1.2-1.1 1.3-.8 1.5-.5 1.5-.3 1.5,.4 1.4,.6 1.2,1 .8,1.4 .3,1.5 -.1,1.6 -.2,1.5 0,1.6 -.3,1.5 -.2,1.5 -.2,1.6 .1,1.5 -.2,1.6 0,1.5 .3,1.5 -.2,1.6 .5,1.5 .1,1.5 -.3,1.5 -.4,1.5 -.6,1.5 -1,1.2 -1.2,.9 -1.4,.8 -1.2,.9 -1.5,.4 -1.5,.4 -1.5,.6 -1.3,.8 -1.3,.9 -1.2,.9 -1.5,.5 -1.6,.1 -1.5-.1 -1.3-.9 -.9-1.3 -.7-1.3 -1.1-1.1 -1.2-1.1 -.7-1.3 -.6-1.5 -1.1-1 -.7-1.4 -.6-1.4 -1-1.3 -.9-1.3 -.8-1.2 -1-1.2 -.4-1.6 -.8-1.3 -1-1.2 -.7-1.4 -.5-1.5 -.7-1.3 -1.2-1 -.9-1.3 -.6-1.4 -.6-1.5 0-1.6 .5-1.4 .6-1.5 1-1.2 1.3-.8 1.4-.6 1.6,.1 1.5,0 1.6,.1 1.5,.5 1.5,.1 1.6,0 1.5,.1 1.6-.2 1.5,.2 1.6,0 1.5,.2 1.5,.4 1.5-.3 1.6-.2 1.5,.1 1.6,.1 1.5-.1 1.6,.3 1.4,.6 1.2,1 1.1,1.1 .7,1.4 .4,1.5 -.1,1.5 -.2,1.6 -.5,1.4 -.9,1.3 -1,1.2 -1.3,.9 -1.3,.8 -1.3,.8 -1.4,.7 -1.1,1.1 -1,1.2 -1.1,1.1 -1.3,.8 -1.5,.5 -1.4,.6 -1.6,.2 -1.4,.5 -1.4,.9 -1.3,.7 -1.3,.9 -1.4,.6 -1.3,.9 -1.3,.8 -1.4,.8 -1.5,.4 -1.5-.1 -1.5-.4 -1.2-1 -1.2-1 -.8-1.3 -.7-1.4 0-1.6 .2-1.5 .5-1.5 .6-1.4 1-1.2 1.2-1.1 1.4-.6 1.5-.5 1.4-.7 1.4-.6 1.4-.6 1.4-.6 1.4-.7 1.3-.9 1.4-.5 1.6-.3 1.4-.6 1.4-.8 1.4-.6 1.3-.9 1.5-.3 1.5-.3 1.2-1" fill="none" stroke="#12a8ff" stroke-width="1.0" stroke-linejoin="round" stroke-linecap="round"/>
<path d="M445.4,654l-1.5-.5M441.4,651.7l-1.5-.5M437.7,647.4l.2-1.6M446.4,642.6l1.2,1M449.2,646.2l.7,1.4M450.7,650.6l-.2,1.5M448.8,656.3l-1.2,1M442.1,659.9l-1.5-.2 -1.5-.6 -1.3-.8 -1.1-1.1 -1-1.2 -.4-1.5 -.1-1.5 .2-1.6 1.1-1.1M438,647.6l.4-1.5M450,634.5l1.4-.7 1.5-.3 1.6,.2M457.2,635l1.2,1M464.1,638.4l1.4,.6M466.9,639.8l1.4,.6M475.9,642l1.5,.3M478.9,642.5l1.6-.2 1.5,0 .4-.2 -.1-.4 -.3-.9M479.9,635.8l-.7-1.2 -.8-1.2 -1-1.2 -1-1.2M475,630.4l-1.5-.5M468.9,629.5l-1.5,.2M438.5,644.1l-1.2,1M433.8,650l-.1,1.5 .5,1.5 .8,1.4 .8,1.3 1.2,1 1.2,1 1.4,.8M451.3,632l1-1.2 1.5-.5 1.5,.1 1.5,.3M462.4,641.3l.8,1.3M464.7,645.3l.7,1.4M466.4,649.6l.2,1.6 .4,1.5M459.2,673.2l-1.6-.3M454.5,669.7l-.3-1.6M453.9,666.6l-.2-1.6 .4-1.5M455,660.6l.7-1.4M457.5,651.6l.5-1.4M459.4,644.2l.7-1.4M463.9,640.3l1.4-.7M466.9,639.3l1.5,.1M470,639.5l1.5,.3M469,651.8l-1.5,.4M464.6,653.1l-1.6,.4M461.5,653.7l-1.5,0M446.1,655.1l-1.2-1 -1.1-1.1M474.7,632.4l.7,1.4M472.4,642l-1.4,.7 -1.6,.1 -1.5,.4M466.4,643l-1.5-.2 -1.5-.4M461.8,642.4l-1.5,.3M458.7,642.7l-1.5-.1M442.3,633.7l-.4-1.5M442.4,629.1l.7-1.2M444.4,627l1.3-.8M447.1,625.5l1.5-.5M450.1,624.7l1.5-.2 1.6-.1 1.5,.2 1.5,.3M469.9,647.9l.4,1.5M470.4,650.9l.1,1.6M471,655.5l-.3,1.6M468.9,659.6l-.9,1.2M465.6,662.8l-1.4,.7M455.8,662.4l-.7-1.3M454.3,637.5l1.2,.9M458.7,641.7l1.2,1M462.2,644.7l1.3,.9 1.2,1M465.6,647.8l1.5,.6M468.5,649l1.3,.9M474.1,654.3l.4,1.5 -.2,1.5 -.6,1.5M465.9,663l-1.6-.2 -1.4-.7M459.4,657.3l-.6-1.5M457.5,653l-.5-1.5M456.4,650.1l-1-1.2 -.6-1.5 -.2-1.5M448,635.4l-.9-1.2 -.7-1.4 -.6-1.5 -.6-1.4M446.8,625.6l1.1-.5 1.1-.4 1.3-.5 1.5-.4 1.4-.4 1.5-.2M456.3,623.3l1.4,.6M467.6,633.6l.9,1.3M477.6,651.7l-.9,1.2M475.9,654.3l-.9,1.2 -1.1,1.2 -.9,1.2M466.7,664.6l-.9,1.3 -.9,1.3 -1.1,1.1M462.6,669.2l-1.4,.6M447.3,663.2l-.5-1.4M450,650l.7-1.4M462.2,636.9l1.4-.8M477.6,633.9l.3,1.5M476.8,647.8l0,1.5 .3,1.5 -.2,1.6M474,662l-1.4,.8 -1.2,.9M468.4,664.5l-1.5,.6 -1.3,.8 -1.3,.9 -1.2,.9 -1.5,.5M456.3,666l-.7-1.3 -1.1-1.1 -1.2-1.1 -.7-1.3M447.7,653.3l-.8-1.2M440.6,641.6l-.9-1.3M439.6,632.9l1-1.2M443.3,630.3l1.6,.1 1.5,0M448,630.5l1.5,.5 1.5,.1 1.6,0 1.5,.1 1.6-.2 1.5,.2 1.6,0M475.5,635.8l.4,1.5M474.2,643.1l-1,1.2M471.9,645.2l-1.3,.8M467.9,647.5l-1.1,1.1M465.8,649.8l-1.1,1.1 -1.3,.8M461.9,652.2l-1.4,.6M443.6,659l-1.2-1 -1.2-1M439.7,652.7l.2-1.5M443.2,646l1.4-.6 1.5-.5 1.4-.7M457.4,640l1.4-.6" fill="none" stroke="#30d8ff" stroke-width="1.0" stroke-linejoin="round" stroke-linecap="round"/>
<path d="M451.6,644.2l.6,1.4M452.4,647.1l0,1.6 -.7,1.4 -.9,1.3M446.9,653.7l-1.5,.3M439.9,651.2l-1.3-.9M438,648.9l-.3-1.5M438.4,644.4l.9-1.3M445,641.8l1.4,.8M447.6,643.6l.8,1.3M449.9,647.6l.6,1.5M443.6,659.6l-1.5,.3M437.4,649l.6-1.4M438.6,644.5l.6-1.4M442.6,640l1.2-1M444.9,637.9l1.2-1M454.5,633.7l1.5,.3 1.2,1M458.4,636l1.5,.5M462.7,637.8l1.4,.6M469.8,641l1.5,.4M477.4,642.3l1.5,.2M476.4,631l-1.4-.6M473.5,629.9l-1.5-.4 -1.5-.2M457.5,634.2l-1.3,.7M454.8,635.6l-1.4,.7M437.3,645.1l-1.2,.9M439.6,658.5l1.4,.5 1.5,.4 1.5,.4M453.2,655.2l.4-1.4M454.1,650.7l-.2-1.6 -.8-1.3M449.8,634.7l.7-1.4 .8-1.3M456.8,630.7l1.3,.9M459.3,632.6l1,1.3M461.7,638.3l.5,1.4 .2,1.6M463.2,642.6l.6,1.4M465.4,646.7l.3,1.5M469,656.8l.5,1.5 .6,1.5M470.1,661.3l.3,1.5 -.1,1.6M456.3,672.1l-1-1.1M454.1,663.5l.5-1.4M456.1,657.7l.4-1.5M457,653.1l.5-1.5M458.7,645.6l.7-1.4M461.1,641.6l1.4-.8M474.7,643l.6,1.5 .2,1.5M470.5,651.4l-1.5,.4M456.9,654.3l-1.5,.2M447.7,655.3l-1.6-.2M443.8,653l-.8-1.3M441.5,649l-.5-1.4M441,646l.5-1.4M452.8,636.8l1.4-.5M455.6,635.6l1.4-.8M458.4,634.1l1.3-.7M469.5,629.2l1.5,.5M472.3,630.4l1.3,.9M460.3,642.7l-1.6,0M442,630.6l.4-1.5M445.7,626.2l1.4-.7M448.6,625l1.5-.3M457.7,625.3l1.4,.8M460.2,627.1l1,1.3 1,1.1M465.1,633.2l.5,1.5M466.2,636.1l.3,1.5M467,639.1l.4,1.5M468.8,643.4l.3,1.5M469.7,646.3l.2,1.6M470.7,657.1l-.9,1.2 -.9,1.3M468,660.8l-1.2,1.1 -1.2,.9M455.1,661.1l-1.1-1.1M447.7,653.2l-1.2-1 -.7-1.3M443.3,649l-.8-1.4M442,646.2l-.2-1.6M459.9,642.7l1,1.2M464.7,646.6l.9,1.2M471,650.9l1.2,1M473.7,658.8l-.9,1.2M467.4,662.7l-1.5,.3M445.2,629.9l-.7-1.4M445,626.6l.8-.5 1-.5M458.9,624.8l.9,1.3M460.9,627.2l1,1.2M471.7,638.3l1.1,1.1M478.5,650.4l-.9,1.3M476.7,652.9l-.8,1.4M459.8,670.5l-1.5,.5M456.8,671l-1.5-.6M454,669.6l-1.2-1M446.7,658.7l.4-1.6M448.9,652.9l.4-1.5M457,640.1l1.2-.9M463.6,636.1l1.1-1.1 1.3-.9M467.2,633.2l1.2-1.1M475.6,631.5l1.2,1 .8,1.4M477.9,635.4l-.1,1.6M477.6,638.5l0,1.6 -.3,1.5M477.1,643.1l-.2,1.6 .1,1.5M469.9,664.1l-1.5,.4M446.9,652.1l-1-1.2M445.5,649.3l-.8-1.3 -1-1.2M441.9,630.9l1.4-.6M469.5,631.4l1.6,.3 1.4,.6 1.2,1M474.8,634.4l.7,1.4M460.5,652.8l-1.6,.2M454.8,655.1l-1.3,.9M439.9,651.2l.5-1.5 .6-1.4 1-1.2M462.9,637.1l1.5-.3 1.5-.3" fill="none" stroke="#70f4e0" stroke-width="1.0" stroke-linejoin="round" stroke-linecap="round"/>
<path d="M450.8,651.4l-1.1,1M442.5,652.8l-1.1-1.1M443.5,641.5l1.5,.3M450.5,649.1l.2,1.5M446.5,658.3l-1.4,.7 -1.5,.6M440.2,641.9l1-1.1M459.9,636.5l1.4,.7M468.3,640.4l1.5,.6M470.5,629.3l-1.6,.2M460.4,633l-1.4,.6 -1.5,.6M444,659.8l1.6-.2 1.5,0 1.5-.3 1.4-.8M451.3,657.6l1.1-1 .8-1.4M452.4,646.4l-.2-1.5M458.1,631.6l1.2,1M460.5,635.4l.4,1.5 .8,1.4M465.7,648.2l.7,1.4M462.5,640.8l1.4-.5M468.4,639.4l1.6,.1M473.9,641.7l.8,1.3M473.3,650l-1.4,.8 -1.4,.6M467.5,652.2l-1.4,.6M458.4,654l-1.5,.3M455.4,654.5l-1.5,.5 -1.6,.1M442.1,650.5l-.6-1.5M441,647.6l0-1.6M444.4,640.9l1.4-.7M451.4,637.5l1.4-.7M465.1,630.2l1.3-.7M475.4,633.8l.2,1.5M475.7,636.9l-.5,1.5 -.7,1.3M473.6,641l-1.2,1M457.2,642.6l-1.4-.7M445.4,638.8l-1.3-.9M443.1,627.9l1.3-.9M465.6,634.7l.6,1.4M467.4,640.6l.7,1.3M470.3,649.4l.1,1.5M456.9,663.6l-1.1-1.2M443.4,640.3l.9-1.3M451.4,636.5l1.5,.2 1.4,.8M456.6,639.5l1.3,.9M467.1,648.4l1.4,.6M469.8,649.9l1.2,1M454.6,645.9l-.8-1.3M444.5,628.5l-.5-1.2 .4-.3 .6-.4M461.9,628.4l1.1,1.1M466.5,632.5l1.1,1.1M472.8,639.4l1.3,.8M476.2,642.5l1.4,.7M473,657.9l-1,1.2 -1.2,1M469.7,661.2l-1.3,.8 -.9,1.3 -.8,1.3M446.8,661.8l-.1-1.6M449.3,651.4l.7-1.4M451.6,647.3l.8-1.3M459.6,638.4l1.2-.9M468.4,632.1l1.3-.8 1.5-.5M472.7,630.5l1.5,.4 1.4,.6M471.4,663.7l-1.5,.4M443,645.4l-.5-1.5M458.8,631.2l1.5,.2M466.4,631.4l1.6,.1 1.5-.1M469.3,646.8l-1.4,.7M466.8,648.6l-1,1.2M457.5,653.5l-1.4,.9 -1.3,.7M452.1,656.6l-1.3,.9M448.1,659.1l-1.5,.4 -1.5-.1 -1.5-.4M447.5,644.2l1.4-.6 1.4-.6M453.1,641.7l1.3-.9M455.8,640.3l1.6-.3M465.9,636.5l1.2-1" fill="none" stroke="#c8f850" stroke-width="1.0" stroke-linejoin="round" stroke-linecap="round"/>
<path d="M452.2,645.6l.2,1.5M437.9,645.8l.5-1.4M440.5,642.2l1.5-.6 1.5-.1M438.4,646.1l.2-1.6M447.4,636.1l1.3-.9 1.3-.7M465.5,639l1.4,.8M471.3,641.4l1.5,.4M467.4,629.7l-1.5,.5M463.1,631.5l-1.2,1 -1.5,.5M453.4,636.3l-1.5,.3M443.9,641.2l-1.5,.4M441,642.3l-1.1,1.1 -1.4,.7M453.1,647.8l-.7-1.4M451.3,642l-.5-1.5M449.5,637.7l-.2-1.5 .5-1.5M460.3,633.9l.2,1.5M470.1,659.8l0,1.5M456.5,656.2l.4-1.5M460.1,642.8l1-1.2M465.3,639.6l1.6-.3M460,653.7l-1.6,.3M442.3,643.2l1-1.2M457,634.8l1.4-.7M459.7,633.4l1.4-.8M467.9,629.1l1.6,.1M463.4,642.4l-1.6,0M451.4,640.5l-1.5-.5 -1.5-.3M464.1,632l1,1.2M466.5,637.6l.5,1.5M449.7,655.5l-1.1-1.1 -.9-1.2M444.5,649.9l-1.2-.9M445.5,638l1.3-.8M457.9,640.4l.8,1.3M472.8,660l-1,1.2 -1.4,.7 -1.5,.5 -1.5,.3M458.8,655.8l-.7-1.4 -.6-1.4M464.1,630.6l1.3,.8 1.1,1.1M470.8,660.1l-1.1,1.1M450.7,648.6l.9-1.3M452.4,646l.2-1.5M453.5,643.2l1.1-1.1 1.3-.8M458.2,639.2l1.4-.8M460.8,637.5l1.4-.6M466,634.1l1.2-.9M471.2,630.8l1.5-.3M477.3,641.6l-.2,1.5M452,659.7l-1.1-1 -.7-1.4M449.6,655.9l-1-1.3 -.9-1.3M460.3,631.4l1.5,.4M463.3,631.5l1.6-.2 1.5,.1M475.9,637.3l-.1,1.5M475.1,641.8l-.9,1.3M453.5,656l-1.4,.6M450.8,657.5l-1.3,.8 -1.4,.8M454.4,640.8l1.4-.5M460.2,638.6l1.4-.6 1.3-.9" fill="none" stroke="#f8e820" stroke-width="1.0" stroke-linejoin="round" stroke-linecap="round"/>
<path d="M450.5,652.1l0,1.6M447.6,657.3l-1.1,1M439.2,643.1l1-1.2M441.2,640.8l1.4-.8M443.8,639l1.1-1.1M446.1,636.9l1.3-.8M461.3,637.2l1.4,.6M474.3,642l1.6,0M456.2,634.9l-1.4,.7M449.2,638l-1.4,.7M446.5,639.6l-1.2,1M450,658.5l1.3-.9M451.4,643.5l-.1-1.5M456.9,654.7l.1-1.6M471.5,639.8l1.3,.8 1.1,1.1M441.5,644.6l.8-1.4M445.8,640.2l1.4-.5 1.4-.7M450,638.3l1.4-.8M454.2,636.3l1.4-.7M461.1,632.6l1.3-.8M463.7,631l1.4-.8M471,629.7l1.3,.7M473.6,631.3l1.1,1.1M474.5,639.7l-.9,1.3M455.8,641.9l-1.5-.4 -1.5-.5 -1.4-.5M463.3,630.7l.8,1.3M452.7,659.1l-1-1.2M442.5,647.6l-.5-1.4M448.3,636.6l1.5-.1 1.6,0M455.5,638.4l1.1,1.1M452.2,641.9l-.9-1.3M448.5,636.9l-.5-1.5M446.7,660.2l0-1.5M447.9,655.8l.3-1.5 .7-1.4M452.6,644.5l.9-1.3M455.9,641.3l1.1-1.2M443.7,646.8l-.7-1.4M475.8,638.8l-.2,1.6M458.9,653l-1.4,.5M442,647.1l1.2-1.1M451.7,642.4l1.4-.7" fill="none" stroke="#ff8c10" stroke-width="1.0" stroke-linejoin="round" stroke-linecap="round"/>
<path d="M450.6,643l1,1.2M449.7,652.4l-1.3,.8 -1.5,.5M439.3,643.1l1.2-.9M450.5,653.7l-.7,1.4 -1,1.2M472.8,641.8l1.5,.2M465.9,630.2l-1.3,.8 -1.5,.5M451.9,636.6l-1.4,.6 -1.3,.8M447.8,638.7l-1.3,.9M445.3,640.6l-1.4,.6M442.4,641.6l-1.4,.7M452.2,644.9l-.8-1.4M450.8,640.5l-.8-1.4 -.5-1.4M452.3,655.1l-1.5,0 -1.6,.2 -1.5,0M443.3,642l1.1-1.1M448.6,639l1.4-.7M462.4,631.8l1.3-.8M448.4,639.7l-1.5-.6 -1.5-.3M462.2,629.5l1.1,1.2M451.7,657.9l-.9-1.3 -1.1-1.1M441.8,644.6l.4-1.5 .6-1.4 .6-1.4M444.3,639l1.2-1M446.8,637.2l1.5-.6M453.8,644.6l-.9-1.3 -.7-1.4M451.3,640.6l-.8-1.3 -1-1.2 -1-1.2M463,629.5l1.1,1.1M474.1,640.2l1.2,1 .9,1.3M447.1,657.1l.8-1.3M450.2,657.3l-.6-1.4M442.5,643.9l-.7-1.3 -1.2-1M461.8,631.8l1.5-.3M475.6,640.4l-.5,1.4M450.3,643l1.4-.6M458.8,639.4l1.4-.8" fill="none" stroke="#ff2a00" stroke-width="1.0" stroke-linejoin="round" stroke-linecap="round"/>
<text x="458.0" y="611.2" font-size="10.8" text-anchor="middle" textLength="39.0" lengthAdjust="spacingAndGlyphs" fill="#231f20" stroke="#231f20" stroke-width="0.12">C57/A-E</text>
<rect x="497.8" y="616.6" width="76.9" height="63.0" fill="#000080"/>
<circle cx="536.2" cy="648.1" r="25.9" fill="none" stroke="#8080c8" stroke-width="0.5"/>
<circle cx="536.2" cy="648.1" r="17.1" fill="none" stroke="#8080c8" stroke-width="0.5"/>
<circle cx="536.2" cy="648.1" r="8.5" fill="none" stroke="#8080c8" stroke-width="0.5"/>
<line x1="510.4" y1="648.1" x2="562.1" y2="648.1" stroke="#b8b8f0" stroke-width="0.6"/>
<line x1="536.2" y1="622.2" x2="536.2" y2="674.0" stroke="#8888d0" stroke-width="0.5"/>
<path d="M539.7,656.3l-1.2-1 -.9-1.3 -.9-1.2 -1-1.3 -1.2-1 -.9-1.2 -.8-1.3 -.7-1.4 -.4-1.5 -.7-1.4 -.8-1.4 -.4-1.4 -.8-1.4 -.6-1.4 -.4-1.5 -.2-1.6 .8-1.3 1.1-1.1 1.4-.7 1.5-.3 1.5,.3 1.5,.4 1.4,.8 1.3,.7 1.4,.7 1.4,.8 1.3,.8 1.4,.6 1.5,.5 1.3,.8 1.5,.6 1.4,.6 1.2,1 .8,1.4 .3,1.5 -.1,1.5 -.4,1.5 -.9,1.3 -.7,1.4 -.8,1.3 -.8,1.4 -1,1.1 -.7,1.4 -1,1.2 -1.1,1.1 -1.5,.6 -1.5-.1 -1.5-.4 -1.5-.3 -1.6,0 -1.5,.3 -1.3,.8 -1,1.3 -.7,1.3 -.9,1.3 -.7,1.4 -.5,1.5 -.6,1.4 -.9,1.3 -1.3,.7 -1.6,.1 -1.5-.1 -1.4-.7 -1.2-1 -.9-1.2 -.8-1.4 -.4-1.5 .1-1.5 .3-1.6 .2-1.5 .8-1.3 .5-1.5 0-1.6 .6-1.4 .8-1.4 .3-1.5 .4-1.5 .1-1.5 .1-1.6 .3-1.5 .8-1.3 1.2-1.1 1.2-1 1.3-.8 1.4-.6 1.5-.6 1.5-.2 1.6-.1 1.4,.5 1.3,.9 .7,1.4 1,1.2 1.3,.8 1,1.2 1.1,1.1 1.1,1 1.1,1.2 1.1,1.1 1,1.1 1.4,.8 1.1,1.1 1,1.2 1.2,.9 .8,1.4 1.1,1.1 1.4,.7 1.4,.5 1.6,.2 1.5,0 1.2-.7 .3-1.1 .3-1.3 .3-1.4 .1-1.5 0-1.5 -.2-1.5 -.6-1.5 -.8-1.3 -1.1-1.1 -1.2-1 -1.1-1.1 -1.2-1 -1.1-1.2 -1-1.1 -1.4-.6 -1.3-.9 -1.4-.8 -1.3-.8 -1.2-1 -1.2-.9 -1.4-.8 -1.1-1.1 -1.3-.9 -1.1-1 -1.3-.9 -1.5-.5 -1.5-.2 -1.6,.4 -1.4,.5 -1.3,.8 -1.3,.9 -1,1.2 -1,1.2 -1.1,1.1 -.5,1.5 .2,1.5 .1,1.5 -.4,1.5 -.3,1.6 0,1.5 -.2,1.6 .3,1.5 -.2,1.6 .2,1.5 -.2,1.5 0,1.6 0,1.6 0,1.5 .2,1.5 .7,1.4 1.1,1.2 1.5,.4 1.5,.1 1.5-.4 1.2-1 .6-1.4 .8-1.4 .6-1.4 .7-1.4 .8-1.3 .8-1.4 .7-1.4 .8-1.3 .8-1.3 .6-1.4 .5-1.5 .2-1.5 -.3-1.6 -.4-1.5 -.6-1.4 -.5-1.5 -1-1.1 -1.3-.9 -1.5-.5 -1.4-.6 -1.6,.2 -1.5,.4 -1.3,.7 -1,1.3 -.9,1.2 -.7,1.4 .3,1.6 .4,1.5 .1,1.5 .2,1.5 -.1,1.6 .3,1.5 .2,1.6 .5,1.4 .1,1.6 -.4,1.4 0,1.6 0,1.5 .1,1.6 .3,1.5 -.1,1.6 -.1,1.5 -.4,1.5 -.4,1.5 -.8,1.4 -.9,1.2 -1.4,.8 -1.4,.6 -1.6-.2 -1.5-.4 -1.1-.9 -1.1-1 -1.1-1.1 -1.1-1.1 -.9-1.3 -.7-1.4 -.2-1.5 .2-1.5 .1-1.6 .8-1.4 1-1.1 1.4-.8 1.2-1 1-1.2 1.3-.8 1.5-.3 1.5-.1 1.6-.2 1.5-.4 1.5-.1 1.5,.5 1.5,.4 1.5,.2 1.6-.2 1.5-.1 1.6,.1 1.5-.3 1.5-.2 1.6-.1 1.5-.3 1.5-.5 1.5-.3 1.6,0 1.4,.5 1.4,.8 1.2,.9 1,1.2 .8,1.4 .6,1.4 .1,1.5 -.5,1.5 -.8,1.3 -1.3,.9 -1.4,.6 -1.5,.4 -1.5,.5 -1.4,.6 -1.5,.6 -1.5,.1 -1.6,.2 -1.4,.5 -1.5,.4 -1.5,.7 -1.5,.2 -1.5,.5 -1.4,.5 -1.5,.5 -1.4,.7 -1.5,.5 -1.5,.4 -1.5-.1 -1.5-.2 -1.6-.4 -1.4-.6 -1.4-.6 -1.1-1.1 -.9-1.2 -.4-1.5 -.3-1.6 -.3-1.5 .4-1.5 .4-1.5 1-1.2 1.2-1 .7-1.4 1.1-1.1 .7-1.4 .8-1.3 .9-1.3 .7-1.4 .6-1.4 .9-1.3 1-1.1 1-1.2 .6-1.5 .9-1.3 1.1-1.1 1.1-1 1.1-1.1 1-1.2 .8-1.3 .8-1.3 1-1.2 1-1.2 1.3-1 1.3-.7 1.5-.3 1.6,0 1.5,.4 1.4,.7 1,1.2 .8,1.3 .6,1.4 .3,1.6 -.7,1.4 -.2,1.5 0,1.5 -.1,1.6 .2,1.5 -.2,1.6 .1,1.5 -.1,1.6 -.2,1.5 0,1.6 -.7,1.4 -1,1.1 -1.3,.9 -1.4,.6 -1.6,.2 -1.4-.6 -1.2-1 -1-1.2 -.8-1.3 -.5-1.5 -.3-1.5 -.4-1.5 0-1.6 .5-1.4 .6-1.4 0-1.6 -.2-1.5 -.4-1.5 -1-1.2 -1.1-1.1 -1.3-.8 -1.5-.4 -1.5,.3 -1.6,.3 -1.3,.8 -1.2,1 -.9,1.3 -.4,1.5 -.2,1.5 0,1.6 0,1.5 .3,1.5 0,1.6 .3,1.5 .4,1.5 .5,1.5 .8,1.3 .9,1.3 1,1.2 1.4,.6 1.6,.2 1.5-.4 1.2-1 1.2-1 .7-1.4 .4-1.5 .4-1.5 .6-1.4 -.1-1.6 0-1.5 -.1-1.6 .3-1.5 .3-1.6 .5-1.4 .7-1.4 .7-1.4 .5-1.5 .5-1.4 -.1-1.6 -.4-1.5 -.8-1.4 -1-1.2 -.9-1.2 -1.3-.9 -1.4,0 -1.5,0 -1.6,.1 -1.3,.8 -1.2,1.1 -.8,1.3 0,1.5 -.1,1.6 -.4,1.5 -.2,1.5 0,1.6 .5,1.5 -.1,1.5 -.3,1.5 -.4,1.5 -.1,1.6 .1,1.5 -.5,1.5 -.1,1.6 -.5,1.4 -.6,1.5 -.4,1.5 0,1.5 0,1.6 .3,1.5 .9,1.2 1.2,1.1 1.4,.7 1.5,.3 1.5-.1 1.6-.3 1-1.2 1-1.2 .6-1.4 .3-1.5 -.1-1.6 -.3-1.5 -.1-1.6 -.5-1.4 .1-1.6 -.4-1.5 -.2-1.5 -.7-1.4 -1-1.2 -1.4-.7 -1.5-.2 -1.6,.1 -1.5,.5 -1.3,.8 -.8,1.3 -.7,1.4 -.5,1.5 -.2,1.5 -.2,1.6 -.9,1.2 -.8,1.4 -.6,1.4 -.4,1.5 -.1,1.6 .4,1.5 .5,1.5 .8,1.3 1.2,1 1.3,.9 1.4,.5 1.6-.1 1.5-.1 1.6,0 1.3-.8 1.2-1 1-1.2 .7-1.4 .4-1.5 .6-1.4 .7-1.4 .5-1.5 .7-1.3 .3-1.6 0-1.5 .6-1.5 1-1.1 1.4-.8 1.3-.7 1.6,0 1.5,.3 1.5,.4 1.5,.3 1.4,.7 1.6,.3 1.1,1.1 1.3,.9 .8,1.3 .7,1.4 .5,1.4 -.1,1.6 -.5,1.5 -.6,1.4 -.8,1.4 -.6,1.4 -.6,1.4 -1.2,1.1 -1.4,.6 -1.6,0 -1.5,.1 -1.5,.5 -1.5,.2 -1.6,.1 -1.5,.4 -1.5,0 -1.5,.4 -1.6,.1 -1.5,.4 -1.5,.3 -1.6,.3 -1.5-.1 -1.6,.1 -1.5,.4 -1.5,.1 -1.6,0 -1.5-.5 -1.1-1 -1-1.2 -.2-1.6 -.1-1.5 .5-1.5 .8-1.3 .9-1.3 1.1-1.1 1.4-.7 1.4-.6 1.5-.4 1.6-.1 1.5,.2 1.5,.5 1.3,.8 1.3,.9 1.3,.7 1.3,.9 1.4,.6 1.1,1.1 1.4,.8 1.3,.9 1.3,.8 1.2,1 1.4,.7 1,1.1 1.3,.9 1.5,.4 1.5,.1 1.5-.6 1.3-.7 1-1.2 .7-1.3 .6-1.3 .5-1.2 .5-1.4 .5-1.4 .3-1.4 .2-1.6 .2-1.5 -.3-1.5 -.5-1.5 -.9-1.3 -1.2-.9 -1.5-.3 -1.6,0 -1.4,.6 -1.4,.7 -1.3,.8 -1.5,.5 -1.5-.4 -1.5-.1 -1.6,.3 -1.5,.4 -1.2,.9 -1.2,1 -.9,1.3 -.9,1.2 -.5,1.5 0,1.5 .6,1.5 1,1.1 1,1.2 1.3,.9 1.4,.7 1.5,.3 1.6,.2 1.5-.1 1.5-.4 1.4-.8 1.3-.9 1.2-.8 1.1-1.2 .9-1.2 .4-1.5 -.1-1.6 -.7-1.4 -.7-1.4 -.7-1.4 -.9-1.2 -1.3-.9 -1.5-.2 -1.5-.4 -1.2-.9 -1.3-.9 -1.5-.3 -1.6,0 -1.5,0 -1.5,.4 -1.4,.6 -1.4,.9 -1,1.2 -.9,1.2 -1.1,1.1 -1.2,1 -1.4,.8 -1.1,1 -1.2,1 -1.2,1 -1.5,.5 -1.2,1 -1.5,.6 -1.3,.7 -1.2,1 -1.3,.8 -1.2,1.1 -1.1,1.1 -.9,1.2 -.7,1.4 0,1.3 .9,1 1,1.1 1.3,1 1.4,.5 1.5,.3 1.4,.7 1.6,.2 1.3,.7 1.5,.5 1.5,.3 1.6,.2 1.5-.2 1.5-.3 1.4-.8 1-1.1 .6-1.5 -.2-1.5 .4-1.5 .6-1.5 .6-1.4 .1-1.6 .6-1.4 .5-1.5 .5-1.4 .8-1.4 .6-1.4 .1-1.5 .4-1.5 .5-1.5 .5-1.5 .4-1.5 -.3-1.5 -.6-1.5 -.7-1.3 -.8-1.4 -1.2-1 -1.5-.4 -1.5,.1 -1.4,.6 -1.4,.8 -1,1.2 -1,1.1 -1.4,.7 -1.2,1 -1.1,1.1 -.8,1.4 -.3,1.5 -.4,1.5 -.2,1.5 .3,1.6 .8,1.3 .8,1.3 1.2,1 1.4,.7 1.5,.3 1.6-.1 1.5-.3 1.3-.9 1.1-1 1-1.3 .8-1.3 .9-1.3 .4-1.5 .7-1.4 .6-1.4 .3-1.5 -.3-1.5 -.8-1.3 -1.2-1.1 -1.4-.5 -1.5-.4 -1.6,.1 -1.5,.5 -1.3,.9 -1,1.1 -1,1.2 -1.1,1.2 -1.1,1.1 -1.1,1 -1.1,1.1 -1.1,1.1 -.7,1.4 -.6,1.4 -.2,1.6 0,1.5 .5,1.5 .8,1.3 1.1,1.1 1.4,.7 1.6-.1 1.5,.1 1.6-.2 1.5-.4 1.5-.4 1.5-.2 1.6-.1 1.5-.2" fill="none" stroke="#12a8ff" stroke-width="1.0" stroke-linejoin="round" stroke-linecap="round"/>
<path d="M532.8,648l-.7-1.4 -.4-1.5M531.1,631.9l1.5-.3M537,633.1l1.3,.7 1.4,.7 1.4,.8 1.3,.8M546.6,638l1.5,.6 1.4,.6 1.2,1 .8,1.4 .3,1.5M551.3,646.1l-.9,1.3M548.9,650.1l-.8,1.4M547.1,652.6l-.7,1.4M545.4,655.2l-1.1,1.1M522.8,666.7l-1.2-1 -.9-1.2M519.5,661.6l.1-1.5M519.9,658.5l.2-1.5M522.8,649.8l.3-1.5M523.7,643.7l.3-1.5M529.9,637.4l1.5-.6M534.5,636.5l1.4,.5M544.5,645.8l1.1,1.1M549.1,649.9l1,1.2M553.2,654.5l1.4,.7M556,655.7l1.6,.2 1.5,0 1.2-.7 .3-1.1 .3-1.3 .3-1.4 .1-1.5 0-1.5 -.2-1.5 -.6-1.5M559.7,644.1l-1.1-1.1M551.6,637l-1.3-.9 -1.4-.8M545.2,632.6l-1.4-.8 -1.1-1.1 -1.3-.9 -1.1-1 -1.3-.9M531.7,628.9l-1.3,.9 -1,1.2M528.4,632.2l-1.1,1.1M526.5,656.3l.7,1.4M541.9,641.3l-.3-1.6M529.5,655.7l.1,1.6M529.7,661.9l-.4,1.5 -.4,1.5M524.4,668.9l-1.6-.2M521.3,668.3l-1.1-.9M519.1,666.4l-1.1-1.1M516,662.9l-.7-1.4M517.2,654.4l1.4-.8 1.2-1M543.5,649.8l1.5-.3 1.5-.5M552.4,650l1.2,.9M556.1,656.4l-.5,1.5M554.8,659.2l-1.3,.9M549.1,661.6l-1.4,.6 -1.5,.6M544.7,662.9l-1.6,.2M541.7,663.6l-1.5,.4 -1.5,.7 -1.5,.2 -1.5,.5M531.4,667.1l-1.5,.5M522.4,666.7l-1.4-.6M519.9,665l-.9-1.2M518.6,662.3l-.3-1.6 -.3-1.5 .4-1.5 .4-1.5 1-1.2M532,637.2l1.1-1M536,632.6l.8-1.3M537.8,630.1l1-1.2 1.3-1M550.1,633.5l-.7,1.4 -.2,1.5 0,1.5 -.1,1.6 .2,1.5 -.2,1.6 .1,1.5M548.2,650.2l-1,1.1M544.5,652.8l-1.6,.2M538.4,638.4l-.2-1.5 -.4-1.5M534.4,632.3l-1.5-.4M527.3,634.3l-.9,1.3 -.4,1.5 -.2,1.5M531.4,653.7l1.6,.2M539.9,636.5l.7-1.4 .7-1.4M541.8,632.2l.5-1.4 -.1-1.6M541.8,627.7l-.8-1.4M530,627.8l-.1,1.6 -.4,1.5M536.9,643.6l-.2-1.5 -.7-1.4M522.9,655.9l.5,1.5 .8,1.3M526.7,660.6l1.4,.5M532.8,660.9l1.3-.8 1.2-1M540.2,647.8l0-1.5M544.5,642.2l1.6,0 1.5,.3 1.5,.4 1.5,.3M552,643.9l1.6,.3 1.1,1.1M557.5,648.9l.5,1.4M557.9,651.9l-.5,1.5M556,656.2l-.6,1.4M554.8,659l-1.2,1.1M552.2,660.7l-1.6,0M549.1,660.8l-1.5,.5M546.1,661.5l-1.6,.1M541.5,662l-1.5,.4 -1.6,.1 -1.5,.4M530.7,663.5l-1.5,.4M522.2,658.2l.5-1.5M542.1,656.9l1.4,.8 1.3,.9 1.3,.8M559.6,657.3l.5-1.4 .5-1.4 .3-1.4 .2-1.6 .2-1.5 -.3-1.5 -.5-1.5 -.9-1.3 -1.2-.9M556.9,644.5l-1.6,0 -1.4,.6M552.5,645.8l-1.3,.8M549.7,647.1l-1.5-.4 -1.5-.1M540.5,657.3l1,1.2 1.3,.9 1.4,.7M548.8,660.5l1.5-.4M551.7,659.3l1.3-.9 1.2-.8M556.2,655.2l.4-1.5 -.1-1.6M554.4,647.9l-.9-1.2M550.7,645.6l-1.5-.4 -1.2-.9M536.8,646.2l-.9,1.2M524.5,655.4l-1.3,.7M522,657.1l-1.3,.8M519.5,659l-1.1,1.1 -.9,1.2M516.8,664l.9,1M518.7,666.1l1.3,1M521.4,667.6l1.5,.3M537.2,668.1l.6-1.5 -.2-1.5 .4-1.5M538.6,662.1l.6-1.4M540.9,654.8l.8-1.4M542.6,640.2l-.8-1.4M537.6,637.5l-1.4,.6M533.8,640.1l-1,1.1M529.3,654.1l1.2,1 1.4,.7M534,640.8l-1,1.1M525.5,656l.8,1.3 1.1,1.1" fill="none" stroke="#30d8ff" stroke-width="1.0" stroke-linejoin="round" stroke-linecap="round"/>
<path d="M534.5,650.5l-.9-1.2 -.8-1.3M532.6,631.6l1.5,.3M535.6,632.3l1.4,.8M551.7,644.6l-.4,1.5M549.7,648.8l-.8,1.3M544.3,656.3l-1.5,.6M532.2,659.8l-.9,1.3M530.6,662.5l-.5,1.5 -.6,1.4 -.9,1.3 -1.3,.7M519.9,663.1l-.4-1.5M519.6,660.1l.3-1.6M520.9,655.7l.5-1.5M521.4,652.6l.6-1.4M523.1,648.3l.4-1.5M524,642.2l.8-1.3 1.2-1.1M531.4,636.8l1.5-.2M537.9,639.3l1,1.2M545.6,646.9l1,1.1M548,648.8l1.1,1.1M526.4,640.9l0,1.5M526.3,653.3l0,1.5 .2,1.5M541.2,638.2l-.6-1.4M540.1,635.3l-1-1.1 -1.3-.9M536.3,632.8l-1.4-.6 -1.6,.2 -1.5,.4 -1.3,.7M528.8,645.1l.3,1.5M529.5,652.6l0,1.6 0,1.5M528.9,664.9l-.8,1.4 -.9,1.2M522.8,668.7l-1.5-.4M520.2,667.4l-1.1-1M518,665.3l-1.1-1.1M519.8,652.6l1-1.2 1.3-.8M541.9,649.9l1.6-.1M549.6,648.7l1.4,.5M554.6,652.1l.8,1.4M555.6,657.9l-.8,1.3M553.5,660.1l-1.4,.6 -1.5,.4M529.9,667.6l-1.5,.4 -1.5-.1M525.4,667.7l-1.6-.4M519,663.8l-.4-1.5M519.8,655l1.2-1M521.7,652.6l1.1-1.1M530,639.6l.9-1.3 1.1-1.1M535.2,633.9l.8-1.3M540.1,627.9l1.3-.7M549.2,644.1l-.1,1.6M537.3,644.4l0-1.6M537.8,641.4l.6-1.4M536.8,634.2l-1.1-1.1M525.8,640.2l0,1.5M526.1,643.2l0,1.6M530,653.1l1.4,.6M538.9,642.6l-.1-1.6M542.2,629.2l-.4-1.5M526.9,653.7l.3,1.5 .9,1.2 1.2,1.1M530.7,658.2l1.5,.3M533.7,658.4l1.6-.3M537.3,645.1l-.4-1.5M536,640.7l-1-1.2 -1.4-.7 -1.5-.2M522.5,654.4l.4,1.5M531.2,660.9l1.6,0M543.2,642.9l1.3-.7M550.6,643.2l1.4,.7M555.4,657.6l-.6,1.4M553.6,660.1l-1.4,.6M544.5,661.6l-1.5,.4M532.3,663.4l-1.6,.1M529.2,663.9l-1.5,.1M522.3,659.7l-.1-1.5M523.5,655.4l.9-1.3M546.1,659.4l1.2,1M553.9,645.1l-1.4,.7M546.7,646.6l-1.6,.3M544.2,660.1l1.5,.3 1.6,.2M553.5,646.7l-1.3-.9M535.9,647.4l-1.1,1.1 -1.2,1M527.2,653.8l-1.2,1M523.2,656.1l-1.2,1M516.8,662.7l0,1.3M517.7,665l1,1.1M524.3,668.6l1.6,.2 1.3,.7M541.7,653.4l.6-1.4M543.8,646l.4-1.5M543.3,641.5l-.7-1.3M541.8,638.8l-1.2-1M536.2,638.1l-1.4,.8 -1,1.2M532.8,641.2l-1.4,.7M528.5,652.8l.8,1.3M531.9,655.8l1.5,.3M542,648.4l.7-1.4 .6-1.4M542.5,641.3l-1.2-1.1M536.8,639.4l-1.5,.5 -1.3,.9M533,641.9l-1,1.2M529.8,645.4l-1.1,1M525,653l0,1.5M535,658.5l1.5-.4" fill="none" stroke="#70f4e0" stroke-width="1.0" stroke-linejoin="round" stroke-linecap="round"/>
<path d="M535.7,651.5l-1.2-1M531.7,645.1l-.7-1.4M528.4,638.1l-.4-1.5 -.2-1.6 .8-1.3 1.1-1.1 1.4-.7M534.1,631.9l1.5,.4M551.8,643.1l-.1,1.5M550.4,647.4l-.7,1.4M532.9,658.5l-.7,1.3M531.3,661.1l-.7,1.4M527.3,667.4l-1.6,.1 -1.5-.1 -1.4-.7M520.1,657l.8-1.3M521.4,654.2l0-1.6M522,651.2l.8-1.4M535.9,637l1.3,.9M542.3,643.6l1.1,1 1.1,1.2M529.4,631l-1,1.2M527.3,633.3l-.5,1.5 .2,1.5M526.7,639.3l-.3,1.6M526.2,644l.3,1.5M539.8,647l.8-1.3M541.7,642.8l.2-1.5M541.6,639.7l-.4-1.5M540.6,636.8l-.5-1.5M537.8,633.3l-1.5-.5M530.5,633.5l-1,1.3M529.1,646.6l.2,1.6M529.9,658.8l-.1,1.6 -.1,1.5M527.2,667.5l-1.4,.8 -1.4,.6M529.7,649.5l1.5,.5M532.7,650.4l1.5,.2M548,648.7l1.6,0M555.4,653.5l.6,1.4 .1,1.5M550.6,661.1l-1.5,.5M526.9,667.9l-1.5-.2M523.8,667.3l-1.4-.6M521,666.1l-1.1-1.1M521,654l.7-1.4M534.2,635.1l1-1.2M549.1,645.7l-.2,1.5M548.9,648.8l-.7,1.4M542.9,653l-1.4-.6M538,647.4l-.3-1.5M537.3,642.8l.5-1.4M537.8,635.4l-1-1.2M535.7,633.1l-1.3-.8M532.9,631.9l-1.5,.3 -1.6,.3 -1.3,.8 -1.2,1M525.8,638.6l0,1.6M533,653.9l1.5-.4 1.2-1M539.4,637.9l.5-1.4M529.3,632.4l0,1.6 .5,1.5M537.7,648.1l-.5-1.4M526.2,642.7l-.5,1.5 -.2,1.5M523.6,649.9l-.6,1.4 -.4,1.5 -.1,1.6M528.1,661.1l1.6-.1 1.5-.1M540.2,646.3l.6-1.5M557.4,653.4l-.6,1.4 -.8,1.4M550.6,660.7l-1.5,.1M547.6,661.3l-1.5,.2M522.7,656.7l.8-1.3M529.8,651.3l1.6-.1M532.9,651.4l1.5,.5 1.3,.8M541,655.8l1.1,1.1M547.3,660.4l1.4,.7 1,1.1M551.2,646.6l-1.5,.5M545.1,646.9l-1.5,.4 -1.2,.9M547.3,660.6l1.5-.1M550.3,660.1l1.4-.8M554.2,657.6l1.1-1.2 .9-1.2M552.2,645.8l-1.5-.2M546.7,643.4l-1.5-.3M542.1,643.1l-1.5,.4M537.8,645l-1,1.2M532.2,650.3l-1.1,1M520.7,657.9l-1.2,1.1M520,667.1l1.4,.5M522.9,667.9l1.4,.7M539.9,657.7l.5-1.5M542.4,650.5l.4-1.5 .5-1.5 .5-1.5M543.9,643l-.6-1.5M540.6,637.8l-1.5-.4 -1.5,.1M541.6,649.9l.4-1.5M532,643.1l-1.1,1.2 -1.1,1.1M525,654.5l.5,1.5M530.4,659l1.5,.1" fill="none" stroke="#c8f850" stroke-width="1.0" stroke-linejoin="round" stroke-linecap="round"/>
<path d="M541.3,656.8l-1.5-.4M535.2,656.4l-1.3,.8 -1,1.3M540.2,641.3l1,1.2M546.6,648l1.4,.8M554.6,655.2l1.4,.5M527.1,637.8l-.4,1.5M526.4,642.4l-.2,1.6M526.3,650.1l0,1.6M527.2,657.7l1.1,1.2 1.5,.4 1.5,.1 1.5-.4M534.6,656.6l.8-1.4M539,648.3l.8-1.3M541.2,644.3l.5-1.5M529.5,634.8l-.9,1.2 -.7,1.4 .3,1.6M528.6,640.5l.1,1.5 .2,1.5M529.3,648.2l.5,1.4 .1,1.6 -.4,1.4M529.6,657.3l.3,1.5M528.2,649.6l1.5-.1M531.2,650l1.5,.4M535.8,650.4l1.5-.1M546.5,649l1.5-.3M523.5,650.1l.8-1.3 .9-1.3 .7-1.4 .6-1.4M548.9,647.2l0,1.6M541.5,652.4l-1.2-1M537.7,645.9l-.4-1.5M525.8,641.7l.3,1.5M536.9,651.5l.7-1.4M538.4,647.1l.6-1.4 -.1-1.6 0-1.5M538.8,641l.3-1.5 .3-1.6M529.5,630.9l-.2,1.5M529.8,635.5l-.1,1.5M529,640l-.1,1.6 .1,1.5 -.5,1.5M537.9,654.3l.3-1.5M526.9,641.3l-.7,1.4M525.5,645.7l-.2,1.6 -.9,1.2M535.3,659.1l1-1.2 .7-1.4M525.5,653l1.4-.7M531.4,651.2l1.5,.2M539.6,655.2l1.4,.6M542.4,648.2l-1.2,1 -.9,1.3M539.4,651.7l-.5,1.5M540.6,643.5l-1.4,.6M533.6,649.5l-1.4,.8M531.1,651.3l-1.2,1 -1.2,1M526,654.8l-1.5,.6M540.4,656.2l.5-1.4M542.3,652l.1-1.5M533.4,656.1l1.6-.1M537.8,654.8l1.1-1M539.9,652.5l.8-1.3M539.9,639.7l-1.5-.4 -1.6,.1M525.8,650l-.6,1.4M527.4,658.4l1.4,.7M533.5,658.9l1.5-.4" fill="none" stroke="#f8e820" stroke-width="1.0" stroke-linejoin="round" stroke-linecap="round"/>
<path d="M536.7,652.8l-1-1.3M531,643.7l-.8-1.4 -.4-1.4 -.8-1.4M542.8,656.9l-1.5-.1M538.3,656.1l-1.6,0M526,639.8l1.2-1M528.5,638l1.4-.6M537.2,637.9l.7,1.4M538.9,640.5l1.3,.8M527,636.3l.1,1.5M534,658l.6-1.4M535.4,655.2l.6-1.4M536.7,652.4l.8-1.3M538.3,649.7l.7-1.4M540.6,645.7l.6-1.4M528.2,639l.4,1.5M528.9,643.5l-.1,1.6M522.1,650.6l1.5-.3 1.5-.1M526.7,650l1.5-.4M534.2,650.6l1.6-.2M538.9,650.4l1.5-.3M522.8,651.5l.7-1.4M527.4,643.4l1-1.1 1-1.2 .6-1.5M538.5,648.9l-.5-1.5M538.4,640l0-1.6M526.8,647.8l.5,1.5M529,651.9l1,1.2M538,648.6l.4-1.5M529.7,637l-.3,1.5M528.5,644.6l-.1,1.6M526.9,650.6l0,1.5M538.2,652.8l-.1-1.6 -.3-1.5M537.2,646.7l.1-1.6M527.7,640l-.8,1.3M524.4,648.5l-.8,1.4M537,656.5l.4-1.5M540.8,644.8l1-1.1M524.4,654.1l1.1-1.1M528.3,651.7l1.5-.4M539.5,656.2l1,1.1M545.2,643.1l-1.6,0 -1.5,0M539.2,644.1l-1.4,.9M544.2,644.5l-.3-1.5M531.4,641.9l-1.2,1 -1.1,1.1 -.8,1.4M538.9,653.8l1-1.3M543.3,645.6l.3-1.5M543.3,642.6l-.8-1.3M541.3,640.2l-1.4-.5M525.2,651.4l-.2,1.6M531.9,659.1l1.6-.2M536.5,658.1l1.5-.2 1.6-.1 1.5-.2" fill="none" stroke="#ff8c10" stroke-width="1.0" stroke-linejoin="round" stroke-linecap="round"/>
<path d="M539.7,656.3l-1.2-1 -.9-1.3 -.9-1.2M529,639.5l-.6-1.4M539.8,656.4l-1.5-.3M536.7,656.1l-1.5,.3M527.2,638.8l1.3-.8M541.2,642.5l1.1,1.1M526.5,645.5l-.2,1.6 .2,1.5 -.2,1.5M526.3,651.7l0,1.6M532.8,659l1.2-1M536,653.8l.7-1.4M537.5,651.1l.8-1.4M525.1,650.2l1.6-.2M537.3,650.3l1.6,.1M540.4,650.1l1.5-.2M526.5,644.7l.9-1.3M540.3,651.4l-1-1.2 -.8-1.3M526.1,644.8l.3,1.5 .4,1.5M527.3,649.3l.8,1.3 .9,1.3M535.7,652.5l1.2-1M537.6,650.1l.4-1.5M529.4,638.5l-.4,1.5M528.4,646.2l-.5,1.4 -.6,1.5 -.4,1.5M526.9,652.1l0,1.6M529.3,657.5l1.4,.7M532.2,658.5l1.5-.1M535.3,658.1l1-1.2 1-1.2 .6-1.4M537.8,649.7l-.1-1.6M532.1,638.6l-1.6,.1 -1.5,.5 -1.3,.8M537.4,655l.6-1.4 .7-1.4 .5-1.5 .7-1.3 .3-1.6M541.8,643.7l1.4-.8M526.9,652.3l1.4-.6M535.7,652.7l1.3,.9 1.3,.7 1.3,.9M540.3,650.5l-.9,1.2M538.9,653.2l0,1.5 .6,1.5M528.7,653.3l-1.5,.5M539.3,659.1l.6-1.4M528.3,645.4l-.3,1.5 -.4,1.5 -.2,1.5 .3,1.6 .8,1.3M535,656l1.5-.3 1.3-.9M540.7,651.2l.9-1.3M543.6,644.1l-.3-1.5M528.7,646.4l-1.1,1.1 -1.1,1.1 -.7,1.4M528.8,659.1l1.6-.1" fill="none" stroke="#ff2a00" stroke-width="1.0" stroke-linejoin="round" stroke-linecap="round"/>
<text x="536.2" y="611.2" font-size="10.8" text-anchor="middle" textLength="56.0" lengthAdjust="spacingAndGlyphs" fill="#231f20" stroke="#231f20" stroke-width="0.12">FAD/vehicle</text>
<rect x="577.2" y="616.6" width="76.0" height="63.0" fill="#000080"/>
<circle cx="615.2" cy="648.1" r="25.9" fill="none" stroke="#8080c8" stroke-width="0.5"/>
<circle cx="615.2" cy="648.1" r="17.1" fill="none" stroke="#8080c8" stroke-width="0.5"/>
<circle cx="615.2" cy="648.1" r="8.5" fill="none" stroke="#8080c8" stroke-width="0.5"/>
<line x1="589.3" y1="648.1" x2="641.1" y2="648.1" stroke="#b8b8f0" stroke-width="0.6"/>
<line x1="615.2" y1="622.2" x2="615.2" y2="674.0" stroke="#8888d0" stroke-width="0.5"/>
<path d="M617.4,657l-1.3-.8 -1.2-1 -.9-1.3 -.6-1.4 -.4-1.5 0-1.6 .2-1.5 .9-1.3 1.1-1 1.1-1.2 1.3-.8 1.3-.8 1.3-.9 1.4-.6 1.4-.7 1-1.2 .6-1.5 .6-1.4 .2-1.6 .2-1.5 -.4-1.5 -.9-1.3 -1.2-.9 -1.4-.8 -1.5-.5 -1.4-.5 -1.6,.2 -1.4,.6 -1.4,.7 -1.3,.9 -1.4,.6 -1.4,.7 -1.5,.4 -1.2,1 -1.2,1 -1.4,.6 -1.2,.9 -1.6,.4 -1.4,.6 -1.3,.8 -1.2,1 -1.1,1.1 -.9,1.3 -.7,1.4 -.5,1.4 -.4,1.5 0,1.6 .4,1.5 .4,1.5 .9,1.3 1.4,.7 1.5,.3 1.5,0 1.3-.8 1.3-.9 1.5-.4 1.5-.7 1.5-.3 1.5,.2 1.6,.1 1.5,.4 1.5,.1 1.6,.1 1.5-.2 1.5,.3 1.3,.9 1.4,.7 1.5,.4 1.4,.6 1.6,.1 1.5-.3 1.2-1 .7-1.4 .3-1.5 -.2-1.5 -.6-1.5 -1-1.1 -1.1-1.1 -1.2-1 -1.1-1.1 -1.4-.7 -1-1.2 -1.3-.9 -.7-1.4 -.8-1.3 -1.3-.9 -1.1-1.1 -.9-1.2 -1-1.2 -1.3-.9 -1.4-.7 -1.5-.1 -1.5,.4 -1.3,.9 -.9,1.2 -.6,1.5 -.4,1.5 .1,1.5 .9,1.3 1,1.2 1.1,1.1 .9,1.3 1.4,.6 1.2,1 .9,1.2 1.1,1.2 1,1.1 1.1,1.1 .7,1.4 1.3,.9 1,1.2 1,1.2 1.1,1.1 .8,1.3 .9,1.3 1.4,.7 1.5,.1 1.5-.5 1.2-.9 1.1-1.2 .8-1.3 .8-1.4 .6-1.4 .4-1.5 .7-1.3 .3-1.6 -.1-1.5 -.5-1.5 -.6-1.5 -.8-1.2 -1.2-1 -1.5-.5 -1.6-.2 -1.5,0 -1.5-.4 -1.5-.2 -1.6-.1 -1.5-.1 -1.6-.3 -1.5-.1 -1.6,.1 -1.5-.1 -1.6,0 -1.4,.5 -1.3,.9 -1.3,.9 -1.2,.9 -.9,1.3 -.6,1.4 0,1.6 -.2,1.5 -.3,1.6 -.2,1.5 .1,1.5 .7,1.4 .7,1.4 .9,1.3 1,1.2 1.2,1 1.2,.9 1.5,.5 1.6,.1 1.5,0 1.5-.4 1.4-.7 1.1-1.1 .8-1.4 .3-1.5 .4-1.5 -.1-1.5 -.8-1.4 -.9-1.2 -.5-1.5 -.6-1.4 -.8-1.4 -.7-1.3 -.8-1.4 -.9-1.3 -.8-1.3 -.6-1.4 0-1.6 .2-1.5 .4-1.5 .6-1.5 .7-1.4 .9-1.2 1.1-1.1 1.4-.6 1.6-.2 1.5,0 1.6,.1 1.5,0 1.4,.7 1.3,.9 .9,1.3 .8,1.3 .5,1.5 .2,1.5 0,1.6 0,1.5 .4,1.5 .1,1.6 -.2,1.5 .1,1.6 .3,1.5 -.1,1.6 -.2,1.5 0,1.6 .2,1.5 .7,1.4 .6,1.4 .3,1.5 0,1.6 -.3,1.5 -.5,1.5 -.9,1.3 -1.2,1 -1.3,.7 -1.5,.5 -1.5,.3 -1.6,0 -1.5-.3 -1.4-.8 -.9-1.2 -.6-1.4 -.9-1.3 -.1-1.6 -.4-1.5 -1-1.1 -.8-1.4 -.7-1.3 -.9-1.3 -.6-1.5 -.1-1.5 -.4-1.5 -.7-1.4 -.4-1.5 -.7-1.4 -.7-1.4 -.8-1.3 -.1-1.6 .2-1.5 .4-1.5 .7-1.4 1.2-1 1.4-.6 1.6-.1 1.5,.2 1.4,.7 1.5,.6 1.2,1 1.1,1.1 .9,1.2 .8,1.3 .7,1.4 .5,1.5 .5,1.5 .7,1.4 .4,1.5 .8,1.3 .5,1.5 .5,1.4 .6,1.5 .7,1.4 .8,1.3 .7,1.4 .5,1.4 .2,1.6 .7,1.4 1.1,1.1 1.4,.7 1.4,.7 1-.1 .5-.8 .5-1 .6-1.3 .5-1.4 .4-1.5 .3-1.5 -.3-1.6 -.7-1.3 -1-1.2 -.9-1.3 -1.3-.9 -1.2-.9 -1.5-.4 -1.6-.2 -1.2-1 -1-1.1 -1.5-.6 -1.4-.5 -1.5-.6 -1.5-.2 -1.6,.1 -1.4,.6 -1,1.2 -.8,1.3 -.7,1.4 -.3,1.5 -.3,1.5 .1,1.6 .2,1.5 .7,1.4 .3,1.6 .8,1.3 1,1.2 1.3,.9 1.4,.6 1.6-.1 1.5-.4 1.5-.3 1.3-.9 .9-1.2 .8-1.4 .5-1.4 .5-1.5 .1-1.6 -.2-1.5 -.6-1.4 -.5-1.5 -1-1.2 -1.2-1 -1.1-1.1 -.6-1.4 -1.1-1.2 -.9-1.2 -1-1.2 -.8-1.3 -1.1-1.1 -.9-1.3 -1.2-1 -.9-1.3 -1-1.1 -.9-1.3 -1-1.2 -.8-1.3 -.5-1.5 -.2-1.6 .1-.6 .4,0 1.1,0 1.2,0 1.2,.1 1.1,.2 1,.2 1.4,.3 1.5,.4 1.4,.6 1.4,.7 1.2,1 1,1.2 .9,1.2 .7,1.4 .8,1.4 .5,1.5 .6,1.4 .5,1.4 .4,1.5 .9,1.3 .4,1.5 .5,1.5 .8,1.3 1,1.3 .6,1.4 .2,1.5 -.3,1.5 -.5,1.5 -.6,1.4 -1,1.2 -1.2,1.1 -1.4,.5 -1.6,0 -1.5,.1 -1.6,.1 -1.5-.2 -1.6-.2 -1.5-.1 -1.6,.1 -1.5,.2 -1.4,.6 -1.6,.3 -1.5,.3 -1.5-.1 -1.6,.2 -1.5-.2 -1.5-.4 -1.6,.2 -1.5-.3 -1.5,.4 -1.6,0 -1.5,0 -1.6-.1 -1.5,.4 -1.5-.1 -1.5-.4 -1.1-1.1 -1-1.2 -.5-1.5 -.6-1.4 -.2-1.6 .1-1.5 .1-1.6 .2-1.5 .1-1.6 .4-1.5 .7-1.4 .8-1.3 .9-1.3 1.1-1 1.2-1 1.2-1 1.5-.5 1.4-.6 1.6-.2 1.5,.1 1.5,.3 1.5,.4 1.4,.8 1.1,1.1 .8,1.3 .2,1.5 -.3,1.6 -.2,1.5 -.7,1.4 -1.1,1.1 -1.4,.7 -1.3,.8 -1.4,.8 -1.4,.6 -1.2,.9 -1,1.2 -1.2,1.1 -1.3,.9 -1.1,1 -.9,1.3 -.5,1.4 -.5,1.5 -.1,1.6 .6,1.4 1.1,1.1 1.2,1.1 1.4,.6 1.4,.6 1.6,.1 1.5-.3 1.4-.7 1-1.2 .6-1.4 .9-1.3 .9-1.3 1.1-1 1.1-1.2 1-1.2 .6-1.4 .7-1.3 .6-1.5 .8-1.3 1.1-1.1 1-1.3 .8-1.3 1.2-1 .9-1.2 1-1.2 1.2-1 .9-1.3 .5-1.5 -.2-1.5 -.6-1.4 -.9-1.3 -1.1-1.1 -1.3-.9 -1.4-.7 -1.5,.1 -1.5,.5 -1.4,.7 -1.2,.9 -1.3,.9 -1.3,.9 -1.4,.6 -1.2,1 -1.2,1 -1.1,1.1 -.9,1.3 -.4,1.5 .2,1.5 .7,1.4 .8,1.3 1.4,.7 1.5,.5 1.5,.5 1.5-.3 1.5-.2 1.6-.2 1.5,.2 1.6-.1 1.5-.2 1.5-.4 1.6-.2 1.5-.2 1.5-.3 1.5-.3 1.5-.5 1.5-.6 1.5-.3 1.5-.3 1.6-.1 1.4-.6 1.2-1 1.2-1 .5-.9 -.3-.8 -.5-1 -.7-1.2 -.8-1.2 -.9-1.3 -1.1-1.1 -1.4-.7 -1.4-.7 -1.5-.3 -1.5-.1 -1.6-.2 -1.5,.5 -1.5,.3 -1.5,.5 -1.2,.9 -1.3,.8 -1.4,.6 -1.4,.7 -1.4,.8 -1.4,.7 -1.3,.8 -1.3,.9 -1.4,.6 -1.5,.4 -1.4,.6 -1.2,1.1 -1.2,1 -1.2,.8 -1.5,.4 -1.5,.5 -1.4,.7 -1.2,.9 -1.1,1.2 -.8,1.3 -.2,1.6 .1,1.5 .4,1.5 .4,1.5 .6,1.4 .9,1.3 1.3,.9 1.2,.9 1.5,.4 1.6-.1 1.5,.1 1.5,.4 1.5,.5 1.5,.4 1.5-.4 1.5-.3 1.6,0 1.5,.1 1.5,.4 1.6,0 1.5-.2 1.5-.3 1.4-.8 1.2-.9 1.2-1 1.3-1 1-1.1 1-1.2 .4-1.5 .2-1.5 0-1.6 -.3-1.5 -.7-1.4 -1.2-1 -1.4-.5 -1.5-.5 -1.6-.2 -1.5-.2 -1.5,.4 -1.6,.1 -1.5,.2 -1.5,.4 -1.6,.1 -1.5,.2 -1.6,0 -1.5,.1 -1.5-.5 -1.5,.2 -1.5-.1 -1.6-.1 -1.5,.3 -1.4,.7 -1.1,1.1 -.9,1.3 -.6,1.4 -.2,1.6 .4,1.5 .8,1.3 1,1.2 1.2,1 1.3,.8 1.4,.8 1.4,.6 1.5,.4 1.5,.3 1.6,.1 1.5-.5 1.4-.5 1.3-.9 1.5-.4 1.4-.6 1.4-.8 1.3-.8 1.3-.8 1.5-.4 1.5-.5 1.3-.8 1.3-.9 .9-1.3 .4-1.5 -.1-1.5 -.8-1.4 -1-1.1 -1.4-.7 -1.1-1.1 -1.3-.9 -1-1.1 -1.3-1 -1.3-.8 -1.5-.5 -1.5-.4 -1.5-.4 -1.5-.3 -1.5,.1 -1.6,.3 -1.4,.6 -1.1,1.1 -.9,1.2 -.2,1.6 -.7,1.4 -.9,1.2 -.5,1.5 0,1.6 .4,1.5 .8,1.3 1.2,1 .8,1.4 1.1,1 .9,1.3 1.3,.9 1.2,1 .9,1.3 .9,1.2 1.1,1.1 1.3,.9 1,1.2 1.2,.9 1,1.2 1,1.2 .5,1.4 .2,1.6 -.4,1.5 -.8,1.3 -1,1.2 -1.3,.9 -1.4,.4 -1.4,0 -1.5-.1 -1.6-.3 -1.4-.4 -1.3-.9 -1-1.2 -1-1.2 -.6-1.5 -.9-1.3 -.8-1.2 -.7-1.4 -.6-1.5 -.5-1.5 -.4-1.4 -.2-1.6 -.6-1.4 -.4-1.5 -.7-1.4 -.2-1.5 -.2-1.6 .1-1.5 .3-1.6 1-1.1 1.3-.9 1.4-.6 1.4-.7 1.5-.4 1.5-.3 1.4-.7 1.6-.2 1.3-.8 1.5-.5 1.5-.5 1.4-.6 1.5-.3 1.6,.2 1.4,.4 1.3,.9 1.2,1 1.1,1.1 1,1.2 .7,1.4 .4,1.5 .1,1.5 0,1.6 -.3,1.5 -.6,1.5 -.9,1.2 -1.1,1 -.8,1.4" fill="none" stroke="#12a8ff" stroke-width="1.0" stroke-linejoin="round" stroke-linecap="round"/>
<path d="M614,653.9l-.6-1.4M624.6,637.9l.6-1.4M625.6,633.4l-.4-1.5 -.9-1.3 -1.2-.9M620.2,628.4l-1.4-.5M605,634.6l-1.2,.9M594.7,645l0,1.6 .4,1.5 .4,1.5M599.3,651.9l1.5,0M607.9,648.8l1.5,.2 1.6,.1M621.3,651.4l1.5,.4M624.2,652.4l1.6,.1M620.6,638.2l-.7-1.4 -.8-1.3M617.8,634.6l-1.1-1.1 -.9-1.2M610.6,629.4l-1.5,.4M607.8,630.7l-.9,1.2M621.7,653.3l.8,1.3M626.3,656.7l1.5-.5M630.9,652.8l.8-1.4M632.7,648.5l.7-1.3 .3-1.6M633.6,644.1l-.5-1.5M632.5,641.1l-.8-1.2 -1.2-1 -1.5-.5M621.3,637.5l-1.5-.1M618.2,637.1l-1.5-.1M604.6,649.1l.1,1.5 .7,1.4 .7,1.4M615,658.4l1.5-.4M615.3,640.7l-.9-1.3M613,635.1l.2-1.5M618.3,626.3l1.6-.2M621.4,626.1l1.6,.1M624.5,626.2l1.4,.7 1.3,.9 .9,1.3 .8,1.3 .5,1.5 .2,1.5 0,1.6M629.6,636.5l.4,1.5 .1,1.6 -.2,1.5M631.8,654.7l0,1.6 -.3,1.5 -.5,1.5M621.5,662.8l-1.4-.8M619.2,660.8l-.6-1.4M616.2,653.9l-.8-1.4M609.9,633.8l.7-1.4M620.4,633.2l1.1,1.1M631.1,655.3l.2,1.6 .7,1.4M637.7,649.1l-.9-1.3 -1.3-.9 -1.2-.9M617.1,650.6l.2,1.5M619.1,656.4l1,1.2 1.3,.9 1.4,.6M625.9,658.6l1.5-.3M618.4,631.6l-1-1.1M615.5,628l-.8-1.3 -.5-1.5M614.1,623l.4,0 1.1,0M624.4,624.8l1.4,.7M627,626.5l1,1.2 .9,1.2M629.6,630.3l.8,1.4 .5,1.5M632.4,637.5l.9,1.3 .4,1.5 .5,1.5 .8,1.3M636.6,645.8l.2,1.5 -.3,1.5 -.5,1.5M628.7,654.6l-1.6,.1M625.6,654.5l-1.6-.2 -1.5-.1M616.4,655.4l-1.5,.3M610.3,655.6l-1.5-.4M605.7,655.1l-1.5,.4 -1.6,0M599.5,655.4l-1.5,.4 -1.5-.1 -1.5-.4M602.9,632.5l1.5,.1 1.5,.3M603.1,646.5l-1.2,.9 -1,1.2 -1.2,1.1M596.4,652.9l-.5,1.4 -.5,1.5M599.6,661.6l1.4,.6M602.6,662.3l1.5-.3M605.5,661.3l1-1.2 .6-1.4M610,655.1l1.1-1.2 1-1.2M623.2,634.8l-.6-1.4M612.3,631.6l-1.3,.9M605.9,636l-1.1,1.1 -.9,1.3 -.4,1.5M608.1,645.3l1.5,.5M618.8,645l1.5-.4 1.6-.2M629.4,642.5l1.5-.3M632.4,641.9l1.6-.1 1.4-.6M629.7,630l-1.5-.1 -1.6-.2M625.1,630.2l-1.5,.3 -1.5,.5M618.2,633.3l-1.4,.7 -1.4,.8M603.5,641.7l-1.5,.4M600.5,642.6l-1.4,.7M597.9,644.2l-1.1,1.2 -.8,1.3 -.2,1.6M597.3,654.2l.9,1.3M599.5,656.4l1.2,.9M605.3,657.7l1.5,.4M608.3,658.6l1.5,.4M617.4,658.8l1.6,0 1.5-.2 1.5-.3M623.4,657.5l1.2-.9M625.8,655.6l1.3-1M601.6,643.7l-1.4,.7 -1.1,1.1 -.9,1.3 -.6,1.4M602.1,655.6l1.4,.8M604.9,657l1.5,.4M607.9,657.7l1.6,.1M620.6,652.5l1.5-.4 1.5-.5 1.3-.8 1.3-.9 .9-1.3M618.2,637.5l-1.5-.5M604.6,649.3l1.2,1M612.9,658.4l1.1,1.1 1.3,.9M603.8,665.1l-.7-1.4M602.5,662.2l-.5-1.5M601.6,659.3l-.2-1.6M599.5,651.9l-.2-1.6M599.4,648.8l.3-1.6 1-1.1M612.1,641.5l1.5-.5M615.1,640.5l1.4-.6 1.5-.3 1.6,.2M626.7,647.3l.1,1.5M626.8,650.4l-.3,1.5" fill="none" stroke="#30d8ff" stroke-width="1.0" stroke-linejoin="round" stroke-linecap="round"/>
<path d="M616.1,656.2l-1.2-1 -.9-1.3M611.7,630.9l-1.4,.7M607.6,633l-1.2,1 -1.4,.6M595.5,649.6l.9,1.3M602.1,651.1l1.3-.9 1.5-.4 1.5-.7M615.6,649.7l1.5-.2M618.6,649.8l1.3,.9M622.8,651.8l1.4,.6M625.8,652.5l1.5-.3 1.2-1M606.9,631.9l-.6,1.5 -.4,1.5 .1,1.5M618.6,649.8l1,1.2M623.4,655.9l1.4,.7M631.7,651.4l.6-1.4M633.7,645.6l-.1-1.5M633.1,642.6l-.6-1.5M627.4,638.2l-1.5,0M619.8,637.4l-1.6-.3M615.1,637.1l-1.5-.1M609.3,638.4l-1.3,.9 -1.2,.9M605.1,646l-.3,1.6 -.2,1.5M606.1,653.4l.9,1.3 1,1.2M611.9,658.3l1.6,.1 1.5,0M619.8,654.8l.3-1.5M620.5,651.8l-.1-1.5 -.8-1.4M616.8,643.4l-.7-1.3 -.8-1.4M614.4,639.4l-.8-1.3M613,636.7l0-1.6M614.9,629.2l.9-1.2M629.9,641.1l.1,1.6M630.3,644.2l-.1,1.6M630,647.3l0,1.6M609.3,636.8l.2-1.5 .4-1.5M617.7,631.6l1.5,.6M628.4,649.8l.7,1.4M632.8,645.6l-1.6-.2M617,649l.1,1.6M630.9,653.4l.5-1.5M631.5,650.3l-.2-1.5M630.7,647.4l-.5-1.5M623.3,637.6l-.8-1.3M621.4,635.2l-.9-1.3M616.5,629.2l-1-1.2M628.9,628.9l.7,1.4M631.8,654.5l-1.6,0M622.5,654.2l-1.6,.1M613.4,655.6l-1.6,.2M602.6,655.5l-1.5,0M607.4,633.3l1.4,.8 1.1,1.1M597.3,651.6l-.9,1.3M622.9,637.8l.5-1.5 -.2-1.5M621.7,632.1l-1.1-1.1 -1.3-.9M607.1,635l-1.2,1M609.6,645.8l1.5-.3M621.9,644.4l1.5-.2M630.9,642.2l1.5-.3M631.2,630.3l-1.5-.3M620.9,631.9l-1.3,.8 -1.4,.6M615.4,634.8l-1.4,.7M607.1,638.8l-1.2,1.1M604.7,640.9l-1.2,.8M595.8,648.3l.1,1.5 .4,1.5 .4,1.5 .6,1.4M598.2,655.5l1.3,.9M603.8,657.6l1.5,.1M611.3,658.6l1.5-.3 1.6,0 1.5,.1 1.5,.4M622,658.3l1.4-.8M603.1,643.4l-1.5,.3M597.8,651.3l.8,1.3M599.6,653.8l1.2,1 1.3,.8M603.5,656.4l1.4,.6M613.7,655.9l1.5-.4M620.8,639.3l-1.3-1 -1.3-.8M615.2,636.6l-1.5-.4M612.2,635.9l-1.5,.1M603.4,646.5l.4,1.5 .8,1.3M605.8,650.3l.8,1.4M607.7,652.7l.9,1.3M612,657.2l.9,1.2M601.4,657.7l-.6-1.4 -.4-1.5 -.7-1.4M599.3,650.3l.1-1.5M600.7,646.1l1.3-.9M613.6,641l1.5-.5M626.3,645.8l.4,1.5M626.8,648.8l0,1.6M623.9,655.6l-.8,1.4" fill="none" stroke="#70f4e0" stroke-width="1.0" stroke-linejoin="round" stroke-linecap="round"/>
<path d="M613.4,652.5l-.4-1.5M617.6,643.6l1.3-.8M618.8,627.9l-1.6,.2 -1.4,.6M614.4,629.4l-1.3,.9 -1.4,.6M610.3,631.6l-1.5,.4 -1.2,1M596.4,650.9l1.4,.7 1.5,.3M612.5,649.5l1.5,.1 1.6,.1M617.1,649.5l1.5,.3M619.9,650.7l1.4,.7M628.5,651.2l.7-1.4 .3-1.5M621.9,639.1l-1.3-.9M615.8,632.3l-1-1.2 -1.3-.9 -1.4-.7M609,640l.9,1.3M611.3,641.9l1.2,1M616.6,647.5l.7,1.4 1.3,.9M620.6,652.2l1.1,1.1M622.5,654.6l.9,1.3M624.8,656.6l1.5,.1M629,655.3l1.1-1.2M616.7,637l-1.6,.1M606.8,640.2l-.9,1.3M605.3,644.5l-.2,1.5M609.2,656.9l1.2,.9 1.5,.5M619,656.2l.8-1.4M620.1,653.3l.4-1.5M619.6,648.9l-.9-1.2 -.5-1.5M613.6,638.1l-.6-1.4M615.8,628l1.1-1.1M630.2,645.8l-.2,1.5M630.2,650.4l.7,1.4M631.5,653.2l.3,1.5M618.6,659.4l-.9-1.3M615.4,652.5l-.7-1.3 -.9-1.3M613.2,648.4l-.1-1.5M612.7,645.4l-.7-1.4M611.6,642.5l-.7-1.4M610.6,632.4l1.2-1 1.4-.6M616.3,630.9l1.4,.7M619.2,632.2l1.2,1M621.5,634.3l.9,1.2 .8,1.3M623.9,638.2l.5,1.5M627.3,646.9l.5,1.4M630.6,653.9l.5,1.4M623.1,641.4l-1.6,.1M617.3,647.5l-.3,1.5M617.3,652.1l.7,1.4 .3,1.6 .8,1.3M628.7,657.4l.9-1.2 .8-1.4M631.4,651.9l.1-1.6M626.9,642.6l-.6-1.4M622.5,636.3l-1.1-1.1M620.5,633.9l-1.2-1 -.9-1.3M617.4,630.5l-.9-1.3M633.2,654l-1.4,.5M627.1,654.7l-1.5-.2M619.4,654.5l-1.4,.6M614.9,655.7l-1.5-.1M608.8,655.2l-1.6,.2M601.1,655.5l-1.6-.1M605.9,632.9l1.5,.4M610.7,636.5l.2,1.5 -.3,1.6 -.2,1.5 -.7,1.4 -1.1,1.1 -1.4,.7 -1.3,.8 -1.4,.8 -1.4,.6M599.7,649.7l-1.3,.9 -1.1,1M608,657.4l.9-1.3 1.1-1M612.1,652.7l.6-1.4 .7-1.3M617.7,643.5l1.2-1M622.6,633.4l-.9-1.3M619.3,630.1l-1.4-.7 -1.5,.1M614.9,630l-1.4,.7M611,632.5l-1.3,.9 -1.4,.6M603.5,639.9l.2,1.5M605.2,644.1l1.4,.7 1.5,.5M627.9,643.1l1.5-.6M622.1,631l-1.2,.9M612.7,636.3l-1.3,.9M610,637.8l-1.5,.4 -1.4,.6M600.7,657.3l1.5,.4M606.8,658.1l1.5,.5M624.6,656.6l1.2-1M627.1,654.6l1-1.1 1-1.2M629.5,650.8l.2-1.5M629.7,647.7l-.3-1.5M613.8,643.6l-1.5,.2M610.7,643.8l-1.5,.1 -1.5-.5M597.6,648.2l-.2,1.6 .4,1.5M598.6,652.6l1,1.2M611,657.3l1.4-.5 1.3-.9M616.7,637l-1.5-.4M609.1,636.3l-1.4,.6M606.6,638l-.9,1.2M603.4,644.9l0,1.6M608.6,654l1.3,.9M611.1,655.9l.9,1.3M599.7,653.4l-.2-1.5M606.3,643.5l1.5-.3 1.4-.7M625.6,644.4l.7,1.4M626.5,651.9l-.6,1.5 -.9,1.2 -1.1,1" fill="none" stroke="#c8f850" stroke-width="1.0" stroke-linejoin="round" stroke-linecap="round"/>
<path d="M613,651l0-1.6 .2-1.5M614.1,646.6l1.1-1M615.8,628.7l-1.4,.7M611,649.1l1.5,.4M629.5,648.3l-.2-1.5M622.9,640.3l-1-1.2M606,636.4l.9,1.3 1,1.2 1.1,1.1M609.9,641.3l1.4,.6M612.5,642.9l.9,1.2M615.5,646.4l1.1,1.1M619.6,651l1,1.2M627.8,656.2l1.2-.9M613.6,637l-1.6,0 -1.4,.5 -1.3,.9M608,655.9l1.2,1M613.2,633.6l.4-1.5 .6-1.5M630,642.7l.3,1.5M617.7,658.1l-.1-1.6M613.8,649.9l-.6-1.5M613.1,646.9l-.4-1.5M612,644l-.4-1.5M610.9,641.1l-.7-1.4M614.8,630.7l1.5,.2M626.8,645.4l.5,1.5M627.8,648.3l.6,1.5M629.9,652.5l.7,1.4M631.2,645.4l-1.2-1 -1-1.1 -1.5-.6M621.5,641.5l-1.4,.6 -1,1.2M617.6,646l-.3,1.5M631.3,648.8l-.6-1.4M628,643.7l-1.1-1.1M626.3,641.2l-1.1-1.2 -.9-1.2M630.2,654.5l-1.5,.1M609.9,635.2l.8,1.3M607.1,658.7l.9-1.3M613.4,650l.6-1.5M620.8,640.1l1.2-1M613.5,630.7l-1.2,.9M608.3,634l-1.2,1M611.1,645.5l1.5-.2M617.3,645.2l1.5-.2M626.4,643.6l1.5-.5M614,635.5l-1.3,.8M611.4,637.2l-1.4,.6M605.9,639.9l-1.2,1M609.8,659l1.5-.4M629.1,652.3l.4-1.5M623,642.6l-1.5-.2 -1.5,.4 -1.6,.1M616.9,643.1l-1.5,.4 -1.6,.1M612.3,643.8l-1.6,0M604.7,643.5l-1.6-.1M606.4,657.4l1.5,.3M609.5,657.8l1.5-.5M616.6,654.9l1.4-.8M619.3,653.3l1.3-.8M627.1,648.6l.4-1.5 -.1-1.5M605.7,639.2l-.2,1.6M603.9,643.4l-.5,1.5M609.9,654.9l1.2,1M602,645.2l1.4-.6M610.8,642.3l1.3-.8" fill="none" stroke="#f8e820" stroke-width="1.0" stroke-linejoin="round" stroke-linecap="round"/>
<path d="M617.4,657l-1.3-.8M613.2,647.9l.9-1.3M620.2,641.9l1.4-.6M623,640.6l1-1.2 .6-1.5M628.7,645.3l-1-1.1M614.5,645.3l1,1.1M630.1,654.1l.8-1.3M625.9,638.2l-1.5-.4 -1.5-.2 -1.6-.1M617.9,657.3l1.1-1.1M614.2,630.6l.7-1.4M630.9,651.8l.6,1.4M617.6,656.5l-.4-1.5 -1-1.1M610.2,639.7l-.8-1.3 -.1-1.6M613.2,630.8l1.6-.1M626,644.1l.8,1.3M629.1,651.2l.8,1.3M619.1,643.3l-.8,1.3 -.7,1.4M630.4,654.8l.5-1.4M630.2,645.9l-1-1.2M620.9,654.3l-1.5,.2M618,655.1l-1.6,.3M611.8,655.8l-1.5-.2M614,648.5l.8-1.3M615.9,646.1l1-1.3M622,639.1l.9-1.3M616.4,629.5l-1.5,.5M615.7,645.3l1.6-.1M629.7,649.3l0-1.6M626.1,643.3l-1.5-.5M618.4,642.9l-1.5,.2M606.2,643.6l-1.5-.1M615.2,655.5l1.4-.6M618,654.1l1.3-.8M625.6,643.1l-1.4-.7M623.1,641.3l-1.3-.9 -1-1.1M613.7,636.2l-1.5-.3M610.7,636l-1.6,.3M607.7,636.9l-1.1,1.1M605.5,640.8l-.7,1.4 -.9,1.2M609.2,642.5l1.6-.2" fill="none" stroke="#ff8c10" stroke-width="1.0" stroke-linejoin="round" stroke-linecap="round"/>
<path d="M615.2,645.6l1.1-1.2 1.3-.8M618.9,642.8l1.3-.9M621.6,641.3l1.4-.7M629.3,646.8l-.6-1.5M627.7,644.2l-1.1-1.1 -1.2-1 -1.1-1.1 -1.4-.7M613.4,644.1l1.1,1.2M605.9,641.5l-.6,1.4 0,1.6M616.5,658l1.4-.7M618.2,646.2l-.6-1.4 -.8-1.4M630,648.9l.2,1.5M623.2,636.8l.7,1.4M624.4,639.7l.5,1.5 .7,1.4 .4,1.5M627.5,642.7l-1.4-.5 -1.5-.6 -1.5-.2M629.2,644.7l-1.2-1M624.3,638.8l-1-1.2M614.8,647.2l1.1-1.1M616.9,644.8l.8-1.3M618.9,642.5l.9-1.2 1-1.2M603.7,641.4l.7,1.4 .8,1.3M612.6,645.3l1.6-.2 1.5,.2M623.4,644.2l1.5-.3 1.5-.3M629.4,646.2l-.7-1.4 -1.2-1 -1.4-.5M624.6,642.8l-1.6-.2M607.7,643.4l-1.5,.2M627.4,645.6l-.8-1.4 -1-1.1M624.2,642.4l-1.1-1.1M603.4,644.6l1.4-.7 1.5-.4M619.6,639.8l1.4,.4 1.3,.9 1.2,1 1.1,1.1 1,1.2" fill="none" stroke="#ff2a00" stroke-width="1.0" stroke-linejoin="round" stroke-linecap="round"/>
<text x="615.2" y="611.2" font-size="10.8" text-anchor="middle" textLength="41.0" lengthAdjust="spacingAndGlyphs" fill="#231f20" stroke="#231f20" stroke-width="0.12">FAD/A-E</text>
<text x="-0.5" y="726.9" font-size="15.8" font-weight="bold" fill="#000">h</text>
<line x1="55.4" y1="746.3" x2="55.4" y2="836.7" stroke="#444444" stroke-width="1"/>
<line x1="51.2" y1="836.7" x2="55.4" y2="836.7" stroke="#444444" stroke-width="1"/>
<text x="46.2" y="840.1" font-size="9.6" text-anchor="end" fill="#231f20" stroke="#231f20" stroke-width="0.12">0</text>
<line x1="51.2" y1="806.6" x2="55.4" y2="806.6" stroke="#444444" stroke-width="1"/>
<text x="46.2" y="810.0" font-size="9.6" text-anchor="end" fill="#231f20" stroke="#231f20" stroke-width="0.12">30</text>
<line x1="51.2" y1="776.4" x2="55.4" y2="776.4" stroke="#444444" stroke-width="1"/>
<text x="46.2" y="779.8" font-size="9.6" text-anchor="end" fill="#231f20" stroke="#231f20" stroke-width="0.12">60</text>
<line x1="51.2" y1="746.3" x2="55.4" y2="746.3" stroke="#444444" stroke-width="1"/>
<text x="46.2" y="749.7" font-size="9.6" text-anchor="end" fill="#231f20" stroke="#231f20" stroke-width="0.12">90</text>
<line x1="61.7" y1="836.7" x2="215.5" y2="836.7" stroke="#444444" stroke-width="1"/>
<line x1="61.7" y1="836.7" x2="61.7" y2="840.9" stroke="#444444" stroke-width="1"/>
<text x="61.7" y="853.6" font-size="9.6" text-anchor="middle" fill="#231f20" stroke="#231f20" stroke-width="0.12">1</text>
<line x1="92.5" y1="836.7" x2="92.5" y2="840.9" stroke="#444444" stroke-width="1"/>
<text x="92.5" y="853.6" font-size="9.6" text-anchor="middle" fill="#231f20" stroke="#231f20" stroke-width="0.12">2</text>
<line x1="123.2" y1="836.7" x2="123.2" y2="840.9" stroke="#444444" stroke-width="1"/>
<text x="123.2" y="853.6" font-size="9.6" text-anchor="middle" fill="#231f20" stroke="#231f20" stroke-width="0.12">3</text>
<line x1="154.0" y1="836.7" x2="154.0" y2="840.9" stroke="#444444" stroke-width="1"/>
<text x="154.0" y="853.6" font-size="9.6" text-anchor="middle" fill="#231f20" stroke="#231f20" stroke-width="0.12">4</text>
<line x1="184.7" y1="836.7" x2="184.7" y2="840.9" stroke="#444444" stroke-width="1"/>
<text x="184.7" y="853.6" font-size="9.6" text-anchor="middle" fill="#231f20" stroke="#231f20" stroke-width="0.12">5</text>
<line x1="215.5" y1="836.7" x2="215.5" y2="840.9" stroke="#444444" stroke-width="1"/>
<text x="215.5" y="853.6" font-size="9.6" text-anchor="middle" fill="#231f20" stroke="#231f20" stroke-width="0.12">6</text>
<text x="138.6" y="869.0" font-size="10.6" text-anchor="middle" textLength="56.0" lengthAdjust="spacingAndGlyphs" fill="#231f20" stroke="#231f20" stroke-width="0.12">Time (days)</text>
<text x="26.8" y="791.3" font-size="11" text-anchor="middle" textLength="52.3" lengthAdjust="spacingAndGlyphs" transform="rotate(-90 26.8 791.3)" fill="#231f20" stroke="#231f20" stroke-width="0.12">Latency (s)</text>
<path d="M61.7,774.4V766.4M58.1,774.4h7.2M58.1,766.4h7.2M92.5,800.5V794.5M88.9,800.5h7.2M88.9,794.5h7.2M123.2,811.6V805.6M119.6,811.6h7.2M119.6,805.6h7.2M154.0,817.6V811.6M150.4,817.6h7.2M150.4,811.6h7.2M184.7,819.6V813.6M181.1,819.6h7.2M181.1,813.6h7.2M215.5,820.6V814.6M211.9,820.6h7.2M211.9,814.6h7.2" fill="none" stroke="#66c2a5" stroke-width="0.9" stroke-opacity="0.55"/>
<path d="M61.7,775.4V767.4M58.1,775.4h7.2M58.1,767.4h7.2M92.5,802.5V794.5M88.9,802.5h7.2M88.9,794.5h7.2M123.2,812.6V806.6M119.6,812.6h7.2M119.6,806.6h7.2M154.0,818.6V812.6M150.4,818.6h7.2M150.4,812.6h7.2M184.7,820.6V814.6M181.1,820.6h7.2M181.1,814.6h7.2M215.5,821.6V815.6M211.9,821.6h7.2M211.9,815.6h7.2" fill="none" stroke="#fc8d62" stroke-width="0.9" stroke-opacity="0.55"/>
<path d="M61.7,776.6V768.6M58.1,776.6h7.2M58.1,768.6h7.2M92.5,794.9V788.9M88.9,794.9h7.2M88.9,788.9h7.2M123.2,802.5V796.5M119.6,802.5h7.2M119.6,796.5h7.2M154.0,804.8V798.7M150.4,804.8h7.2M150.4,798.7h7.2M184.7,807.2V801.1M181.1,807.2h7.2M181.1,801.1h7.2M215.5,809.6V803.6M211.9,809.6h7.2M211.9,803.6h7.2" fill="none" stroke="#8da0cb" stroke-width="0.9" stroke-opacity="0.55"/>
<path d="M61.7,772.4V764.4M58.1,772.4h7.2M58.1,764.4h7.2M92.5,799.5V793.5M88.9,799.5h7.2M88.9,793.5h7.2M123.2,810.6V804.6M119.6,810.6h7.2M119.6,804.6h7.2M154.0,814.6V808.6M150.4,814.6h7.2M150.4,808.6h7.2M184.7,817.6V811.6M181.1,817.6h7.2M181.1,811.6h7.2M215.5,819.6V813.6M211.9,819.6h7.2M211.9,813.6h7.2" fill="none" stroke="#e78ac3" stroke-width="0.9" stroke-opacity="0.55"/>
<polyline points="61.7,770.4 92.5,797.5 123.2,808.6 154.0,814.6 184.7,816.6 215.5,817.6" fill="none" stroke="#66c2a5" stroke-width="1.1"/>
<circle cx="61.7" cy="770.4" r="2.4" fill="#66c2a5"/>
<circle cx="92.5" cy="797.5" r="2.4" fill="#66c2a5"/>
<circle cx="123.2" cy="808.6" r="2.4" fill="#66c2a5"/>
<circle cx="154.0" cy="814.6" r="2.4" fill="#66c2a5"/>
<circle cx="184.7" cy="816.6" r="2.4" fill="#66c2a5"/>
<circle cx="215.5" cy="817.6" r="2.4" fill="#66c2a5"/>
<polyline points="61.7,771.4 92.5,798.5 123.2,809.6 154.0,815.6 184.7,817.6 215.5,818.6" fill="none" stroke="#fc8d62" stroke-width="1.1"/>
<circle cx="61.7" cy="771.4" r="2.4" fill="#fc8d62"/>
<circle cx="92.5" cy="798.5" r="2.4" fill="#fc8d62"/>
<circle cx="123.2" cy="809.6" r="2.4" fill="#fc8d62"/>
<circle cx="154.0" cy="815.6" r="2.4" fill="#fc8d62"/>
<circle cx="184.7" cy="817.6" r="2.4" fill="#fc8d62"/>
<circle cx="215.5" cy="818.6" r="2.4" fill="#fc8d62"/>
<polyline points="61.7,772.6 92.5,791.9 123.2,799.5 154.0,801.7 184.7,804.2 215.5,806.6" fill="none" stroke="#8da0cb" stroke-width="1.1"/>
<circle cx="61.7" cy="772.6" r="2.4" fill="#8da0cb"/>
<circle cx="92.5" cy="791.9" r="2.4" fill="#8da0cb"/>
<circle cx="123.2" cy="799.5" r="2.4" fill="#8da0cb"/>
<circle cx="154.0" cy="801.7" r="2.4" fill="#8da0cb"/>
<circle cx="184.7" cy="804.2" r="2.4" fill="#8da0cb"/>
<circle cx="215.5" cy="806.6" r="2.4" fill="#8da0cb"/>
<polyline points="61.7,768.4 92.5,796.5 123.2,807.6 154.0,811.6 184.7,814.6 215.5,816.6" fill="none" stroke="#e78ac3" stroke-width="1.1"/>
<circle cx="61.7" cy="768.4" r="2.4" fill="#e78ac3"/>
<circle cx="92.5" cy="796.5" r="2.4" fill="#e78ac3"/>
<circle cx="123.2" cy="807.6" r="2.4" fill="#e78ac3"/>
<circle cx="154.0" cy="811.6" r="2.4" fill="#e78ac3"/>
<circle cx="184.7" cy="814.6" r="2.4" fill="#e78ac3"/>
<circle cx="215.5" cy="816.6" r="2.4" fill="#e78ac3"/>
<text x="185.0" y="803.6" font-size="14" text-anchor="middle" fill="#231f20" stroke="#231f20" stroke-width="0.12">*</text>
<text x="215.8" y="806.1" font-size="14" text-anchor="middle" fill="#231f20" stroke="#231f20" stroke-width="0.12">*</text>
<line x1="141.2" y1="725.3" x2="162.2" y2="725.3" stroke="#66c2a5" stroke-width="1.1" stroke-opacity="0.85"/>
<circle cx="151.7" cy="725.3" r="2.3" fill="#66c2a5"/>
<text x="167.6" y="728.5" font-size="9.3" textLength="49.6" lengthAdjust="spacingAndGlyphs" fill="#231f20" stroke="#231f20" stroke-width="0.12">C57/vehicle</text>
<line x1="141.2" y1="736.8" x2="162.2" y2="736.8" stroke="#fc8d62" stroke-width="1.1" stroke-opacity="0.85"/>
<circle cx="151.7" cy="736.8" r="2.3" fill="#fc8d62"/>
<text x="167.6" y="740.0" font-size="9.3" textLength="33.6" lengthAdjust="spacingAndGlyphs" fill="#231f20" stroke="#231f20" stroke-width="0.12">C57/A-E</text>
<line x1="141.2" y1="748.2" x2="162.2" y2="748.2" stroke="#8da0cb" stroke-width="1.1" stroke-opacity="0.85"/>
<circle cx="151.7" cy="748.2" r="2.3" fill="#8da0cb"/>
<text x="167.6" y="751.4" font-size="9.3" textLength="50.4" lengthAdjust="spacingAndGlyphs" fill="#231f20" stroke="#231f20" stroke-width="0.12">FAD/vehicle</text>
<line x1="141.2" y1="759.6" x2="162.2" y2="759.6" stroke="#e78ac3" stroke-width="1.1" stroke-opacity="0.85"/>
<circle cx="151.7" cy="759.6" r="2.3" fill="#e78ac3"/>
<text x="167.6" y="762.9" font-size="9.3" textLength="34.0" lengthAdjust="spacingAndGlyphs" fill="#231f20" stroke="#231f20" stroke-width="0.12">FAD/A-E</text>
<line x1="295.0" y1="739.7" x2="295.0" y2="836.1" stroke="#444444" stroke-width="1"/>
<line x1="290.8" y1="836.1" x2="295.0" y2="836.1" stroke="#444444" stroke-width="1"/>
<text x="285.8" y="839.5" font-size="9.6" text-anchor="end" fill="#231f20" stroke="#231f20" stroke-width="0.12">0</text>
<line x1="290.8" y1="804.0" x2="295.0" y2="804.0" stroke="#444444" stroke-width="1"/>
<text x="285.8" y="807.4" font-size="9.6" text-anchor="end" fill="#231f20" stroke="#231f20" stroke-width="0.12">300</text>
<line x1="290.8" y1="771.8" x2="295.0" y2="771.8" stroke="#444444" stroke-width="1"/>
<text x="285.8" y="775.2" font-size="9.6" text-anchor="end" fill="#231f20" stroke="#231f20" stroke-width="0.12">600</text>
<line x1="290.8" y1="739.7" x2="295.0" y2="739.7" stroke="#444444" stroke-width="1"/>
<text x="285.8" y="743.1" font-size="9.6" text-anchor="end" fill="#231f20" stroke="#231f20" stroke-width="0.12">900</text>
<line x1="303.0" y1="836.1" x2="462.1" y2="836.1" stroke="#444444" stroke-width="1"/>
<line x1="303.0" y1="836.1" x2="303.0" y2="840.3" stroke="#444444" stroke-width="1"/>
<text x="303.0" y="854.6" font-size="9.6" text-anchor="middle" fill="#231f20" stroke="#231f20" stroke-width="0.12">1</text>
<line x1="334.8" y1="836.1" x2="334.8" y2="840.3" stroke="#444444" stroke-width="1"/>
<text x="334.8" y="854.6" font-size="9.6" text-anchor="middle" fill="#231f20" stroke="#231f20" stroke-width="0.12">2</text>
<line x1="366.6" y1="836.1" x2="366.6" y2="840.3" stroke="#444444" stroke-width="1"/>
<text x="366.6" y="854.6" font-size="9.6" text-anchor="middle" fill="#231f20" stroke="#231f20" stroke-width="0.12">3</text>
<line x1="398.5" y1="836.1" x2="398.5" y2="840.3" stroke="#444444" stroke-width="1"/>
<text x="398.5" y="854.6" font-size="9.6" text-anchor="middle" fill="#231f20" stroke="#231f20" stroke-width="0.12">4</text>
<line x1="430.3" y1="836.1" x2="430.3" y2="840.3" stroke="#444444" stroke-width="1"/>
<text x="430.3" y="854.6" font-size="9.6" text-anchor="middle" fill="#231f20" stroke="#231f20" stroke-width="0.12">5</text>
<line x1="462.1" y1="836.1" x2="462.1" y2="840.3" stroke="#444444" stroke-width="1"/>
<text x="462.1" y="854.6" font-size="9.6" text-anchor="middle" fill="#231f20" stroke="#231f20" stroke-width="0.12">6</text>
<text x="382.6" y="868.8" font-size="10.6" text-anchor="middle" textLength="56.0" lengthAdjust="spacingAndGlyphs" fill="#231f20" stroke="#231f20" stroke-width="0.12">Time (days)</text>
<text x="260.4" y="787.9" font-size="11" text-anchor="middle" textLength="58.6" lengthAdjust="spacingAndGlyphs" transform="rotate(-90 260.4 787.9)" fill="#231f20" stroke="#231f20" stroke-width="0.12">Length (cm)</text>
<path d="M303.0,766.5V757.9M299.4,766.5h7.2M299.4,757.9h7.2M334.8,798.6V790.0M331.2,798.6h7.2M331.2,790.0h7.2M366.6,812.0V804.5M363.0,812.0h7.2M363.0,804.5h7.2M398.5,816.3V808.8M394.9,816.3h7.2M394.9,808.8h7.2M430.3,817.4V809.9M426.7,817.4h7.2M426.7,809.9h7.2M462.1,817.9V811.5M458.5,817.9h7.2M458.5,811.5h7.2" fill="none" stroke="#66c2a5" stroke-width="0.9" stroke-opacity="0.55"/>
<path d="M303.0,767.5V759.0M299.4,767.5h7.2M299.4,759.0h7.2M334.8,799.1V790.6M331.2,799.1h7.2M331.2,790.6h7.2M366.6,812.5V805.0M363.0,812.5h7.2M363.0,805.0h7.2M398.5,815.2V807.7M394.9,815.2h7.2M394.9,807.7h7.2M430.3,817.4V809.9M426.7,817.4h7.2M426.7,809.9h7.2M462.1,818.4V812.0M458.5,818.4h7.2M458.5,812.0h7.2" fill="none" stroke="#fc8d62" stroke-width="0.9" stroke-opacity="0.55"/>
<path d="M303.0,762.3V753.7M299.4,762.3h7.2M299.4,753.7h7.2M334.8,789.3V782.9M331.2,789.3h7.2M331.2,782.9h7.2M366.6,799.5V793.0M363.0,799.5h7.2M363.0,793.0h7.2M398.5,801.8V795.4M394.9,801.8h7.2M394.9,795.4h7.2M430.3,804.0V797.5M426.7,804.0h7.2M426.7,797.5h7.2M462.1,806.1V799.7M458.5,806.1h7.2M458.5,799.7h7.2" fill="none" stroke="#8da0cb" stroke-width="0.9" stroke-opacity="0.55"/>
<path d="M303.0,765.4V756.8M299.4,765.4h7.2M299.4,756.8h7.2M334.8,795.4V789.0M331.2,795.4h7.2M331.2,789.0h7.2M366.6,808.3V801.8M363.0,808.3h7.2M363.0,801.8h7.2M398.5,811.5V805.0M394.9,811.5h7.2M394.9,805.0h7.2M430.3,814.1V807.7M426.7,814.1h7.2M426.7,807.7h7.2M462.1,816.8V810.4M458.5,816.8h7.2M458.5,810.4h7.2" fill="none" stroke="#e78ac3" stroke-width="0.9" stroke-opacity="0.55"/>
<polyline points="303.0,762.2 334.8,794.3 366.6,808.3 398.5,812.5 430.3,813.6 462.1,814.7" fill="none" stroke="#66c2a5" stroke-width="1.1"/>
<circle cx="303.0" cy="762.2" r="2.4" fill="#66c2a5"/>
<circle cx="334.8" cy="794.3" r="2.4" fill="#66c2a5"/>
<circle cx="366.6" cy="808.3" r="2.4" fill="#66c2a5"/>
<circle cx="398.5" cy="812.5" r="2.4" fill="#66c2a5"/>
<circle cx="430.3" cy="813.6" r="2.4" fill="#66c2a5"/>
<circle cx="462.1" cy="814.7" r="2.4" fill="#66c2a5"/>
<polyline points="303.0,763.3 334.8,794.9 366.6,808.8 398.5,811.5 430.3,813.6 462.1,815.2" fill="none" stroke="#fc8d62" stroke-width="1.1"/>
<circle cx="303.0" cy="763.3" r="2.4" fill="#fc8d62"/>
<circle cx="334.8" cy="794.9" r="2.4" fill="#fc8d62"/>
<circle cx="366.6" cy="808.8" r="2.4" fill="#fc8d62"/>
<circle cx="398.5" cy="811.5" r="2.4" fill="#fc8d62"/>
<circle cx="430.3" cy="813.6" r="2.4" fill="#fc8d62"/>
<circle cx="462.1" cy="815.2" r="2.4" fill="#fc8d62"/>
<polyline points="303.0,758.0 334.8,786.1 366.6,796.3 398.5,798.6 430.3,800.8 462.1,802.9" fill="none" stroke="#8da0cb" stroke-width="1.1"/>
<circle cx="303.0" cy="758.0" r="2.4" fill="#8da0cb"/>
<circle cx="334.8" cy="786.1" r="2.4" fill="#8da0cb"/>
<circle cx="366.6" cy="796.3" r="2.4" fill="#8da0cb"/>
<circle cx="398.5" cy="798.6" r="2.4" fill="#8da0cb"/>
<circle cx="430.3" cy="800.8" r="2.4" fill="#8da0cb"/>
<circle cx="462.1" cy="802.9" r="2.4" fill="#8da0cb"/>
<polyline points="303.0,761.1 334.8,792.2 366.6,805.0 398.5,808.3 430.3,810.9 462.1,813.6" fill="none" stroke="#e78ac3" stroke-width="1.1"/>
<circle cx="303.0" cy="761.1" r="2.4" fill="#e78ac3"/>
<circle cx="334.8" cy="792.2" r="2.4" fill="#e78ac3"/>
<circle cx="366.6" cy="805.0" r="2.4" fill="#e78ac3"/>
<circle cx="398.5" cy="808.3" r="2.4" fill="#e78ac3"/>
<circle cx="430.3" cy="810.9" r="2.4" fill="#e78ac3"/>
<circle cx="462.1" cy="813.6" r="2.4" fill="#e78ac3"/>
<text x="430.6" y="799.9" font-size="14" text-anchor="middle" fill="#231f20" stroke="#231f20" stroke-width="0.12">*</text>
<text x="462.4" y="802.4" font-size="14" text-anchor="middle" fill="#231f20" stroke="#231f20" stroke-width="0.12">*</text>
<line x1="388.8" y1="725.1" x2="410.0" y2="725.1" stroke="#66c2a5" stroke-width="1.1" stroke-opacity="0.85"/>
<circle cx="399.4" cy="725.1" r="2.3" fill="#66c2a5"/>
<text x="415.4" y="728.3" font-size="9.3" textLength="49.6" lengthAdjust="spacingAndGlyphs" fill="#231f20" stroke="#231f20" stroke-width="0.12">C57/vehicle</text>
<line x1="388.8" y1="736.6" x2="410.0" y2="736.6" stroke="#fc8d62" stroke-width="1.1" stroke-opacity="0.85"/>
<circle cx="399.4" cy="736.6" r="2.3" fill="#fc8d62"/>
<text x="415.4" y="739.8" font-size="9.3" textLength="33.6" lengthAdjust="spacingAndGlyphs" fill="#231f20" stroke="#231f20" stroke-width="0.12">C57/A-E</text>
<line x1="388.8" y1="748.0" x2="410.0" y2="748.0" stroke="#8da0cb" stroke-width="1.1" stroke-opacity="0.85"/>
<circle cx="399.4" cy="748.0" r="2.3" fill="#8da0cb"/>
<text x="415.4" y="751.2" font-size="9.3" textLength="50.4" lengthAdjust="spacingAndGlyphs" fill="#231f20" stroke="#231f20" stroke-width="0.12">FAD/vehicle</text>
<line x1="388.8" y1="759.5" x2="410.0" y2="759.5" stroke="#e78ac3" stroke-width="1.1" stroke-opacity="0.85"/>
<circle cx="399.4" cy="759.5" r="2.3" fill="#e78ac3"/>
<text x="415.4" y="762.7" font-size="9.3" textLength="34.0" lengthAdjust="spacingAndGlyphs" fill="#231f20" stroke="#231f20" stroke-width="0.12">FAD/A-E</text>
<text x="505.3" y="726.9" font-size="15.8" font-weight="bold" fill="#000">i</text>
<text x="547.0" y="832.7" font-size="9.6" text-anchor="end" fill="#231f20" stroke="#231f20" stroke-width="0.12">0</text>
<line x1="548.4" y1="787.1" x2="553.3" y2="787.1" stroke="#666" stroke-width="1"/>
<text x="547.0" y="790.5" font-size="9.6" text-anchor="end" fill="#231f20" stroke="#231f20" stroke-width="0.12">30</text>
<line x1="548.4" y1="744.9" x2="553.3" y2="744.9" stroke="#666" stroke-width="1"/>
<text x="547.0" y="748.3" font-size="9.6" text-anchor="end" fill="#231f20" stroke="#231f20" stroke-width="0.12">60</text>
<text x="524.0" y="787.0" font-size="10.8" text-anchor="middle" textLength="41.1" lengthAdjust="spacingAndGlyphs" transform="rotate(-90 524.0 787.0)" fill="#231f20" stroke="#231f20" stroke-width="0.12">Time (%)</text>
<rect x="565.6" y="773.0" width="14.4" height="56.3" fill="none" stroke="#66c2a5" stroke-width="1" stroke-opacity="0.85"/>
<line x1="572.8" y1="830.0" x2="572.8" y2="834.1" stroke="#555" stroke-width="1"/>
<path d="M564.9,761.8a1.9,1.9 0 1,0 3.8,0a1.9,1.9 0 1,0 -3.8,0M570.9,760.4a1.9,1.9 0 1,0 3.8,0a1.9,1.9 0 1,0 -3.8,0M576.9,761.8a1.9,1.9 0 1,0 3.8,0a1.9,1.9 0 1,0 -3.8,0M567.9,764.6a1.9,1.9 0 1,0 3.8,0a1.9,1.9 0 1,0 -3.8,0M573.9,766.0a1.9,1.9 0 1,0 3.8,0a1.9,1.9 0 1,0 -3.8,0M576.9,767.4a1.9,1.9 0 1,0 3.8,0a1.9,1.9 0 1,0 -3.8,0M570.9,773.0a1.9,1.9 0 1,0 3.8,0a1.9,1.9 0 1,0 -3.8,0M564.9,780.1a1.9,1.9 0 1,0 3.8,0a1.9,1.9 0 1,0 -3.8,0M576.9,781.5a1.9,1.9 0 1,0 3.8,0a1.9,1.9 0 1,0 -3.8,0M570.9,782.9a1.9,1.9 0 1,0 3.8,0a1.9,1.9 0 1,0 -3.8,0M564.9,787.1a1.9,1.9 0 1,0 3.8,0a1.9,1.9 0 1,0 -3.8,0M576.9,785.7a1.9,1.9 0 1,0 3.8,0a1.9,1.9 0 1,0 -3.8,0" fill="none" stroke="#66c2a5" stroke-width="0.8"/>
<path d="M572.8,776.4V769.7M569.8,769.7h6M569.8,776.4h6M567.8,773.0h10" stroke="#66c2a5" stroke-width="1" fill="none"/>
<text x="575.7" y="843.8" font-size="9.0" text-anchor="end" transform="rotate(-41 575.7 843.8)" fill="#231f20" stroke="#231f20" stroke-width="0.12">C57/vehicle</text>
<rect x="587.4" y="770.9" width="14.4" height="58.4" fill="none" stroke="#fc8d62" stroke-width="1" stroke-opacity="0.85"/>
<line x1="594.6" y1="830.0" x2="594.6" y2="834.1" stroke="#555" stroke-width="1"/>
<path d="M592.7,751.9a1.9,1.9 0 1,0 3.8,0a1.9,1.9 0 1,0 -3.8,0M589.7,757.6a1.9,1.9 0 1,0 3.8,0a1.9,1.9 0 1,0 -3.8,0M595.7,760.4a1.9,1.9 0 1,0 3.8,0a1.9,1.9 0 1,0 -3.8,0M592.7,764.6a1.9,1.9 0 1,0 3.8,0a1.9,1.9 0 1,0 -3.8,0M586.7,767.4a1.9,1.9 0 1,0 3.8,0a1.9,1.9 0 1,0 -3.8,0M598.7,767.4a1.9,1.9 0 1,0 3.8,0a1.9,1.9 0 1,0 -3.8,0M592.7,770.2a1.9,1.9 0 1,0 3.8,0a1.9,1.9 0 1,0 -3.8,0M589.7,773.0a1.9,1.9 0 1,0 3.8,0a1.9,1.9 0 1,0 -3.8,0M595.7,775.8a1.9,1.9 0 1,0 3.8,0a1.9,1.9 0 1,0 -3.8,0M592.7,780.1a1.9,1.9 0 1,0 3.8,0a1.9,1.9 0 1,0 -3.8,0M589.7,784.3a1.9,1.9 0 1,0 3.8,0a1.9,1.9 0 1,0 -3.8,0M592.7,788.5a1.9,1.9 0 1,0 3.8,0a1.9,1.9 0 1,0 -3.8,0" fill="none" stroke="#fc8d62" stroke-width="0.8"/>
<path d="M594.6,774.3V767.5M591.6,767.5h6M591.6,774.3h6M589.6,770.9h10" stroke="#fc8d62" stroke-width="1" fill="none"/>
<text x="597.5" y="843.8" font-size="9.0" text-anchor="end" transform="rotate(-41 597.5 843.8)" fill="#231f20" stroke="#231f20" stroke-width="0.12">C57/A-E</text>
<rect x="609.3" y="788.5" width="14.4" height="40.8" fill="none" stroke="#8da0cb" stroke-width="1" stroke-opacity="0.85"/>
<line x1="616.5" y1="830.0" x2="616.5" y2="834.1" stroke="#555" stroke-width="1"/>
<path d="M608.6,778.7a1.9,1.9 0 1,0 3.8,0a1.9,1.9 0 1,0 -3.8,0M614.6,774.4a1.9,1.9 0 1,0 3.8,0a1.9,1.9 0 1,0 -3.8,0M620.6,780.1a1.9,1.9 0 1,0 3.8,0a1.9,1.9 0 1,0 -3.8,0M611.6,782.9a1.9,1.9 0 1,0 3.8,0a1.9,1.9 0 1,0 -3.8,0M617.6,784.3a1.9,1.9 0 1,0 3.8,0a1.9,1.9 0 1,0 -3.8,0M614.6,787.1a1.9,1.9 0 1,0 3.8,0a1.9,1.9 0 1,0 -3.8,0M608.6,789.9a1.9,1.9 0 1,0 3.8,0a1.9,1.9 0 1,0 -3.8,0M620.6,791.3a1.9,1.9 0 1,0 3.8,0a1.9,1.9 0 1,0 -3.8,0M614.6,792.7a1.9,1.9 0 1,0 3.8,0a1.9,1.9 0 1,0 -3.8,0M611.6,796.9a1.9,1.9 0 1,0 3.8,0a1.9,1.9 0 1,0 -3.8,0M620.6,798.4a1.9,1.9 0 1,0 3.8,0a1.9,1.9 0 1,0 -3.8,0M608.6,798.4a1.9,1.9 0 1,0 3.8,0a1.9,1.9 0 1,0 -3.8,0" fill="none" stroke="#8da0cb" stroke-width="0.8"/>
<path d="M616.5,791.0V786.0M613.5,786.0h6M613.5,791.0h6M611.5,788.5h10" stroke="#8da0cb" stroke-width="1" fill="none"/>
<text x="619.4" y="843.8" font-size="9.0" text-anchor="end" transform="rotate(-41 619.4 843.8)" fill="#231f20" stroke="#231f20" stroke-width="0.12">FAD/vehicle</text>
<rect x="631.1" y="775.8" width="14.4" height="53.5" fill="none" stroke="#e78ac3" stroke-width="1" stroke-opacity="0.85"/>
<line x1="638.3" y1="830.0" x2="638.3" y2="834.1" stroke="#555" stroke-width="1"/>
<path d="M630.4,766.0a1.9,1.9 0 1,0 3.8,0a1.9,1.9 0 1,0 -3.8,0M636.4,761.8a1.9,1.9 0 1,0 3.8,0a1.9,1.9 0 1,0 -3.8,0M642.4,767.4a1.9,1.9 0 1,0 3.8,0a1.9,1.9 0 1,0 -3.8,0M633.4,770.2a1.9,1.9 0 1,0 3.8,0a1.9,1.9 0 1,0 -3.8,0M639.4,773.0a1.9,1.9 0 1,0 3.8,0a1.9,1.9 0 1,0 -3.8,0M636.4,775.8a1.9,1.9 0 1,0 3.8,0a1.9,1.9 0 1,0 -3.8,0M630.4,777.3a1.9,1.9 0 1,0 3.8,0a1.9,1.9 0 1,0 -3.8,0M642.4,778.7a1.9,1.9 0 1,0 3.8,0a1.9,1.9 0 1,0 -3.8,0M636.4,780.1a1.9,1.9 0 1,0 3.8,0a1.9,1.9 0 1,0 -3.8,0M633.4,782.9a1.9,1.9 0 1,0 3.8,0a1.9,1.9 0 1,0 -3.8,0M639.4,785.7a1.9,1.9 0 1,0 3.8,0a1.9,1.9 0 1,0 -3.8,0M636.4,788.5a1.9,1.9 0 1,0 3.8,0a1.9,1.9 0 1,0 -3.8,0" fill="none" stroke="#e78ac3" stroke-width="0.8"/>
<path d="M638.3,778.9V772.8M635.3,772.8h6M635.3,778.9h6M633.3,775.8h10" stroke="#e78ac3" stroke-width="1" fill="none"/>
<text x="641.2" y="843.8" font-size="9.0" text-anchor="end" transform="rotate(-41 641.2 843.8)" fill="#231f20" stroke="#231f20" stroke-width="0.12">FDA/A-E</text>
<line x1="553.3" y1="744.4" x2="553.3" y2="829.3" stroke="#ababab" stroke-width="1.2"/>
<line x1="548.9" y1="829.3" x2="659.0" y2="829.3" stroke="#b0b0b0" stroke-width="1.4"/>
<polyline points="572.8,747.8 572.8,741.0 614.8,741.0 614.8,747.8" fill="none" stroke="#444444" stroke-width="0.9"/>
<text x="594.6" y="743.2" font-size="14" text-anchor="middle" fill="#231f20" stroke="#231f20" stroke-width="0.12">**</text>
<polyline points="617.5,747.8 617.5,741.0 638.3,741.0 638.3,747.8" fill="none" stroke="#444444" stroke-width="0.9"/>
<text x="628.7" y="743.2" font-size="14" text-anchor="middle" fill="#231f20" stroke="#231f20" stroke-width="0.12">*</text>
<polyline points="594.6,731.8 594.6,725.4 638.3,725.4 638.3,731.8" fill="none" stroke="#444444" stroke-width="0.9"/>
<text x="617.0" y="722.7" font-size="9.2" text-anchor="middle" textLength="11.0" lengthAdjust="spacingAndGlyphs" fill="#231f20" stroke="#231f20" stroke-width="0.12">NS</text>
</svg></body></html>
